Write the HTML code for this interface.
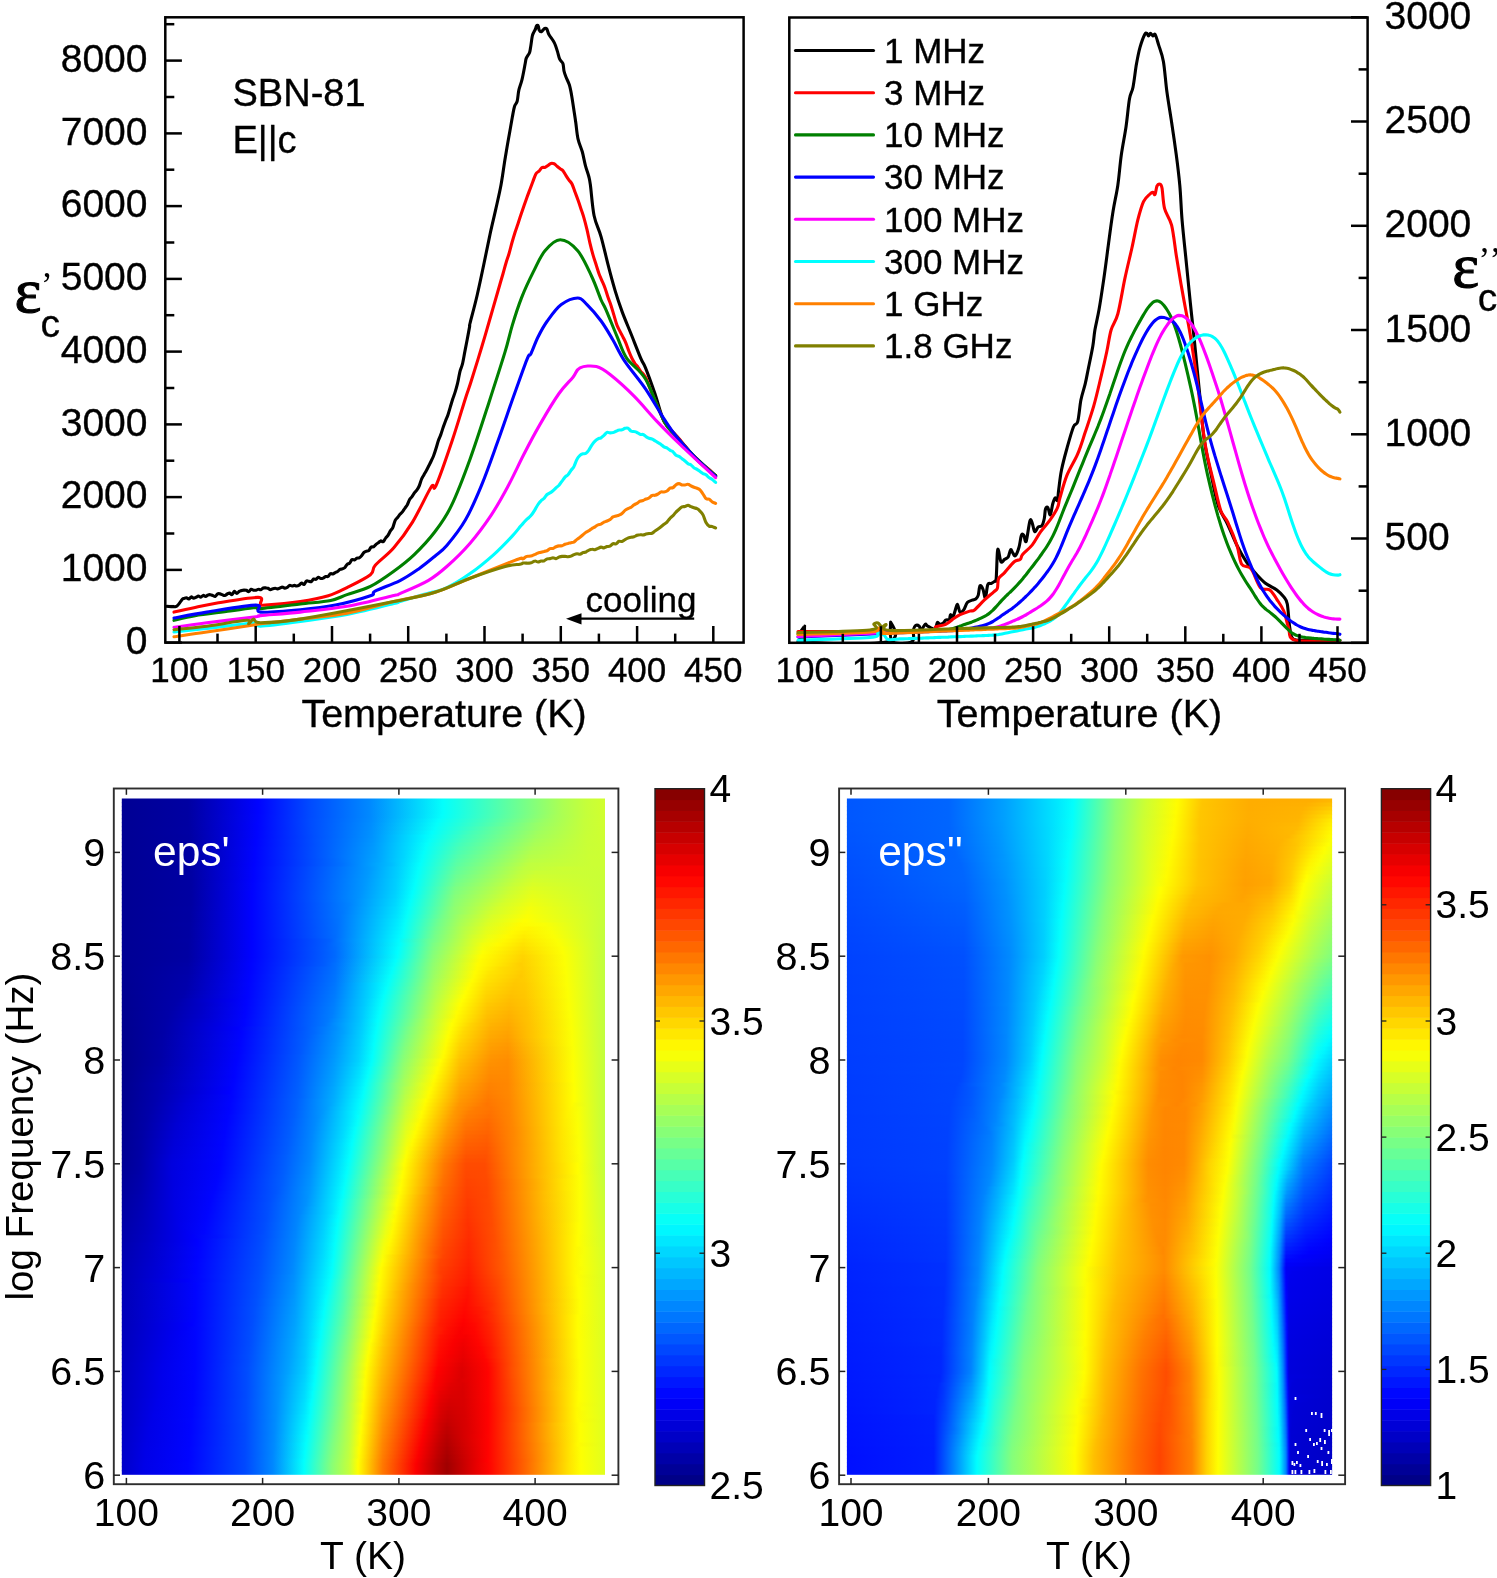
<!DOCTYPE html>
<html><head><meta charset="utf-8"><style>
html,body{margin:0;padding:0;background:#fff;}
svg{display:block;font-family:"Liberation Sans", sans-serif;will-change:transform;}
</style></head><body>
<svg width="1497" height="1578" viewBox="0 0 1497 1578">
<defs>
<clipPath id="clipL"><rect x="165.3" y="17.3" width="578.3" height="625.3"/></clipPath>
<clipPath id="clipR"><rect x="789.3" y="17.5" width="578.3" height="625.3"/></clipPath>
</defs>
<g clip-path="url(#clipL)"><path d="M167.0,606.3C168.6,606.3 173.9,607.5 176.4,606.3C178.9,605.1 180.9,600.6 182.2,599.3C183.5,598.0 183.3,598.8 184.0,598.5C184.7,598.3 185.6,597.6 186.4,597.7C187.2,597.8 188.0,599.2 188.8,599.0C189.6,598.9 190.4,597.1 191.2,596.9C192.0,596.8 192.8,598.1 193.6,598.1C194.4,598.2 195.2,597.6 196.0,597.3C196.8,597.0 197.6,596.1 198.4,596.0C199.2,596.0 200.0,597.3 200.8,597.2C201.6,597.1 202.4,595.6 203.2,595.4C204.0,595.3 204.8,596.5 205.6,596.4C206.4,596.3 207.2,595.2 208.0,595.0C208.8,594.7 209.6,594.6 210.4,594.7C211.2,594.8 212.0,595.2 212.8,595.5C213.6,595.7 214.4,596.7 215.2,596.4C216.0,596.2 216.8,594.3 217.6,593.9C218.4,593.4 219.2,593.7 220.0,593.9C220.8,594.0 221.6,594.6 222.4,594.8C223.2,595.1 224.0,595.7 224.8,595.5C225.6,595.4 226.4,594.4 227.2,594.0C228.0,593.6 228.8,593.0 229.6,593.1C230.4,593.2 231.2,594.9 232.0,594.6C232.8,594.3 233.6,591.5 234.4,591.3C235.2,591.1 236.0,593.5 236.8,593.5C237.6,593.6 238.4,591.9 239.2,591.4C240.0,590.9 240.8,590.8 241.6,590.5C242.4,590.3 243.2,590.1 244.0,590.1C244.8,590.1 245.6,590.1 246.4,590.3C247.2,590.6 248.0,591.8 248.8,591.6C249.6,591.4 250.4,589.5 251.2,589.2C252.0,589.0 252.8,590.0 253.6,590.2C254.4,590.3 255.2,590.4 256.0,590.2C256.8,590.1 257.6,589.3 258.4,589.3C259.2,589.2 260.0,589.9 260.8,589.7C261.6,589.5 262.4,588.3 263.2,588.0C264.0,587.7 264.8,587.9 265.6,587.9C266.4,588.0 267.2,588.0 268.0,588.3C268.8,588.6 269.6,589.6 270.4,589.7C271.2,589.8 272.0,589.0 272.8,588.8C273.6,588.5 274.4,588.3 275.2,588.3C276.0,588.3 276.8,589.0 277.6,588.9C278.4,588.9 279.2,588.3 280.0,588.0C280.8,587.7 281.6,587.0 282.4,587.1C283.2,587.1 284.0,588.1 284.8,588.2C285.6,588.2 286.4,587.8 287.2,587.4C288.0,586.9 288.8,585.7 289.6,585.4C290.4,585.2 291.2,586.0 292.0,586.0C292.8,586.0 293.6,585.4 294.4,585.4C295.2,585.4 296.0,586.1 296.8,586.0C297.6,586.0 298.4,585.6 299.2,585.1C300.0,584.6 300.8,583.1 301.6,583.0C302.4,582.9 303.2,584.9 304.0,584.5C304.8,584.2 305.6,581.6 306.4,581.1C307.2,580.5 308.0,581.2 308.8,581.3C309.6,581.4 310.4,582.0 311.2,581.7C312.0,581.3 312.8,579.4 313.6,579.0C314.4,578.6 315.2,579.7 316.0,579.4C316.8,579.1 317.6,577.4 318.4,577.2C319.2,577.1 320.0,578.4 320.8,578.5C321.6,578.7 322.4,578.4 323.2,578.1C324.0,577.8 324.8,576.8 325.6,576.5C326.4,576.3 327.2,577.0 328.0,576.5C328.8,576.0 329.6,574.1 330.4,573.7C331.2,573.2 332.0,574.1 332.8,573.9C333.6,573.7 334.4,573.0 335.2,572.6C336.0,572.2 336.8,572.0 337.6,571.5C338.4,571.0 339.2,569.8 340.0,569.4C340.8,569.0 341.6,569.2 342.4,568.9C343.2,568.6 344.0,568.3 344.8,567.6C345.6,566.8 346.4,565.1 347.2,564.3C348.0,563.6 348.8,564.0 349.6,563.2C350.4,562.4 351.2,560.1 352.0,559.6C352.8,559.0 353.6,560.2 354.4,560.0C355.2,559.7 356.0,558.6 356.8,558.2C357.6,557.9 358.4,558.2 359.2,557.8C360.0,557.4 360.8,556.6 361.6,555.7C362.4,554.8 363.2,553.2 364.0,552.4C364.8,551.7 365.6,551.5 366.4,551.2C367.2,550.9 368.0,551.3 368.8,550.6C369.6,549.9 370.4,547.6 371.2,547.0C372.0,546.3 372.8,547.3 373.6,546.8C374.4,546.4 375.2,545.0 376.0,544.4C376.8,543.7 377.6,543.2 378.4,542.7C379.2,542.1 380.0,541.1 380.8,540.9C381.6,540.8 382.4,542.1 383.2,541.7C384.0,541.2 384.8,539.1 385.6,538.1C386.4,537.0 387.2,536.5 388.0,535.3C388.8,534.1 389.6,532.2 390.4,530.9C391.2,529.6 392.0,529.4 392.8,527.6C393.6,525.8 394.4,522.0 395.2,520.3C396.0,518.6 396.8,518.5 397.6,517.5C398.4,516.5 399.2,515.3 400.0,514.3C400.8,513.4 401.6,513.0 402.4,511.9C403.2,510.9 404.0,509.4 404.8,508.3C405.6,507.1 406.4,506.4 407.2,505.0C408.0,503.5 408.8,501.0 409.6,499.6C410.4,498.2 411.2,497.7 412.0,496.6C412.8,495.5 413.6,493.9 414.4,492.8C415.2,491.7 416.0,491.3 416.8,490.1C417.6,489.0 418.4,487.8 419.2,486.0C420.0,484.1 420.8,480.9 421.6,479.0C422.4,477.2 423.2,476.2 424.0,474.7C424.8,473.3 425.6,472.0 426.4,470.5C427.2,469.1 428.0,467.4 428.8,465.8C429.6,464.2 430.4,462.7 431.2,461.0C432.0,459.4 432.8,457.9 433.6,455.8C434.4,453.7 435.2,451.1 436.0,448.5C436.8,446.0 437.6,442.8 438.4,440.5C439.2,438.2 440.0,436.8 440.8,434.6C441.6,432.4 442.4,429.6 443.2,427.3C444.0,425.0 444.8,422.8 445.6,420.7C446.4,418.6 447.2,417.1 448.0,414.7C448.8,412.4 449.6,409.3 450.4,406.6C451.2,404.0 452.0,401.3 452.8,398.8C453.6,396.4 454.4,394.5 455.2,391.9C456.0,389.3 456.8,386.6 457.6,383.2C458.4,379.8 459.2,374.5 460.0,371.3C460.8,368.2 461.6,367.4 462.4,364.2C463.2,360.9 464.0,356.0 464.8,351.9C465.6,347.8 466.4,343.7 467.2,339.5C468.0,335.3 469.1,329.4 469.6,326.6C470.1,323.8 468.8,328.3 470.1,323.0C471.4,317.7 474.9,305.1 477.2,295.0C479.5,284.9 482.1,272.6 484.2,262.5C486.3,252.4 488.1,243.5 490.0,234.5C491.9,225.5 494.1,216.9 495.9,208.7C497.7,200.4 499.5,193.1 501.0,185.0C502.5,176.9 503.6,168.1 504.8,160.4C506.1,152.7 507.2,146.0 508.5,138.8C509.8,131.6 511.3,122.7 512.3,117.3C513.3,111.9 513.7,109.2 514.5,106.5C515.3,103.8 516.5,103.9 517.2,101.2C517.9,98.5 518.0,94.0 518.8,90.4C519.6,86.8 520.9,84.1 522.0,79.6C523.1,75.1 524.5,67.1 525.2,63.5C525.9,59.9 525.6,59.9 526.3,58.1C527.0,56.3 528.8,54.5 529.5,52.7C530.2,50.9 530.1,50.0 530.6,47.3C531.1,44.6 531.7,39.0 532.2,36.5C532.7,34.0 533.2,33.5 533.8,32.2C534.3,31.0 535.0,30.1 535.5,29.0C536.0,27.9 536.0,26.3 536.5,25.8C537.0,25.3 537.8,25.1 538.2,25.8C538.7,26.5 538.7,29.1 539.2,30.1C539.7,31.1 540.5,32.0 541.4,31.7C542.3,31.4 543.7,28.9 544.6,28.5C545.5,28.1 546.1,28.0 546.8,29.0C547.5,30.0 547.8,32.4 548.9,34.4C550.0,36.4 552.1,39.0 553.2,40.8C554.3,42.6 554.7,43.4 555.4,45.2C556.1,47.0 556.8,49.3 557.5,51.6C558.2,53.9 558.8,57.2 559.7,59.2C560.6,61.2 562.2,61.5 562.9,63.5C563.6,65.5 563.5,68.7 564.0,71.0C564.5,73.3 565.3,75.2 566.2,77.5C567.1,79.8 568.5,82.1 569.4,85.0C570.3,87.9 570.8,90.8 571.5,94.7C572.2,98.7 573.0,104.0 573.7,108.7C574.4,113.4 575.1,117.7 575.8,122.7C576.5,127.7 576.9,134.0 578.0,138.8C579.1,143.7 581.0,147.3 582.3,151.8C583.5,156.3 584.4,161.7 585.5,165.8C586.6,169.9 588.0,173.3 588.8,176.5C589.6,179.7 589.5,178.5 590.4,185.0C591.3,191.5 592.3,207.1 594.1,215.7C595.9,224.3 598.8,228.6 601.1,236.8C603.4,245.0 605.8,255.9 608.1,264.9C610.4,273.9 612.8,282.8 615.1,290.6C617.4,298.4 619.4,304.2 622.1,311.6C624.8,319.0 628.4,327.2 631.5,335.0C634.6,342.8 638.5,352.9 640.8,358.4C643.1,363.9 643.1,361.9 645.5,367.8C647.9,373.7 651.8,384.5 654.9,393.5C658.0,402.5 660.7,414.6 664.2,421.6C667.7,428.6 670.8,429.8 675.9,435.6C681.0,441.4 688.0,450.0 694.6,456.6C701.2,463.2 712.1,472.3 715.6,475.4" fill="none" stroke="#000000" stroke-width="3.1" stroke-linejoin="round" stroke-linecap="round"/><path d="M174.0,612.1C177.5,611.3 187.7,609.0 195.1,607.5C202.5,606.0 208.0,604.5 218.5,602.8C229.0,601.1 251.2,597.2 258.2,597.4C265.2,597.6 259.3,602.7 260.5,604.0C261.7,605.3 258.6,605.5 265.2,605.1C271.8,604.7 289.8,603.2 300.3,601.6C310.8,600.0 320.5,598.1 328.3,595.8C336.1,593.5 340.0,591.1 347.0,587.6C354.0,584.1 365.7,578.4 370.4,574.7C375.1,571.0 371.2,569.9 375.1,565.4C379.0,560.9 387.6,555.0 393.8,547.8C400.0,540.6 406.3,532.2 412.5,522.1C418.7,512.0 427.3,493.0 431.2,487.0C435.1,481.0 432.4,493.7 435.9,485.9C439.4,478.1 447.4,454.9 452.3,440.3C457.2,425.7 462.4,407.9 465.5,398.2C468.6,388.4 468.3,390.4 471.0,381.8C473.7,373.2 478.3,358.5 481.8,346.8C485.3,335.1 489.0,322.2 492.0,311.7C495.0,301.2 498.2,290.3 500.0,284.0C501.8,277.6 502.0,277.2 503.0,273.7C504.0,270.2 505.0,266.3 506.0,263.0C507.0,259.6 508.0,257.1 509.0,253.7C510.0,250.3 511.0,246.1 512.0,242.5C513.0,239.0 514.0,235.7 515.0,232.5C516.0,229.4 517.0,226.7 518.0,223.7C519.0,220.7 520.0,217.5 521.0,214.6C522.0,211.6 523.0,208.7 524.0,205.8C525.0,203.0 526.0,200.1 527.0,197.3C528.0,194.5 529.0,191.9 530.0,189.2C531.0,186.5 532.0,183.8 533.0,181.2C534.0,178.6 535.0,175.4 536.0,173.7C537.0,172.0 538.0,172.2 539.0,171.2C540.0,170.1 541.0,168.2 542.0,167.5C543.0,166.9 544.0,167.7 545.0,167.4C546.0,167.0 547.0,166.1 548.0,165.4C549.0,164.7 550.0,163.7 551.0,163.4C552.0,163.1 553.0,163.3 554.0,163.7C555.0,164.2 556.0,165.3 557.0,166.2C558.0,167.0 559.0,167.9 560.0,168.6C561.0,169.4 562.0,169.5 563.0,170.7C564.0,171.9 565.0,174.1 566.0,175.6C567.0,177.2 568.0,178.7 569.0,180.1C570.0,181.5 571.0,182.0 572.0,184.0C573.0,185.9 574.0,189.3 575.0,192.0C576.0,194.7 577.0,197.2 578.0,200.1C579.0,202.9 580.0,205.9 581.0,208.9C582.0,211.9 583.0,214.6 584.0,218.1C585.0,221.5 586.0,225.5 587.0,229.7C588.0,233.9 589.0,239.2 590.0,243.4C591.0,247.6 592.0,251.5 593.0,254.9C594.0,258.4 595.0,261.1 596.0,264.3C597.0,267.4 598.0,271.0 599.0,273.7C600.0,276.5 601.0,278.4 602.0,280.8C603.0,283.1 604.0,285.1 605.0,287.9C606.0,290.6 607.0,294.4 608.0,297.3C609.0,300.2 610.0,302.4 611.0,305.4C612.0,308.5 613.0,312.1 614.0,315.4C615.0,318.7 616.0,322.6 617.0,325.3C618.0,327.9 619.0,329.4 620.0,331.4C621.0,333.4 622.0,335.1 623.0,337.1C624.0,339.1 625.0,340.9 626.0,343.3C627.0,345.7 628.0,348.9 629.0,351.5C630.0,354.0 631.0,356.5 632.0,358.5C633.0,360.5 634.0,362.1 635.0,363.6C636.0,365.0 637.0,365.8 638.0,367.2C639.0,368.5 640.0,370.4 641.0,371.7C642.0,372.9 643.0,373.4 644.0,374.9C645.0,376.3 646.0,378.0 647.0,380.3C648.0,382.5 649.0,385.8 650.0,388.4C651.0,391.0 652.0,393.5 653.0,395.9C654.0,398.3 655.0,400.4 656.0,402.8C657.0,405.1 658.0,407.4 659.0,409.8C660.0,412.2 661.0,414.7 662.0,416.9C663.0,419.2 664.0,421.5 665.0,423.0C666.0,424.5 667.0,424.6 668.0,425.8C669.0,426.9 670.0,428.7 671.0,430.0C672.0,431.3 673.0,432.3 674.0,433.4C675.0,434.5 676.0,435.3 677.0,436.4C678.0,437.4 679.0,438.6 680.0,439.8C681.0,441.0 682.0,442.4 683.0,443.6C684.0,444.8 685.0,445.7 686.0,446.9C687.0,448.2 688.0,449.7 689.0,451.1C690.0,452.4 691.0,453.9 692.0,454.9C693.0,455.9 694.0,456.3 695.0,457.3C696.0,458.3 697.0,459.8 698.0,460.9C699.0,461.9 700.0,462.8 701.0,463.7C702.0,464.6 703.0,465.6 704.0,466.3C705.0,467.0 706.0,467.3 707.0,468.0C708.0,468.7 708.6,469.1 710.0,470.4C711.4,471.8 714.7,475.1 715.6,476.0" fill="none" stroke="#ff0000" stroke-width="3.1" stroke-linejoin="round" stroke-linecap="round"/><path d="M174.0,620.3C177.5,619.5 185.8,617.1 195.1,615.6C204.4,614.1 220.0,612.4 230.1,611.0C240.2,609.6 250.8,607.9 255.9,607.5C261.0,607.1 253.1,609.2 260.5,608.6C267.9,608.0 288.6,605.4 300.3,604.0C312.0,602.6 322.9,602.0 330.7,600.4C338.5,598.8 340.4,596.9 347.0,594.6C353.6,592.3 362.6,590.3 370.4,586.4C378.2,582.5 386.5,576.5 393.8,571.2C401.1,565.9 407.1,561.4 414.0,554.8C420.9,548.2 428.9,539.7 435.1,531.5C441.3,523.3 445.6,517.8 451.4,505.7C457.2,493.6 463.9,476.1 470.1,459.0C476.3,441.9 483.0,420.8 488.8,402.9C494.6,385.0 501.3,364.3 505.2,351.4C509.1,338.5 509.5,334.6 512.2,325.6C514.9,316.6 518.1,306.6 521.6,297.6C525.1,288.7 529.4,279.7 533.3,271.9C537.2,264.1 540.5,256.1 545.0,250.8C549.5,245.5 554.8,239.8 560.2,239.8C565.7,239.8 572.5,244.7 577.7,250.8C583.0,256.9 587.8,268.3 591.7,276.5C595.6,284.7 598.8,294.5 601.1,300.0C603.5,305.5 603.1,303.1 605.8,309.3C608.5,315.5 613.9,329.1 617.4,337.3C620.9,345.5 622.1,351.4 626.8,358.4C631.5,365.3 639.3,368.5 645.5,379.0C651.7,389.5 659.1,412.1 664.2,421.6C669.3,431.1 670.8,430.1 675.9,436.0C681.0,441.9 688.0,450.3 694.6,457.0C701.2,463.7 712.1,472.8 715.6,476.0" fill="none" stroke="#008000" stroke-width="3.1" stroke-linejoin="round" stroke-linecap="round"/><path d="M174.0,618.0C179.5,617.0 193.2,614.2 206.8,612.1C220.5,610.0 247.0,605.1 255.9,605.1C264.9,605.1 253.1,611.3 260.5,612.1C267.9,612.9 287.8,611.0 300.3,609.8C312.8,608.6 323.7,607.4 335.4,605.1C347.1,602.8 363.8,598.1 370.4,595.8C377.0,593.5 370.2,593.6 375.1,591.1C380.0,588.6 392.7,584.3 400.0,580.6C407.3,576.9 412.8,573.0 418.7,568.9C424.6,564.8 430.4,559.9 435.1,556.0C439.8,552.1 441.7,551.5 446.8,545.5C451.9,539.5 459.7,529.9 465.5,519.8C471.3,509.7 476.4,497.9 481.8,484.7C487.2,471.4 492.7,455.5 498.2,440.3C503.7,425.1 509.7,407.1 514.6,393.5C519.5,379.9 524.7,365.0 527.4,358.4C530.1,351.8 529.1,357.3 530.9,353.8C532.6,350.3 535.2,342.8 537.9,337.3C540.6,331.8 543.4,326.4 547.3,321.0C551.2,315.6 556.2,308.4 561.3,304.6C566.4,300.8 573.4,298.0 577.7,298.0C582.0,298.0 583.1,300.8 587.0,304.6C590.9,308.4 596.8,315.1 601.1,321.0C605.4,326.9 608.9,333.1 612.8,339.7C616.7,346.3 619.0,352.6 624.5,360.8C630.0,369.0 638.9,379.1 645.5,388.8C652.1,398.5 659.1,411.3 664.2,419.2C669.3,427.1 670.8,429.7 675.9,436.0C681.0,442.3 688.0,450.2 694.6,457.0C701.2,463.8 712.1,473.2 715.6,476.5" fill="none" stroke="#0000ff" stroke-width="3.1" stroke-linejoin="round" stroke-linecap="round"/><path d="M174.0,627.3C179.5,626.5 193.2,624.5 206.8,622.7C220.5,621.0 247.0,618.0 255.9,616.8C264.9,615.6 253.1,616.4 260.5,615.6C267.9,614.8 285.9,613.7 300.3,612.1C314.7,610.5 331.4,609.1 347.0,606.3C362.6,603.5 385.0,597.6 393.8,595.5C402.6,593.4 394.3,596.1 400.0,593.6C405.7,591.1 420.3,585.1 428.1,580.6C435.9,576.1 439.8,572.7 446.8,566.5C453.8,560.3 462.7,551.8 470.1,543.2C477.5,534.6 484.9,524.5 491.2,515.1C497.4,505.7 502.2,497.1 507.6,487.0C513.1,476.9 518.5,464.8 523.9,454.3C529.3,443.8 534.4,434.0 540.3,423.9C546.1,413.8 553.5,401.3 559.0,393.5C564.5,385.7 569.5,381.5 573.0,377.2C576.5,372.9 576.1,369.6 580.0,367.8C583.9,366.0 591.3,365.4 596.4,366.6C601.5,367.8 604.2,369.9 610.4,374.8C616.6,379.7 626.0,388.1 633.8,395.9C641.6,403.7 649.4,413.4 657.2,421.6C665.0,429.8 670.9,435.6 680.6,445.0C690.3,454.4 709.8,472.2 715.6,477.7" fill="none" stroke="#ff00ff" stroke-width="3.1" stroke-linejoin="round" stroke-linecap="round"/><path d="M174.0,632.0C179.5,631.4 193.2,630.0 206.8,628.5C220.5,627.0 247.0,623.1 255.9,622.7C264.9,622.3 253.1,626.4 260.5,626.2C267.9,626.0 285.9,623.5 300.3,621.5C314.7,619.5 331.4,617.5 347.0,614.5C362.6,611.5 385.0,605.7 393.8,603.5C402.6,601.3 395.1,603.0 400.0,601.5C404.9,600.0 415.6,596.9 423.4,594.6C431.2,592.3 439.0,591.1 446.8,587.6C454.6,584.1 462.3,579.1 470.1,573.6C477.9,568.1 486.5,561.0 493.5,554.8C500.5,548.5 507.8,540.8 512.2,536.1C516.6,531.4 518.2,529.0 520.0,526.8C521.8,524.7 522.0,524.6 523.0,523.4C524.0,522.3 525.0,521.1 526.0,520.1C527.0,519.1 528.0,518.4 529.0,517.5C530.0,516.5 531.0,515.5 532.0,514.2C533.0,512.9 534.0,511.2 535.0,509.6C536.0,508.0 537.0,506.0 538.0,504.5C539.0,503.0 540.0,501.8 541.0,500.8C542.0,499.7 543.0,499.4 544.0,498.4C545.0,497.3 546.0,495.4 547.0,494.5C548.0,493.6 549.0,493.5 550.0,492.9C551.0,492.3 552.0,491.5 553.0,490.7C554.0,489.9 555.0,488.8 556.0,487.8C557.0,486.9 558.0,486.3 559.0,485.2C560.0,484.0 561.0,482.5 562.0,481.1C563.0,479.8 564.0,478.2 565.0,477.1C566.0,476.0 567.0,475.8 568.0,474.7C569.0,473.6 570.0,471.7 571.0,470.3C572.0,469.0 573.0,468.2 574.0,466.4C575.0,464.5 576.0,461.0 577.0,459.2C578.0,457.3 579.0,456.2 580.0,455.3C581.0,454.4 582.0,454.1 583.0,453.8C584.0,453.5 585.0,454.0 586.0,453.3C587.0,452.6 588.0,451.2 589.0,449.8C590.0,448.3 591.0,446.2 592.0,444.8C593.0,443.4 594.0,442.2 595.0,441.2C596.0,440.2 597.0,439.4 598.0,438.9C599.0,438.3 600.0,438.4 601.0,437.8C602.0,437.2 603.0,436.2 604.0,435.3C605.0,434.4 606.0,432.8 607.0,432.4C608.0,432.0 609.0,432.9 610.0,432.9C611.0,433.0 612.0,432.8 613.0,432.6C614.0,432.3 615.0,431.7 616.0,431.3C617.0,430.9 618.0,430.3 619.0,430.1C620.0,429.8 621.0,430.1 622.0,429.8C623.0,429.5 624.0,428.6 625.0,428.3C626.0,428.1 627.0,427.7 628.0,428.2C629.0,428.6 630.0,430.5 631.0,431.0C632.0,431.6 633.0,431.3 634.0,431.6C635.0,431.8 636.0,432.0 637.0,432.5C638.0,432.9 639.0,434.0 640.0,434.3C641.0,434.7 642.0,434.2 643.0,434.5C644.0,434.9 645.0,435.9 646.0,436.6C647.0,437.2 648.0,437.9 649.0,438.3C650.0,438.7 651.0,438.5 652.0,439.0C653.0,439.4 654.0,440.2 655.0,440.8C656.0,441.5 657.0,442.1 658.0,442.7C659.0,443.3 660.0,443.7 661.0,444.4C662.0,445.1 663.0,446.2 664.0,446.8C665.0,447.4 666.0,447.5 667.0,448.0C668.0,448.6 669.0,449.6 670.0,450.2C671.0,450.9 672.0,451.0 673.0,451.8C674.0,452.7 675.0,454.5 676.0,455.3C677.0,456.1 678.0,455.9 679.0,456.4C680.0,457.0 681.0,457.9 682.0,458.7C683.0,459.5 684.0,460.2 685.0,461.0C686.0,461.9 687.0,463.1 688.0,463.7C689.0,464.4 690.0,464.2 691.0,464.9C692.0,465.7 693.0,467.2 694.0,467.9C695.0,468.7 696.0,468.7 697.0,469.3C698.0,469.9 699.0,470.8 700.0,471.5C701.0,472.2 702.0,473.0 703.0,473.6C704.0,474.1 705.0,474.1 706.0,474.8C707.0,475.5 708.0,476.9 709.0,477.6C710.0,478.4 710.9,478.5 712.0,479.3C713.1,480.1 715.0,481.9 715.6,482.4" fill="none" stroke="#00ffff" stroke-width="3.1" stroke-linejoin="round" stroke-linecap="round"/><path d="M174.0,636.7C179.5,635.9 193.6,634.0 206.8,632.0C220.1,630.0 244.6,626.4 253.5,625.0C262.4,623.6 252.7,624.8 260.5,623.8C268.3,622.8 285.9,620.9 300.3,619.1C314.7,617.4 331.4,616.2 347.0,613.3C362.6,610.4 379.1,605.1 393.8,601.6C408.5,598.1 422.4,596.2 435.1,592.3C447.8,588.4 458.4,582.9 470.1,578.2C481.8,573.5 496.9,567.5 505.2,564.2C513.5,560.9 517.0,559.3 520.0,558.4C523.0,557.5 522.0,559.1 523.0,558.8C524.0,558.5 525.0,557.1 526.0,556.7C527.0,556.2 528.0,556.4 529.0,556.2C530.0,556.1 531.0,556.0 532.0,555.7C533.0,555.4 534.0,554.8 535.0,554.4C536.0,553.9 537.0,553.3 538.0,553.0C539.0,552.6 540.0,552.6 541.0,552.3C542.0,552.0 543.0,551.6 544.0,551.4C545.0,551.1 546.0,551.2 547.0,550.8C548.0,550.3 549.0,549.0 550.0,548.6C551.0,548.2 552.0,548.7 553.0,548.4C554.0,548.1 555.0,547.2 556.0,546.8C557.0,546.4 558.0,546.0 559.0,545.9C560.0,545.7 561.0,546.0 562.0,545.8C563.0,545.5 564.0,544.7 565.0,544.3C566.0,543.9 567.0,543.6 568.0,543.4C569.0,543.1 570.0,543.0 571.0,542.7C572.0,542.5 573.0,542.6 574.0,542.0C575.0,541.5 576.0,540.2 577.0,539.4C578.0,538.6 579.0,538.1 580.0,537.3C581.0,536.5 582.0,535.5 583.0,534.7C584.0,533.9 585.0,533.0 586.0,532.3C587.0,531.6 588.0,531.3 589.0,530.7C590.0,530.0 591.0,529.1 592.0,528.4C593.0,527.8 594.0,527.4 595.0,526.8C596.0,526.2 597.0,525.3 598.0,524.9C599.0,524.4 600.0,524.6 601.0,524.1C602.0,523.7 603.0,522.7 604.0,522.2C605.0,521.7 606.0,521.5 607.0,521.0C608.0,520.6 609.0,520.3 610.0,519.6C611.0,519.0 612.0,517.5 613.0,516.9C614.0,516.3 615.0,516.3 616.0,516.0C617.0,515.7 618.0,515.6 619.0,515.1C620.0,514.7 621.0,514.3 622.0,513.5C623.0,512.7 624.0,511.2 625.0,510.4C626.0,509.6 627.0,509.1 628.0,508.6C629.0,508.1 630.0,508.0 631.0,507.3C632.0,506.7 633.0,505.5 634.0,504.9C635.0,504.2 636.0,504.0 637.0,503.4C638.0,502.8 639.0,501.7 640.0,501.2C641.0,500.8 642.0,500.9 643.0,500.5C644.0,500.1 645.0,499.4 646.0,499.0C647.0,498.6 648.0,498.6 649.0,498.0C650.0,497.4 651.0,495.9 652.0,495.5C653.0,495.0 654.0,495.5 655.0,495.3C656.0,495.0 657.0,494.5 658.0,494.0C659.0,493.4 660.0,492.2 661.0,491.9C662.0,491.5 663.0,492.2 664.0,492.0C665.0,491.9 666.0,491.6 667.0,491.0C668.0,490.4 669.0,488.8 670.0,488.2C671.0,487.6 672.0,488.2 673.0,487.6C674.0,487.0 675.0,485.4 676.0,484.7C677.0,484.0 678.0,483.6 679.0,483.6C680.0,483.6 681.0,484.6 682.0,484.9C683.0,485.1 684.0,485.1 685.0,485.0C686.0,484.9 687.0,484.1 688.0,484.3C689.0,484.4 690.0,485.4 691.0,485.9C692.0,486.5 693.0,486.9 694.0,487.3C695.0,487.7 696.0,487.8 697.0,488.2C698.0,488.6 699.0,488.8 700.0,489.8C701.0,490.7 702.0,492.5 703.0,494.0C704.0,495.5 705.0,497.8 706.0,498.7C707.0,499.6 708.0,498.7 709.0,499.2C710.0,499.7 710.9,501.0 712.0,501.7C713.1,502.4 715.0,503.1 715.6,503.4" fill="none" stroke="#ff8000" stroke-width="3.1" stroke-linejoin="round" stroke-linecap="round"/><path d="M174.0,629.7C179.5,629.1 194.7,627.8 206.8,626.2C218.9,624.6 239.5,620.7 246.5,620.3C253.5,619.9 247.6,624.0 248.8,623.8C250.0,623.6 251.6,619.3 253.5,619.1C255.4,618.9 252.7,622.7 260.5,622.7C268.3,622.7 278.1,622.6 300.3,619.1C322.5,615.6 371.3,606.1 393.8,601.6C416.3,597.1 422.4,596.2 435.1,592.3C447.8,588.4 458.4,582.5 470.1,578.2C481.8,573.9 496.9,568.8 505.2,566.5C513.5,564.2 517.0,564.8 520.0,564.2C523.0,563.6 522.0,563.2 523.0,563.0C524.0,562.8 525.0,563.1 526.0,563.1C527.0,563.1 528.0,563.3 529.0,563.1C530.0,563.0 531.0,562.7 532.0,562.4C533.0,562.0 534.0,561.0 535.0,561.0C536.0,560.9 537.0,562.0 538.0,562.0C539.0,562.0 540.0,561.3 541.0,561.1C542.0,560.9 543.0,561.3 544.0,560.9C545.0,560.6 546.0,559.2 547.0,558.9C548.0,558.5 549.0,558.8 550.0,558.6C551.0,558.5 552.0,557.8 553.0,557.7C554.0,557.7 555.0,558.7 556.0,558.6C557.0,558.5 558.0,557.5 559.0,557.1C560.0,556.8 561.0,556.5 562.0,556.4C563.0,556.3 564.0,556.3 565.0,556.4C566.0,556.5 567.0,556.8 568.0,556.8C569.0,556.7 570.0,556.5 571.0,556.1C572.0,555.7 573.0,555.0 574.0,554.6C575.0,554.2 576.0,553.8 577.0,553.7C578.0,553.6 579.0,554.3 580.0,554.2C581.0,554.0 582.0,553.0 583.0,552.6C584.0,552.3 585.0,552.4 586.0,552.0C587.0,551.5 588.0,550.5 589.0,550.1C590.0,549.6 591.0,549.3 592.0,549.3C593.0,549.2 594.0,549.8 595.0,549.7C596.0,549.5 597.0,548.9 598.0,548.4C599.0,548.0 600.0,547.2 601.0,547.1C602.0,547.0 603.0,548.0 604.0,547.9C605.0,547.8 606.0,546.9 607.0,546.6C608.0,546.3 609.0,546.6 610.0,546.1C611.0,545.7 612.0,544.1 613.0,543.7C614.0,543.3 615.0,544.3 616.0,543.9C617.0,543.5 618.0,541.7 619.0,541.3C620.0,540.9 621.0,541.8 622.0,541.5C623.0,541.2 624.0,540.1 625.0,539.6C626.0,539.0 627.0,538.5 628.0,538.1C629.0,537.8 630.0,537.5 631.0,537.3C632.0,537.1 633.0,537.2 634.0,536.8C635.0,536.5 636.0,535.7 637.0,535.3C638.0,534.9 639.0,534.7 640.0,534.7C641.0,534.6 642.0,535.1 643.0,535.0C644.0,534.9 645.0,534.4 646.0,534.1C647.0,533.9 648.0,533.7 649.0,533.5C650.0,533.4 651.0,533.7 652.0,533.3C653.0,532.8 654.0,531.7 655.0,531.0C656.0,530.3 657.0,529.6 658.0,528.9C659.0,528.2 660.0,527.5 661.0,526.7C662.0,525.9 663.0,525.1 664.0,524.3C665.0,523.5 666.0,523.1 667.0,522.1C668.0,521.1 669.0,519.3 670.0,518.3C671.0,517.2 672.0,516.6 673.0,515.6C674.0,514.6 675.0,513.1 676.0,512.1C677.0,511.0 678.0,510.3 679.0,509.4C680.0,508.5 681.0,507.4 682.0,506.9C683.0,506.4 684.0,506.8 685.0,506.5C686.0,506.3 687.0,505.3 688.0,505.3C689.0,505.4 690.0,506.2 691.0,506.6C692.0,507.0 693.0,507.5 694.0,507.8C695.0,508.2 696.0,508.1 697.0,508.7C698.0,509.2 699.0,510.0 700.0,511.1C701.0,512.1 702.0,513.0 703.0,514.9C704.0,516.8 705.0,520.7 706.0,522.6C707.0,524.4 708.0,525.4 709.0,526.1C710.0,526.7 710.9,526.2 712.0,526.5C713.1,526.8 715.0,527.8 715.6,528.0" fill="none" stroke="#808000" stroke-width="3.1" stroke-linejoin="round" stroke-linecap="round"/></g><rect x="165.3" y="17.3" width="578.3" height="625.3" fill="none" stroke="#000" stroke-width="2.5"/><line x1="179.4" y1="642.6" x2="179.4" y2="626.0" stroke="#000" stroke-width="2.5"/><line x1="217.5" y1="642.6" x2="217.5" y2="633.6" stroke="#000" stroke-width="2.5"/><line x1="255.7" y1="642.6" x2="255.7" y2="626.0" stroke="#000" stroke-width="2.5"/><line x1="293.8" y1="642.6" x2="293.8" y2="633.6" stroke="#000" stroke-width="2.5"/><line x1="332.0" y1="642.6" x2="332.0" y2="626.0" stroke="#000" stroke-width="2.5"/><line x1="370.1" y1="642.6" x2="370.1" y2="633.6" stroke="#000" stroke-width="2.5"/><line x1="408.2" y1="642.6" x2="408.2" y2="626.0" stroke="#000" stroke-width="2.5"/><line x1="446.4" y1="642.6" x2="446.4" y2="633.6" stroke="#000" stroke-width="2.5"/><line x1="484.5" y1="642.6" x2="484.5" y2="626.0" stroke="#000" stroke-width="2.5"/><line x1="522.6" y1="642.6" x2="522.6" y2="633.6" stroke="#000" stroke-width="2.5"/><line x1="560.8" y1="642.6" x2="560.8" y2="626.0" stroke="#000" stroke-width="2.5"/><line x1="598.9" y1="642.6" x2="598.9" y2="633.6" stroke="#000" stroke-width="2.5"/><line x1="637.1" y1="642.6" x2="637.1" y2="626.0" stroke="#000" stroke-width="2.5"/><line x1="675.2" y1="642.6" x2="675.2" y2="633.6" stroke="#000" stroke-width="2.5"/><line x1="713.3" y1="642.6" x2="713.3" y2="626.0" stroke="#000" stroke-width="2.5"/><text x="179.4" y="682.2" font-size="35" text-anchor="middle" fill="#000" stroke="#000" stroke-width="0.35">100</text><text x="255.7" y="682.2" font-size="35" text-anchor="middle" fill="#000" stroke="#000" stroke-width="0.35">150</text><text x="332.0" y="682.2" font-size="35" text-anchor="middle" fill="#000" stroke="#000" stroke-width="0.35">200</text><text x="408.2" y="682.2" font-size="35" text-anchor="middle" fill="#000" stroke="#000" stroke-width="0.35">250</text><text x="484.5" y="682.2" font-size="35" text-anchor="middle" fill="#000" stroke="#000" stroke-width="0.35">300</text><text x="560.8" y="682.2" font-size="35" text-anchor="middle" fill="#000" stroke="#000" stroke-width="0.35">350</text><text x="637.1" y="682.2" font-size="35" text-anchor="middle" fill="#000" stroke="#000" stroke-width="0.35">400</text><text x="713.3" y="682.2" font-size="35" text-anchor="middle" fill="#000" stroke="#000" stroke-width="0.35">450</text><g clip-path="url(#clipR)"><path d="M798.0,641.5C798.9,641.5 802.4,644.1 803.5,641.5C804.6,638.9 804.2,626.0 804.6,626.0C805.0,626.0 791.7,638.9 805.8,641.5C819.9,644.1 874.9,644.8 889.0,641.5C903.1,638.2 890.1,622.0 890.6,622.0C891.1,622.0 888.6,638.2 892.2,641.5C895.8,644.8 908.5,643.4 912.0,641.5C915.5,639.6 912.6,633.0 913.2,630.3C913.8,627.6 914.6,626.2 915.6,625.5C916.6,624.8 918.3,625.3 919.2,626.1C920.1,626.9 920.0,630.6 921.0,630.3C922.0,630.0 924.1,625.0 925.2,624.3C926.3,623.6 926.1,625.3 927.7,626.1C929.3,626.9 933.3,629.7 934.9,629.1C936.5,628.5 936.5,623.3 937.3,622.5C938.1,621.7 938.7,624.2 939.7,624.3C940.7,624.4 942.3,623.8 943.3,623.1C944.3,622.4 944.7,620.7 945.7,620.1C946.7,619.5 948.5,620.4 949.3,619.5C950.1,618.6 949.9,615.1 950.5,614.7C951.1,614.3 951.9,618.5 952.9,617.1C953.9,615.7 955.7,608.2 956.5,606.2C957.3,604.2 957.1,604.0 957.7,605.0C958.3,606.0 959.1,611.4 960.1,612.2C961.1,613.0 962.5,611.5 963.7,609.9C964.9,608.3 965.9,604.2 967.3,602.6C968.7,601.0 970.7,600.8 972.1,600.2C973.5,599.6 974.7,599.8 975.7,599.0C976.7,598.2 977.5,597.6 978.2,595.4C978.9,593.2 979.2,586.8 980.0,585.8C980.8,584.8 982.1,587.4 983.0,589.4C983.9,591.4 984.6,598.6 985.4,597.8C986.2,597.0 986.8,587.0 987.8,584.6C988.8,582.2 990.2,584.0 991.4,583.4C992.6,582.8 994.2,581.8 995.0,581.0C995.8,580.2 995.8,583.4 996.2,578.6C996.6,573.8 997.0,556.7 997.4,552.1C997.8,547.5 998.0,549.3 998.6,550.9C999.2,552.5 1000.0,560.4 1001.0,561.8C1002.0,563.2 1003.4,560.2 1004.6,559.4C1005.8,558.6 1007.2,558.6 1008.2,557.0C1009.2,555.4 1009.8,550.3 1010.6,549.7C1011.4,549.1 1012.2,552.3 1013.0,553.3C1013.8,554.3 1014.4,556.7 1015.4,555.7C1016.4,554.7 1018.0,550.7 1019.0,547.3C1020.0,543.9 1020.6,537.3 1021.4,535.3C1022.2,533.3 1023.0,534.3 1023.8,535.3C1024.6,536.3 1025.2,543.7 1026.2,541.3C1027.2,538.9 1028.9,523.9 1029.9,520.9C1030.9,517.9 1031.5,521.5 1032.3,523.3C1033.1,525.1 1033.7,531.1 1034.7,531.7C1035.7,532.3 1037.1,527.9 1038.3,526.9C1039.5,525.9 1040.9,527.1 1041.9,525.7C1042.9,524.3 1043.7,521.3 1044.3,518.5C1044.9,515.7 1044.9,510.7 1045.5,508.9C1046.1,507.1 1047.1,506.7 1047.9,507.7C1048.7,508.7 1049.5,515.5 1050.3,514.9C1051.1,514.3 1051.9,506.8 1052.7,504.0C1053.5,501.2 1054.3,498.6 1055.1,498.0C1055.9,497.4 1056.9,501.8 1057.5,500.4C1058.1,499.0 1058.0,494.7 1058.7,489.6C1059.4,484.5 1060.1,476.9 1061.5,470.0C1062.9,463.1 1064.9,455.7 1066.9,448.5C1068.9,441.3 1071.6,431.5 1073.4,427.0C1075.2,422.5 1076.5,426.1 1077.7,421.6C1079.0,417.1 1079.7,406.3 1080.9,400.0C1082.2,393.7 1083.9,389.3 1085.2,383.9C1086.5,378.5 1087.2,374.0 1088.5,367.7C1089.8,361.4 1091.7,352.5 1092.8,346.2C1093.9,339.9 1093.9,336.1 1094.9,330.0C1096.0,323.9 1097.6,317.8 1099.1,309.3C1100.6,300.8 1102.2,289.8 1103.8,278.9C1105.4,268.0 1107.0,255.1 1108.5,243.8C1110.0,232.5 1111.5,220.8 1113.1,211.1C1114.6,201.4 1116.4,194.8 1117.8,185.4C1119.2,176.1 1119.9,164.8 1121.3,155.0C1122.7,145.2 1124.6,136.3 1126.0,126.9C1127.4,117.5 1128.3,105.4 1129.5,98.8C1130.7,92.2 1131.8,93.0 1133.0,87.2C1134.2,81.4 1135.3,70.4 1136.5,63.8C1137.7,57.2 1138.6,52.3 1140.0,47.4C1141.4,42.5 1143.5,36.8 1144.7,34.5C1145.9,32.2 1146.4,33.2 1147.0,33.5C1147.6,33.8 1147.9,36.0 1148.5,36.0C1149.1,36.0 1149.8,33.4 1150.5,33.4C1151.2,33.4 1152.2,35.8 1153.0,36.0C1153.8,36.2 1154.2,33.0 1155.2,34.5C1156.2,36.0 1157.3,40.6 1158.7,45.1C1160.1,49.6 1162.0,53.6 1163.4,61.4C1164.8,69.2 1165.5,81.7 1166.9,91.8C1168.3,101.9 1170.0,111.7 1171.6,122.2C1173.2,132.7 1174.9,144.5 1176.3,155.0C1177.7,165.5 1178.8,174.5 1179.8,185.4C1180.8,196.3 1181.1,208.7 1182.1,220.4C1183.1,232.1 1184.4,243.8 1185.6,255.5C1186.8,267.2 1188.1,280.9 1189.1,290.6C1190.1,300.4 1190.5,304.6 1191.5,314.0C1192.5,323.4 1193.7,333.6 1195.0,346.8C1196.3,360.1 1198.0,377.9 1199.6,393.5C1201.1,409.1 1202.3,426.7 1204.3,440.3C1206.2,453.9 1209.0,464.5 1211.3,475.4C1213.6,486.3 1215.6,497.5 1218.3,505.7C1221.0,513.9 1224.6,517.9 1227.7,524.5C1230.8,531.1 1233.9,539.3 1237.0,545.5C1240.1,551.7 1243.3,557.2 1246.4,561.9C1249.5,566.6 1252.7,570.1 1255.8,573.6C1258.9,577.1 1261.6,580.2 1265.1,582.9C1268.6,585.6 1273.7,587.6 1276.8,589.9C1279.9,592.2 1282.0,594.5 1283.8,596.9C1285.5,599.2 1286.3,598.9 1287.3,604.0C1288.3,609.1 1288.7,621.5 1289.7,627.3C1290.7,633.1 1290.3,636.9 1293.2,639.0C1296.1,641.1 1299.4,640.0 1307.2,640.2C1315.0,640.4 1334.5,640.2 1339.9,640.2" fill="none" stroke="#000000" stroke-width="3.1" stroke-linejoin="round" stroke-linecap="round"/><path d="M798.0,631.5C819.0,631.4 901.0,631.8 924.0,631.0C947.0,630.2 932.4,627.8 936.0,626.7C939.6,625.6 942.7,625.7 945.7,624.3C948.7,622.9 951.7,619.9 954.1,618.3C956.5,616.7 957.5,615.9 960.1,614.7C962.7,613.5 967.3,611.9 969.7,611.1C972.1,610.3 972.1,611.7 974.5,609.9C976.9,608.1 981.0,603.2 984.2,600.2C987.4,597.2 991.6,593.8 993.8,591.8C996.0,589.8 996.6,590.4 997.4,588.2C998.2,586.0 997.4,581.2 998.6,578.6C999.8,576.0 1002.0,575.4 1004.6,572.6C1007.2,569.8 1011.6,564.0 1014.2,561.8C1016.8,559.6 1018.8,560.6 1020.2,559.4C1021.6,558.2 1020.6,556.9 1022.6,554.5C1024.6,552.1 1029.3,548.7 1032.3,544.9C1035.3,541.1 1037.7,535.9 1040.7,531.7C1043.7,527.5 1047.5,523.7 1050.3,519.7C1053.1,515.7 1055.9,511.3 1057.5,507.7C1059.1,504.1 1058.3,503.4 1059.9,498.0C1061.5,492.6 1063.9,482.8 1066.9,475.4C1069.9,468.0 1074.7,461.1 1077.7,453.9C1080.8,446.7 1082.5,440.4 1085.2,432.3C1087.9,424.2 1091.2,414.9 1093.9,405.4C1096.6,395.9 1099.2,384.2 1101.4,375.2C1103.6,366.2 1105.2,359.0 1106.8,351.5C1108.4,344.0 1109.3,336.2 1111.1,330.0C1112.9,323.8 1115.5,322.5 1117.8,314.0C1120.1,305.5 1122.5,289.8 1124.8,278.9C1127.1,268.0 1129.6,258.2 1131.8,248.5C1134.0,238.8 1135.8,228.2 1137.7,220.4C1139.7,212.6 1141.5,206.1 1143.5,201.7C1145.5,197.3 1148.4,195.6 1150.0,194.0C1151.6,192.4 1152.1,192.3 1152.9,192.4C1153.7,192.5 1154.3,195.6 1155.0,194.5C1155.7,193.4 1156.2,187.7 1157.0,186.0C1157.8,184.3 1159.1,183.9 1159.9,184.2C1160.7,184.5 1161.2,183.9 1162.0,188.0C1162.8,192.1 1163.0,202.5 1164.6,208.7C1166.2,214.9 1169.6,217.3 1171.6,225.1C1173.5,232.9 1174.8,245.8 1176.3,255.5C1177.8,265.2 1179.4,274.6 1180.9,283.6C1182.5,292.6 1184.0,300.7 1185.6,309.3C1187.2,317.9 1188.3,323.0 1190.3,335.1C1192.2,347.2 1195.3,367.4 1197.3,381.8C1199.2,396.2 1200.5,409.9 1202.0,421.6C1203.5,433.3 1204.6,441.9 1206.6,452.0C1208.5,462.1 1211.3,472.7 1213.7,482.4C1216.1,492.1 1218.4,503.8 1220.7,510.4C1223.0,517.0 1225.0,516.2 1227.7,522.1C1230.4,528.0 1234.7,538.5 1237.0,545.5C1239.3,552.5 1239.4,560.3 1241.7,564.2C1244.0,568.1 1248.0,565.0 1251.1,568.9C1254.2,572.8 1257.3,584.1 1260.4,587.6C1263.5,591.1 1267.1,588.0 1269.8,589.9C1272.5,591.8 1274.5,595.8 1276.8,599.3C1279.1,602.8 1281.8,606.3 1283.8,611.0C1285.8,615.7 1286.5,622.4 1288.5,627.3C1290.5,632.2 1286.9,638.1 1295.5,640.2C1304.1,642.4 1332.5,640.2 1339.9,640.2" fill="none" stroke="#ff0000" stroke-width="3.1" stroke-linejoin="round" stroke-linecap="round"/><path d="M798.0,634.0C815.0,633.6 882.5,631.9 900.0,631.4C917.5,631.0 902.0,631.4 903.0,631.4C904.0,631.4 905.0,631.4 906.0,631.3C907.0,631.3 908.0,631.3 909.0,631.3C910.0,631.2 911.0,631.2 912.0,631.2C913.0,631.2 914.0,631.1 915.0,631.1C916.0,631.1 917.0,631.1 918.0,631.0C919.0,631.0 920.0,631.0 921.0,631.0C922.0,630.9 923.0,630.9 924.0,630.9C925.0,630.9 926.0,630.8 927.0,630.8C928.0,630.8 929.0,630.8 930.0,630.7C931.0,630.7 932.0,630.7 933.0,630.7C934.0,630.6 935.0,630.6 936.0,630.6C937.0,630.6 938.0,630.5 939.0,630.5C940.0,630.5 941.0,630.4 942.0,630.4C943.0,630.3 944.0,630.3 945.0,630.2C946.0,630.0 947.0,629.9 948.0,629.7C949.0,629.5 950.0,629.3 951.0,629.0C952.0,628.8 953.0,628.5 954.0,628.2C955.0,627.9 956.0,627.5 957.0,627.2C958.0,626.8 959.0,626.5 960.0,626.1C961.0,625.8 962.0,625.4 963.0,625.1C964.0,624.7 965.0,624.4 966.0,624.0C967.0,623.7 968.0,623.3 969.0,623.0C970.0,622.6 971.0,622.2 972.0,621.9C973.0,621.5 974.0,621.1 975.0,620.7C976.0,620.3 977.0,619.9 978.0,619.5C979.0,619.1 980.0,618.7 981.0,618.2C982.0,617.7 983.0,617.2 984.0,616.7C985.0,616.1 986.0,615.6 987.0,614.9C988.0,614.3 989.0,613.5 990.0,612.7C991.0,611.9 992.0,611.0 993.0,610.1C994.0,609.1 995.0,608.0 996.0,606.9C997.0,605.8 998.0,604.6 999.0,603.5C1000.0,602.3 1001.0,601.2 1002.0,600.1C1003.0,599.1 1004.0,598.1 1005.0,597.1C1006.0,596.1 1007.0,595.2 1008.0,594.2C1009.0,593.2 1010.0,592.3 1011.0,591.3C1012.0,590.3 1013.0,589.3 1014.0,588.3C1015.0,587.3 1016.0,586.3 1017.0,585.2C1018.0,584.1 1019.0,583.0 1020.0,581.9C1021.0,580.8 1022.0,579.6 1023.0,578.4C1024.0,577.2 1025.0,575.9 1026.0,574.7C1027.0,573.4 1028.0,572.1 1029.0,570.8C1030.0,569.5 1031.0,568.3 1032.0,567.0C1033.0,565.7 1034.0,564.4 1035.0,563.0C1036.0,561.7 1037.0,560.4 1038.0,559.1C1039.0,557.7 1040.0,556.4 1041.0,555.0C1042.0,553.6 1043.0,552.2 1044.0,550.7C1045.0,549.3 1046.0,547.8 1047.0,546.2C1048.0,544.6 1049.0,543.0 1050.0,541.2C1051.0,539.4 1052.0,537.6 1053.0,535.6C1054.0,533.6 1055.0,531.4 1056.0,529.1C1057.0,526.8 1058.0,524.3 1059.0,521.7C1060.0,519.2 1061.0,516.5 1062.0,514.0C1063.0,511.4 1064.0,508.9 1065.0,506.4C1066.0,503.9 1067.0,501.6 1068.0,499.2C1069.0,496.8 1070.0,494.4 1071.0,492.0C1072.0,489.6 1073.0,487.1 1074.0,484.7C1075.0,482.2 1076.0,479.7 1077.0,477.2C1078.0,474.7 1079.0,472.2 1080.0,469.7C1081.0,467.2 1082.0,464.7 1083.0,462.3C1084.0,459.8 1085.0,457.3 1086.0,454.9C1087.0,452.5 1088.0,450.1 1089.0,447.7C1090.0,445.3 1091.0,443.0 1092.0,440.6C1093.0,438.2 1094.0,435.9 1095.0,433.5C1096.0,431.1 1097.0,428.7 1098.0,426.3C1099.0,423.8 1100.0,421.2 1101.0,418.6C1102.0,416.0 1103.0,413.3 1104.0,410.5C1105.0,407.7 1106.0,404.9 1107.0,402.0C1108.0,399.2 1109.0,396.3 1110.0,393.4C1111.0,390.5 1112.0,387.5 1113.0,384.6C1114.0,381.6 1115.0,378.6 1116.0,375.7C1117.0,372.8 1118.0,369.8 1119.0,367.0C1120.0,364.1 1121.0,361.3 1122.0,358.7C1123.0,356.0 1124.0,353.4 1125.0,351.0C1126.0,348.6 1127.0,346.3 1128.0,344.1C1129.0,341.9 1130.0,339.9 1131.0,337.8C1132.0,335.8 1133.0,333.9 1134.0,331.9C1135.0,330.0 1136.0,328.2 1137.0,326.3C1138.0,324.5 1139.0,322.6 1140.0,320.9C1141.0,319.1 1142.0,317.3 1143.0,315.6C1144.0,313.9 1145.0,312.3 1146.0,310.7C1147.0,309.2 1148.0,307.7 1149.0,306.5C1150.0,305.2 1151.0,304.0 1152.0,303.2C1153.0,302.3 1154.0,301.6 1155.0,301.3C1156.0,300.9 1157.0,300.8 1158.0,301.0C1159.0,301.2 1160.0,301.7 1161.0,302.4C1162.0,303.2 1163.0,304.3 1164.0,305.5C1165.0,306.8 1166.0,308.2 1167.0,309.8C1168.0,311.4 1169.0,313.1 1170.0,315.0C1171.0,317.0 1172.0,319.1 1173.0,321.6C1174.0,324.0 1175.0,326.7 1176.0,329.7C1177.0,332.6 1178.0,336.0 1179.0,339.5C1180.0,342.9 1181.0,346.8 1182.0,350.6C1183.0,354.5 1184.0,358.6 1185.0,362.7C1186.0,366.8 1187.0,371.0 1188.0,375.3C1189.0,379.6 1190.0,384.0 1191.0,388.6C1192.0,393.2 1193.0,398.0 1194.0,403.1C1195.0,408.1 1196.0,413.5 1197.0,419.0C1198.0,424.4 1199.0,430.3 1200.0,435.8C1201.0,441.4 1202.0,447.1 1203.0,452.4C1204.0,457.7 1205.0,462.8 1206.0,467.6C1207.0,472.4 1208.0,476.9 1209.0,481.2C1210.0,485.6 1211.0,489.7 1212.0,493.7C1213.0,497.7 1214.0,501.6 1215.0,505.3C1216.0,509.0 1217.0,512.6 1218.0,516.1C1219.0,519.5 1220.0,522.8 1221.0,526.0C1222.0,529.1 1223.0,532.1 1224.0,535.0C1225.0,537.8 1226.0,540.5 1227.0,543.2C1228.0,545.8 1229.0,548.3 1230.0,550.7C1231.0,553.1 1232.0,555.4 1233.0,557.6C1234.0,559.8 1235.0,562.0 1236.0,564.0C1237.0,566.1 1238.0,568.0 1239.0,569.9C1240.0,571.8 1241.0,573.6 1242.0,575.3C1243.0,577.0 1244.0,578.6 1245.0,580.2C1246.0,581.8 1247.0,583.3 1248.0,584.8C1249.0,586.3 1250.0,587.9 1251.0,589.4C1252.0,591.0 1253.0,592.6 1254.0,594.2C1255.0,595.8 1256.0,597.5 1257.0,599.0C1258.0,600.5 1259.0,602.0 1260.0,603.2C1261.0,604.5 1262.0,605.7 1263.0,606.7C1264.0,607.7 1265.0,608.5 1266.0,609.4C1267.0,610.2 1268.0,610.9 1269.0,611.6C1270.0,612.4 1271.0,613.1 1272.0,614.0C1273.0,614.8 1274.0,615.6 1275.0,616.5C1276.0,617.4 1277.0,618.3 1278.0,619.3C1279.0,620.3 1280.0,621.3 1281.0,622.3C1282.0,623.3 1283.0,624.4 1284.0,625.4C1285.0,626.4 1286.0,627.5 1287.0,628.5C1288.0,629.5 1289.0,630.5 1290.0,631.3C1291.0,632.2 1292.0,633.0 1293.0,633.6C1294.0,634.3 1295.0,634.8 1296.0,635.2C1297.0,635.7 1298.0,636.0 1299.0,636.3C1300.0,636.6 1301.0,636.7 1302.0,636.9C1303.0,637.1 1304.0,637.3 1305.0,637.4C1306.0,637.6 1307.0,637.7 1308.0,637.8C1309.0,637.9 1310.0,638.0 1311.0,638.1C1312.0,638.2 1313.0,638.3 1314.0,638.4C1315.0,638.4 1316.0,638.5 1317.0,638.6C1318.0,638.7 1319.0,638.7 1320.0,638.8C1321.0,638.9 1322.0,638.9 1323.0,639.0C1324.0,639.1 1325.0,639.2 1326.0,639.2C1327.0,639.3 1328.0,639.4 1329.0,639.4C1330.0,639.5 1331.0,639.6 1332.0,639.6C1333.0,639.7 1334.0,639.8 1335.0,639.8C1336.0,639.9 1337.2,639.9 1338.0,639.9C1338.8,640.0 1339.6,640.2 1339.9,640.2" fill="none" stroke="#008000" stroke-width="3.1" stroke-linejoin="round" stroke-linecap="round"/><path d="M798.0,637.0C815.0,636.3 882.5,633.4 900.0,632.7C917.5,632.0 902.0,632.7 903.0,632.6C904.0,632.6 905.0,632.6 906.0,632.5C907.0,632.5 908.0,632.5 909.0,632.4C910.0,632.4 911.0,632.3 912.0,632.3C913.0,632.2 914.0,632.2 915.0,632.2C916.0,632.1 917.0,632.1 918.0,632.0C919.0,632.0 920.0,632.0 921.0,631.9C922.0,631.9 923.0,631.8 924.0,631.8C925.0,631.8 926.0,631.7 927.0,631.7C928.0,631.6 929.0,631.6 930.0,631.5C931.0,631.5 932.0,631.5 933.0,631.4C934.0,631.4 935.0,631.3 936.0,631.3C937.0,631.3 938.0,631.2 939.0,631.2C940.0,631.1 941.0,631.1 942.0,631.0C943.0,631.0 944.0,631.0 945.0,630.9C946.0,630.9 947.0,630.8 948.0,630.8C949.0,630.8 950.0,630.7 951.0,630.7C952.0,630.6 953.0,630.6 954.0,630.5C955.0,630.5 956.0,630.4 957.0,630.3C958.0,630.2 959.0,630.1 960.0,630.0C961.0,629.9 962.0,629.8 963.0,629.6C964.0,629.5 965.0,629.3 966.0,629.1C967.0,628.9 968.0,628.7 969.0,628.5C970.0,628.3 971.0,628.1 972.0,627.9C973.0,627.7 974.0,627.5 975.0,627.3C976.0,627.1 977.0,626.9 978.0,626.7C979.0,626.5 980.0,626.3 981.0,626.0C982.0,625.8 983.0,625.5 984.0,625.2C985.0,624.9 986.0,624.6 987.0,624.2C988.0,623.8 989.0,623.4 990.0,623.0C991.0,622.5 992.0,622.0 993.0,621.5C994.0,620.9 995.0,620.3 996.0,619.6C997.0,618.9 998.0,618.2 999.0,617.5C1000.0,616.8 1001.0,616.0 1002.0,615.3C1003.0,614.6 1004.0,613.9 1005.0,613.3C1006.0,612.6 1007.0,611.9 1008.0,611.3C1009.0,610.6 1010.0,610.0 1011.0,609.3C1012.0,608.6 1013.0,607.8 1014.0,607.1C1015.0,606.3 1016.0,605.5 1017.0,604.6C1018.0,603.8 1019.0,602.9 1020.0,602.0C1021.0,601.1 1022.0,600.2 1023.0,599.3C1024.0,598.3 1025.0,597.4 1026.0,596.4C1027.0,595.5 1028.0,594.5 1029.0,593.5C1030.0,592.5 1031.0,591.5 1032.0,590.4C1033.0,589.4 1034.0,588.3 1035.0,587.1C1036.0,586.0 1037.0,584.8 1038.0,583.7C1039.0,582.5 1040.0,581.3 1041.0,580.0C1042.0,578.8 1043.0,577.5 1044.0,576.2C1045.0,574.9 1046.0,573.6 1047.0,572.2C1048.0,570.9 1049.0,569.5 1050.0,568.0C1051.0,566.5 1052.0,565.0 1053.0,563.3C1054.0,561.6 1055.0,559.9 1056.0,557.9C1057.0,555.9 1058.0,553.7 1059.0,551.5C1060.0,549.2 1061.0,546.7 1062.0,544.3C1063.0,541.8 1064.0,539.3 1065.0,536.8C1066.0,534.3 1067.0,531.8 1068.0,529.4C1069.0,527.0 1070.0,524.6 1071.0,522.3C1072.0,520.0 1073.0,517.7 1074.0,515.4C1075.0,513.2 1076.0,510.9 1077.0,508.7C1078.0,506.4 1079.0,504.2 1080.0,501.9C1081.0,499.6 1082.0,497.4 1083.0,495.1C1084.0,492.8 1085.0,490.5 1086.0,488.1C1087.0,485.8 1088.0,483.5 1089.0,481.1C1090.0,478.7 1091.0,476.2 1092.0,473.7C1093.0,471.2 1094.0,468.6 1095.0,465.9C1096.0,463.2 1097.0,460.5 1098.0,457.7C1099.0,454.9 1100.0,452.0 1101.0,449.2C1102.0,446.3 1103.0,443.3 1104.0,440.4C1105.0,437.5 1106.0,434.5 1107.0,431.6C1108.0,428.6 1109.0,425.7 1110.0,422.7C1111.0,419.8 1112.0,416.8 1113.0,413.9C1114.0,410.9 1115.0,408.0 1116.0,405.1C1117.0,402.3 1118.0,399.4 1119.0,396.6C1120.0,393.8 1121.0,391.0 1122.0,388.3C1123.0,385.6 1124.0,382.9 1125.0,380.2C1126.0,377.5 1127.0,374.9 1128.0,372.3C1129.0,369.8 1130.0,367.2 1131.0,364.8C1132.0,362.3 1133.0,360.0 1134.0,357.6C1135.0,355.3 1136.0,353.1 1137.0,350.9C1138.0,348.6 1139.0,346.5 1140.0,344.4C1141.0,342.3 1142.0,340.2 1143.0,338.3C1144.0,336.3 1145.0,334.5 1146.0,332.7C1147.0,331.0 1148.0,329.3 1149.0,327.8C1150.0,326.3 1151.0,325.0 1152.0,323.7C1153.0,322.5 1154.0,321.4 1155.0,320.5C1156.0,319.6 1157.0,318.8 1158.0,318.3C1159.0,317.8 1160.0,317.5 1161.0,317.4C1162.0,317.3 1163.0,317.4 1164.0,317.6C1165.0,317.8 1166.0,318.1 1167.0,318.5C1168.0,318.8 1169.0,319.2 1170.0,319.8C1171.0,320.3 1172.0,320.9 1173.0,321.8C1174.0,322.6 1175.0,323.6 1176.0,325.0C1177.0,326.3 1178.0,327.8 1179.0,329.7C1180.0,331.5 1181.0,333.6 1182.0,336.0C1183.0,338.3 1184.0,340.9 1185.0,343.7C1186.0,346.5 1187.0,349.5 1188.0,352.6C1189.0,355.7 1190.0,359.0 1191.0,362.4C1192.0,365.9 1193.0,369.5 1194.0,373.2C1195.0,376.9 1196.0,380.8 1197.0,384.9C1198.0,388.9 1199.0,393.1 1200.0,397.3C1201.0,401.6 1202.0,406.0 1203.0,410.3C1204.0,414.6 1205.0,418.9 1206.0,423.1C1207.0,427.2 1208.0,431.1 1209.0,434.9C1210.0,438.7 1211.0,442.3 1212.0,445.9C1213.0,449.4 1214.0,452.7 1215.0,456.1C1216.0,459.4 1217.0,462.7 1218.0,465.9C1219.0,469.2 1220.0,472.4 1221.0,475.6C1222.0,478.7 1223.0,481.9 1224.0,485.0C1225.0,488.1 1226.0,491.2 1227.0,494.3C1228.0,497.4 1229.0,500.5 1230.0,503.7C1231.0,506.9 1232.0,510.1 1233.0,513.3C1234.0,516.6 1235.0,519.9 1236.0,523.2C1237.0,526.4 1238.0,529.7 1239.0,532.9C1240.0,536.1 1241.0,539.2 1242.0,542.2C1243.0,545.1 1244.0,547.9 1245.0,550.7C1246.0,553.4 1247.0,556.0 1248.0,558.5C1249.0,561.0 1250.0,563.4 1251.0,565.8C1252.0,568.2 1253.0,570.5 1254.0,572.8C1255.0,575.0 1256.0,577.2 1257.0,579.3C1258.0,581.4 1259.0,583.4 1260.0,585.2C1261.0,587.1 1262.0,588.8 1263.0,590.5C1264.0,592.1 1265.0,593.7 1266.0,595.1C1267.0,596.6 1268.0,598.0 1269.0,599.3C1270.0,600.7 1271.0,601.9 1272.0,603.1C1273.0,604.3 1274.0,605.5 1275.0,606.6C1276.0,607.7 1277.0,608.7 1278.0,609.7C1279.0,610.7 1280.0,611.7 1281.0,612.7C1282.0,613.6 1283.0,614.5 1284.0,615.4C1285.0,616.3 1286.0,617.2 1287.0,618.0C1288.0,618.9 1289.0,619.7 1290.0,620.4C1291.0,621.2 1292.0,621.9 1293.0,622.6C1294.0,623.3 1295.0,624.0 1296.0,624.5C1297.0,625.1 1298.0,625.7 1299.0,626.1C1300.0,626.6 1301.0,627.1 1302.0,627.5C1303.0,627.9 1304.0,628.2 1305.0,628.5C1306.0,628.9 1307.0,629.2 1308.0,629.4C1309.0,629.7 1310.0,629.9 1311.0,630.1C1312.0,630.3 1313.0,630.4 1314.0,630.6C1315.0,630.8 1316.0,630.9 1317.0,631.1C1318.0,631.2 1319.0,631.4 1320.0,631.5C1321.0,631.6 1322.0,631.8 1323.0,631.9C1324.0,632.1 1325.0,632.2 1326.0,632.3C1327.0,632.5 1328.0,632.6 1329.0,632.8C1330.0,632.9 1331.0,633.0 1332.0,633.2C1333.0,633.3 1334.0,633.4 1335.0,633.5C1336.0,633.6 1337.2,633.6 1338.0,633.8C1338.8,633.9 1339.6,634.2 1339.9,634.3" fill="none" stroke="#0000ff" stroke-width="3.1" stroke-linejoin="round" stroke-linecap="round"/><path d="M798.0,636.5C815.0,635.7 882.5,632.8 900.0,632.0C917.5,631.2 902.0,631.9 903.0,631.9C904.0,631.9 905.0,631.8 906.0,631.8C907.0,631.8 908.0,631.7 909.0,631.7C910.0,631.6 911.0,631.6 912.0,631.6C913.0,631.5 914.0,631.5 915.0,631.4C916.0,631.4 917.0,631.3 918.0,631.3C919.0,631.2 920.0,631.2 921.0,631.2C922.0,631.1 923.0,631.1 924.0,631.0C925.0,631.0 926.0,630.9 927.0,630.9C928.0,630.9 929.0,630.8 930.0,630.8C931.0,630.7 932.0,630.7 933.0,630.6C934.0,630.6 935.0,630.6 936.0,630.5C937.0,630.5 938.0,630.4 939.0,630.4C940.0,630.3 941.0,630.3 942.0,630.3C943.0,630.2 944.0,630.2 945.0,630.1C946.0,630.1 947.0,630.0 948.0,630.0C949.0,629.9 950.0,629.9 951.0,629.9C952.0,629.8 953.0,629.8 954.0,629.7C955.0,629.7 956.0,629.6 957.0,629.6C958.0,629.6 959.0,629.5 960.0,629.5C961.0,629.4 962.0,629.4 963.0,629.3C964.0,629.3 965.0,629.3 966.0,629.2C967.0,629.2 968.0,629.1 969.0,629.1C970.0,629.0 971.0,629.0 972.0,629.0C973.0,628.9 974.0,628.9 975.0,628.8C976.0,628.8 977.0,628.7 978.0,628.7C979.0,628.6 980.0,628.6 981.0,628.6C982.0,628.5 983.0,628.5 984.0,628.4C985.0,628.4 986.0,628.3 987.0,628.3C988.0,628.2 989.0,628.2 990.0,628.1C991.0,628.0 992.0,627.9 993.0,627.8C994.0,627.7 995.0,627.5 996.0,627.3C997.0,627.1 998.0,626.8 999.0,626.5C1000.0,626.2 1001.0,625.9 1002.0,625.5C1003.0,625.1 1004.0,624.8 1005.0,624.4C1006.0,624.0 1007.0,623.6 1008.0,623.2C1009.0,622.8 1010.0,622.4 1011.0,622.0C1012.0,621.6 1013.0,621.2 1014.0,620.7C1015.0,620.3 1016.0,619.9 1017.0,619.4C1018.0,619.0 1019.0,618.5 1020.0,618.0C1021.0,617.5 1022.0,617.0 1023.0,616.5C1024.0,615.9 1025.0,615.4 1026.0,614.8C1027.0,614.2 1028.0,613.6 1029.0,613.0C1030.0,612.4 1031.0,611.8 1032.0,611.2C1033.0,610.6 1034.0,610.0 1035.0,609.4C1036.0,608.8 1037.0,608.1 1038.0,607.5C1039.0,606.8 1040.0,606.2 1041.0,605.5C1042.0,604.8 1043.0,604.1 1044.0,603.3C1045.0,602.5 1046.0,601.8 1047.0,600.9C1048.0,600.0 1049.0,599.0 1050.0,597.9C1051.0,596.8 1052.0,595.6 1053.0,594.3C1054.0,592.9 1055.0,591.4 1056.0,589.8C1057.0,588.2 1058.0,586.5 1059.0,584.7C1060.0,582.9 1061.0,581.0 1062.0,579.1C1063.0,577.3 1064.0,575.3 1065.0,573.5C1066.0,571.6 1067.0,569.8 1068.0,568.0C1069.0,566.2 1070.0,564.5 1071.0,562.8C1072.0,561.1 1073.0,559.4 1074.0,557.8C1075.0,556.1 1076.0,554.4 1077.0,552.7C1078.0,550.9 1079.0,549.1 1080.0,547.2C1081.0,545.3 1082.0,543.3 1083.0,541.2C1084.0,539.1 1085.0,536.9 1086.0,534.8C1087.0,532.6 1088.0,530.3 1089.0,528.1C1090.0,525.8 1091.0,523.6 1092.0,521.3C1093.0,519.0 1094.0,516.7 1095.0,514.4C1096.0,512.1 1097.0,509.7 1098.0,507.3C1099.0,504.9 1100.0,502.4 1101.0,499.8C1102.0,497.3 1103.0,494.6 1104.0,491.9C1105.0,489.2 1106.0,486.4 1107.0,483.5C1108.0,480.7 1109.0,477.8 1110.0,474.9C1111.0,472.0 1112.0,469.1 1113.0,466.2C1114.0,463.3 1115.0,460.3 1116.0,457.4C1117.0,454.4 1118.0,451.5 1119.0,448.5C1120.0,445.5 1121.0,442.5 1122.0,439.6C1123.0,436.6 1124.0,433.6 1125.0,430.7C1126.0,427.7 1127.0,424.7 1128.0,421.8C1129.0,418.8 1130.0,415.9 1131.0,413.0C1132.0,410.1 1133.0,407.1 1134.0,404.2C1135.0,401.3 1136.0,398.5 1137.0,395.6C1138.0,392.8 1139.0,389.9 1140.0,387.1C1141.0,384.3 1142.0,381.6 1143.0,378.8C1144.0,376.1 1145.0,373.4 1146.0,370.7C1147.0,368.0 1148.0,365.4 1149.0,362.7C1150.0,360.1 1151.0,357.5 1152.0,355.0C1153.0,352.6 1154.0,350.1 1155.0,347.8C1156.0,345.5 1157.0,343.2 1158.0,341.1C1159.0,339.0 1160.0,337.0 1161.0,335.1C1162.0,333.3 1163.0,331.5 1164.0,329.9C1165.0,328.2 1166.0,326.7 1167.0,325.3C1168.0,323.9 1169.0,322.5 1170.0,321.4C1171.0,320.2 1172.0,319.2 1173.0,318.3C1174.0,317.5 1175.0,316.8 1176.0,316.3C1177.0,315.8 1178.0,315.5 1179.0,315.4C1180.0,315.4 1181.0,315.5 1182.0,315.8C1183.0,316.1 1184.0,316.6 1185.0,317.3C1186.0,318.0 1187.0,318.9 1188.0,319.9C1189.0,320.9 1190.0,322.2 1191.0,323.5C1192.0,324.9 1193.0,326.4 1194.0,328.1C1195.0,329.8 1196.0,331.7 1197.0,333.7C1198.0,335.7 1199.0,337.9 1200.0,340.2C1201.0,342.5 1202.0,345.0 1203.0,347.5C1204.0,350.1 1205.0,352.7 1206.0,355.4C1207.0,358.1 1208.0,360.9 1209.0,363.8C1210.0,366.6 1211.0,369.5 1212.0,372.4C1213.0,375.4 1214.0,378.4 1215.0,381.4C1216.0,384.4 1217.0,387.5 1218.0,390.6C1219.0,393.8 1220.0,397.0 1221.0,400.3C1222.0,403.6 1223.0,407.0 1224.0,410.5C1225.0,413.9 1226.0,417.4 1227.0,421.0C1228.0,424.5 1229.0,428.1 1230.0,431.7C1231.0,435.3 1232.0,438.9 1233.0,442.5C1234.0,446.0 1235.0,449.6 1236.0,453.2C1237.0,456.8 1238.0,460.3 1239.0,463.8C1240.0,467.3 1241.0,470.8 1242.0,474.2C1243.0,477.6 1244.0,480.9 1245.0,484.2C1246.0,487.4 1247.0,490.6 1248.0,493.7C1249.0,496.8 1250.0,499.8 1251.0,502.7C1252.0,505.7 1253.0,508.5 1254.0,511.3C1255.0,514.1 1256.0,516.9 1257.0,519.5C1258.0,522.2 1259.0,524.7 1260.0,527.2C1261.0,529.7 1262.0,532.1 1263.0,534.5C1264.0,536.9 1265.0,539.1 1266.0,541.4C1267.0,543.6 1268.0,545.7 1269.0,547.8C1270.0,549.8 1271.0,551.8 1272.0,553.8C1273.0,555.7 1274.0,557.6 1275.0,559.5C1276.0,561.4 1277.0,563.2 1278.0,565.1C1279.0,566.9 1280.0,568.7 1281.0,570.5C1282.0,572.3 1283.0,574.1 1284.0,575.8C1285.0,577.5 1286.0,579.2 1287.0,580.8C1288.0,582.5 1289.0,584.1 1290.0,585.6C1291.0,587.2 1292.0,588.8 1293.0,590.2C1294.0,591.7 1295.0,593.2 1296.0,594.5C1297.0,595.9 1298.0,597.2 1299.0,598.5C1300.0,599.8 1301.0,601.0 1302.0,602.1C1303.0,603.3 1304.0,604.3 1305.0,605.4C1306.0,606.4 1307.0,607.3 1308.0,608.2C1309.0,609.0 1310.0,609.8 1311.0,610.5C1312.0,611.2 1313.0,611.9 1314.0,612.5C1315.0,613.1 1316.0,613.6 1317.0,614.1C1318.0,614.6 1319.0,615.1 1320.0,615.5C1321.0,615.9 1322.0,616.3 1323.0,616.6C1324.0,617.0 1325.0,617.3 1326.0,617.6C1327.0,617.8 1328.0,618.1 1329.0,618.2C1330.0,618.4 1331.0,618.6 1332.0,618.7C1333.0,618.8 1334.0,618.9 1335.0,619.0C1336.0,619.0 1337.2,619.0 1338.0,619.1C1338.8,619.1 1339.6,619.1 1339.9,619.1" fill="none" stroke="#ff00ff" stroke-width="3.1" stroke-linejoin="round" stroke-linecap="round"/><path d="M798.0,640.2C810.0,639.8 856.7,638.7 870.0,637.5C883.3,636.3 875.7,633.2 878.0,632.8C880.3,632.4 882.3,633.9 884.0,635.0C885.7,636.1 885.3,638.8 888.0,639.5C890.7,640.2 897.5,639.0 900.0,638.9C902.5,638.8 902.0,638.9 903.0,638.9C904.0,638.8 905.0,638.8 906.0,638.8C907.0,638.7 908.0,638.7 909.0,638.6C910.0,638.6 911.0,638.6 912.0,638.5C913.0,638.5 914.0,638.4 915.0,638.4C916.0,638.4 917.0,638.3 918.0,638.3C919.0,638.2 920.0,638.2 921.0,638.2C922.0,638.1 923.0,638.1 924.0,638.0C925.0,638.0 926.0,638.0 927.0,637.9C928.0,637.9 929.0,637.8 930.0,637.8C931.0,637.8 932.0,637.7 933.0,637.7C934.0,637.6 935.0,637.6 936.0,637.5C937.0,637.5 938.0,637.5 939.0,637.4C940.0,637.4 941.0,637.3 942.0,637.3C943.0,637.3 944.0,637.2 945.0,637.2C946.0,637.1 947.0,637.1 948.0,637.1C949.0,637.0 950.0,637.0 951.0,636.9C952.0,636.9 953.0,636.9 954.0,636.8C955.0,636.8 956.0,636.7 957.0,636.7C958.0,636.7 959.0,636.6 960.0,636.6C961.0,636.5 962.0,636.5 963.0,636.5C964.0,636.4 965.0,636.4 966.0,636.3C967.0,636.3 968.0,636.2 969.0,636.2C970.0,636.2 971.0,636.1 972.0,636.1C973.0,636.0 974.0,636.0 975.0,636.0C976.0,635.9 977.0,635.9 978.0,635.8C979.0,635.8 980.0,635.8 981.0,635.7C982.0,635.7 983.0,635.6 984.0,635.6C985.0,635.6 986.0,635.5 987.0,635.5C988.0,635.4 989.0,635.4 990.0,635.3C991.0,635.3 992.0,635.2 993.0,635.1C994.0,635.0 995.0,634.9 996.0,634.8C997.0,634.7 998.0,634.6 999.0,634.4C1000.0,634.3 1001.0,634.1 1002.0,633.9C1003.0,633.7 1004.0,633.5 1005.0,633.3C1006.0,633.1 1007.0,632.9 1008.0,632.7C1009.0,632.5 1010.0,632.3 1011.0,632.1C1012.0,631.9 1013.0,631.7 1014.0,631.5C1015.0,631.3 1016.0,631.1 1017.0,630.9C1018.0,630.7 1019.0,630.5 1020.0,630.3C1021.0,630.1 1022.0,629.9 1023.0,629.7C1024.0,629.5 1025.0,629.3 1026.0,629.1C1027.0,628.9 1028.0,628.7 1029.0,628.5C1030.0,628.3 1031.0,628.1 1032.0,627.9C1033.0,627.7 1034.0,627.4 1035.0,627.2C1036.0,626.9 1037.0,626.6 1038.0,626.3C1039.0,626.0 1040.0,625.6 1041.0,625.2C1042.0,624.8 1043.0,624.4 1044.0,624.0C1045.0,623.5 1046.0,623.1 1047.0,622.6C1048.0,622.1 1049.0,621.6 1050.0,621.1C1051.0,620.5 1052.0,619.9 1053.0,619.2C1054.0,618.5 1055.0,617.7 1056.0,616.8C1057.0,615.9 1058.0,614.9 1059.0,613.7C1060.0,612.6 1061.0,611.3 1062.0,610.0C1063.0,608.7 1064.0,607.4 1065.0,606.0C1066.0,604.6 1067.0,603.2 1068.0,601.8C1069.0,600.4 1070.0,598.9 1071.0,597.5C1072.0,596.1 1073.0,594.7 1074.0,593.3C1075.0,591.8 1076.0,590.4 1077.0,589.1C1078.0,587.7 1079.0,586.3 1080.0,585.0C1081.0,583.7 1082.0,582.4 1083.0,581.1C1084.0,579.8 1085.0,578.6 1086.0,577.3C1087.0,576.1 1088.0,574.9 1089.0,573.6C1090.0,572.3 1091.0,571.0 1092.0,569.6C1093.0,568.2 1094.0,566.8 1095.0,565.2C1096.0,563.7 1097.0,562.0 1098.0,560.2C1099.0,558.4 1100.0,556.4 1101.0,554.4C1102.0,552.4 1103.0,550.3 1104.0,548.1C1105.0,546.0 1106.0,543.8 1107.0,541.5C1108.0,539.3 1109.0,537.1 1110.0,534.8C1111.0,532.5 1112.0,530.3 1113.0,528.0C1114.0,525.7 1115.0,523.4 1116.0,521.1C1117.0,518.8 1118.0,516.4 1119.0,514.1C1120.0,511.8 1121.0,509.4 1122.0,507.0C1123.0,504.7 1124.0,502.3 1125.0,499.9C1126.0,497.5 1127.0,495.0 1128.0,492.5C1129.0,490.1 1130.0,487.6 1131.0,485.1C1132.0,482.6 1133.0,480.1 1134.0,477.6C1135.0,475.0 1136.0,472.5 1137.0,470.0C1138.0,467.5 1139.0,465.0 1140.0,462.4C1141.0,459.9 1142.0,457.4 1143.0,454.8C1144.0,452.3 1145.0,449.7 1146.0,447.1C1147.0,444.5 1148.0,441.8 1149.0,439.2C1150.0,436.5 1151.0,433.8 1152.0,431.1C1153.0,428.4 1154.0,425.6 1155.0,422.9C1156.0,420.1 1157.0,417.4 1158.0,414.6C1159.0,411.9 1160.0,409.1 1161.0,406.4C1162.0,403.6 1163.0,400.9 1164.0,398.2C1165.0,395.5 1166.0,392.8 1167.0,390.1C1168.0,387.4 1169.0,384.8 1170.0,382.2C1171.0,379.6 1172.0,377.1 1173.0,374.6C1174.0,372.1 1175.0,369.6 1176.0,367.3C1177.0,364.9 1178.0,362.6 1179.0,360.5C1180.0,358.4 1181.0,356.4 1182.0,354.5C1183.0,352.7 1184.0,351.0 1185.0,349.4C1186.0,347.9 1187.0,346.5 1188.0,345.2C1189.0,344.0 1190.0,342.9 1191.0,341.8C1192.0,340.8 1193.0,339.9 1194.0,339.2C1195.0,338.4 1196.0,337.7 1197.0,337.1C1198.0,336.5 1199.0,336.1 1200.0,335.7C1201.0,335.3 1202.0,335.1 1203.0,334.9C1204.0,334.8 1205.0,334.7 1206.0,334.7C1207.0,334.8 1208.0,334.9 1209.0,335.2C1210.0,335.4 1211.0,335.8 1212.0,336.3C1213.0,336.9 1214.0,337.5 1215.0,338.4C1216.0,339.3 1217.0,340.4 1218.0,341.6C1219.0,342.9 1220.0,344.3 1221.0,346.0C1222.0,347.6 1223.0,349.5 1224.0,351.5C1225.0,353.5 1226.0,355.6 1227.0,357.8C1228.0,360.0 1229.0,362.3 1230.0,364.6C1231.0,367.0 1232.0,369.3 1233.0,371.7C1234.0,374.1 1235.0,376.5 1236.0,379.0C1237.0,381.4 1238.0,384.0 1239.0,386.5C1240.0,389.1 1241.0,391.7 1242.0,394.3C1243.0,396.9 1244.0,399.6 1245.0,402.2C1246.0,404.8 1247.0,407.4 1248.0,409.9C1249.0,412.5 1250.0,415.0 1251.0,417.5C1252.0,420.0 1253.0,422.4 1254.0,424.8C1255.0,427.3 1256.0,429.7 1257.0,432.1C1258.0,434.5 1259.0,436.9 1260.0,439.3C1261.0,441.7 1262.0,444.1 1263.0,446.5C1264.0,448.9 1265.0,451.3 1266.0,453.7C1267.0,456.0 1268.0,458.4 1269.0,460.8C1270.0,463.1 1271.0,465.4 1272.0,467.7C1273.0,470.0 1274.0,472.3 1275.0,474.6C1276.0,476.9 1277.0,479.2 1278.0,481.6C1279.0,484.0 1280.0,486.4 1281.0,489.0C1282.0,491.6 1283.0,494.4 1284.0,497.3C1285.0,500.1 1286.0,503.2 1287.0,506.3C1288.0,509.4 1289.0,512.6 1290.0,515.7C1291.0,518.8 1292.0,521.9 1293.0,524.8C1294.0,527.7 1295.0,530.5 1296.0,533.2C1297.0,535.8 1298.0,538.3 1299.0,540.6C1300.0,542.9 1301.0,545.1 1302.0,547.0C1303.0,548.9 1304.0,550.7 1305.0,552.2C1306.0,553.8 1307.0,555.1 1308.0,556.4C1309.0,557.6 1310.0,558.7 1311.0,559.7C1312.0,560.7 1313.0,561.6 1314.0,562.5C1315.0,563.4 1316.0,564.2 1317.0,565.0C1318.0,565.8 1319.0,566.6 1320.0,567.4C1321.0,568.2 1322.0,569.0 1323.0,569.7C1324.0,570.4 1325.0,571.2 1326.0,571.8C1327.0,572.4 1328.0,573.0 1329.0,573.5C1330.0,573.9 1331.0,574.3 1332.0,574.5C1333.0,574.8 1334.0,574.9 1335.0,575.0C1336.0,575.1 1337.2,575.1 1338.0,575.1C1338.8,575.0 1339.6,574.8 1339.9,574.7" fill="none" stroke="#00ffff" stroke-width="3.1" stroke-linejoin="round" stroke-linecap="round"/><path d="M798.0,634.4C810.0,634.0 856.7,633.1 870.0,632.0C883.3,630.9 875.7,628.2 878.0,628.0C880.3,627.8 882.3,630.1 884.0,631.0C885.7,631.9 875.3,633.6 888.0,633.5C900.7,633.4 947.5,630.9 960.0,630.4C972.5,629.9 962.0,630.3 963.0,630.3C964.0,630.3 965.0,630.2 966.0,630.2C967.0,630.2 968.0,630.1 969.0,630.1C970.0,630.1 971.0,630.0 972.0,630.0C973.0,629.9 974.0,629.9 975.0,629.8C976.0,629.8 977.0,629.8 978.0,629.7C979.0,629.7 980.0,629.6 981.0,629.6C982.0,629.5 983.0,629.5 984.0,629.5C985.0,629.4 986.0,629.4 987.0,629.3C988.0,629.3 989.0,629.3 990.0,629.2C991.0,629.2 992.0,629.1 993.0,629.1C994.0,629.0 995.0,629.0 996.0,629.0C997.0,628.9 998.0,628.9 999.0,628.8C1000.0,628.8 1001.0,628.7 1002.0,628.7C1003.0,628.7 1004.0,628.6 1005.0,628.6C1006.0,628.5 1007.0,628.5 1008.0,628.5C1009.0,628.4 1010.0,628.4 1011.0,628.3C1012.0,628.3 1013.0,628.2 1014.0,628.1C1015.0,628.1 1016.0,628.0 1017.0,627.9C1018.0,627.8 1019.0,627.6 1020.0,627.5C1021.0,627.3 1022.0,627.1 1023.0,627.0C1024.0,626.8 1025.0,626.6 1026.0,626.3C1027.0,626.1 1028.0,625.9 1029.0,625.7C1030.0,625.5 1031.0,625.2 1032.0,625.0C1033.0,624.8 1034.0,624.5 1035.0,624.3C1036.0,624.0 1037.0,623.8 1038.0,623.5C1039.0,623.2 1040.0,622.8 1041.0,622.5C1042.0,622.1 1043.0,621.7 1044.0,621.2C1045.0,620.7 1046.0,620.2 1047.0,619.7C1048.0,619.2 1049.0,618.7 1050.0,618.2C1051.0,617.6 1052.0,617.1 1053.0,616.6C1054.0,616.0 1055.0,615.5 1056.0,615.0C1057.0,614.5 1058.0,614.0 1059.0,613.5C1060.0,613.0 1061.0,612.5 1062.0,612.0C1063.0,611.5 1064.0,611.0 1065.0,610.5C1066.0,610.0 1067.0,609.5 1068.0,608.9C1069.0,608.4 1070.0,607.8 1071.0,607.2C1072.0,606.6 1073.0,606.0 1074.0,605.3C1075.0,604.7 1076.0,604.0 1077.0,603.2C1078.0,602.5 1079.0,601.7 1080.0,601.0C1081.0,600.2 1082.0,599.4 1083.0,598.6C1084.0,597.8 1085.0,597.0 1086.0,596.2C1087.0,595.4 1088.0,594.6 1089.0,593.8C1090.0,593.0 1091.0,592.1 1092.0,591.2C1093.0,590.3 1094.0,589.4 1095.0,588.5C1096.0,587.5 1097.0,586.4 1098.0,585.3C1099.0,584.2 1100.0,583.1 1101.0,581.9C1102.0,580.7 1103.0,579.4 1104.0,578.1C1105.0,576.9 1106.0,575.6 1107.0,574.3C1108.0,573.0 1109.0,571.7 1110.0,570.4C1111.0,569.1 1112.0,567.7 1113.0,566.4C1114.0,565.1 1115.0,563.7 1116.0,562.3C1117.0,560.9 1118.0,559.4 1119.0,557.9C1120.0,556.4 1121.0,554.9 1122.0,553.2C1123.0,551.6 1124.0,549.9 1125.0,548.2C1126.0,546.5 1127.0,544.7 1128.0,542.9C1129.0,541.2 1130.0,539.4 1131.0,537.6C1132.0,535.8 1133.0,534.0 1134.0,532.2C1135.0,530.4 1136.0,528.6 1137.0,526.8C1138.0,525.0 1139.0,523.3 1140.0,521.5C1141.0,519.8 1142.0,518.0 1143.0,516.3C1144.0,514.6 1145.0,512.9 1146.0,511.3C1147.0,509.6 1148.0,508.0 1149.0,506.4C1150.0,504.7 1151.0,503.1 1152.0,501.5C1153.0,499.9 1154.0,498.3 1155.0,496.7C1156.0,495.1 1157.0,493.5 1158.0,491.9C1159.0,490.3 1160.0,488.7 1161.0,487.1C1162.0,485.5 1163.0,483.8 1164.0,482.2C1165.0,480.5 1166.0,478.9 1167.0,477.2C1168.0,475.5 1169.0,473.7 1170.0,472.0C1171.0,470.2 1172.0,468.5 1173.0,466.7C1174.0,464.9 1175.0,463.1 1176.0,461.3C1177.0,459.5 1178.0,457.7 1179.0,455.9C1180.0,454.1 1181.0,452.3 1182.0,450.5C1183.0,448.7 1184.0,446.9 1185.0,445.1C1186.0,443.3 1187.0,441.5 1188.0,439.7C1189.0,437.9 1190.0,436.1 1191.0,434.4C1192.0,432.6 1193.0,430.8 1194.0,429.0C1195.0,427.3 1196.0,425.5 1197.0,423.9C1198.0,422.2 1199.0,420.6 1200.0,419.0C1201.0,417.5 1202.0,416.1 1203.0,414.8C1204.0,413.4 1205.0,412.2 1206.0,411.0C1207.0,409.8 1208.0,408.7 1209.0,407.6C1210.0,406.5 1211.0,405.5 1212.0,404.4C1213.0,403.3 1214.0,402.2 1215.0,401.1C1216.0,399.9 1217.0,398.8 1218.0,397.7C1219.0,396.5 1220.0,395.4 1221.0,394.3C1222.0,393.2 1223.0,392.0 1224.0,391.0C1225.0,390.0 1226.0,389.0 1227.0,388.0C1228.0,387.1 1229.0,386.2 1230.0,385.3C1231.0,384.5 1232.0,383.7 1233.0,382.9C1234.0,382.1 1235.0,381.4 1236.0,380.7C1237.0,380.1 1238.0,379.4 1239.0,378.8C1240.0,378.2 1241.0,377.7 1242.0,377.2C1243.0,376.7 1244.0,376.2 1245.0,375.9C1246.0,375.5 1247.0,375.2 1248.0,375.1C1249.0,374.9 1250.0,374.8 1251.0,374.9C1252.0,374.9 1253.0,375.1 1254.0,375.4C1255.0,375.7 1256.0,376.1 1257.0,376.6C1258.0,377.0 1259.0,377.6 1260.0,378.3C1261.0,378.9 1262.0,379.6 1263.0,380.3C1264.0,381.0 1265.0,381.7 1266.0,382.5C1267.0,383.3 1268.0,384.0 1269.0,384.9C1270.0,385.7 1271.0,386.5 1272.0,387.5C1273.0,388.4 1274.0,389.4 1275.0,390.5C1276.0,391.6 1277.0,392.8 1278.0,394.1C1279.0,395.4 1280.0,396.8 1281.0,398.3C1282.0,399.8 1283.0,401.4 1284.0,403.1C1285.0,404.8 1286.0,406.5 1287.0,408.3C1288.0,410.2 1289.0,412.1 1290.0,414.1C1291.0,416.1 1292.0,418.2 1293.0,420.4C1294.0,422.6 1295.0,424.9 1296.0,427.2C1297.0,429.5 1298.0,431.9 1299.0,434.3C1300.0,436.6 1301.0,439.0 1302.0,441.3C1303.0,443.5 1304.0,445.8 1305.0,447.8C1306.0,449.8 1307.0,451.7 1308.0,453.4C1309.0,455.2 1310.0,456.8 1311.0,458.3C1312.0,459.8 1313.0,461.1 1314.0,462.4C1315.0,463.7 1316.0,464.9 1317.0,466.0C1318.0,467.1 1319.0,468.2 1320.0,469.1C1321.0,470.1 1322.0,471.0 1323.0,471.8C1324.0,472.6 1325.0,473.4 1326.0,474.1C1327.0,474.8 1328.0,475.4 1329.0,475.9C1330.0,476.4 1331.0,476.8 1332.0,477.1C1333.0,477.5 1334.0,477.7 1335.0,477.9C1336.0,478.1 1337.2,478.2 1338.0,478.4C1338.8,478.5 1339.6,478.8 1339.9,478.9" fill="none" stroke="#ff8000" stroke-width="3.1" stroke-linejoin="round" stroke-linecap="round"/><path d="M798.0,632.6C810.0,632.2 857.3,631.4 870.0,630.0C882.7,628.6 872.7,625.2 874.0,624.0C875.3,622.8 876.7,622.5 878.0,623.0C879.3,623.5 880.7,626.8 882.0,627.0C883.3,627.2 884.7,623.9 886.0,624.5C887.3,625.1 877.7,629.8 890.0,630.5C902.3,631.2 947.8,628.9 960.0,628.5C972.2,628.2 962.0,628.5 963.0,628.5C964.0,628.5 965.0,628.5 966.0,628.4C967.0,628.4 968.0,628.4 969.0,628.4C970.0,628.3 971.0,628.3 972.0,628.3C973.0,628.2 974.0,628.2 975.0,628.2C976.0,628.2 977.0,628.1 978.0,628.1C979.0,628.1 980.0,628.1 981.0,628.0C982.0,628.0 983.0,628.0 984.0,627.9C985.0,627.9 986.0,627.9 987.0,627.9C988.0,627.8 989.0,627.8 990.0,627.8C991.0,627.8 992.0,627.7 993.0,627.7C994.0,627.7 995.0,627.6 996.0,627.6C997.0,627.6 998.0,627.6 999.0,627.5C1000.0,627.5 1001.0,627.5 1002.0,627.5C1003.0,627.4 1004.0,627.4 1005.0,627.4C1006.0,627.3 1007.0,627.3 1008.0,627.3C1009.0,627.3 1010.0,627.2 1011.0,627.2C1012.0,627.2 1013.0,627.1 1014.0,627.1C1015.0,627.0 1016.0,626.9 1017.0,626.8C1018.0,626.7 1019.0,626.6 1020.0,626.5C1021.0,626.3 1022.0,626.2 1023.0,626.0C1024.0,625.8 1025.0,625.6 1026.0,625.4C1027.0,625.2 1028.0,625.0 1029.0,624.8C1030.0,624.6 1031.0,624.4 1032.0,624.2C1033.0,624.0 1034.0,623.7 1035.0,623.5C1036.0,623.3 1037.0,623.1 1038.0,622.9C1039.0,622.7 1040.0,622.4 1041.0,622.2C1042.0,622.0 1043.0,621.8 1044.0,621.5C1045.0,621.3 1046.0,621.0 1047.0,620.7C1048.0,620.4 1049.0,620.0 1050.0,619.6C1051.0,619.2 1052.0,618.7 1053.0,618.2C1054.0,617.7 1055.0,617.2 1056.0,616.6C1057.0,616.1 1058.0,615.5 1059.0,614.9C1060.0,614.3 1061.0,613.7 1062.0,613.1C1063.0,612.5 1064.0,611.9 1065.0,611.3C1066.0,610.7 1067.0,610.1 1068.0,609.5C1069.0,608.9 1070.0,608.3 1071.0,607.6C1072.0,607.0 1073.0,606.4 1074.0,605.7C1075.0,605.1 1076.0,604.4 1077.0,603.7C1078.0,603.0 1079.0,602.3 1080.0,601.7C1081.0,601.0 1082.0,600.3 1083.0,599.6C1084.0,598.9 1085.0,598.2 1086.0,597.5C1087.0,596.8 1088.0,596.1 1089.0,595.3C1090.0,594.6 1091.0,593.9 1092.0,593.1C1093.0,592.3 1094.0,591.5 1095.0,590.7C1096.0,589.9 1097.0,589.0 1098.0,588.0C1099.0,587.1 1100.0,586.1 1101.0,585.1C1102.0,584.0 1103.0,583.0 1104.0,581.9C1105.0,580.8 1106.0,579.7 1107.0,578.6C1108.0,577.5 1109.0,576.4 1110.0,575.3C1111.0,574.2 1112.0,573.1 1113.0,572.0C1114.0,570.8 1115.0,569.7 1116.0,568.5C1117.0,567.3 1118.0,566.1 1119.0,564.9C1120.0,563.6 1121.0,562.3 1122.0,560.9C1123.0,559.5 1124.0,558.1 1125.0,556.7C1126.0,555.3 1127.0,553.8 1128.0,552.3C1129.0,550.8 1130.0,549.3 1131.0,547.8C1132.0,546.4 1133.0,544.8 1134.0,543.4C1135.0,541.9 1136.0,540.4 1137.0,538.9C1138.0,537.4 1139.0,536.0 1140.0,534.5C1141.0,533.1 1142.0,531.7 1143.0,530.3C1144.0,529.0 1145.0,527.7 1146.0,526.4C1147.0,525.1 1148.0,523.8 1149.0,522.6C1150.0,521.4 1151.0,520.2 1152.0,518.9C1153.0,517.7 1154.0,516.5 1155.0,515.3C1156.0,514.1 1157.0,512.9 1158.0,511.7C1159.0,510.5 1160.0,509.3 1161.0,508.1C1162.0,506.8 1163.0,505.6 1164.0,504.3C1165.0,503.0 1166.0,501.6 1167.0,500.2C1168.0,498.8 1169.0,497.4 1170.0,495.9C1171.0,494.4 1172.0,492.8 1173.0,491.3C1174.0,489.7 1175.0,488.1 1176.0,486.5C1177.0,485.0 1178.0,483.4 1179.0,481.8C1180.0,480.2 1181.0,478.6 1182.0,476.9C1183.0,475.3 1184.0,473.7 1185.0,472.0C1186.0,470.4 1187.0,468.7 1188.0,467.0C1189.0,465.3 1190.0,463.5 1191.0,461.7C1192.0,459.9 1193.0,458.0 1194.0,456.2C1195.0,454.4 1196.0,452.5 1197.0,450.8C1198.0,449.1 1199.0,447.4 1200.0,446.0C1201.0,444.6 1202.0,443.3 1203.0,442.2C1204.0,441.1 1205.0,440.2 1206.0,439.4C1207.0,438.5 1208.0,437.9 1209.0,437.1C1210.0,436.2 1211.0,435.5 1212.0,434.5C1213.0,433.5 1214.0,432.3 1215.0,431.1C1216.0,429.8 1217.0,428.3 1218.0,426.9C1219.0,425.5 1220.0,423.9 1221.0,422.5C1222.0,421.1 1223.0,419.7 1224.0,418.3C1225.0,417.0 1226.0,415.8 1227.0,414.5C1228.0,413.3 1229.0,412.1 1230.0,410.9C1231.0,409.7 1232.0,408.6 1233.0,407.4C1234.0,406.2 1235.0,405.0 1236.0,403.7C1237.0,402.4 1238.0,401.1 1239.0,399.7C1240.0,398.3 1241.0,396.8 1242.0,395.2C1243.0,393.7 1244.0,392.0 1245.0,390.4C1246.0,388.8 1247.0,387.1 1248.0,385.6C1249.0,384.2 1250.0,382.7 1251.0,381.5C1252.0,380.3 1253.0,379.2 1254.0,378.2C1255.0,377.2 1256.0,376.4 1257.0,375.7C1258.0,375.0 1259.0,374.4 1260.0,373.8C1261.0,373.3 1262.0,372.9 1263.0,372.5C1264.0,372.1 1265.0,371.8 1266.0,371.5C1267.0,371.2 1268.0,371.0 1269.0,370.7C1270.0,370.4 1271.0,370.2 1272.0,370.0C1273.0,369.7 1274.0,369.4 1275.0,369.2C1276.0,368.9 1277.0,368.7 1278.0,368.5C1279.0,368.3 1280.0,368.1 1281.0,368.0C1282.0,367.9 1283.0,367.8 1284.0,367.9C1285.0,367.9 1286.0,368.1 1287.0,368.3C1288.0,368.5 1289.0,368.8 1290.0,369.1C1291.0,369.5 1292.0,369.9 1293.0,370.3C1294.0,370.7 1295.0,371.2 1296.0,371.7C1297.0,372.3 1298.0,372.8 1299.0,373.5C1300.0,374.2 1301.0,374.9 1302.0,375.8C1303.0,376.6 1304.0,377.5 1305.0,378.5C1306.0,379.5 1307.0,380.6 1308.0,381.7C1309.0,382.8 1310.0,384.0 1311.0,385.1C1312.0,386.2 1313.0,387.3 1314.0,388.3C1315.0,389.4 1316.0,390.5 1317.0,391.5C1318.0,392.6 1319.0,393.6 1320.0,394.6C1321.0,395.6 1322.0,396.6 1323.0,397.6C1324.0,398.6 1325.0,399.5 1326.0,400.5C1327.0,401.4 1328.0,402.4 1329.0,403.3C1330.0,404.2 1331.0,405.0 1332.0,405.8C1333.0,406.6 1334.0,407.3 1335.0,407.9C1336.0,408.5 1337.2,408.6 1338.0,409.4C1338.8,410.1 1339.6,411.7 1339.9,412.2" fill="none" stroke="#808000" stroke-width="3.1" stroke-linejoin="round" stroke-linecap="round"/></g><rect x="789.3" y="17.5" width="578.3" height="625.3" fill="none" stroke="#000" stroke-width="2.5"/><line x1="804.8" y1="642.8" x2="804.8" y2="626.2" stroke="#000" stroke-width="2.5"/><line x1="842.8" y1="642.8" x2="842.8" y2="633.8" stroke="#000" stroke-width="2.5"/><line x1="880.9" y1="642.8" x2="880.9" y2="626.2" stroke="#000" stroke-width="2.5"/><line x1="918.9" y1="642.8" x2="918.9" y2="633.8" stroke="#000" stroke-width="2.5"/><line x1="957.0" y1="642.8" x2="957.0" y2="626.2" stroke="#000" stroke-width="2.5"/><line x1="995.0" y1="642.8" x2="995.0" y2="633.8" stroke="#000" stroke-width="2.5"/><line x1="1033.1" y1="642.8" x2="1033.1" y2="626.2" stroke="#000" stroke-width="2.5"/><line x1="1071.2" y1="642.8" x2="1071.2" y2="633.8" stroke="#000" stroke-width="2.5"/><line x1="1109.2" y1="642.8" x2="1109.2" y2="626.2" stroke="#000" stroke-width="2.5"/><line x1="1147.2" y1="642.8" x2="1147.2" y2="633.8" stroke="#000" stroke-width="2.5"/><line x1="1185.3" y1="642.8" x2="1185.3" y2="626.2" stroke="#000" stroke-width="2.5"/><line x1="1223.3" y1="642.8" x2="1223.3" y2="633.8" stroke="#000" stroke-width="2.5"/><line x1="1261.4" y1="642.8" x2="1261.4" y2="626.2" stroke="#000" stroke-width="2.5"/><line x1="1299.5" y1="642.8" x2="1299.5" y2="633.8" stroke="#000" stroke-width="2.5"/><line x1="1337.5" y1="642.8" x2="1337.5" y2="626.2" stroke="#000" stroke-width="2.5"/><text x="804.8" y="682.2" font-size="35" text-anchor="middle" fill="#000" stroke="#000" stroke-width="0.35">100</text><text x="880.9" y="682.2" font-size="35" text-anchor="middle" fill="#000" stroke="#000" stroke-width="0.35">150</text><text x="957.0" y="682.2" font-size="35" text-anchor="middle" fill="#000" stroke="#000" stroke-width="0.35">200</text><text x="1033.1" y="682.2" font-size="35" text-anchor="middle" fill="#000" stroke="#000" stroke-width="0.35">250</text><text x="1109.2" y="682.2" font-size="35" text-anchor="middle" fill="#000" stroke="#000" stroke-width="0.35">300</text><text x="1185.3" y="682.2" font-size="35" text-anchor="middle" fill="#000" stroke="#000" stroke-width="0.35">350</text><text x="1261.4" y="682.2" font-size="35" text-anchor="middle" fill="#000" stroke="#000" stroke-width="0.35">400</text><text x="1337.5" y="682.2" font-size="35" text-anchor="middle" fill="#000" stroke="#000" stroke-width="0.35">450</text><line x1="165.3" y1="642.6" x2="181.9" y2="642.6" stroke="#000" stroke-width="2.5"/><text x="147.5" y="653.8" font-size="39" text-anchor="end" fill="#000" stroke="#000" stroke-width="0.35">0</text><line x1="165.3" y1="606.2" x2="174.3" y2="606.2" stroke="#000" stroke-width="2.5"/><line x1="165.3" y1="569.9" x2="181.9" y2="569.9" stroke="#000" stroke-width="2.5"/><text x="147.5" y="581.1" font-size="39" text-anchor="end" fill="#000" stroke="#000" stroke-width="0.35">1000</text><line x1="165.3" y1="533.5" x2="174.3" y2="533.5" stroke="#000" stroke-width="2.5"/><line x1="165.3" y1="497.1" x2="181.9" y2="497.1" stroke="#000" stroke-width="2.5"/><text x="147.5" y="508.3" font-size="39" text-anchor="end" fill="#000" stroke="#000" stroke-width="0.35">2000</text><line x1="165.3" y1="460.7" x2="174.3" y2="460.7" stroke="#000" stroke-width="2.5"/><line x1="165.3" y1="424.4" x2="181.9" y2="424.4" stroke="#000" stroke-width="2.5"/><text x="147.5" y="435.6" font-size="39" text-anchor="end" fill="#000" stroke="#000" stroke-width="0.35">3000</text><line x1="165.3" y1="388.0" x2="174.3" y2="388.0" stroke="#000" stroke-width="2.5"/><line x1="165.3" y1="351.6" x2="181.9" y2="351.6" stroke="#000" stroke-width="2.5"/><text x="147.5" y="362.8" font-size="39" text-anchor="end" fill="#000" stroke="#000" stroke-width="0.35">4000</text><line x1="165.3" y1="315.2" x2="174.3" y2="315.2" stroke="#000" stroke-width="2.5"/><line x1="165.3" y1="278.9" x2="181.9" y2="278.9" stroke="#000" stroke-width="2.5"/><text x="147.5" y="290.1" font-size="39" text-anchor="end" fill="#000" stroke="#000" stroke-width="0.35">5000</text><line x1="165.3" y1="242.5" x2="174.3" y2="242.5" stroke="#000" stroke-width="2.5"/><line x1="165.3" y1="206.1" x2="181.9" y2="206.1" stroke="#000" stroke-width="2.5"/><text x="147.5" y="217.3" font-size="39" text-anchor="end" fill="#000" stroke="#000" stroke-width="0.35">6000</text><line x1="165.3" y1="169.7" x2="174.3" y2="169.7" stroke="#000" stroke-width="2.5"/><line x1="165.3" y1="133.4" x2="181.9" y2="133.4" stroke="#000" stroke-width="2.5"/><text x="147.5" y="144.6" font-size="39" text-anchor="end" fill="#000" stroke="#000" stroke-width="0.35">7000</text><line x1="165.3" y1="97.0" x2="174.3" y2="97.0" stroke="#000" stroke-width="2.5"/><line x1="165.3" y1="60.6" x2="181.9" y2="60.6" stroke="#000" stroke-width="2.5"/><text x="147.5" y="71.8" font-size="39" text-anchor="end" fill="#000" stroke="#000" stroke-width="0.35">8000</text><line x1="165.3" y1="24.2" x2="174.3" y2="24.2" stroke="#000" stroke-width="2.5"/><line x1="1367.6" y1="642.8" x2="1351.0" y2="642.8" stroke="#000" stroke-width="2.5"/><line x1="1367.6" y1="590.7" x2="1358.6" y2="590.7" stroke="#000" stroke-width="2.5"/><line x1="1367.6" y1="538.5" x2="1351.0" y2="538.5" stroke="#000" stroke-width="2.5"/><text x="1384.5" y="550.0" font-size="39" text-anchor="start" fill="#000" stroke="#000" stroke-width="0.35">500</text><line x1="1367.6" y1="486.4" x2="1358.6" y2="486.4" stroke="#000" stroke-width="2.5"/><line x1="1367.6" y1="434.3" x2="1351.0" y2="434.3" stroke="#000" stroke-width="2.5"/><text x="1384.5" y="445.8" font-size="39" text-anchor="start" fill="#000" stroke="#000" stroke-width="0.35">1000</text><line x1="1367.6" y1="382.2" x2="1358.6" y2="382.2" stroke="#000" stroke-width="2.5"/><line x1="1367.6" y1="330.0" x2="1351.0" y2="330.0" stroke="#000" stroke-width="2.5"/><text x="1384.5" y="341.5" font-size="39" text-anchor="start" fill="#000" stroke="#000" stroke-width="0.35">1500</text><line x1="1367.6" y1="277.9" x2="1358.6" y2="277.9" stroke="#000" stroke-width="2.5"/><line x1="1367.6" y1="225.8" x2="1351.0" y2="225.8" stroke="#000" stroke-width="2.5"/><text x="1384.5" y="237.3" font-size="39" text-anchor="start" fill="#000" stroke="#000" stroke-width="0.35">2000</text><line x1="1367.6" y1="173.7" x2="1358.6" y2="173.7" stroke="#000" stroke-width="2.5"/><line x1="1367.6" y1="121.5" x2="1351.0" y2="121.5" stroke="#000" stroke-width="2.5"/><text x="1384.5" y="133.0" font-size="39" text-anchor="start" fill="#000" stroke="#000" stroke-width="0.35">2500</text><line x1="1367.6" y1="69.4" x2="1358.6" y2="69.4" stroke="#000" stroke-width="2.5"/><line x1="1367.6" y1="17.3" x2="1351.0" y2="17.3" stroke="#000" stroke-width="2.5"/><text x="1384.5" y="28.8" font-size="39" text-anchor="start" fill="#000" stroke="#000" stroke-width="0.35">3000</text><text x="444.1" y="726.5" font-size="39.5" text-anchor="middle" fill="#000" stroke="#000" stroke-width="0.35">Temperature (K)</text><text x="1079.5" y="726.5" font-size="39.5" text-anchor="middle" fill="#000" stroke="#000" stroke-width="0.35">Temperature (K)</text><text x="232.5" y="105.8" font-size="38" text-anchor="start" fill="#000" stroke="#000" stroke-width="0.35">SBN-81</text><text x="232.5" y="153.3" font-size="38" text-anchor="start" fill="#000" stroke="#000" stroke-width="0.35">E||c</text><text x="585.6" y="612.0" font-size="35" text-anchor="start" fill="#000" stroke="#000" stroke-width="0.35">cooling</text><line x1="578.0" y1="618.6" x2="694.2" y2="618.6" stroke="#000" stroke-width="2.2"/><path d="M566,618.8 L581.5,613.2 L581.5,624.4 Z" fill="#000"/><line x1="795.5" y1="50.5" x2="873.5" y2="50.5" stroke="#000000" stroke-width="3.1" stroke-linecap="round"/><text x="884.0" y="62.7" font-size="35" text-anchor="start" fill="#000" stroke="#000" stroke-width="0.35">1 MHz</text><line x1="795.5" y1="92.7" x2="873.5" y2="92.7" stroke="#ff0000" stroke-width="3.1" stroke-linecap="round"/><text x="884.0" y="104.9" font-size="35" text-anchor="start" fill="#000" stroke="#000" stroke-width="0.35">3 MHz</text><line x1="795.5" y1="134.9" x2="873.5" y2="134.9" stroke="#008000" stroke-width="3.1" stroke-linecap="round"/><text x="884.0" y="147.1" font-size="35" text-anchor="start" fill="#000" stroke="#000" stroke-width="0.35">10 MHz</text><line x1="795.5" y1="177.1" x2="873.5" y2="177.1" stroke="#0000ff" stroke-width="3.1" stroke-linecap="round"/><text x="884.0" y="189.3" font-size="35" text-anchor="start" fill="#000" stroke="#000" stroke-width="0.35">30 MHz</text><line x1="795.5" y1="219.3" x2="873.5" y2="219.3" stroke="#ff00ff" stroke-width="3.1" stroke-linecap="round"/><text x="884.0" y="231.5" font-size="35" text-anchor="start" fill="#000" stroke="#000" stroke-width="0.35">100 MHz</text><line x1="795.5" y1="261.5" x2="873.5" y2="261.5" stroke="#00ffff" stroke-width="3.1" stroke-linecap="round"/><text x="884.0" y="273.7" font-size="35" text-anchor="start" fill="#000" stroke="#000" stroke-width="0.35">300 MHz</text><line x1="795.5" y1="303.7" x2="873.5" y2="303.7" stroke="#ff8000" stroke-width="3.1" stroke-linecap="round"/><text x="884.0" y="315.9" font-size="35" text-anchor="start" fill="#000" stroke="#000" stroke-width="0.35">1 GHz</text><line x1="795.5" y1="345.9" x2="873.5" y2="345.9" stroke="#808000" stroke-width="3.1" stroke-linecap="round"/><text x="884.0" y="358.1" font-size="35" text-anchor="start" fill="#000" stroke="#000" stroke-width="0.35">1.8 GHz</text><text x="14.6" y="312.4" font-size="64" stroke="#000" stroke-width="1.1" font-family="'Liberation Serif', serif">&#949;</text><text x="41.0" y="297.0" font-size="35" font-family="'Liberation Serif', serif">&#8217;</text><text x="40.6" y="336.6" font-size="39" text-anchor="start" fill="#000" stroke="#000" stroke-width="0.35">c</text><text x="1452.2" y="286.7" font-size="64" stroke="#000" stroke-width="1.1" font-family="'Liberation Serif', serif">&#949;</text><text x="1478.6" y="271.9" font-size="35" font-family="'Liberation Serif', serif">&#8217;</text><text x="1489.4" y="271.9" font-size="35" font-family="'Liberation Serif', serif">&#8217;</text><text x="1477.8" y="311.3" font-size="39" text-anchor="start" fill="#000" stroke="#000" stroke-width="0.35">c</text><rect x="113.8" y="788.5" width="504.6" height="695.7" fill="#fff"/><defs><linearGradient id="h1"><stop offset="0.000" stop-color="#000094"/><stop offset="0.137" stop-color="#0000a2"/><stop offset="0.282" stop-color="#0003ff"/><stop offset="0.387" stop-color="#0049ff"/><stop offset="0.513" stop-color="#0089ff"/><stop offset="0.665" stop-color="#03fffc"/><stop offset="0.911" stop-color="#acff53"/><stop offset="0.961" stop-color="#c5ff3a"/><stop offset="1.000" stop-color="#d1ff2e"/></linearGradient><linearGradient id="h2"><stop offset="0.000" stop-color="#000094"/><stop offset="0.137" stop-color="#0000a2"/><stop offset="0.282" stop-color="#0003ff"/><stop offset="0.387" stop-color="#0049ff"/><stop offset="0.513" stop-color="#0089ff"/><stop offset="0.665" stop-color="#03fffc"/><stop offset="0.911" stop-color="#acff53"/><stop offset="0.961" stop-color="#c5ff3a"/><stop offset="1.000" stop-color="#d1ff2e"/></linearGradient><linearGradient id="h3"><stop offset="0.000" stop-color="#000094"/><stop offset="0.137" stop-color="#0000a2"/><stop offset="0.282" stop-color="#0003ff"/><stop offset="0.387" stop-color="#0049ff"/><stop offset="0.513" stop-color="#0089ff"/><stop offset="0.665" stop-color="#03fffc"/><stop offset="0.911" stop-color="#acff53"/><stop offset="0.961" stop-color="#c5ff3a"/><stop offset="1.000" stop-color="#d1ff2e"/></linearGradient><linearGradient id="h4"><stop offset="0.000" stop-color="#000094"/><stop offset="0.137" stop-color="#0000a2"/><stop offset="0.282" stop-color="#0003ff"/><stop offset="0.387" stop-color="#0049ff"/><stop offset="0.513" stop-color="#0089ff"/><stop offset="0.665" stop-color="#03fffc"/><stop offset="0.911" stop-color="#acff53"/><stop offset="0.961" stop-color="#c5ff3a"/><stop offset="1.000" stop-color="#d1ff2e"/></linearGradient><linearGradient id="h5"><stop offset="0.000" stop-color="#000094"/><stop offset="0.137" stop-color="#0000a2"/><stop offset="0.282" stop-color="#0004ff"/><stop offset="0.387" stop-color="#0049ff"/><stop offset="0.513" stop-color="#0089ff"/><stop offset="0.663" stop-color="#03fffc"/><stop offset="0.896" stop-color="#a4ff5b"/><stop offset="0.959" stop-color="#c4ff3b"/><stop offset="1.000" stop-color="#d0ff2f"/></linearGradient><linearGradient id="h6"><stop offset="0.000" stop-color="#000094"/><stop offset="0.137" stop-color="#0000a2"/><stop offset="0.282" stop-color="#0004ff"/><stop offset="0.389" stop-color="#004bff"/><stop offset="0.516" stop-color="#008cff"/><stop offset="0.656" stop-color="#03fffc"/><stop offset="0.874" stop-color="#9aff65"/><stop offset="0.957" stop-color="#c5ff3a"/><stop offset="1.000" stop-color="#d0ff2f"/></linearGradient><linearGradient id="h7"><stop offset="0.000" stop-color="#000094"/><stop offset="0.137" stop-color="#0000a2"/><stop offset="0.280" stop-color="#0003ff"/><stop offset="0.391" stop-color="#004cff"/><stop offset="0.516" stop-color="#008eff"/><stop offset="0.652" stop-color="#04fffb"/><stop offset="0.857" stop-color="#95ff6a"/><stop offset="0.957" stop-color="#c5ff3a"/><stop offset="1.000" stop-color="#d0ff2f"/></linearGradient><linearGradient id="h8"><stop offset="0.000" stop-color="#000094"/><stop offset="0.139" stop-color="#0000a3"/><stop offset="0.280" stop-color="#0003ff"/><stop offset="0.393" stop-color="#004dff"/><stop offset="0.516" stop-color="#008fff"/><stop offset="0.648" stop-color="#04fffb"/><stop offset="0.764" stop-color="#5cffa3"/><stop offset="0.872" stop-color="#a0ff5f"/><stop offset="0.959" stop-color="#c6ff39"/><stop offset="1.000" stop-color="#cfff30"/></linearGradient><linearGradient id="h9"><stop offset="0.000" stop-color="#000094"/><stop offset="0.139" stop-color="#0000a3"/><stop offset="0.280" stop-color="#0004ff"/><stop offset="0.395" stop-color="#004eff"/><stop offset="0.518" stop-color="#0092ff"/><stop offset="0.642" stop-color="#02fffd"/><stop offset="0.720" stop-color="#43ffbc"/><stop offset="0.861" stop-color="#a0ff5f"/><stop offset="0.961" stop-color="#c7ff38"/><stop offset="1.000" stop-color="#cfff30"/></linearGradient><linearGradient id="h10"><stop offset="0.000" stop-color="#000094"/><stop offset="0.139" stop-color="#0000a2"/><stop offset="0.280" stop-color="#0004ff"/><stop offset="0.398" stop-color="#004fff"/><stop offset="0.518" stop-color="#0093ff"/><stop offset="0.627" stop-color="#00f7ff"/><stop offset="0.642" stop-color="#06fff9"/><stop offset="0.712" stop-color="#43ffbc"/><stop offset="0.859" stop-color="#a3ff5c"/><stop offset="0.961" stop-color="#c8ff37"/><stop offset="1.000" stop-color="#ceff31"/></linearGradient><linearGradient id="h11"><stop offset="0.000" stop-color="#000094"/><stop offset="0.139" stop-color="#0000a2"/><stop offset="0.277" stop-color="#0003ff"/><stop offset="0.402" stop-color="#0052ff"/><stop offset="0.520" stop-color="#0096ff"/><stop offset="0.611" stop-color="#00e9ff"/><stop offset="0.636" stop-color="#04fffb"/><stop offset="0.704" stop-color="#42ffbd"/><stop offset="0.857" stop-color="#a7ff58"/><stop offset="0.963" stop-color="#c9ff36"/><stop offset="1.000" stop-color="#ceff31"/></linearGradient><linearGradient id="h12"><stop offset="0.000" stop-color="#000094"/><stop offset="0.139" stop-color="#0000a2"/><stop offset="0.277" stop-color="#0003ff"/><stop offset="0.406" stop-color="#0054ff"/><stop offset="0.520" stop-color="#0098ff"/><stop offset="0.600" stop-color="#00e1ff"/><stop offset="0.631" stop-color="#03fffc"/><stop offset="0.700" stop-color="#45ffba"/><stop offset="0.853" stop-color="#aaff55"/><stop offset="0.963" stop-color="#c9ff36"/><stop offset="1.000" stop-color="#cdff32"/></linearGradient><linearGradient id="h13"><stop offset="0.000" stop-color="#000094"/><stop offset="0.141" stop-color="#0000a3"/><stop offset="0.277" stop-color="#0004ff"/><stop offset="0.410" stop-color="#0057ff"/><stop offset="0.522" stop-color="#009bff"/><stop offset="0.592" stop-color="#00dbff"/><stop offset="0.629" stop-color="#04fffb"/><stop offset="0.698" stop-color="#49ffb6"/><stop offset="0.851" stop-color="#aeff51"/><stop offset="0.965" stop-color="#caff35"/><stop offset="1.000" stop-color="#cdff32"/></linearGradient><linearGradient id="h14"><stop offset="0.000" stop-color="#000094"/><stop offset="0.141" stop-color="#0000a3"/><stop offset="0.275" stop-color="#0003ff"/><stop offset="0.416" stop-color="#005bff"/><stop offset="0.524" stop-color="#009eff"/><stop offset="0.588" stop-color="#00d9ff"/><stop offset="0.625" stop-color="#03fffc"/><stop offset="0.696" stop-color="#4dffb2"/><stop offset="0.847" stop-color="#b2ff4d"/><stop offset="0.967" stop-color="#caff35"/><stop offset="1.000" stop-color="#ccff33"/></linearGradient><linearGradient id="h15"><stop offset="0.000" stop-color="#000094"/><stop offset="0.141" stop-color="#0000a2"/><stop offset="0.275" stop-color="#0003ff"/><stop offset="0.424" stop-color="#0060ff"/><stop offset="0.526" stop-color="#00a1ff"/><stop offset="0.584" stop-color="#00d6ff"/><stop offset="0.623" stop-color="#04fffb"/><stop offset="0.696" stop-color="#53ffac"/><stop offset="0.845" stop-color="#b6ff49"/><stop offset="0.969" stop-color="#cbff34"/><stop offset="1.000" stop-color="#ccff33"/></linearGradient><linearGradient id="h16"><stop offset="0.000" stop-color="#000094"/><stop offset="0.141" stop-color="#0000a2"/><stop offset="0.275" stop-color="#0003ff"/><stop offset="0.439" stop-color="#0068ff"/><stop offset="0.532" stop-color="#00a7ff"/><stop offset="0.584" stop-color="#00d8ff"/><stop offset="0.621" stop-color="#04fffb"/><stop offset="0.694" stop-color="#57ffa8"/><stop offset="0.845" stop-color="#bbff44"/><stop offset="0.973" stop-color="#cbff34"/><stop offset="1.000" stop-color="#cbff34"/></linearGradient><linearGradient id="h17"><stop offset="0.000" stop-color="#000094"/><stop offset="0.141" stop-color="#0000a2"/><stop offset="0.273" stop-color="#0002ff"/><stop offset="0.458" stop-color="#0073ff"/><stop offset="0.559" stop-color="#00beff"/><stop offset="0.617" stop-color="#02fffd"/><stop offset="0.694" stop-color="#5cffa3"/><stop offset="0.843" stop-color="#c0ff3f"/><stop offset="0.975" stop-color="#cbff34"/><stop offset="1.000" stop-color="#cbff34"/></linearGradient><linearGradient id="h18"><stop offset="0.000" stop-color="#000094"/><stop offset="0.141" stop-color="#0000a2"/><stop offset="0.273" stop-color="#0003ff"/><stop offset="0.516" stop-color="#009cff"/><stop offset="0.573" stop-color="#00d0ff"/><stop offset="0.615" stop-color="#03fffc"/><stop offset="0.694" stop-color="#62ff9d"/><stop offset="0.834" stop-color="#c0ff3f"/><stop offset="0.915" stop-color="#ccff33"/><stop offset="1.000" stop-color="#caff35"/></linearGradient><linearGradient id="h19"><stop offset="0.000" stop-color="#000094"/><stop offset="0.143" stop-color="#0000a3"/><stop offset="0.273" stop-color="#0003ff"/><stop offset="0.511" stop-color="#009aff"/><stop offset="0.571" stop-color="#00cfff"/><stop offset="0.613" stop-color="#03fffc"/><stop offset="0.692" stop-color="#66ff99"/><stop offset="0.826" stop-color="#c0ff3f"/><stop offset="0.857" stop-color="#cbff34"/><stop offset="0.994" stop-color="#caff35"/><stop offset="1.000" stop-color="#caff35"/></linearGradient><linearGradient id="h20"><stop offset="0.000" stop-color="#000094"/><stop offset="0.143" stop-color="#0000a3"/><stop offset="0.273" stop-color="#0003ff"/><stop offset="0.509" stop-color="#009aff"/><stop offset="0.569" stop-color="#00ceff"/><stop offset="0.611" stop-color="#03fffc"/><stop offset="0.692" stop-color="#6cff93"/><stop offset="0.820" stop-color="#c1ff3e"/><stop offset="0.853" stop-color="#d0ff2f"/><stop offset="1.000" stop-color="#c9ff36"/></linearGradient><linearGradient id="h21"><stop offset="0.000" stop-color="#000094"/><stop offset="0.143" stop-color="#0000a2"/><stop offset="0.271" stop-color="#0002ff"/><stop offset="0.507" stop-color="#009aff"/><stop offset="0.569" stop-color="#00d0ff"/><stop offset="0.609" stop-color="#03fffc"/><stop offset="0.692" stop-color="#71ff8e"/><stop offset="0.816" stop-color="#c4ff3b"/><stop offset="0.851" stop-color="#d4ff2b"/><stop offset="1.000" stop-color="#c9ff36"/></linearGradient><linearGradient id="h22"><stop offset="0.000" stop-color="#000094"/><stop offset="0.143" stop-color="#0000a2"/><stop offset="0.271" stop-color="#0003ff"/><stop offset="0.503" stop-color="#0098ff"/><stop offset="0.567" stop-color="#00cfff"/><stop offset="0.607" stop-color="#02fffd"/><stop offset="0.692" stop-color="#77ff88"/><stop offset="0.812" stop-color="#c7ff38"/><stop offset="0.851" stop-color="#d9ff26"/><stop offset="1.000" stop-color="#c8ff37"/></linearGradient><linearGradient id="h23"><stop offset="0.000" stop-color="#000094"/><stop offset="0.143" stop-color="#0000a2"/><stop offset="0.271" stop-color="#0003ff"/><stop offset="0.499" stop-color="#0096ff"/><stop offset="0.567" stop-color="#00d0ff"/><stop offset="0.605" stop-color="#02fffd"/><stop offset="0.689" stop-color="#7bff84"/><stop offset="0.807" stop-color="#caff35"/><stop offset="0.849" stop-color="#deff21"/><stop offset="1.000" stop-color="#c8ff37"/></linearGradient><linearGradient id="h24"><stop offset="0.000" stop-color="#000094"/><stop offset="0.143" stop-color="#0000a2"/><stop offset="0.269" stop-color="#0002ff"/><stop offset="0.497" stop-color="#0096ff"/><stop offset="0.567" stop-color="#00d2ff"/><stop offset="0.602" stop-color="#01fffe"/><stop offset="0.689" stop-color="#80ff7f"/><stop offset="0.803" stop-color="#cdff32"/><stop offset="0.849" stop-color="#e3ff1c"/><stop offset="1.000" stop-color="#c7ff38"/></linearGradient><linearGradient id="h25"><stop offset="0.000" stop-color="#000094"/><stop offset="0.143" stop-color="#0000a2"/><stop offset="0.269" stop-color="#0002ff"/><stop offset="0.493" stop-color="#0094ff"/><stop offset="0.567" stop-color="#00d4ff"/><stop offset="0.600" stop-color="#02fffd"/><stop offset="0.689" stop-color="#85ff7a"/><stop offset="0.799" stop-color="#d0ff2f"/><stop offset="0.849" stop-color="#e7ff18"/><stop offset="1.000" stop-color="#c7ff38"/></linearGradient><linearGradient id="h26"><stop offset="0.000" stop-color="#000094"/><stop offset="0.143" stop-color="#0000a2"/><stop offset="0.269" stop-color="#0002ff"/><stop offset="0.480" stop-color="#008bff"/><stop offset="0.567" stop-color="#00d7ff"/><stop offset="0.598" stop-color="#03fffc"/><stop offset="0.689" stop-color="#89ff76"/><stop offset="0.795" stop-color="#d3ff2c"/><stop offset="0.849" stop-color="#ebff14"/><stop offset="1.000" stop-color="#c6ff39"/></linearGradient><linearGradient id="h27"><stop offset="0.000" stop-color="#000094"/><stop offset="0.143" stop-color="#0000a2"/><stop offset="0.269" stop-color="#0002ff"/><stop offset="0.472" stop-color="#0084ff"/><stop offset="0.567" stop-color="#00d9ff"/><stop offset="0.596" stop-color="#03fffc"/><stop offset="0.689" stop-color="#8cff73"/><stop offset="0.785" stop-color="#d3ff2c"/><stop offset="0.847" stop-color="#efff10"/><stop offset="1.000" stop-color="#c6ff39"/></linearGradient><linearGradient id="h28"><stop offset="0.000" stop-color="#000094"/><stop offset="0.143" stop-color="#0000a3"/><stop offset="0.269" stop-color="#0002ff"/><stop offset="0.466" stop-color="#0080ff"/><stop offset="0.569" stop-color="#00dfff"/><stop offset="0.594" stop-color="#04fffb"/><stop offset="0.687" stop-color="#8eff71"/><stop offset="0.776" stop-color="#d3ff2c"/><stop offset="0.845" stop-color="#f4ff0b"/><stop offset="1.000" stop-color="#c6ff39"/></linearGradient><linearGradient id="h29"><stop offset="0.000" stop-color="#000094"/><stop offset="0.141" stop-color="#0000a2"/><stop offset="0.269" stop-color="#0002ff"/><stop offset="0.458" stop-color="#007aff"/><stop offset="0.569" stop-color="#00e1ff"/><stop offset="0.592" stop-color="#04fffb"/><stop offset="0.679" stop-color="#87ff78"/><stop offset="0.760" stop-color="#ceff31"/><stop offset="0.841" stop-color="#f7ff08"/><stop offset="0.971" stop-color="#d0ff2f"/><stop offset="1.000" stop-color="#c5ff3a"/></linearGradient><linearGradient id="h30"><stop offset="0.000" stop-color="#000094"/><stop offset="0.141" stop-color="#0000a2"/><stop offset="0.269" stop-color="#0002ff"/><stop offset="0.453" stop-color="#0077ff"/><stop offset="0.569" stop-color="#00e4ff"/><stop offset="0.590" stop-color="#05fffa"/><stop offset="0.665" stop-color="#77ff88"/><stop offset="0.698" stop-color="#9fff60"/><stop offset="0.766" stop-color="#d8ff27"/><stop offset="0.839" stop-color="#fbff04"/><stop offset="0.959" stop-color="#d5ff2a"/><stop offset="1.000" stop-color="#c5ff3a"/></linearGradient><linearGradient id="h31"><stop offset="0.000" stop-color="#000094"/><stop offset="0.141" stop-color="#0000a2"/><stop offset="0.269" stop-color="#0002ff"/><stop offset="0.449" stop-color="#0073ff"/><stop offset="0.571" stop-color="#00eaff"/><stop offset="0.588" stop-color="#05fffa"/><stop offset="0.658" stop-color="#73ff8c"/><stop offset="0.700" stop-color="#a5ff5a"/><stop offset="0.760" stop-color="#d9ff26"/><stop offset="0.834" stop-color="#ffff00"/><stop offset="0.946" stop-color="#dbff24"/><stop offset="1.000" stop-color="#c4ff3b"/></linearGradient><linearGradient id="h32"><stop offset="0.000" stop-color="#000094"/><stop offset="0.141" stop-color="#0000a3"/><stop offset="0.269" stop-color="#0002ff"/><stop offset="0.447" stop-color="#0071ff"/><stop offset="0.571" stop-color="#00ecff"/><stop offset="0.586" stop-color="#05fffa"/><stop offset="0.654" stop-color="#71ff8e"/><stop offset="0.700" stop-color="#a9ff56"/><stop offset="0.758" stop-color="#ddff22"/><stop offset="0.824" stop-color="#fffc00"/><stop offset="0.876" stop-color="#f9ff06"/><stop offset="1.000" stop-color="#c4ff3b"/></linearGradient><linearGradient id="h33"><stop offset="0.000" stop-color="#000094"/><stop offset="0.139" stop-color="#0000a2"/><stop offset="0.269" stop-color="#0002ff"/><stop offset="0.445" stop-color="#006fff"/><stop offset="0.571" stop-color="#00efff"/><stop offset="0.584" stop-color="#04fffb"/><stop offset="0.650" stop-color="#70ff8f"/><stop offset="0.704" stop-color="#b2ff4d"/><stop offset="0.756" stop-color="#e1ff1e"/><stop offset="0.816" stop-color="#fffb00"/><stop offset="0.843" stop-color="#fff600"/><stop offset="0.886" stop-color="#f8ff07"/><stop offset="1.000" stop-color="#c3ff3c"/></linearGradient><linearGradient id="h34"><stop offset="0.000" stop-color="#000094"/><stop offset="0.139" stop-color="#0000a2"/><stop offset="0.269" stop-color="#0002ff"/><stop offset="0.445" stop-color="#006fff"/><stop offset="0.573" stop-color="#00f5ff"/><stop offset="0.584" stop-color="#08fff7"/><stop offset="0.648" stop-color="#72ff8d"/><stop offset="0.710" stop-color="#bcff43"/><stop offset="0.754" stop-color="#e5ff1a"/><stop offset="0.807" stop-color="#fffa00"/><stop offset="0.834" stop-color="#fff100"/><stop offset="0.890" stop-color="#faff05"/><stop offset="1.000" stop-color="#c3ff3c"/></linearGradient><linearGradient id="h35"><stop offset="0.000" stop-color="#000094"/><stop offset="0.139" stop-color="#0000a2"/><stop offset="0.269" stop-color="#0002ff"/><stop offset="0.443" stop-color="#006dff"/><stop offset="0.573" stop-color="#00f8ff"/><stop offset="0.582" stop-color="#07fff8"/><stop offset="0.648" stop-color="#76ff89"/><stop offset="0.725" stop-color="#d1ff2e"/><stop offset="0.758" stop-color="#edff12"/><stop offset="0.797" stop-color="#fffb00"/><stop offset="0.832" stop-color="#ffec00"/><stop offset="0.894" stop-color="#fbff04"/><stop offset="1.000" stop-color="#c2ff3d"/></linearGradient><linearGradient id="h36"><stop offset="0.000" stop-color="#000094"/><stop offset="0.139" stop-color="#0000a3"/><stop offset="0.269" stop-color="#0002ff"/><stop offset="0.431" stop-color="#0061ff"/><stop offset="0.573" stop-color="#00fbff"/><stop offset="0.636" stop-color="#6aff95"/><stop offset="0.727" stop-color="#d8ff27"/><stop offset="0.758" stop-color="#f2ff0d"/><stop offset="0.791" stop-color="#fff900"/><stop offset="0.832" stop-color="#ffe700"/><stop offset="0.901" stop-color="#fbff04"/><stop offset="1.000" stop-color="#c2ff3d"/></linearGradient><linearGradient id="h37"><stop offset="0.000" stop-color="#000094"/><stop offset="0.137" stop-color="#0000a2"/><stop offset="0.269" stop-color="#0002ff"/><stop offset="0.422" stop-color="#005cff"/><stop offset="0.449" stop-color="#0073ff"/><stop offset="0.576" stop-color="#02fffd"/><stop offset="0.644" stop-color="#7aff85"/><stop offset="0.747" stop-color="#f2ff0d"/><stop offset="0.778" stop-color="#fffb00"/><stop offset="0.830" stop-color="#ffe200"/><stop offset="0.905" stop-color="#fbff04"/><stop offset="1.000" stop-color="#c2ff3d"/></linearGradient><linearGradient id="h38"><stop offset="0.000" stop-color="#000094"/><stop offset="0.137" stop-color="#0000a2"/><stop offset="0.269" stop-color="#0002ff"/><stop offset="0.416" stop-color="#0059ff"/><stop offset="0.443" stop-color="#006cff"/><stop offset="0.573" stop-color="#01fffe"/><stop offset="0.644" stop-color="#7eff81"/><stop offset="0.747" stop-color="#f7ff08"/><stop offset="0.776" stop-color="#fff600"/><stop offset="0.830" stop-color="#ffdd00"/><stop offset="0.911" stop-color="#fbff04"/><stop offset="1.000" stop-color="#c1ff3e"/></linearGradient><linearGradient id="h39"><stop offset="0.000" stop-color="#000094"/><stop offset="0.137" stop-color="#0000a3"/><stop offset="0.269" stop-color="#0002ff"/><stop offset="0.412" stop-color="#0056ff"/><stop offset="0.441" stop-color="#0069ff"/><stop offset="0.571" stop-color="#00ffff"/><stop offset="0.644" stop-color="#83ff7c"/><stop offset="0.747" stop-color="#fdff02"/><stop offset="0.830" stop-color="#ffd800"/><stop offset="0.913" stop-color="#fcff03"/><stop offset="1.000" stop-color="#c1ff3e"/></linearGradient><linearGradient id="h40"><stop offset="0.000" stop-color="#000094"/><stop offset="0.137" stop-color="#0000a3"/><stop offset="0.269" stop-color="#0002ff"/><stop offset="0.408" stop-color="#0054ff"/><stop offset="0.441" stop-color="#0069ff"/><stop offset="0.571" stop-color="#03fffc"/><stop offset="0.644" stop-color="#87ff78"/><stop offset="0.743" stop-color="#fffe00"/><stop offset="0.830" stop-color="#ffd300"/><stop offset="0.917" stop-color="#fbff04"/><stop offset="1.000" stop-color="#c0ff3f"/></linearGradient><linearGradient id="h41"><stop offset="0.000" stop-color="#000094"/><stop offset="0.137" stop-color="#0000a4"/><stop offset="0.269" stop-color="#0003ff"/><stop offset="0.412" stop-color="#0057ff"/><stop offset="0.441" stop-color="#006bff"/><stop offset="0.567" stop-color="#02fffd"/><stop offset="0.644" stop-color="#8bff74"/><stop offset="0.741" stop-color="#fffc00"/><stop offset="0.830" stop-color="#ffd100"/><stop offset="0.917" stop-color="#fbff04"/><stop offset="1.000" stop-color="#c0ff3f"/></linearGradient><linearGradient id="h42"><stop offset="0.000" stop-color="#000093"/><stop offset="0.137" stop-color="#0000a6"/><stop offset="0.267" stop-color="#0003ff"/><stop offset="0.420" stop-color="#005dff"/><stop offset="0.445" stop-color="#0072ff"/><stop offset="0.565" stop-color="#04fffb"/><stop offset="0.644" stop-color="#8fff70"/><stop offset="0.737" stop-color="#fffd00"/><stop offset="0.826" stop-color="#ffce00"/><stop offset="0.917" stop-color="#fcff03"/><stop offset="1.000" stop-color="#c0ff3f"/></linearGradient><linearGradient id="h43"><stop offset="0.000" stop-color="#000093"/><stop offset="0.137" stop-color="#0000a8"/><stop offset="0.267" stop-color="#0003ff"/><stop offset="0.441" stop-color="#006fff"/><stop offset="0.561" stop-color="#03fffc"/><stop offset="0.605" stop-color="#4effb1"/><stop offset="0.644" stop-color="#92ff6d"/><stop offset="0.735" stop-color="#fffc00"/><stop offset="0.785" stop-color="#ffdd00"/><stop offset="0.830" stop-color="#ffce00"/><stop offset="0.919" stop-color="#fbff04"/><stop offset="1.000" stop-color="#c0ff3f"/></linearGradient><linearGradient id="h44"><stop offset="0.000" stop-color="#000093"/><stop offset="0.137" stop-color="#0000a9"/><stop offset="0.267" stop-color="#0004ff"/><stop offset="0.441" stop-color="#0071ff"/><stop offset="0.559" stop-color="#04fffb"/><stop offset="0.594" stop-color="#3fffc0"/><stop offset="0.644" stop-color="#96ff69"/><stop offset="0.731" stop-color="#fffd00"/><stop offset="0.760" stop-color="#ffe600"/><stop offset="0.828" stop-color="#ffcb00"/><stop offset="0.919" stop-color="#fcff03"/><stop offset="1.000" stop-color="#c0ff3f"/></linearGradient><linearGradient id="h45"><stop offset="0.000" stop-color="#000092"/><stop offset="0.137" stop-color="#0000ab"/><stop offset="0.265" stop-color="#0004ff"/><stop offset="0.441" stop-color="#0073ff"/><stop offset="0.555" stop-color="#03fffc"/><stop offset="0.586" stop-color="#34ffcb"/><stop offset="0.646" stop-color="#9cff63"/><stop offset="0.729" stop-color="#fffc00"/><stop offset="0.758" stop-color="#ffe300"/><stop offset="0.826" stop-color="#ffc900"/><stop offset="0.921" stop-color="#fbff04"/><stop offset="1.000" stop-color="#c0ff3f"/></linearGradient><linearGradient id="h46"><stop offset="0.000" stop-color="#000092"/><stop offset="0.135" stop-color="#0000ab"/><stop offset="0.263" stop-color="#0003ff"/><stop offset="0.441" stop-color="#0074ff"/><stop offset="0.553" stop-color="#04fffb"/><stop offset="0.586" stop-color="#39ffc6"/><stop offset="0.646" stop-color="#a0ff5f"/><stop offset="0.725" stop-color="#fffd00"/><stop offset="0.754" stop-color="#ffe200"/><stop offset="0.816" stop-color="#ffc900"/><stop offset="0.834" stop-color="#ffcc00"/><stop offset="0.921" stop-color="#fbff04"/><stop offset="1.000" stop-color="#c0ff3f"/></linearGradient><linearGradient id="h47"><stop offset="0.000" stop-color="#000091"/><stop offset="0.135" stop-color="#0000ac"/><stop offset="0.263" stop-color="#0004ff"/><stop offset="0.441" stop-color="#0076ff"/><stop offset="0.532" stop-color="#00e9ff"/><stop offset="0.551" stop-color="#04fffb"/><stop offset="0.588" stop-color="#41ffbe"/><stop offset="0.646" stop-color="#a4ff5b"/><stop offset="0.720" stop-color="#fffd00"/><stop offset="0.754" stop-color="#ffde00"/><stop offset="0.812" stop-color="#ffc700"/><stop offset="0.834" stop-color="#ffca00"/><stop offset="0.921" stop-color="#fcff03"/><stop offset="1.000" stop-color="#c0ff3f"/></linearGradient><linearGradient id="h48"><stop offset="0.000" stop-color="#000091"/><stop offset="0.133" stop-color="#0000ac"/><stop offset="0.261" stop-color="#0003ff"/><stop offset="0.441" stop-color="#0078ff"/><stop offset="0.524" stop-color="#00e0ff"/><stop offset="0.547" stop-color="#02fffd"/><stop offset="0.590" stop-color="#49ffb6"/><stop offset="0.646" stop-color="#a7ff58"/><stop offset="0.716" stop-color="#fffe00"/><stop offset="0.754" stop-color="#ffda00"/><stop offset="0.810" stop-color="#ffc500"/><stop offset="0.834" stop-color="#ffc900"/><stop offset="0.923" stop-color="#fbff04"/><stop offset="1.000" stop-color="#c0ff3f"/></linearGradient><linearGradient id="h49"><stop offset="0.000" stop-color="#000091"/><stop offset="0.130" stop-color="#0000ad"/><stop offset="0.261" stop-color="#0004ff"/><stop offset="0.441" stop-color="#007aff"/><stop offset="0.520" stop-color="#00ddff"/><stop offset="0.545" stop-color="#03fffc"/><stop offset="0.596" stop-color="#58ffa7"/><stop offset="0.648" stop-color="#aeff51"/><stop offset="0.712" stop-color="#fffe00"/><stop offset="0.754" stop-color="#ffd600"/><stop offset="0.807" stop-color="#ffc300"/><stop offset="0.834" stop-color="#ffc700"/><stop offset="0.923" stop-color="#fcff03"/><stop offset="1.000" stop-color="#c0ff3f"/></linearGradient><linearGradient id="h50"><stop offset="0.000" stop-color="#000090"/><stop offset="0.126" stop-color="#0000ad"/><stop offset="0.259" stop-color="#0003ff"/><stop offset="0.441" stop-color="#007cff"/><stop offset="0.516" stop-color="#00d9ff"/><stop offset="0.542" stop-color="#03fffc"/><stop offset="0.613" stop-color="#79ff86"/><stop offset="0.652" stop-color="#b7ff48"/><stop offset="0.708" stop-color="#ffff00"/><stop offset="0.754" stop-color="#ffd200"/><stop offset="0.805" stop-color="#ffc000"/><stop offset="0.834" stop-color="#ffc600"/><stop offset="0.923" stop-color="#fcff03"/><stop offset="1.000" stop-color="#c0ff3f"/></linearGradient><linearGradient id="h51"><stop offset="0.000" stop-color="#000090"/><stop offset="0.116" stop-color="#0000ab"/><stop offset="0.226" stop-color="#0000ed"/><stop offset="0.259" stop-color="#0004ff"/><stop offset="0.439" stop-color="#007cff"/><stop offset="0.507" stop-color="#00d0ff"/><stop offset="0.540" stop-color="#03fffc"/><stop offset="0.648" stop-color="#b5ff4a"/><stop offset="0.704" stop-color="#ffff00"/><stop offset="0.754" stop-color="#ffcf00"/><stop offset="0.803" stop-color="#ffbd00"/><stop offset="0.834" stop-color="#ffc400"/><stop offset="0.925" stop-color="#fbff04"/><stop offset="1.000" stop-color="#c0ff3f"/></linearGradient><linearGradient id="h52"><stop offset="0.000" stop-color="#000090"/><stop offset="0.110" stop-color="#0000aa"/><stop offset="0.170" stop-color="#0000ca"/><stop offset="0.257" stop-color="#0003ff"/><stop offset="0.439" stop-color="#007eff"/><stop offset="0.503" stop-color="#00ccff"/><stop offset="0.538" stop-color="#03fffc"/><stop offset="0.650" stop-color="#bcff43"/><stop offset="0.700" stop-color="#ffff00"/><stop offset="0.756" stop-color="#ffc900"/><stop offset="0.803" stop-color="#ffba00"/><stop offset="0.836" stop-color="#ffc400"/><stop offset="0.925" stop-color="#fcff03"/><stop offset="1.000" stop-color="#c0ff3f"/></linearGradient><linearGradient id="h53"><stop offset="0.000" stop-color="#00008f"/><stop offset="0.104" stop-color="#0000a9"/><stop offset="0.164" stop-color="#0000c8"/><stop offset="0.257" stop-color="#0004ff"/><stop offset="0.439" stop-color="#0080ff"/><stop offset="0.501" stop-color="#00ccff"/><stop offset="0.536" stop-color="#03fffc"/><stop offset="0.650" stop-color="#bfff40"/><stop offset="0.698" stop-color="#fffd00"/><stop offset="0.756" stop-color="#ffc500"/><stop offset="0.803" stop-color="#ffb700"/><stop offset="0.836" stop-color="#ffc200"/><stop offset="0.925" stop-color="#fcff03"/><stop offset="1.000" stop-color="#c0ff3f"/></linearGradient><linearGradient id="h54"><stop offset="0.000" stop-color="#00008f"/><stop offset="0.099" stop-color="#0000a9"/><stop offset="0.166" stop-color="#0000ca"/><stop offset="0.255" stop-color="#0003ff"/><stop offset="0.437" stop-color="#007fff"/><stop offset="0.499" stop-color="#00cbff"/><stop offset="0.534" stop-color="#02fffd"/><stop offset="0.650" stop-color="#c3ff3c"/><stop offset="0.694" stop-color="#fffd00"/><stop offset="0.756" stop-color="#ffc200"/><stop offset="0.801" stop-color="#ffb300"/><stop offset="0.839" stop-color="#ffc200"/><stop offset="0.928" stop-color="#fbff04"/><stop offset="1.000" stop-color="#c0ff3f"/></linearGradient><linearGradient id="h55"><stop offset="0.000" stop-color="#00008f"/><stop offset="0.095" stop-color="#0000a8"/><stop offset="0.170" stop-color="#0000ce"/><stop offset="0.255" stop-color="#0004ff"/><stop offset="0.435" stop-color="#007fff"/><stop offset="0.497" stop-color="#00c9ff"/><stop offset="0.532" stop-color="#02fffd"/><stop offset="0.648" stop-color="#c4ff3b"/><stop offset="0.692" stop-color="#fffb00"/><stop offset="0.756" stop-color="#ffbe00"/><stop offset="0.801" stop-color="#ffb000"/><stop offset="0.839" stop-color="#ffc100"/><stop offset="0.928" stop-color="#fcff03"/><stop offset="1.000" stop-color="#c0ff3f"/></linearGradient><linearGradient id="h56"><stop offset="0.000" stop-color="#00008e"/><stop offset="0.093" stop-color="#0000a8"/><stop offset="0.182" stop-color="#0000d7"/><stop offset="0.253" stop-color="#0004ff"/><stop offset="0.427" stop-color="#007aff"/><stop offset="0.493" stop-color="#00c5ff"/><stop offset="0.530" stop-color="#01fffe"/><stop offset="0.638" stop-color="#baff45"/><stop offset="0.687" stop-color="#fffd00"/><stop offset="0.756" stop-color="#ffba00"/><stop offset="0.801" stop-color="#ffad00"/><stop offset="0.843" stop-color="#ffc300"/><stop offset="0.930" stop-color="#fbff04"/><stop offset="1.000" stop-color="#c0ff3f"/></linearGradient><linearGradient id="h57"><stop offset="0.000" stop-color="#00008e"/><stop offset="0.091" stop-color="#0000a8"/><stop offset="0.203" stop-color="#0000e5"/><stop offset="0.253" stop-color="#0004ff"/><stop offset="0.420" stop-color="#0076ff"/><stop offset="0.493" stop-color="#00c7ff"/><stop offset="0.530" stop-color="#04fffb"/><stop offset="0.611" stop-color="#91ff6e"/><stop offset="0.683" stop-color="#ffff00"/><stop offset="0.723" stop-color="#ffd300"/><stop offset="0.764" stop-color="#ffb300"/><stop offset="0.801" stop-color="#ffaa00"/><stop offset="0.845" stop-color="#ffc300"/><stop offset="0.930" stop-color="#fbff04"/><stop offset="1.000" stop-color="#c0ff3f"/></linearGradient><linearGradient id="h58"><stop offset="0.000" stop-color="#00008d"/><stop offset="0.089" stop-color="#0000a8"/><stop offset="0.240" stop-color="#0000fc"/><stop offset="0.377" stop-color="#0058ff"/><stop offset="0.443" stop-color="#008eff"/><stop offset="0.495" stop-color="#00ccff"/><stop offset="0.528" stop-color="#03fffc"/><stop offset="0.598" stop-color="#81ff7e"/><stop offset="0.681" stop-color="#fffe00"/><stop offset="0.710" stop-color="#ffdb00"/><stop offset="0.762" stop-color="#ffb000"/><stop offset="0.801" stop-color="#ffa700"/><stop offset="0.849" stop-color="#ffc500"/><stop offset="0.930" stop-color="#fcff03"/><stop offset="1.000" stop-color="#c0ff3f"/></linearGradient><linearGradient id="h59"><stop offset="0.000" stop-color="#00008d"/><stop offset="0.087" stop-color="#0000a7"/><stop offset="0.248" stop-color="#0003ff"/><stop offset="0.400" stop-color="#006aff"/><stop offset="0.460" stop-color="#00a2ff"/><stop offset="0.497" stop-color="#00d1ff"/><stop offset="0.526" stop-color="#02fffd"/><stop offset="0.592" stop-color="#7bff84"/><stop offset="0.677" stop-color="#feff01"/><stop offset="0.706" stop-color="#ffda00"/><stop offset="0.762" stop-color="#ffac00"/><stop offset="0.799" stop-color="#ffa300"/><stop offset="0.855" stop-color="#ffc800"/><stop offset="0.932" stop-color="#fbff04"/><stop offset="1.000" stop-color="#c0ff3f"/></linearGradient><linearGradient id="h60"><stop offset="0.000" stop-color="#00008d"/><stop offset="0.085" stop-color="#0000a7"/><stop offset="0.248" stop-color="#0004ff"/><stop offset="0.387" stop-color="#0062ff"/><stop offset="0.449" stop-color="#0099ff"/><stop offset="0.493" stop-color="#00cdff"/><stop offset="0.524" stop-color="#01fffe"/><stop offset="0.590" stop-color="#7cff83"/><stop offset="0.675" stop-color="#ffff00"/><stop offset="0.702" stop-color="#ffda00"/><stop offset="0.762" stop-color="#ffa900"/><stop offset="0.799" stop-color="#ffa000"/><stop offset="0.876" stop-color="#ffd700"/><stop offset="0.932" stop-color="#fbff04"/><stop offset="1.000" stop-color="#c0ff3f"/></linearGradient><linearGradient id="h61"><stop offset="0.000" stop-color="#00008c"/><stop offset="0.085" stop-color="#0000a8"/><stop offset="0.246" stop-color="#0004ff"/><stop offset="0.381" stop-color="#005fff"/><stop offset="0.445" stop-color="#0096ff"/><stop offset="0.493" stop-color="#00cfff"/><stop offset="0.524" stop-color="#03fffc"/><stop offset="0.588" stop-color="#7dff82"/><stop offset="0.673" stop-color="#fffe00"/><stop offset="0.702" stop-color="#ffd600"/><stop offset="0.762" stop-color="#ffa500"/><stop offset="0.799" stop-color="#ff9d00"/><stop offset="0.932" stop-color="#fcff03"/><stop offset="1.000" stop-color="#c0ff3f"/></linearGradient><linearGradient id="h62"><stop offset="0.000" stop-color="#00008c"/><stop offset="0.083" stop-color="#0000a7"/><stop offset="0.244" stop-color="#0003ff"/><stop offset="0.375" stop-color="#005bff"/><stop offset="0.443" stop-color="#0096ff"/><stop offset="0.491" stop-color="#00cdff"/><stop offset="0.522" stop-color="#02fffd"/><stop offset="0.586" stop-color="#7eff81"/><stop offset="0.671" stop-color="#fffd00"/><stop offset="0.700" stop-color="#ffd300"/><stop offset="0.762" stop-color="#ffa100"/><stop offset="0.799" stop-color="#ff9900"/><stop offset="0.932" stop-color="#fcff03"/><stop offset="1.000" stop-color="#c0ff3f"/></linearGradient><linearGradient id="h63"><stop offset="0.000" stop-color="#00008c"/><stop offset="0.083" stop-color="#0000a8"/><stop offset="0.244" stop-color="#0004ff"/><stop offset="0.371" stop-color="#0059ff"/><stop offset="0.441" stop-color="#0096ff"/><stop offset="0.491" stop-color="#00cfff"/><stop offset="0.522" stop-color="#04fffb"/><stop offset="0.584" stop-color="#7fff80"/><stop offset="0.669" stop-color="#fffc00"/><stop offset="0.700" stop-color="#ffcf00"/><stop offset="0.764" stop-color="#ff9d00"/><stop offset="0.799" stop-color="#ff9600"/><stop offset="0.934" stop-color="#fbff04"/><stop offset="1.000" stop-color="#c0ff3f"/></linearGradient><linearGradient id="h64"><stop offset="0.000" stop-color="#00008b"/><stop offset="0.081" stop-color="#0000a7"/><stop offset="0.242" stop-color="#0003ff"/><stop offset="0.369" stop-color="#0058ff"/><stop offset="0.441" stop-color="#0097ff"/><stop offset="0.491" stop-color="#00d1ff"/><stop offset="0.520" stop-color="#03fffc"/><stop offset="0.584" stop-color="#84ff7b"/><stop offset="0.667" stop-color="#fffc00"/><stop offset="0.700" stop-color="#ffca00"/><stop offset="0.764" stop-color="#ff9900"/><stop offset="0.799" stop-color="#ff9300"/><stop offset="0.934" stop-color="#fbff04"/><stop offset="1.000" stop-color="#c1ff3e"/></linearGradient><linearGradient id="h65"><stop offset="0.000" stop-color="#00008b"/><stop offset="0.081" stop-color="#0000a7"/><stop offset="0.240" stop-color="#0003ff"/><stop offset="0.366" stop-color="#0058ff"/><stop offset="0.439" stop-color="#0097ff"/><stop offset="0.491" stop-color="#00d3ff"/><stop offset="0.518" stop-color="#01fffe"/><stop offset="0.582" stop-color="#85ff7a"/><stop offset="0.665" stop-color="#fffb00"/><stop offset="0.700" stop-color="#ffc600"/><stop offset="0.764" stop-color="#ff9500"/><stop offset="0.799" stop-color="#ff9000"/><stop offset="0.934" stop-color="#fcff03"/><stop offset="1.000" stop-color="#c1ff3e"/></linearGradient><linearGradient id="h66"><stop offset="0.000" stop-color="#00008b"/><stop offset="0.079" stop-color="#0000a7"/><stop offset="0.238" stop-color="#0002ff"/><stop offset="0.364" stop-color="#0057ff"/><stop offset="0.439" stop-color="#0099ff"/><stop offset="0.489" stop-color="#00d1ff"/><stop offset="0.518" stop-color="#03fffc"/><stop offset="0.582" stop-color="#89ff76"/><stop offset="0.660" stop-color="#fffe00"/><stop offset="0.698" stop-color="#ffc300"/><stop offset="0.764" stop-color="#ff9200"/><stop offset="0.799" stop-color="#ff8d00"/><stop offset="0.934" stop-color="#fcff03"/><stop offset="1.000" stop-color="#c1ff3e"/></linearGradient><linearGradient id="h67"><stop offset="0.000" stop-color="#00008b"/><stop offset="0.079" stop-color="#0000a8"/><stop offset="0.236" stop-color="#0002ff"/><stop offset="0.364" stop-color="#0058ff"/><stop offset="0.439" stop-color="#009bff"/><stop offset="0.489" stop-color="#00d5ff"/><stop offset="0.516" stop-color="#03fffc"/><stop offset="0.582" stop-color="#8eff71"/><stop offset="0.658" stop-color="#fffc00"/><stop offset="0.700" stop-color="#ffbd00"/><stop offset="0.762" stop-color="#ff9000"/><stop offset="0.799" stop-color="#ff8c00"/><stop offset="0.934" stop-color="#fdff02"/><stop offset="1.000" stop-color="#c1ff3e"/></linearGradient><linearGradient id="h68"><stop offset="0.000" stop-color="#00008b"/><stop offset="0.079" stop-color="#0000aa"/><stop offset="0.234" stop-color="#0002ff"/><stop offset="0.364" stop-color="#0059ff"/><stop offset="0.439" stop-color="#009dff"/><stop offset="0.491" stop-color="#00dcff"/><stop offset="0.513" stop-color="#03fffc"/><stop offset="0.582" stop-color="#92ff6d"/><stop offset="0.654" stop-color="#fffe00"/><stop offset="0.700" stop-color="#ffb900"/><stop offset="0.762" stop-color="#ff8d00"/><stop offset="0.799" stop-color="#ff8b00"/><stop offset="0.934" stop-color="#fdff02"/><stop offset="1.000" stop-color="#c1ff3e"/></linearGradient><linearGradient id="h69"><stop offset="0.000" stop-color="#00008c"/><stop offset="0.081" stop-color="#0000ac"/><stop offset="0.234" stop-color="#0003ff"/><stop offset="0.366" stop-color="#005cff"/><stop offset="0.439" stop-color="#009fff"/><stop offset="0.491" stop-color="#00dfff"/><stop offset="0.511" stop-color="#03fffc"/><stop offset="0.584" stop-color="#9aff65"/><stop offset="0.652" stop-color="#fffc00"/><stop offset="0.700" stop-color="#ffb500"/><stop offset="0.762" stop-color="#ff8b00"/><stop offset="0.799" stop-color="#ff8a00"/><stop offset="0.934" stop-color="#feff01"/><stop offset="1.000" stop-color="#c1ff3e"/></linearGradient><linearGradient id="h70"><stop offset="0.000" stop-color="#00008c"/><stop offset="0.081" stop-color="#0000ae"/><stop offset="0.232" stop-color="#0002ff"/><stop offset="0.366" stop-color="#005dff"/><stop offset="0.439" stop-color="#00a1ff"/><stop offset="0.491" stop-color="#00e2ff"/><stop offset="0.509" stop-color="#04fffb"/><stop offset="0.584" stop-color="#9eff61"/><stop offset="0.648" stop-color="#fffd00"/><stop offset="0.700" stop-color="#ffb100"/><stop offset="0.762" stop-color="#ff8800"/><stop offset="0.799" stop-color="#ff8900"/><stop offset="0.934" stop-color="#feff01"/><stop offset="1.000" stop-color="#c1ff3e"/></linearGradient><linearGradient id="h71"><stop offset="0.000" stop-color="#00008c"/><stop offset="0.081" stop-color="#0000af"/><stop offset="0.232" stop-color="#0003ff"/><stop offset="0.366" stop-color="#005eff"/><stop offset="0.439" stop-color="#00a3ff"/><stop offset="0.491" stop-color="#00e6ff"/><stop offset="0.507" stop-color="#04fffb"/><stop offset="0.584" stop-color="#a3ff5c"/><stop offset="0.646" stop-color="#fffc00"/><stop offset="0.700" stop-color="#ffad00"/><stop offset="0.762" stop-color="#ff8600"/><stop offset="0.799" stop-color="#ff8800"/><stop offset="0.934" stop-color="#ffff00"/><stop offset="1.000" stop-color="#c1ff3e"/></linearGradient><linearGradient id="h72"><stop offset="0.000" stop-color="#00008d"/><stop offset="0.081" stop-color="#0000b1"/><stop offset="0.230" stop-color="#0003ff"/><stop offset="0.366" stop-color="#005fff"/><stop offset="0.439" stop-color="#00a5ff"/><stop offset="0.491" stop-color="#00e9ff"/><stop offset="0.505" stop-color="#04fffb"/><stop offset="0.569" stop-color="#8bff74"/><stop offset="0.621" stop-color="#e1ff1e"/><stop offset="0.644" stop-color="#fffa00"/><stop offset="0.700" stop-color="#ffa800"/><stop offset="0.760" stop-color="#ff8300"/><stop offset="0.799" stop-color="#ff8700"/><stop offset="0.936" stop-color="#fdff02"/><stop offset="1.000" stop-color="#c1ff3e"/></linearGradient><linearGradient id="h73"><stop offset="0.000" stop-color="#00008d"/><stop offset="0.077" stop-color="#0000af"/><stop offset="0.226" stop-color="#0001ff"/><stop offset="0.366" stop-color="#0060ff"/><stop offset="0.439" stop-color="#00a8ff"/><stop offset="0.491" stop-color="#00edff"/><stop offset="0.503" stop-color="#04fffb"/><stop offset="0.553" stop-color="#6bff94"/><stop offset="0.586" stop-color="#afff50"/><stop offset="0.640" stop-color="#fffc00"/><stop offset="0.700" stop-color="#ffa400"/><stop offset="0.760" stop-color="#ff8100"/><stop offset="0.799" stop-color="#ff8700"/><stop offset="0.936" stop-color="#feff01"/><stop offset="1.000" stop-color="#c1ff3e"/></linearGradient><linearGradient id="h74"><stop offset="0.000" stop-color="#00008e"/><stop offset="0.075" stop-color="#0000af"/><stop offset="0.222" stop-color="#0000ff"/><stop offset="0.364" stop-color="#005fff"/><stop offset="0.439" stop-color="#00aaff"/><stop offset="0.491" stop-color="#00f0ff"/><stop offset="0.501" stop-color="#04fffb"/><stop offset="0.547" stop-color="#61ff9e"/><stop offset="0.586" stop-color="#b3ff4c"/><stop offset="0.636" stop-color="#fffd00"/><stop offset="0.700" stop-color="#ffa000"/><stop offset="0.758" stop-color="#ff7e00"/><stop offset="0.801" stop-color="#ff8800"/><stop offset="0.936" stop-color="#feff01"/><stop offset="1.000" stop-color="#c1ff3e"/></linearGradient><linearGradient id="h75"><stop offset="0.000" stop-color="#00008e"/><stop offset="0.070" stop-color="#0000ae"/><stop offset="0.157" stop-color="#0000df"/><stop offset="0.228" stop-color="#0004ff"/><stop offset="0.369" stop-color="#0064ff"/><stop offset="0.439" stop-color="#00acff"/><stop offset="0.491" stop-color="#00f3ff"/><stop offset="0.499" stop-color="#03fffc"/><stop offset="0.545" stop-color="#60ff9f"/><stop offset="0.586" stop-color="#b8ff47"/><stop offset="0.634" stop-color="#fffc00"/><stop offset="0.700" stop-color="#ff9c00"/><stop offset="0.758" stop-color="#ff7b00"/><stop offset="0.801" stop-color="#ff8700"/><stop offset="0.936" stop-color="#ffff00"/><stop offset="1.000" stop-color="#c1ff3e"/></linearGradient><linearGradient id="h76"><stop offset="0.000" stop-color="#00008e"/><stop offset="0.068" stop-color="#0000ad"/><stop offset="0.143" stop-color="#0000d9"/><stop offset="0.226" stop-color="#0004ff"/><stop offset="0.364" stop-color="#0062ff"/><stop offset="0.439" stop-color="#00aeff"/><stop offset="0.491" stop-color="#00f7ff"/><stop offset="0.499" stop-color="#07fff8"/><stop offset="0.547" stop-color="#68ff97"/><stop offset="0.586" stop-color="#bcff43"/><stop offset="0.629" stop-color="#fffe00"/><stop offset="0.700" stop-color="#ff9800"/><stop offset="0.758" stop-color="#ff7800"/><stop offset="0.801" stop-color="#ff8600"/><stop offset="0.936" stop-color="#ffff00"/><stop offset="1.000" stop-color="#c1ff3e"/></linearGradient><linearGradient id="h77"><stop offset="0.000" stop-color="#00008f"/><stop offset="0.064" stop-color="#0000ac"/><stop offset="0.133" stop-color="#0000d6"/><stop offset="0.224" stop-color="#0004ff"/><stop offset="0.362" stop-color="#0061ff"/><stop offset="0.433" stop-color="#00a8ff"/><stop offset="0.489" stop-color="#00f7ff"/><stop offset="0.497" stop-color="#07fff8"/><stop offset="0.545" stop-color="#68ff97"/><stop offset="0.586" stop-color="#c0ff3f"/><stop offset="0.627" stop-color="#fffc00"/><stop offset="0.698" stop-color="#ff9500"/><stop offset="0.756" stop-color="#ff7500"/><stop offset="0.801" stop-color="#ff8500"/><stop offset="0.932" stop-color="#fffb00"/><stop offset="0.963" stop-color="#e6ff19"/><stop offset="1.000" stop-color="#c1ff3e"/></linearGradient><linearGradient id="h78"><stop offset="0.000" stop-color="#00008f"/><stop offset="0.060" stop-color="#0000ab"/><stop offset="0.130" stop-color="#0000d6"/><stop offset="0.222" stop-color="#0003ff"/><stop offset="0.360" stop-color="#0060ff"/><stop offset="0.422" stop-color="#009dff"/><stop offset="0.487" stop-color="#00f6ff"/><stop offset="0.495" stop-color="#06fff9"/><stop offset="0.542" stop-color="#67ff98"/><stop offset="0.586" stop-color="#c5ff3a"/><stop offset="0.625" stop-color="#fffb00"/><stop offset="0.694" stop-color="#ff9500"/><stop offset="0.733" stop-color="#ff7b00"/><stop offset="0.764" stop-color="#ff7500"/><stop offset="0.803" stop-color="#ff8600"/><stop offset="0.928" stop-color="#fff700"/><stop offset="0.946" stop-color="#f7ff08"/><stop offset="1.000" stop-color="#c1ff3e"/></linearGradient><linearGradient id="h79"><stop offset="0.000" stop-color="#000090"/><stop offset="0.056" stop-color="#0000a9"/><stop offset="0.124" stop-color="#0000d4"/><stop offset="0.222" stop-color="#0004ff"/><stop offset="0.358" stop-color="#0060ff"/><stop offset="0.416" stop-color="#0098ff"/><stop offset="0.484" stop-color="#00f6ff"/><stop offset="0.495" stop-color="#0afff5"/><stop offset="0.545" stop-color="#6fff90"/><stop offset="0.588" stop-color="#cdff32"/><stop offset="0.621" stop-color="#fffd00"/><stop offset="0.689" stop-color="#ff9700"/><stop offset="0.718" stop-color="#ff7e00"/><stop offset="0.762" stop-color="#ff7200"/><stop offset="0.803" stop-color="#ff8500"/><stop offset="0.923" stop-color="#fff300"/><stop offset="0.944" stop-color="#f9ff06"/><stop offset="1.000" stop-color="#c1ff3e"/></linearGradient><linearGradient id="h80"><stop offset="0.000" stop-color="#000090"/><stop offset="0.052" stop-color="#0000a8"/><stop offset="0.120" stop-color="#0000d4"/><stop offset="0.219" stop-color="#0004ff"/><stop offset="0.356" stop-color="#005fff"/><stop offset="0.408" stop-color="#0090ff"/><stop offset="0.474" stop-color="#00e8ff"/><stop offset="0.489" stop-color="#02fffd"/><stop offset="0.540" stop-color="#6aff95"/><stop offset="0.588" stop-color="#d1ff2e"/><stop offset="0.619" stop-color="#fffc00"/><stop offset="0.683" stop-color="#ff9b00"/><stop offset="0.714" stop-color="#ff7c00"/><stop offset="0.760" stop-color="#ff6f00"/><stop offset="0.803" stop-color="#ff8400"/><stop offset="0.921" stop-color="#fff100"/><stop offset="0.944" stop-color="#faff05"/><stop offset="1.000" stop-color="#c1ff3e"/></linearGradient><linearGradient id="h81"><stop offset="0.000" stop-color="#000090"/><stop offset="0.050" stop-color="#0000a7"/><stop offset="0.118" stop-color="#0000d4"/><stop offset="0.217" stop-color="#0003ff"/><stop offset="0.354" stop-color="#005fff"/><stop offset="0.404" stop-color="#008dff"/><stop offset="0.470" stop-color="#00e4ff"/><stop offset="0.489" stop-color="#05fffa"/><stop offset="0.542" stop-color="#72ff8d"/><stop offset="0.588" stop-color="#d5ff2a"/><stop offset="0.617" stop-color="#fffa00"/><stop offset="0.679" stop-color="#ff9c00"/><stop offset="0.712" stop-color="#ff7900"/><stop offset="0.758" stop-color="#ff6b00"/><stop offset="0.805" stop-color="#ff8500"/><stop offset="0.917" stop-color="#ffed00"/><stop offset="0.944" stop-color="#faff05"/><stop offset="1.000" stop-color="#c1ff3e"/></linearGradient><linearGradient id="h82"><stop offset="0.000" stop-color="#000091"/><stop offset="0.048" stop-color="#0000a7"/><stop offset="0.114" stop-color="#0000d4"/><stop offset="0.217" stop-color="#0004ff"/><stop offset="0.352" stop-color="#005eff"/><stop offset="0.400" stop-color="#008aff"/><stop offset="0.466" stop-color="#00e0ff"/><stop offset="0.487" stop-color="#04fffb"/><stop offset="0.542" stop-color="#76ff89"/><stop offset="0.588" stop-color="#daff25"/><stop offset="0.613" stop-color="#fffc00"/><stop offset="0.675" stop-color="#ff9d00"/><stop offset="0.710" stop-color="#ff7600"/><stop offset="0.758" stop-color="#ff6800"/><stop offset="0.807" stop-color="#ff8600"/><stop offset="0.915" stop-color="#ffeb00"/><stop offset="0.944" stop-color="#fbff04"/><stop offset="1.000" stop-color="#c1ff3e"/></linearGradient><linearGradient id="h83"><stop offset="0.000" stop-color="#000091"/><stop offset="0.046" stop-color="#0000a6"/><stop offset="0.112" stop-color="#0000d4"/><stop offset="0.215" stop-color="#0004ff"/><stop offset="0.350" stop-color="#005eff"/><stop offset="0.398" stop-color="#0089ff"/><stop offset="0.462" stop-color="#00ddff"/><stop offset="0.484" stop-color="#04fffb"/><stop offset="0.542" stop-color="#7aff85"/><stop offset="0.588" stop-color="#deff21"/><stop offset="0.611" stop-color="#fffb00"/><stop offset="0.675" stop-color="#ff9800"/><stop offset="0.712" stop-color="#ff7100"/><stop offset="0.758" stop-color="#ff6600"/><stop offset="0.810" stop-color="#ff8700"/><stop offset="0.913" stop-color="#ffe800"/><stop offset="0.944" stop-color="#fbff04"/><stop offset="1.000" stop-color="#c1ff3e"/></linearGradient><linearGradient id="h84"><stop offset="0.000" stop-color="#000092"/><stop offset="0.043" stop-color="#0000a6"/><stop offset="0.110" stop-color="#0000d5"/><stop offset="0.213" stop-color="#0003ff"/><stop offset="0.348" stop-color="#005dff"/><stop offset="0.395" stop-color="#0088ff"/><stop offset="0.458" stop-color="#00daff"/><stop offset="0.482" stop-color="#03fffc"/><stop offset="0.542" stop-color="#7eff81"/><stop offset="0.588" stop-color="#e3ff1c"/><stop offset="0.607" stop-color="#fffd00"/><stop offset="0.673" stop-color="#ff9600"/><stop offset="0.712" stop-color="#ff6c00"/><stop offset="0.758" stop-color="#ff6300"/><stop offset="0.812" stop-color="#ff8800"/><stop offset="0.911" stop-color="#ffe600"/><stop offset="0.944" stop-color="#fcff03"/><stop offset="1.000" stop-color="#c1ff3e"/></linearGradient><linearGradient id="h85"><stop offset="0.000" stop-color="#000092"/><stop offset="0.041" stop-color="#0000a5"/><stop offset="0.110" stop-color="#0000d6"/><stop offset="0.213" stop-color="#0004ff"/><stop offset="0.348" stop-color="#005eff"/><stop offset="0.393" stop-color="#0087ff"/><stop offset="0.458" stop-color="#00dcff"/><stop offset="0.480" stop-color="#03fffc"/><stop offset="0.542" stop-color="#82ff7d"/><stop offset="0.590" stop-color="#ebff14"/><stop offset="0.605" stop-color="#fffc00"/><stop offset="0.671" stop-color="#ff9400"/><stop offset="0.712" stop-color="#ff6800"/><stop offset="0.756" stop-color="#ff5f00"/><stop offset="0.812" stop-color="#ff8800"/><stop offset="0.911" stop-color="#ffe600"/><stop offset="0.946" stop-color="#faff05"/><stop offset="1.000" stop-color="#c1ff3e"/></linearGradient><linearGradient id="h86"><stop offset="0.000" stop-color="#000092"/><stop offset="0.041" stop-color="#0000a6"/><stop offset="0.108" stop-color="#0000d7"/><stop offset="0.211" stop-color="#0004ff"/><stop offset="0.346" stop-color="#005eff"/><stop offset="0.393" stop-color="#0088ff"/><stop offset="0.455" stop-color="#00dbff"/><stop offset="0.478" stop-color="#02fffd"/><stop offset="0.542" stop-color="#86ff79"/><stop offset="0.590" stop-color="#efff10"/><stop offset="0.602" stop-color="#fffb00"/><stop offset="0.671" stop-color="#ff8f00"/><stop offset="0.712" stop-color="#ff6400"/><stop offset="0.756" stop-color="#ff5d00"/><stop offset="0.816" stop-color="#ff8b00"/><stop offset="0.909" stop-color="#ffe400"/><stop offset="0.946" stop-color="#fbff04"/><stop offset="1.000" stop-color="#c1ff3e"/></linearGradient><linearGradient id="h87"><stop offset="0.000" stop-color="#000093"/><stop offset="0.039" stop-color="#0000a5"/><stop offset="0.108" stop-color="#0000d8"/><stop offset="0.209" stop-color="#0003ff"/><stop offset="0.344" stop-color="#005dff"/><stop offset="0.391" stop-color="#0087ff"/><stop offset="0.453" stop-color="#00dbff"/><stop offset="0.476" stop-color="#01fffe"/><stop offset="0.545" stop-color="#8eff71"/><stop offset="0.590" stop-color="#f3ff0c"/><stop offset="0.600" stop-color="#fffa00"/><stop offset="0.669" stop-color="#ff8d00"/><stop offset="0.712" stop-color="#ff6000"/><stop offset="0.756" stop-color="#ff5a00"/><stop offset="0.820" stop-color="#ff8e00"/><stop offset="0.909" stop-color="#ffe300"/><stop offset="0.946" stop-color="#fbff04"/><stop offset="1.000" stop-color="#c1ff3e"/></linearGradient><linearGradient id="h88"><stop offset="0.000" stop-color="#000093"/><stop offset="0.039" stop-color="#0000a5"/><stop offset="0.106" stop-color="#0000d9"/><stop offset="0.209" stop-color="#0004ff"/><stop offset="0.342" stop-color="#005dff"/><stop offset="0.391" stop-color="#0088ff"/><stop offset="0.453" stop-color="#00ddff"/><stop offset="0.476" stop-color="#04fffb"/><stop offset="0.545" stop-color="#92ff6d"/><stop offset="0.590" stop-color="#f8ff07"/><stop offset="0.600" stop-color="#fff500"/><stop offset="0.669" stop-color="#ff8800"/><stop offset="0.712" stop-color="#ff5c00"/><stop offset="0.756" stop-color="#ff5700"/><stop offset="0.826" stop-color="#ff9400"/><stop offset="0.909" stop-color="#ffe300"/><stop offset="0.946" stop-color="#fcff03"/><stop offset="1.000" stop-color="#c1ff3e"/></linearGradient><linearGradient id="h89"><stop offset="0.000" stop-color="#000094"/><stop offset="0.039" stop-color="#0000a6"/><stop offset="0.106" stop-color="#0000da"/><stop offset="0.207" stop-color="#0004ff"/><stop offset="0.340" stop-color="#005cff"/><stop offset="0.389" stop-color="#0087ff"/><stop offset="0.451" stop-color="#00dcff"/><stop offset="0.474" stop-color="#03fffc"/><stop offset="0.545" stop-color="#96ff69"/><stop offset="0.590" stop-color="#fcff03"/><stop offset="0.669" stop-color="#ff8400"/><stop offset="0.712" stop-color="#ff5800"/><stop offset="0.754" stop-color="#ff5400"/><stop offset="0.828" stop-color="#ff9500"/><stop offset="0.909" stop-color="#ffe200"/><stop offset="0.946" stop-color="#fcff03"/><stop offset="1.000" stop-color="#c1ff3e"/></linearGradient><linearGradient id="h90"><stop offset="0.000" stop-color="#000094"/><stop offset="0.037" stop-color="#0000a5"/><stop offset="0.104" stop-color="#0000db"/><stop offset="0.205" stop-color="#0003ff"/><stop offset="0.337" stop-color="#005cff"/><stop offset="0.389" stop-color="#0088ff"/><stop offset="0.451" stop-color="#00deff"/><stop offset="0.472" stop-color="#02fffd"/><stop offset="0.545" stop-color="#9aff65"/><stop offset="0.588" stop-color="#fdff02"/><stop offset="0.669" stop-color="#ff7f00"/><stop offset="0.712" stop-color="#ff5300"/><stop offset="0.754" stop-color="#ff5100"/><stop offset="0.839" stop-color="#ff9f00"/><stop offset="0.913" stop-color="#ffe500"/><stop offset="0.948" stop-color="#fbff04"/><stop offset="1.000" stop-color="#c1ff3e"/></linearGradient><linearGradient id="h91"><stop offset="0.000" stop-color="#000094"/><stop offset="0.037" stop-color="#0000a6"/><stop offset="0.104" stop-color="#0000dd"/><stop offset="0.205" stop-color="#0004ff"/><stop offset="0.337" stop-color="#005dff"/><stop offset="0.389" stop-color="#0089ff"/><stop offset="0.451" stop-color="#00e1ff"/><stop offset="0.470" stop-color="#01fffe"/><stop offset="0.545" stop-color="#9eff61"/><stop offset="0.586" stop-color="#feff01"/><stop offset="0.667" stop-color="#ff7d00"/><stop offset="0.712" stop-color="#ff4f00"/><stop offset="0.752" stop-color="#ff4e00"/><stop offset="0.841" stop-color="#ffa100"/><stop offset="0.913" stop-color="#ffe500"/><stop offset="0.948" stop-color="#fbff04"/><stop offset="1.000" stop-color="#c1ff3e"/></linearGradient><linearGradient id="h92"><stop offset="0.000" stop-color="#000095"/><stop offset="0.037" stop-color="#0000a6"/><stop offset="0.104" stop-color="#0000de"/><stop offset="0.203" stop-color="#0003ff"/><stop offset="0.335" stop-color="#005cff"/><stop offset="0.389" stop-color="#008bff"/><stop offset="0.451" stop-color="#00e3ff"/><stop offset="0.470" stop-color="#04fffb"/><stop offset="0.545" stop-color="#a2ff5d"/><stop offset="0.584" stop-color="#ffff00"/><stop offset="0.667" stop-color="#ff7800"/><stop offset="0.712" stop-color="#ff4b00"/><stop offset="0.752" stop-color="#ff4b00"/><stop offset="0.853" stop-color="#ffad00"/><stop offset="0.944" stop-color="#fffe00"/><stop offset="1.000" stop-color="#c1ff3e"/></linearGradient><linearGradient id="h93"><stop offset="0.000" stop-color="#000096"/><stop offset="0.037" stop-color="#0000a7"/><stop offset="0.104" stop-color="#0000de"/><stop offset="0.201" stop-color="#0003ff"/><stop offset="0.335" stop-color="#005dff"/><stop offset="0.389" stop-color="#008dff"/><stop offset="0.449" stop-color="#00e2ff"/><stop offset="0.468" stop-color="#03fffc"/><stop offset="0.547" stop-color="#abff54"/><stop offset="0.584" stop-color="#fffc00"/><stop offset="0.667" stop-color="#ff7600"/><stop offset="0.712" stop-color="#ff4a00"/><stop offset="0.752" stop-color="#ff4a00"/><stop offset="0.853" stop-color="#ffac00"/><stop offset="0.944" stop-color="#fffe00"/><stop offset="1.000" stop-color="#c2ff3d"/></linearGradient><linearGradient id="h94"><stop offset="0.000" stop-color="#000097"/><stop offset="0.037" stop-color="#0000a8"/><stop offset="0.104" stop-color="#0000df"/><stop offset="0.201" stop-color="#0004ff"/><stop offset="0.335" stop-color="#005eff"/><stop offset="0.389" stop-color="#008eff"/><stop offset="0.449" stop-color="#00e5ff"/><stop offset="0.466" stop-color="#02fffd"/><stop offset="0.551" stop-color="#b8ff47"/><stop offset="0.582" stop-color="#fffe00"/><stop offset="0.667" stop-color="#ff7400"/><stop offset="0.712" stop-color="#ff4800"/><stop offset="0.752" stop-color="#ff4a00"/><stop offset="0.853" stop-color="#ffac00"/><stop offset="0.944" stop-color="#fffe00"/><stop offset="1.000" stop-color="#c3ff3c"/></linearGradient><linearGradient id="h95"><stop offset="0.000" stop-color="#000098"/><stop offset="0.039" stop-color="#0000ab"/><stop offset="0.106" stop-color="#0000e0"/><stop offset="0.199" stop-color="#0004ff"/><stop offset="0.333" stop-color="#005eff"/><stop offset="0.389" stop-color="#0090ff"/><stop offset="0.447" stop-color="#00e4ff"/><stop offset="0.464" stop-color="#02fffd"/><stop offset="0.553" stop-color="#c1ff3e"/><stop offset="0.580" stop-color="#ffff00"/><stop offset="0.667" stop-color="#ff7100"/><stop offset="0.712" stop-color="#ff4700"/><stop offset="0.754" stop-color="#ff4a00"/><stop offset="0.865" stop-color="#ffb800"/><stop offset="0.948" stop-color="#fcff03"/><stop offset="1.000" stop-color="#c4ff3b"/></linearGradient><linearGradient id="h96"><stop offset="0.000" stop-color="#00009a"/><stop offset="0.039" stop-color="#0000ac"/><stop offset="0.106" stop-color="#0000e0"/><stop offset="0.197" stop-color="#0004ff"/><stop offset="0.333" stop-color="#005fff"/><stop offset="0.389" stop-color="#0092ff"/><stop offset="0.447" stop-color="#00e6ff"/><stop offset="0.464" stop-color="#05fffa"/><stop offset="0.563" stop-color="#ddff22"/><stop offset="0.580" stop-color="#fffc00"/><stop offset="0.665" stop-color="#ff7100"/><stop offset="0.714" stop-color="#ff4400"/><stop offset="0.756" stop-color="#ff4a00"/><stop offset="0.913" stop-color="#ffe400"/><stop offset="0.948" stop-color="#fcff03"/><stop offset="1.000" stop-color="#c4ff3b"/></linearGradient><linearGradient id="h97"><stop offset="0.000" stop-color="#00009b"/><stop offset="0.039" stop-color="#0000ad"/><stop offset="0.106" stop-color="#0000e0"/><stop offset="0.195" stop-color="#0004ff"/><stop offset="0.331" stop-color="#005eff"/><stop offset="0.389" stop-color="#0093ff"/><stop offset="0.445" stop-color="#00e5ff"/><stop offset="0.462" stop-color="#04fffb"/><stop offset="0.578" stop-color="#fffe00"/><stop offset="0.665" stop-color="#ff6f00"/><stop offset="0.714" stop-color="#ff4300"/><stop offset="0.756" stop-color="#ff4900"/><stop offset="0.915" stop-color="#ffe500"/><stop offset="0.948" stop-color="#fcff03"/><stop offset="1.000" stop-color="#c5ff3a"/></linearGradient><linearGradient id="h98"><stop offset="0.000" stop-color="#00009c"/><stop offset="0.039" stop-color="#0000ae"/><stop offset="0.108" stop-color="#0000e2"/><stop offset="0.193" stop-color="#0004ff"/><stop offset="0.325" stop-color="#005aff"/><stop offset="0.389" stop-color="#0095ff"/><stop offset="0.445" stop-color="#00e8ff"/><stop offset="0.460" stop-color="#03fffc"/><stop offset="0.576" stop-color="#ffff00"/><stop offset="0.660" stop-color="#ff7000"/><stop offset="0.714" stop-color="#ff4100"/><stop offset="0.756" stop-color="#ff4800"/><stop offset="0.917" stop-color="#ffe700"/><stop offset="0.948" stop-color="#fcff03"/><stop offset="1.000" stop-color="#c6ff39"/></linearGradient><linearGradient id="h99"><stop offset="0.000" stop-color="#00009d"/><stop offset="0.039" stop-color="#0000af"/><stop offset="0.108" stop-color="#0000e2"/><stop offset="0.190" stop-color="#0005ff"/><stop offset="0.319" stop-color="#0056ff"/><stop offset="0.389" stop-color="#0097ff"/><stop offset="0.445" stop-color="#00eaff"/><stop offset="0.458" stop-color="#02fffd"/><stop offset="0.576" stop-color="#fffc00"/><stop offset="0.663" stop-color="#ff6c00"/><stop offset="0.714" stop-color="#ff3f00"/><stop offset="0.756" stop-color="#ff4800"/><stop offset="0.874" stop-color="#ffbf00"/><stop offset="0.948" stop-color="#fcff03"/><stop offset="1.000" stop-color="#c7ff38"/></linearGradient><linearGradient id="h100"><stop offset="0.000" stop-color="#00009e"/><stop offset="0.041" stop-color="#0000b2"/><stop offset="0.108" stop-color="#0000e2"/><stop offset="0.186" stop-color="#0004ff"/><stop offset="0.313" stop-color="#0053ff"/><stop offset="0.385" stop-color="#0093ff"/><stop offset="0.443" stop-color="#00e9ff"/><stop offset="0.458" stop-color="#05fffa"/><stop offset="0.573" stop-color="#fffd00"/><stop offset="0.621" stop-color="#ffab00"/><stop offset="0.667" stop-color="#ff6500"/><stop offset="0.714" stop-color="#ff3e00"/><stop offset="0.756" stop-color="#ff4700"/><stop offset="0.872" stop-color="#ffbc00"/><stop offset="0.948" stop-color="#fcff03"/><stop offset="1.000" stop-color="#c8ff37"/></linearGradient><linearGradient id="h101"><stop offset="0.000" stop-color="#0000a0"/><stop offset="0.041" stop-color="#0000b3"/><stop offset="0.110" stop-color="#0000e4"/><stop offset="0.184" stop-color="#0004ff"/><stop offset="0.308" stop-color="#0050ff"/><stop offset="0.383" stop-color="#0092ff"/><stop offset="0.443" stop-color="#00ebff"/><stop offset="0.455" stop-color="#04fffb"/><stop offset="0.532" stop-color="#abff54"/><stop offset="0.571" stop-color="#fffe00"/><stop offset="0.611" stop-color="#ffb900"/><stop offset="0.667" stop-color="#ff6300"/><stop offset="0.716" stop-color="#ff3b00"/><stop offset="0.760" stop-color="#ff4a00"/><stop offset="0.876" stop-color="#ffc000"/><stop offset="0.948" stop-color="#fcff03"/><stop offset="1.000" stop-color="#c9ff36"/></linearGradient><linearGradient id="h102"><stop offset="0.000" stop-color="#0000a1"/><stop offset="0.041" stop-color="#0000b4"/><stop offset="0.110" stop-color="#0000e4"/><stop offset="0.182" stop-color="#0004ff"/><stop offset="0.306" stop-color="#0050ff"/><stop offset="0.381" stop-color="#0091ff"/><stop offset="0.443" stop-color="#00edff"/><stop offset="0.453" stop-color="#02fffd"/><stop offset="0.528" stop-color="#a6ff59"/><stop offset="0.569" stop-color="#ffff00"/><stop offset="0.607" stop-color="#ffbd00"/><stop offset="0.665" stop-color="#ff6300"/><stop offset="0.716" stop-color="#ff3a00"/><stop offset="0.760" stop-color="#ff4900"/><stop offset="0.872" stop-color="#ffbb00"/><stop offset="0.948" stop-color="#fcff03"/><stop offset="1.000" stop-color="#caff35"/></linearGradient><linearGradient id="h103"><stop offset="0.000" stop-color="#0000a2"/><stop offset="0.041" stop-color="#0000b5"/><stop offset="0.112" stop-color="#0000e5"/><stop offset="0.180" stop-color="#0004ff"/><stop offset="0.304" stop-color="#004fff"/><stop offset="0.375" stop-color="#008dff"/><stop offset="0.437" stop-color="#00e4ff"/><stop offset="0.453" stop-color="#05fffa"/><stop offset="0.526" stop-color="#a5ff5a"/><stop offset="0.569" stop-color="#fffb00"/><stop offset="0.613" stop-color="#ffb000"/><stop offset="0.665" stop-color="#ff6000"/><stop offset="0.716" stop-color="#ff3800"/><stop offset="0.762" stop-color="#ff4a00"/><stop offset="0.870" stop-color="#ffb800"/><stop offset="0.948" stop-color="#fcff03"/><stop offset="1.000" stop-color="#caff35"/></linearGradient><linearGradient id="h104"><stop offset="0.000" stop-color="#0000a3"/><stop offset="0.043" stop-color="#0000b8"/><stop offset="0.114" stop-color="#0000e7"/><stop offset="0.178" stop-color="#0004ff"/><stop offset="0.302" stop-color="#004fff"/><stop offset="0.371" stop-color="#008aff"/><stop offset="0.433" stop-color="#00deff"/><stop offset="0.451" stop-color="#04fffb"/><stop offset="0.520" stop-color="#9bff64"/><stop offset="0.565" stop-color="#feff01"/><stop offset="0.615" stop-color="#ffaa00"/><stop offset="0.665" stop-color="#ff5e00"/><stop offset="0.716" stop-color="#ff3600"/><stop offset="0.762" stop-color="#ff4a00"/><stop offset="0.867" stop-color="#ffb500"/><stop offset="0.948" stop-color="#fcff03"/><stop offset="1.000" stop-color="#cbff34"/></linearGradient><linearGradient id="h105"><stop offset="0.000" stop-color="#0000a4"/><stop offset="0.043" stop-color="#0000b9"/><stop offset="0.116" stop-color="#0000e8"/><stop offset="0.176" stop-color="#0004ff"/><stop offset="0.300" stop-color="#004eff"/><stop offset="0.366" stop-color="#0087ff"/><stop offset="0.424" stop-color="#00d4ff"/><stop offset="0.449" stop-color="#02fffd"/><stop offset="0.518" stop-color="#9aff65"/><stop offset="0.557" stop-color="#f1ff0e"/><stop offset="0.567" stop-color="#fff800"/><stop offset="0.615" stop-color="#ffa700"/><stop offset="0.665" stop-color="#ff5c00"/><stop offset="0.716" stop-color="#ff3500"/><stop offset="0.764" stop-color="#ff4b00"/><stop offset="0.865" stop-color="#ffb300"/><stop offset="0.948" stop-color="#fcff03"/><stop offset="1.000" stop-color="#ccff33"/></linearGradient><linearGradient id="h106"><stop offset="0.000" stop-color="#0000a5"/><stop offset="0.043" stop-color="#0000ba"/><stop offset="0.118" stop-color="#0000e9"/><stop offset="0.174" stop-color="#0004ff"/><stop offset="0.298" stop-color="#004dff"/><stop offset="0.364" stop-color="#0086ff"/><stop offset="0.420" stop-color="#00d0ff"/><stop offset="0.447" stop-color="#00ffff"/><stop offset="0.513" stop-color="#94ff6b"/><stop offset="0.551" stop-color="#e8ff17"/><stop offset="0.563" stop-color="#fffd00"/><stop offset="0.607" stop-color="#ffb200"/><stop offset="0.665" stop-color="#ff5900"/><stop offset="0.716" stop-color="#ff3300"/><stop offset="0.766" stop-color="#ff4c00"/><stop offset="0.863" stop-color="#ffb000"/><stop offset="0.948" stop-color="#fcff03"/><stop offset="1.000" stop-color="#cdff32"/></linearGradient><linearGradient id="h107"><stop offset="0.000" stop-color="#0000a7"/><stop offset="0.046" stop-color="#0000bc"/><stop offset="0.122" stop-color="#0000ec"/><stop offset="0.174" stop-color="#0005ff"/><stop offset="0.296" stop-color="#004dff"/><stop offset="0.362" stop-color="#0085ff"/><stop offset="0.418" stop-color="#00cfff"/><stop offset="0.447" stop-color="#03fffc"/><stop offset="0.513" stop-color="#98ff67"/><stop offset="0.549" stop-color="#e8ff17"/><stop offset="0.563" stop-color="#fff900"/><stop offset="0.613" stop-color="#ffa500"/><stop offset="0.665" stop-color="#ff5700"/><stop offset="0.716" stop-color="#ff3100"/><stop offset="0.766" stop-color="#ff4b00"/><stop offset="0.861" stop-color="#ffad00"/><stop offset="0.946" stop-color="#feff01"/><stop offset="1.000" stop-color="#ceff31"/></linearGradient><linearGradient id="h108"><stop offset="0.000" stop-color="#0000a8"/><stop offset="0.046" stop-color="#0000bd"/><stop offset="0.126" stop-color="#0000ee"/><stop offset="0.172" stop-color="#0005ff"/><stop offset="0.294" stop-color="#004cff"/><stop offset="0.360" stop-color="#0084ff"/><stop offset="0.416" stop-color="#00ceff"/><stop offset="0.445" stop-color="#01fffe"/><stop offset="0.511" stop-color="#97ff68"/><stop offset="0.547" stop-color="#e8ff17"/><stop offset="0.561" stop-color="#fffa00"/><stop offset="0.613" stop-color="#ffa200"/><stop offset="0.665" stop-color="#ff5400"/><stop offset="0.718" stop-color="#ff3000"/><stop offset="0.768" stop-color="#ff4d00"/><stop offset="0.861" stop-color="#ffac00"/><stop offset="0.946" stop-color="#feff01"/><stop offset="1.000" stop-color="#cfff30"/></linearGradient><linearGradient id="h109"><stop offset="0.000" stop-color="#0000a9"/><stop offset="0.048" stop-color="#0000bf"/><stop offset="0.135" stop-color="#0000f3"/><stop offset="0.172" stop-color="#0006ff"/><stop offset="0.292" stop-color="#004cff"/><stop offset="0.360" stop-color="#0086ff"/><stop offset="0.418" stop-color="#00d3ff"/><stop offset="0.445" stop-color="#04fffb"/><stop offset="0.511" stop-color="#9bff64"/><stop offset="0.545" stop-color="#e8ff17"/><stop offset="0.559" stop-color="#fffa00"/><stop offset="0.613" stop-color="#ff9f00"/><stop offset="0.665" stop-color="#ff5200"/><stop offset="0.718" stop-color="#ff2e00"/><stop offset="0.770" stop-color="#ff4e00"/><stop offset="0.859" stop-color="#ffa900"/><stop offset="0.946" stop-color="#feff01"/><stop offset="1.000" stop-color="#d0ff2f"/></linearGradient><linearGradient id="h110"><stop offset="0.000" stop-color="#0000aa"/><stop offset="0.050" stop-color="#0000c2"/><stop offset="0.147" stop-color="#0000fa"/><stop offset="0.197" stop-color="#0013ff"/><stop offset="0.300" stop-color="#0053ff"/><stop offset="0.360" stop-color="#0087ff"/><stop offset="0.418" stop-color="#00d5ff"/><stop offset="0.443" stop-color="#02fffd"/><stop offset="0.511" stop-color="#9fff60"/><stop offset="0.545" stop-color="#edff12"/><stop offset="0.557" stop-color="#fffa00"/><stop offset="0.615" stop-color="#ff9900"/><stop offset="0.665" stop-color="#ff5000"/><stop offset="0.718" stop-color="#ff2d00"/><stop offset="0.770" stop-color="#ff4d00"/><stop offset="0.857" stop-color="#ffa600"/><stop offset="0.944" stop-color="#fffe00"/><stop offset="1.000" stop-color="#d1ff2e"/></linearGradient><linearGradient id="h111"><stop offset="0.000" stop-color="#0000ab"/><stop offset="0.050" stop-color="#0000c2"/><stop offset="0.155" stop-color="#0000fe"/><stop offset="0.288" stop-color="#004bff"/><stop offset="0.358" stop-color="#0086ff"/><stop offset="0.418" stop-color="#00d7ff"/><stop offset="0.443" stop-color="#04fffb"/><stop offset="0.509" stop-color="#9eff61"/><stop offset="0.542" stop-color="#edff12"/><stop offset="0.555" stop-color="#fffa00"/><stop offset="0.619" stop-color="#ff9000"/><stop offset="0.665" stop-color="#ff4d00"/><stop offset="0.718" stop-color="#ff2b00"/><stop offset="0.772" stop-color="#ff4e00"/><stop offset="0.857" stop-color="#ffa500"/><stop offset="0.944" stop-color="#fffe00"/><stop offset="1.000" stop-color="#d1ff2e"/></linearGradient><linearGradient id="h112"><stop offset="0.000" stop-color="#0000ad"/><stop offset="0.052" stop-color="#0000c5"/><stop offset="0.157" stop-color="#0001ff"/><stop offset="0.288" stop-color="#004cff"/><stop offset="0.358" stop-color="#0087ff"/><stop offset="0.418" stop-color="#00d9ff"/><stop offset="0.441" stop-color="#02fffd"/><stop offset="0.509" stop-color="#a2ff5d"/><stop offset="0.542" stop-color="#f1ff0e"/><stop offset="0.553" stop-color="#fffa00"/><stop offset="0.623" stop-color="#ff8700"/><stop offset="0.665" stop-color="#ff4b00"/><stop offset="0.718" stop-color="#ff2900"/><stop offset="0.774" stop-color="#ff5000"/><stop offset="0.857" stop-color="#ffa500"/><stop offset="0.944" stop-color="#fffe00"/><stop offset="1.000" stop-color="#d2ff2d"/></linearGradient><linearGradient id="h113"><stop offset="0.000" stop-color="#0000ae"/><stop offset="0.054" stop-color="#0000c7"/><stop offset="0.159" stop-color="#0003ff"/><stop offset="0.288" stop-color="#004dff"/><stop offset="0.356" stop-color="#0086ff"/><stop offset="0.416" stop-color="#00d7ff"/><stop offset="0.441" stop-color="#04fffb"/><stop offset="0.509" stop-color="#a5ff5a"/><stop offset="0.542" stop-color="#f5ff0a"/><stop offset="0.553" stop-color="#fff600"/><stop offset="0.638" stop-color="#ff6e00"/><stop offset="0.665" stop-color="#ff4800"/><stop offset="0.718" stop-color="#ff2800"/><stop offset="0.776" stop-color="#ff5100"/><stop offset="0.855" stop-color="#ffa200"/><stop offset="0.938" stop-color="#fff800"/><stop offset="0.957" stop-color="#f6ff09"/><stop offset="1.000" stop-color="#d3ff2c"/></linearGradient><linearGradient id="h114"><stop offset="0.000" stop-color="#0000af"/><stop offset="0.056" stop-color="#0000c9"/><stop offset="0.159" stop-color="#0004ff"/><stop offset="0.286" stop-color="#004cff"/><stop offset="0.356" stop-color="#0087ff"/><stop offset="0.416" stop-color="#00d9ff"/><stop offset="0.439" stop-color="#02fffd"/><stop offset="0.509" stop-color="#a9ff56"/><stop offset="0.540" stop-color="#f6ff09"/><stop offset="0.551" stop-color="#fff600"/><stop offset="0.652" stop-color="#ff5500"/><stop offset="0.671" stop-color="#ff4200"/><stop offset="0.718" stop-color="#ff2600"/><stop offset="0.781" stop-color="#ff5400"/><stop offset="0.855" stop-color="#ffa100"/><stop offset="0.938" stop-color="#fff800"/><stop offset="0.957" stop-color="#f6ff09"/><stop offset="1.000" stop-color="#d4ff2b"/></linearGradient><linearGradient id="h115"><stop offset="0.000" stop-color="#0000b0"/><stop offset="0.060" stop-color="#0000cc"/><stop offset="0.157" stop-color="#0003ff"/><stop offset="0.286" stop-color="#004dff"/><stop offset="0.356" stop-color="#0088ff"/><stop offset="0.418" stop-color="#00deff"/><stop offset="0.439" stop-color="#04fffb"/><stop offset="0.509" stop-color="#adff52"/><stop offset="0.540" stop-color="#faff05"/><stop offset="0.565" stop-color="#ffd900"/><stop offset="0.665" stop-color="#ff4400"/><stop offset="0.718" stop-color="#ff2500"/><stop offset="0.783" stop-color="#ff5500"/><stop offset="0.855" stop-color="#ffa000"/><stop offset="0.936" stop-color="#fff600"/><stop offset="0.952" stop-color="#f9ff06"/><stop offset="1.000" stop-color="#d5ff2a"/></linearGradient><linearGradient id="h116"><stop offset="0.000" stop-color="#0000b1"/><stop offset="0.064" stop-color="#0000cf"/><stop offset="0.155" stop-color="#0003ff"/><stop offset="0.286" stop-color="#004eff"/><stop offset="0.356" stop-color="#0089ff"/><stop offset="0.418" stop-color="#00e0ff"/><stop offset="0.437" stop-color="#01fffe"/><stop offset="0.507" stop-color="#acff53"/><stop offset="0.540" stop-color="#feff01"/><stop offset="0.660" stop-color="#ff4400"/><stop offset="0.718" stop-color="#ff2300"/><stop offset="0.787" stop-color="#ff5900"/><stop offset="0.855" stop-color="#ffa000"/><stop offset="0.934" stop-color="#fff400"/><stop offset="0.950" stop-color="#fbff04"/><stop offset="1.000" stop-color="#d6ff29"/></linearGradient><linearGradient id="h117"><stop offset="0.000" stop-color="#0000b2"/><stop offset="0.068" stop-color="#0000d2"/><stop offset="0.155" stop-color="#0004ff"/><stop offset="0.284" stop-color="#004dff"/><stop offset="0.354" stop-color="#0088ff"/><stop offset="0.416" stop-color="#00dfff"/><stop offset="0.437" stop-color="#04fffb"/><stop offset="0.507" stop-color="#afff50"/><stop offset="0.538" stop-color="#ffff00"/><stop offset="0.658" stop-color="#ff4400"/><stop offset="0.718" stop-color="#ff2100"/><stop offset="0.791" stop-color="#ff5c00"/><stop offset="0.855" stop-color="#ff9f00"/><stop offset="0.934" stop-color="#fff400"/><stop offset="0.950" stop-color="#fbff04"/><stop offset="1.000" stop-color="#d7ff28"/></linearGradient><linearGradient id="h118"><stop offset="0.000" stop-color="#0000b3"/><stop offset="0.075" stop-color="#0000d7"/><stop offset="0.153" stop-color="#0003ff"/><stop offset="0.284" stop-color="#004eff"/><stop offset="0.354" stop-color="#0089ff"/><stop offset="0.416" stop-color="#00e1ff"/><stop offset="0.435" stop-color="#01fffe"/><stop offset="0.507" stop-color="#b3ff4c"/><stop offset="0.536" stop-color="#fffe00"/><stop offset="0.660" stop-color="#ff3f00"/><stop offset="0.718" stop-color="#ff1f00"/><stop offset="0.795" stop-color="#ff5f00"/><stop offset="0.857" stop-color="#ffa100"/><stop offset="0.938" stop-color="#fff800"/><stop offset="0.957" stop-color="#f7ff08"/><stop offset="1.000" stop-color="#d7ff28"/></linearGradient><linearGradient id="h119"><stop offset="0.000" stop-color="#0000b4"/><stop offset="0.083" stop-color="#0000dc"/><stop offset="0.153" stop-color="#0003ff"/><stop offset="0.284" stop-color="#004fff"/><stop offset="0.354" stop-color="#008aff"/><stop offset="0.416" stop-color="#00e4ff"/><stop offset="0.435" stop-color="#04fffb"/><stop offset="0.507" stop-color="#b6ff49"/><stop offset="0.536" stop-color="#fffc00"/><stop offset="0.660" stop-color="#ff3c00"/><stop offset="0.718" stop-color="#ff1d00"/><stop offset="0.789" stop-color="#ff5800"/><stop offset="0.855" stop-color="#ff9d00"/><stop offset="0.934" stop-color="#fff400"/><stop offset="0.950" stop-color="#fbff04"/><stop offset="1.000" stop-color="#d7ff28"/></linearGradient><linearGradient id="h120"><stop offset="0.000" stop-color="#0000b4"/><stop offset="0.097" stop-color="#0000e4"/><stop offset="0.155" stop-color="#0005ff"/><stop offset="0.284" stop-color="#0050ff"/><stop offset="0.356" stop-color="#008fff"/><stop offset="0.416" stop-color="#00e6ff"/><stop offset="0.433" stop-color="#03fffc"/><stop offset="0.505" stop-color="#b4ff4b"/><stop offset="0.534" stop-color="#fffe00"/><stop offset="0.611" stop-color="#ff8500"/><stop offset="0.665" stop-color="#ff3700"/><stop offset="0.718" stop-color="#ff1b00"/><stop offset="0.785" stop-color="#ff5200"/><stop offset="0.857" stop-color="#ff9f00"/><stop offset="0.942" stop-color="#fffc00"/><stop offset="1.000" stop-color="#d8ff27"/></linearGradient><linearGradient id="h121"><stop offset="0.000" stop-color="#0000b5"/><stop offset="0.135" stop-color="#0000f9"/><stop offset="0.166" stop-color="#000aff"/><stop offset="0.284" stop-color="#0051ff"/><stop offset="0.356" stop-color="#0090ff"/><stop offset="0.416" stop-color="#00e9ff"/><stop offset="0.431" stop-color="#03fffc"/><stop offset="0.503" stop-color="#b2ff4d"/><stop offset="0.534" stop-color="#fffc00"/><stop offset="0.613" stop-color="#ff7f00"/><stop offset="0.665" stop-color="#ff3400"/><stop offset="0.718" stop-color="#ff1900"/><stop offset="0.781" stop-color="#ff4c00"/><stop offset="0.857" stop-color="#ff9e00"/><stop offset="0.944" stop-color="#fffe00"/><stop offset="1.000" stop-color="#d8ff27"/></linearGradient><linearGradient id="h122"><stop offset="0.000" stop-color="#0000b5"/><stop offset="0.153" stop-color="#0004ff"/><stop offset="0.284" stop-color="#0052ff"/><stop offset="0.356" stop-color="#0092ff"/><stop offset="0.414" stop-color="#00e7ff"/><stop offset="0.429" stop-color="#02fffd"/><stop offset="0.495" stop-color="#9fff60"/><stop offset="0.532" stop-color="#fffe00"/><stop offset="0.598" stop-color="#ff9200"/><stop offset="0.663" stop-color="#ff3300"/><stop offset="0.718" stop-color="#ff1700"/><stop offset="0.778" stop-color="#ff4800"/><stop offset="0.859" stop-color="#ffa000"/><stop offset="0.944" stop-color="#fffe00"/><stop offset="1.000" stop-color="#d8ff27"/></linearGradient><linearGradient id="h123"><stop offset="0.000" stop-color="#0000b6"/><stop offset="0.153" stop-color="#0004ff"/><stop offset="0.282" stop-color="#0051ff"/><stop offset="0.356" stop-color="#0093ff"/><stop offset="0.414" stop-color="#00eaff"/><stop offset="0.429" stop-color="#05fffa"/><stop offset="0.495" stop-color="#a2ff5d"/><stop offset="0.532" stop-color="#fffc00"/><stop offset="0.600" stop-color="#ff8d00"/><stop offset="0.663" stop-color="#ff3000"/><stop offset="0.716" stop-color="#ff1300"/><stop offset="0.774" stop-color="#ff4200"/><stop offset="0.861" stop-color="#ffa200"/><stop offset="0.946" stop-color="#feff01"/><stop offset="1.000" stop-color="#d8ff27"/></linearGradient><linearGradient id="h124"><stop offset="0.000" stop-color="#0000b6"/><stop offset="0.153" stop-color="#0004ff"/><stop offset="0.280" stop-color="#0050ff"/><stop offset="0.356" stop-color="#0094ff"/><stop offset="0.410" stop-color="#00e5ff"/><stop offset="0.427" stop-color="#04fffb"/><stop offset="0.476" stop-color="#76ff89"/><stop offset="0.530" stop-color="#fffe00"/><stop offset="0.569" stop-color="#ffb900"/><stop offset="0.663" stop-color="#ff2e00"/><stop offset="0.716" stop-color="#ff1100"/><stop offset="0.772" stop-color="#ff3e00"/><stop offset="0.865" stop-color="#ffa600"/><stop offset="0.946" stop-color="#feff01"/><stop offset="1.000" stop-color="#d8ff27"/></linearGradient><linearGradient id="h125"><stop offset="0.000" stop-color="#0000b6"/><stop offset="0.153" stop-color="#0004ff"/><stop offset="0.280" stop-color="#0051ff"/><stop offset="0.356" stop-color="#0096ff"/><stop offset="0.406" stop-color="#00e0ff"/><stop offset="0.424" stop-color="#03fffc"/><stop offset="0.462" stop-color="#55ffaa"/><stop offset="0.530" stop-color="#fffb00"/><stop offset="0.576" stop-color="#ffad00"/><stop offset="0.663" stop-color="#ff2b00"/><stop offset="0.716" stop-color="#ff0f00"/><stop offset="0.770" stop-color="#ff3a00"/><stop offset="0.867" stop-color="#ffa800"/><stop offset="0.946" stop-color="#feff01"/><stop offset="1.000" stop-color="#d9ff26"/></linearGradient><linearGradient id="h126"><stop offset="0.000" stop-color="#0000b7"/><stop offset="0.153" stop-color="#0004ff"/><stop offset="0.277" stop-color="#0050ff"/><stop offset="0.358" stop-color="#009aff"/><stop offset="0.406" stop-color="#00e2ff"/><stop offset="0.422" stop-color="#02fffd"/><stop offset="0.458" stop-color="#4effb1"/><stop offset="0.528" stop-color="#fffe00"/><stop offset="0.551" stop-color="#ffd200"/><stop offset="0.660" stop-color="#ff2900"/><stop offset="0.714" stop-color="#ff0d00"/><stop offset="0.768" stop-color="#ff3600"/><stop offset="0.872" stop-color="#ffac00"/><stop offset="0.948" stop-color="#fdff02"/><stop offset="1.000" stop-color="#d9ff26"/></linearGradient><linearGradient id="h127"><stop offset="0.000" stop-color="#0000b7"/><stop offset="0.153" stop-color="#0004ff"/><stop offset="0.277" stop-color="#0050ff"/><stop offset="0.358" stop-color="#009bff"/><stop offset="0.402" stop-color="#00ddff"/><stop offset="0.422" stop-color="#04fffb"/><stop offset="0.460" stop-color="#56ffa9"/><stop offset="0.528" stop-color="#fffb00"/><stop offset="0.553" stop-color="#ffcd00"/><stop offset="0.660" stop-color="#ff2700"/><stop offset="0.712" stop-color="#ff0b00"/><stop offset="0.766" stop-color="#ff3100"/><stop offset="0.878" stop-color="#ffb400"/><stop offset="0.948" stop-color="#fdff02"/><stop offset="1.000" stop-color="#d9ff26"/></linearGradient><linearGradient id="h128"><stop offset="0.000" stop-color="#0000b8"/><stop offset="0.151" stop-color="#0003ff"/><stop offset="0.275" stop-color="#0050ff"/><stop offset="0.358" stop-color="#009dff"/><stop offset="0.398" stop-color="#00d8ff"/><stop offset="0.420" stop-color="#03fffc"/><stop offset="0.458" stop-color="#54ffab"/><stop offset="0.526" stop-color="#fffd00"/><stop offset="0.547" stop-color="#ffd400"/><stop offset="0.660" stop-color="#ff2400"/><stop offset="0.710" stop-color="#ff0900"/><stop offset="0.741" stop-color="#ff1a00"/><stop offset="0.776" stop-color="#ff3c00"/><stop offset="0.880" stop-color="#ffb500"/><stop offset="0.948" stop-color="#fdff02"/><stop offset="1.000" stop-color="#d9ff26"/></linearGradient><linearGradient id="h129"><stop offset="0.000" stop-color="#0000b8"/><stop offset="0.151" stop-color="#0003ff"/><stop offset="0.273" stop-color="#004fff"/><stop offset="0.358" stop-color="#009eff"/><stop offset="0.393" stop-color="#00d3ff"/><stop offset="0.418" stop-color="#02fffd"/><stop offset="0.458" stop-color="#57ffa8"/><stop offset="0.524" stop-color="#feff01"/><stop offset="0.547" stop-color="#ffd200"/><stop offset="0.660" stop-color="#ff2100"/><stop offset="0.710" stop-color="#ff0600"/><stop offset="0.754" stop-color="#ff2000"/><stop offset="0.880" stop-color="#ffb500"/><stop offset="0.948" stop-color="#fdff02"/><stop offset="1.000" stop-color="#d9ff26"/></linearGradient><linearGradient id="h130"><stop offset="0.000" stop-color="#0000b8"/><stop offset="0.151" stop-color="#0003ff"/><stop offset="0.273" stop-color="#004fff"/><stop offset="0.360" stop-color="#00a2ff"/><stop offset="0.393" stop-color="#00d4ff"/><stop offset="0.418" stop-color="#04fffb"/><stop offset="0.460" stop-color="#5fffa0"/><stop offset="0.524" stop-color="#fffd00"/><stop offset="0.547" stop-color="#ffcf00"/><stop offset="0.660" stop-color="#ff1f00"/><stop offset="0.708" stop-color="#ff0400"/><stop offset="0.735" stop-color="#ff1100"/><stop offset="0.768" stop-color="#ff2e00"/><stop offset="0.944" stop-color="#fffe00"/><stop offset="1.000" stop-color="#daff25"/></linearGradient><linearGradient id="h131"><stop offset="0.000" stop-color="#0000b9"/><stop offset="0.149" stop-color="#0002ff"/><stop offset="0.271" stop-color="#004eff"/><stop offset="0.358" stop-color="#00a1ff"/><stop offset="0.389" stop-color="#00cfff"/><stop offset="0.416" stop-color="#03fffc"/><stop offset="0.460" stop-color="#62ff9d"/><stop offset="0.522" stop-color="#ffff00"/><stop offset="0.545" stop-color="#ffd000"/><stop offset="0.660" stop-color="#ff1c00"/><stop offset="0.708" stop-color="#ff0100"/><stop offset="0.741" stop-color="#ff1300"/><stop offset="0.770" stop-color="#ff2f00"/><stop offset="0.944" stop-color="#fffe00"/><stop offset="1.000" stop-color="#daff25"/></linearGradient><linearGradient id="h132"><stop offset="0.000" stop-color="#0000b9"/><stop offset="0.145" stop-color="#0000ff"/><stop offset="0.269" stop-color="#004dff"/><stop offset="0.358" stop-color="#00a2ff"/><stop offset="0.387" stop-color="#00cdff"/><stop offset="0.414" stop-color="#01fffe"/><stop offset="0.460" stop-color="#64ff9b"/><stop offset="0.520" stop-color="#fdff02"/><stop offset="0.549" stop-color="#ffc700"/><stop offset="0.658" stop-color="#ff1b00"/><stop offset="0.706" stop-color="#fd0000"/><stop offset="0.731" stop-color="#ff0900"/><stop offset="0.766" stop-color="#ff2700"/><stop offset="0.944" stop-color="#fffe00"/><stop offset="1.000" stop-color="#daff25"/></linearGradient><linearGradient id="h133"><stop offset="0.000" stop-color="#0000ba"/><stop offset="0.133" stop-color="#0000f9"/><stop offset="0.159" stop-color="#0008ff"/><stop offset="0.269" stop-color="#004eff"/><stop offset="0.358" stop-color="#00a4ff"/><stop offset="0.385" stop-color="#00cbff"/><stop offset="0.414" stop-color="#04fffb"/><stop offset="0.462" stop-color="#6dff92"/><stop offset="0.520" stop-color="#fffe00"/><stop offset="0.545" stop-color="#ffcb00"/><stop offset="0.648" stop-color="#ff2600"/><stop offset="0.675" stop-color="#ff0d00"/><stop offset="0.704" stop-color="#fa0000"/><stop offset="0.729" stop-color="#ff0600"/><stop offset="0.764" stop-color="#ff2300"/><stop offset="0.828" stop-color="#ff7000"/><stop offset="0.944" stop-color="#fffe00"/><stop offset="1.000" stop-color="#daff25"/></linearGradient><linearGradient id="h134"><stop offset="0.000" stop-color="#0000ba"/><stop offset="0.118" stop-color="#0000f4"/><stop offset="0.153" stop-color="#0005ff"/><stop offset="0.269" stop-color="#004fff"/><stop offset="0.358" stop-color="#00a5ff"/><stop offset="0.385" stop-color="#00cdff"/><stop offset="0.412" stop-color="#02fffd"/><stop offset="0.462" stop-color="#6fff90"/><stop offset="0.518" stop-color="#feff01"/><stop offset="0.547" stop-color="#ffc500"/><stop offset="0.646" stop-color="#ff2700"/><stop offset="0.669" stop-color="#ff0f00"/><stop offset="0.700" stop-color="#f90000"/><stop offset="0.731" stop-color="#ff0500"/><stop offset="0.764" stop-color="#ff2100"/><stop offset="0.824" stop-color="#ff6b00"/><stop offset="0.944" stop-color="#fffe00"/><stop offset="1.000" stop-color="#daff25"/></linearGradient><linearGradient id="h135"><stop offset="0.000" stop-color="#0000bb"/><stop offset="0.110" stop-color="#0000f1"/><stop offset="0.153" stop-color="#0005ff"/><stop offset="0.267" stop-color="#004eff"/><stop offset="0.356" stop-color="#00a4ff"/><stop offset="0.383" stop-color="#00caff"/><stop offset="0.412" stop-color="#04fffb"/><stop offset="0.464" stop-color="#78ff87"/><stop offset="0.518" stop-color="#fffd00"/><stop offset="0.542" stop-color="#ffca00"/><stop offset="0.642" stop-color="#ff2b00"/><stop offset="0.660" stop-color="#ff1100"/><stop offset="0.694" stop-color="#fa0000"/><stop offset="0.712" stop-color="#f70000"/><stop offset="0.735" stop-color="#ff0600"/><stop offset="0.764" stop-color="#ff1f00"/><stop offset="0.822" stop-color="#ff6800"/><stop offset="0.944" stop-color="#fffe00"/><stop offset="1.000" stop-color="#dbff24"/></linearGradient><linearGradient id="h136"><stop offset="0.000" stop-color="#0000bb"/><stop offset="0.104" stop-color="#0000ef"/><stop offset="0.151" stop-color="#0004ff"/><stop offset="0.267" stop-color="#004eff"/><stop offset="0.356" stop-color="#00a6ff"/><stop offset="0.383" stop-color="#00ccff"/><stop offset="0.410" stop-color="#02fffd"/><stop offset="0.464" stop-color="#7bff84"/><stop offset="0.516" stop-color="#ffff00"/><stop offset="0.542" stop-color="#ffc700"/><stop offset="0.640" stop-color="#ff2c00"/><stop offset="0.658" stop-color="#ff1000"/><stop offset="0.689" stop-color="#fa0000"/><stop offset="0.708" stop-color="#f30000"/><stop offset="0.737" stop-color="#ff0500"/><stop offset="0.764" stop-color="#ff1d00"/><stop offset="0.818" stop-color="#ff6200"/><stop offset="0.946" stop-color="#feff01"/><stop offset="1.000" stop-color="#dbff24"/></linearGradient><linearGradient id="h137"><stop offset="0.000" stop-color="#0000bb"/><stop offset="0.099" stop-color="#0000ed"/><stop offset="0.151" stop-color="#0004ff"/><stop offset="0.265" stop-color="#004dff"/><stop offset="0.354" stop-color="#00a5ff"/><stop offset="0.381" stop-color="#00c9ff"/><stop offset="0.408" stop-color="#00ffff"/><stop offset="0.466" stop-color="#83ff7c"/><stop offset="0.513" stop-color="#fdff02"/><stop offset="0.545" stop-color="#ffc100"/><stop offset="0.638" stop-color="#ff2d00"/><stop offset="0.658" stop-color="#ff0e00"/><stop offset="0.685" stop-color="#fa0000"/><stop offset="0.706" stop-color="#f00000"/><stop offset="0.739" stop-color="#ff0400"/><stop offset="0.764" stop-color="#ff1b00"/><stop offset="0.816" stop-color="#ff5f00"/><stop offset="0.946" stop-color="#feff01"/><stop offset="1.000" stop-color="#dbff24"/></linearGradient><linearGradient id="h138"><stop offset="0.000" stop-color="#0000bc"/><stop offset="0.095" stop-color="#0000ec"/><stop offset="0.151" stop-color="#0004ff"/><stop offset="0.265" stop-color="#004eff"/><stop offset="0.352" stop-color="#00a4ff"/><stop offset="0.381" stop-color="#00cbff"/><stop offset="0.408" stop-color="#03fffc"/><stop offset="0.468" stop-color="#8bff74"/><stop offset="0.513" stop-color="#fffe00"/><stop offset="0.540" stop-color="#ffc500"/><stop offset="0.638" stop-color="#ff2a00"/><stop offset="0.658" stop-color="#ff0b00"/><stop offset="0.683" stop-color="#f90000"/><stop offset="0.706" stop-color="#ed0000"/><stop offset="0.743" stop-color="#ff0400"/><stop offset="0.764" stop-color="#ff1800"/><stop offset="0.814" stop-color="#ff5b00"/><stop offset="0.946" stop-color="#feff01"/><stop offset="1.000" stop-color="#dbff24"/></linearGradient><linearGradient id="h139"><stop offset="0.000" stop-color="#0000bc"/><stop offset="0.091" stop-color="#0000eb"/><stop offset="0.151" stop-color="#0004ff"/><stop offset="0.263" stop-color="#004dff"/><stop offset="0.350" stop-color="#00a3ff"/><stop offset="0.381" stop-color="#00ccff"/><stop offset="0.406" stop-color="#01fffe"/><stop offset="0.468" stop-color="#8eff71"/><stop offset="0.511" stop-color="#feff01"/><stop offset="0.540" stop-color="#ffc300"/><stop offset="0.636" stop-color="#ff2b00"/><stop offset="0.656" stop-color="#ff0a00"/><stop offset="0.679" stop-color="#f90000"/><stop offset="0.706" stop-color="#ea0000"/><stop offset="0.747" stop-color="#ff0500"/><stop offset="0.768" stop-color="#ff1d00"/><stop offset="0.816" stop-color="#ff5d00"/><stop offset="0.946" stop-color="#feff01"/><stop offset="1.000" stop-color="#dbff24"/></linearGradient><linearGradient id="h140"><stop offset="0.000" stop-color="#0000bd"/><stop offset="0.089" stop-color="#0000eb"/><stop offset="0.151" stop-color="#0004ff"/><stop offset="0.263" stop-color="#004eff"/><stop offset="0.350" stop-color="#00a4ff"/><stop offset="0.379" stop-color="#00c9ff"/><stop offset="0.406" stop-color="#03fffc"/><stop offset="0.468" stop-color="#91ff6e"/><stop offset="0.509" stop-color="#fdff02"/><stop offset="0.542" stop-color="#ffbd00"/><stop offset="0.634" stop-color="#ff2c00"/><stop offset="0.656" stop-color="#ff0700"/><stop offset="0.679" stop-color="#f60000"/><stop offset="0.706" stop-color="#e80000"/><stop offset="0.749" stop-color="#ff0400"/><stop offset="0.776" stop-color="#ff2700"/><stop offset="0.822" stop-color="#ff6300"/><stop offset="0.946" stop-color="#feff01"/><stop offset="1.000" stop-color="#dbff24"/></linearGradient><linearGradient id="h141"><stop offset="0.000" stop-color="#0000bd"/><stop offset="0.087" stop-color="#0000eb"/><stop offset="0.151" stop-color="#0004ff"/><stop offset="0.261" stop-color="#004cff"/><stop offset="0.348" stop-color="#00a3ff"/><stop offset="0.379" stop-color="#00cbff"/><stop offset="0.404" stop-color="#01fffe"/><stop offset="0.468" stop-color="#94ff6b"/><stop offset="0.509" stop-color="#fffe00"/><stop offset="0.538" stop-color="#ffc100"/><stop offset="0.634" stop-color="#ff2a00"/><stop offset="0.656" stop-color="#ff0400"/><stop offset="0.706" stop-color="#e50000"/><stop offset="0.754" stop-color="#ff0500"/><stop offset="0.812" stop-color="#ff5600"/><stop offset="0.888" stop-color="#ffb800"/><stop offset="0.948" stop-color="#fdff02"/><stop offset="1.000" stop-color="#dcff23"/></linearGradient><linearGradient id="h142"><stop offset="0.000" stop-color="#0000be"/><stop offset="0.085" stop-color="#0000eb"/><stop offset="0.151" stop-color="#0004ff"/><stop offset="0.261" stop-color="#004dff"/><stop offset="0.346" stop-color="#00a2ff"/><stop offset="0.379" stop-color="#00ccff"/><stop offset="0.404" stop-color="#03fffc"/><stop offset="0.468" stop-color="#97ff68"/><stop offset="0.507" stop-color="#feff01"/><stop offset="0.540" stop-color="#ffbc00"/><stop offset="0.631" stop-color="#ff2b00"/><stop offset="0.656" stop-color="#ff0200"/><stop offset="0.704" stop-color="#e10000"/><stop offset="0.756" stop-color="#ff0400"/><stop offset="0.810" stop-color="#ff5200"/><stop offset="0.884" stop-color="#ffb200"/><stop offset="0.948" stop-color="#fdff02"/><stop offset="1.000" stop-color="#dcff23"/></linearGradient><linearGradient id="h143"><stop offset="0.000" stop-color="#0000be"/><stop offset="0.083" stop-color="#0000eb"/><stop offset="0.151" stop-color="#0004ff"/><stop offset="0.261" stop-color="#004eff"/><stop offset="0.344" stop-color="#00a1ff"/><stop offset="0.379" stop-color="#00ceff"/><stop offset="0.402" stop-color="#01fffe"/><stop offset="0.468" stop-color="#9aff65"/><stop offset="0.507" stop-color="#fffc00"/><stop offset="0.538" stop-color="#ffbc00"/><stop offset="0.631" stop-color="#ff2800"/><stop offset="0.654" stop-color="#ff0000"/><stop offset="0.704" stop-color="#de0000"/><stop offset="0.758" stop-color="#ff0400"/><stop offset="0.807" stop-color="#ff4f00"/><stop offset="0.882" stop-color="#ffae00"/><stop offset="0.948" stop-color="#fdff02"/><stop offset="1.000" stop-color="#dcff23"/></linearGradient><linearGradient id="h144"><stop offset="0.000" stop-color="#0000be"/><stop offset="0.083" stop-color="#0000eb"/><stop offset="0.151" stop-color="#0005ff"/><stop offset="0.259" stop-color="#004cff"/><stop offset="0.342" stop-color="#00a0ff"/><stop offset="0.379" stop-color="#00cfff"/><stop offset="0.402" stop-color="#03fffc"/><stop offset="0.470" stop-color="#a2ff5d"/><stop offset="0.505" stop-color="#fffe00"/><stop offset="0.538" stop-color="#ffba00"/><stop offset="0.631" stop-color="#ff2500"/><stop offset="0.652" stop-color="#fe0000"/><stop offset="0.704" stop-color="#dc0000"/><stop offset="0.758" stop-color="#ff0300"/><stop offset="0.807" stop-color="#ff4e00"/><stop offset="0.882" stop-color="#ffae00"/><stop offset="0.948" stop-color="#fdff02"/><stop offset="1.000" stop-color="#dcff23"/></linearGradient><linearGradient id="h145"><stop offset="0.000" stop-color="#0000bf"/><stop offset="0.083" stop-color="#0000ec"/><stop offset="0.149" stop-color="#0004ff"/><stop offset="0.259" stop-color="#004cff"/><stop offset="0.337" stop-color="#009dff"/><stop offset="0.379" stop-color="#00d2ff"/><stop offset="0.400" stop-color="#01fffe"/><stop offset="0.470" stop-color="#a4ff5b"/><stop offset="0.505" stop-color="#fffc00"/><stop offset="0.538" stop-color="#ffb700"/><stop offset="0.631" stop-color="#ff2200"/><stop offset="0.652" stop-color="#fb0000"/><stop offset="0.704" stop-color="#db0000"/><stop offset="0.758" stop-color="#ff0300"/><stop offset="0.807" stop-color="#ff4d00"/><stop offset="0.884" stop-color="#ffb000"/><stop offset="0.948" stop-color="#fdff02"/><stop offset="1.000" stop-color="#dcff23"/></linearGradient><linearGradient id="h146"><stop offset="0.000" stop-color="#0000bf"/><stop offset="0.083" stop-color="#0000ec"/><stop offset="0.149" stop-color="#0004ff"/><stop offset="0.259" stop-color="#004cff"/><stop offset="0.333" stop-color="#0099ff"/><stop offset="0.379" stop-color="#00d4ff"/><stop offset="0.400" stop-color="#03fffc"/><stop offset="0.470" stop-color="#a5ff5a"/><stop offset="0.503" stop-color="#feff01"/><stop offset="0.538" stop-color="#ffb400"/><stop offset="0.634" stop-color="#ff1b00"/><stop offset="0.650" stop-color="#fb0000"/><stop offset="0.698" stop-color="#dc0000"/><stop offset="0.716" stop-color="#e30000"/><stop offset="0.758" stop-color="#ff0300"/><stop offset="0.810" stop-color="#ff4f00"/><stop offset="0.888" stop-color="#ffb600"/><stop offset="0.948" stop-color="#fdff02"/><stop offset="1.000" stop-color="#ddff22"/></linearGradient><linearGradient id="h147"><stop offset="0.000" stop-color="#0000c0"/><stop offset="0.083" stop-color="#0000ec"/><stop offset="0.149" stop-color="#0004ff"/><stop offset="0.259" stop-color="#004cff"/><stop offset="0.331" stop-color="#0097ff"/><stop offset="0.379" stop-color="#00d7ff"/><stop offset="0.398" stop-color="#01fffe"/><stop offset="0.470" stop-color="#a7ff58"/><stop offset="0.503" stop-color="#fffe00"/><stop offset="0.538" stop-color="#ffb200"/><stop offset="0.636" stop-color="#ff1300"/><stop offset="0.648" stop-color="#fc0000"/><stop offset="0.681" stop-color="#e20000"/><stop offset="0.706" stop-color="#db0000"/><stop offset="0.758" stop-color="#ff0300"/><stop offset="0.810" stop-color="#ff4e00"/><stop offset="0.890" stop-color="#ffb900"/><stop offset="0.948" stop-color="#fdff02"/><stop offset="1.000" stop-color="#ddff22"/></linearGradient><linearGradient id="h148"><stop offset="0.000" stop-color="#0000c0"/><stop offset="0.083" stop-color="#0000ec"/><stop offset="0.149" stop-color="#0004ff"/><stop offset="0.259" stop-color="#004cff"/><stop offset="0.329" stop-color="#0096ff"/><stop offset="0.379" stop-color="#00d9ff"/><stop offset="0.398" stop-color="#04fffb"/><stop offset="0.472" stop-color="#aeff51"/><stop offset="0.503" stop-color="#fffc00"/><stop offset="0.538" stop-color="#ffaf00"/><stop offset="0.638" stop-color="#ff0c00"/><stop offset="0.648" stop-color="#f90000"/><stop offset="0.679" stop-color="#e00000"/><stop offset="0.706" stop-color="#da0000"/><stop offset="0.758" stop-color="#ff0300"/><stop offset="0.812" stop-color="#ff5000"/><stop offset="0.896" stop-color="#ffc100"/><stop offset="0.948" stop-color="#fdff02"/><stop offset="1.000" stop-color="#ddff22"/></linearGradient><linearGradient id="h149"><stop offset="0.000" stop-color="#0000c1"/><stop offset="0.081" stop-color="#0000ec"/><stop offset="0.147" stop-color="#0004ff"/><stop offset="0.257" stop-color="#004aff"/><stop offset="0.325" stop-color="#0091ff"/><stop offset="0.379" stop-color="#00dcff"/><stop offset="0.395" stop-color="#02fffd"/><stop offset="0.472" stop-color="#afff50"/><stop offset="0.501" stop-color="#feff01"/><stop offset="0.538" stop-color="#ffac00"/><stop offset="0.640" stop-color="#ff0500"/><stop offset="0.658" stop-color="#ea0000"/><stop offset="0.683" stop-color="#dc0000"/><stop offset="0.706" stop-color="#d90000"/><stop offset="0.758" stop-color="#ff0300"/><stop offset="0.814" stop-color="#ff5200"/><stop offset="0.946" stop-color="#ffff00"/><stop offset="1.000" stop-color="#ddff22"/></linearGradient><linearGradient id="h150"><stop offset="0.000" stop-color="#0000c1"/><stop offset="0.079" stop-color="#0000ec"/><stop offset="0.147" stop-color="#0004ff"/><stop offset="0.257" stop-color="#004aff"/><stop offset="0.325" stop-color="#0092ff"/><stop offset="0.379" stop-color="#00deff"/><stop offset="0.395" stop-color="#04fffb"/><stop offset="0.472" stop-color="#b1ff4e"/><stop offset="0.501" stop-color="#fffe00"/><stop offset="0.538" stop-color="#ffaa00"/><stop offset="0.642" stop-color="#fd0000"/><stop offset="0.660" stop-color="#e50000"/><stop offset="0.681" stop-color="#da0000"/><stop offset="0.706" stop-color="#d90000"/><stop offset="0.758" stop-color="#ff0300"/><stop offset="0.818" stop-color="#ff5600"/><stop offset="0.946" stop-color="#ffff00"/><stop offset="1.000" stop-color="#deff21"/></linearGradient><linearGradient id="h151"><stop offset="0.000" stop-color="#0000c2"/><stop offset="0.075" stop-color="#0000eb"/><stop offset="0.147" stop-color="#0004ff"/><stop offset="0.257" stop-color="#004bff"/><stop offset="0.323" stop-color="#0090ff"/><stop offset="0.379" stop-color="#00e0ff"/><stop offset="0.393" stop-color="#02fffd"/><stop offset="0.472" stop-color="#b2ff4d"/><stop offset="0.501" stop-color="#fffc00"/><stop offset="0.538" stop-color="#ffa700"/><stop offset="0.640" stop-color="#fd0000"/><stop offset="0.660" stop-color="#e20000"/><stop offset="0.679" stop-color="#d70000"/><stop offset="0.708" stop-color="#d90000"/><stop offset="0.758" stop-color="#ff0300"/><stop offset="0.822" stop-color="#ff5b00"/><stop offset="0.946" stop-color="#ffff00"/><stop offset="1.000" stop-color="#deff21"/></linearGradient><linearGradient id="h152"><stop offset="0.000" stop-color="#0000c2"/><stop offset="0.072" stop-color="#0000ea"/><stop offset="0.147" stop-color="#0004ff"/><stop offset="0.257" stop-color="#004bff"/><stop offset="0.321" stop-color="#008eff"/><stop offset="0.379" stop-color="#00e3ff"/><stop offset="0.391" stop-color="#00ffff"/><stop offset="0.453" stop-color="#88ff77"/><stop offset="0.478" stop-color="#c6ff39"/><stop offset="0.499" stop-color="#ffff00"/><stop offset="0.538" stop-color="#ffa400"/><stop offset="0.638" stop-color="#fe0000"/><stop offset="0.660" stop-color="#de0000"/><stop offset="0.677" stop-color="#d40000"/><stop offset="0.708" stop-color="#d90000"/><stop offset="0.758" stop-color="#ff0200"/><stop offset="0.828" stop-color="#ff6200"/><stop offset="0.944" stop-color="#fffd00"/><stop offset="1.000" stop-color="#deff21"/></linearGradient><linearGradient id="h153"><stop offset="0.000" stop-color="#0000c2"/><stop offset="0.070" stop-color="#0000ea"/><stop offset="0.145" stop-color="#0004ff"/><stop offset="0.257" stop-color="#004bff"/><stop offset="0.321" stop-color="#008eff"/><stop offset="0.379" stop-color="#00e5ff"/><stop offset="0.391" stop-color="#03fffc"/><stop offset="0.449" stop-color="#82ff7d"/><stop offset="0.474" stop-color="#bbff44"/><stop offset="0.499" stop-color="#fffd00"/><stop offset="0.538" stop-color="#ffa100"/><stop offset="0.636" stop-color="#fe0000"/><stop offset="0.660" stop-color="#db0000"/><stop offset="0.677" stop-color="#d10000"/><stop offset="0.708" stop-color="#d80000"/><stop offset="0.758" stop-color="#ff0200"/><stop offset="0.841" stop-color="#ff7100"/><stop offset="0.940" stop-color="#fff700"/><stop offset="0.952" stop-color="#fbff04"/><stop offset="1.000" stop-color="#deff21"/></linearGradient><linearGradient id="h154"><stop offset="0.000" stop-color="#0000c3"/><stop offset="0.068" stop-color="#0000ea"/><stop offset="0.145" stop-color="#0004ff"/><stop offset="0.257" stop-color="#004bff"/><stop offset="0.319" stop-color="#008cff"/><stop offset="0.379" stop-color="#00e8ff"/><stop offset="0.391" stop-color="#05fffa"/><stop offset="0.445" stop-color="#7cff83"/><stop offset="0.474" stop-color="#bdff42"/><stop offset="0.499" stop-color="#fffb00"/><stop offset="0.538" stop-color="#ff9f00"/><stop offset="0.636" stop-color="#fb0000"/><stop offset="0.660" stop-color="#d80000"/><stop offset="0.675" stop-color="#cd0000"/><stop offset="0.710" stop-color="#d90000"/><stop offset="0.758" stop-color="#ff0200"/><stop offset="0.942" stop-color="#fffa00"/><stop offset="0.967" stop-color="#f2ff0d"/><stop offset="1.000" stop-color="#deff21"/></linearGradient><linearGradient id="h155"><stop offset="0.000" stop-color="#0000c3"/><stop offset="0.066" stop-color="#0000ea"/><stop offset="0.145" stop-color="#0004ff"/><stop offset="0.257" stop-color="#004bff"/><stop offset="0.319" stop-color="#008dff"/><stop offset="0.381" stop-color="#00efff"/><stop offset="0.389" stop-color="#03fffc"/><stop offset="0.443" stop-color="#7aff85"/><stop offset="0.472" stop-color="#b8ff47"/><stop offset="0.497" stop-color="#ffff00"/><stop offset="0.538" stop-color="#ff9c00"/><stop offset="0.634" stop-color="#fb0000"/><stop offset="0.660" stop-color="#d50000"/><stop offset="0.675" stop-color="#ca0000"/><stop offset="0.710" stop-color="#d80000"/><stop offset="0.758" stop-color="#ff0200"/><stop offset="0.942" stop-color="#fffa00"/><stop offset="0.965" stop-color="#f4ff0b"/><stop offset="1.000" stop-color="#dfff20"/></linearGradient><linearGradient id="h156"><stop offset="0.000" stop-color="#0000c4"/><stop offset="0.062" stop-color="#0000e8"/><stop offset="0.145" stop-color="#0005ff"/><stop offset="0.257" stop-color="#004bff"/><stop offset="0.317" stop-color="#008aff"/><stop offset="0.381" stop-color="#00f1ff"/><stop offset="0.389" stop-color="#05fffa"/><stop offset="0.441" stop-color="#78ff87"/><stop offset="0.472" stop-color="#baff45"/><stop offset="0.497" stop-color="#fffd00"/><stop offset="0.540" stop-color="#ff9600"/><stop offset="0.631" stop-color="#fb0000"/><stop offset="0.660" stop-color="#d20000"/><stop offset="0.675" stop-color="#c70000"/><stop offset="0.712" stop-color="#d90000"/><stop offset="0.758" stop-color="#ff0200"/><stop offset="0.944" stop-color="#fffc00"/><stop offset="1.000" stop-color="#dfff20"/></linearGradient><linearGradient id="h157"><stop offset="0.000" stop-color="#0000c4"/><stop offset="0.060" stop-color="#0000e8"/><stop offset="0.143" stop-color="#0004ff"/><stop offset="0.255" stop-color="#0049ff"/><stop offset="0.317" stop-color="#008bff"/><stop offset="0.381" stop-color="#00f4ff"/><stop offset="0.389" stop-color="#08fff7"/><stop offset="0.441" stop-color="#7bff84"/><stop offset="0.472" stop-color="#bcff43"/><stop offset="0.495" stop-color="#fdff02"/><stop offset="0.540" stop-color="#ff9300"/><stop offset="0.629" stop-color="#fc0000"/><stop offset="0.660" stop-color="#ce0000"/><stop offset="0.673" stop-color="#c30000"/><stop offset="0.714" stop-color="#da0000"/><stop offset="0.758" stop-color="#ff0200"/><stop offset="0.896" stop-color="#ffc000"/><stop offset="0.948" stop-color="#feff01"/><stop offset="1.000" stop-color="#dfff20"/></linearGradient><linearGradient id="h158"><stop offset="0.000" stop-color="#0000c5"/><stop offset="0.056" stop-color="#0000e7"/><stop offset="0.143" stop-color="#0004ff"/><stop offset="0.255" stop-color="#0049ff"/><stop offset="0.317" stop-color="#008bff"/><stop offset="0.381" stop-color="#00f6ff"/><stop offset="0.387" stop-color="#06fff9"/><stop offset="0.439" stop-color="#79ff86"/><stop offset="0.472" stop-color="#bdff42"/><stop offset="0.495" stop-color="#ffff00"/><stop offset="0.540" stop-color="#ff9000"/><stop offset="0.627" stop-color="#fc0000"/><stop offset="0.663" stop-color="#c90000"/><stop offset="0.673" stop-color="#bf0000"/><stop offset="0.718" stop-color="#dd0000"/><stop offset="0.758" stop-color="#ff0200"/><stop offset="0.892" stop-color="#ffb900"/><stop offset="0.948" stop-color="#feff01"/><stop offset="1.000" stop-color="#dfff20"/></linearGradient><linearGradient id="h159"><stop offset="0.000" stop-color="#0000c5"/><stop offset="0.054" stop-color="#0000e6"/><stop offset="0.143" stop-color="#0004ff"/><stop offset="0.255" stop-color="#0049ff"/><stop offset="0.315" stop-color="#0088ff"/><stop offset="0.381" stop-color="#00f9ff"/><stop offset="0.391" stop-color="#12ffed"/><stop offset="0.439" stop-color="#7cff83"/><stop offset="0.472" stop-color="#bfff40"/><stop offset="0.495" stop-color="#fffd00"/><stop offset="0.540" stop-color="#ff8e00"/><stop offset="0.625" stop-color="#fc0000"/><stop offset="0.660" stop-color="#c80000"/><stop offset="0.673" stop-color="#bc0000"/><stop offset="0.727" stop-color="#e40000"/><stop offset="0.758" stop-color="#ff0200"/><stop offset="0.890" stop-color="#ffb600"/><stop offset="0.948" stop-color="#feff01"/><stop offset="1.000" stop-color="#dfff20"/></linearGradient><linearGradient id="h160"><stop offset="0.000" stop-color="#0000c6"/><stop offset="0.054" stop-color="#0000e7"/><stop offset="0.141" stop-color="#0004ff"/><stop offset="0.255" stop-color="#0049ff"/><stop offset="0.315" stop-color="#0089ff"/><stop offset="0.383" stop-color="#01fffe"/><stop offset="0.437" stop-color="#7bff84"/><stop offset="0.472" stop-color="#c0ff3f"/><stop offset="0.493" stop-color="#feff01"/><stop offset="0.540" stop-color="#ff8b00"/><stop offset="0.623" stop-color="#fc0000"/><stop offset="0.658" stop-color="#c70000"/><stop offset="0.673" stop-color="#b80000"/><stop offset="0.745" stop-color="#f50000"/><stop offset="0.760" stop-color="#ff0500"/><stop offset="0.888" stop-color="#ffb300"/><stop offset="0.948" stop-color="#feff01"/><stop offset="1.000" stop-color="#e0ff1f"/></linearGradient><linearGradient id="h161"><stop offset="0.000" stop-color="#0000c6"/><stop offset="0.052" stop-color="#0000e6"/><stop offset="0.141" stop-color="#0004ff"/><stop offset="0.255" stop-color="#0049ff"/><stop offset="0.315" stop-color="#0089ff"/><stop offset="0.383" stop-color="#03fffc"/><stop offset="0.437" stop-color="#7dff82"/><stop offset="0.470" stop-color="#bbff44"/><stop offset="0.493" stop-color="#fffe00"/><stop offset="0.540" stop-color="#ff8800"/><stop offset="0.621" stop-color="#fc0000"/><stop offset="0.658" stop-color="#c40000"/><stop offset="0.673" stop-color="#b50000"/><stop offset="0.758" stop-color="#ff0200"/><stop offset="0.882" stop-color="#ffaa00"/><stop offset="0.948" stop-color="#feff01"/><stop offset="1.000" stop-color="#e0ff1f"/></linearGradient><linearGradient id="h162"><stop offset="0.000" stop-color="#0000c7"/><stop offset="0.050" stop-color="#0000e6"/><stop offset="0.141" stop-color="#0004ff"/><stop offset="0.255" stop-color="#0049ff"/><stop offset="0.315" stop-color="#008aff"/><stop offset="0.381" stop-color="#01fffe"/><stop offset="0.435" stop-color="#7cff83"/><stop offset="0.470" stop-color="#bdff42"/><stop offset="0.493" stop-color="#fffd00"/><stop offset="0.540" stop-color="#ff8500"/><stop offset="0.619" stop-color="#fc0000"/><stop offset="0.656" stop-color="#c30000"/><stop offset="0.673" stop-color="#b20000"/><stop offset="0.758" stop-color="#ff0200"/><stop offset="0.872" stop-color="#ff9a00"/><stop offset="0.944" stop-color="#fffb00"/><stop offset="1.000" stop-color="#e0ff1f"/></linearGradient><linearGradient id="h163"><stop offset="0.000" stop-color="#0000c7"/><stop offset="0.050" stop-color="#0000e7"/><stop offset="0.139" stop-color="#0004ff"/><stop offset="0.255" stop-color="#0049ff"/><stop offset="0.315" stop-color="#008aff"/><stop offset="0.381" stop-color="#03fffc"/><stop offset="0.435" stop-color="#7eff81"/><stop offset="0.470" stop-color="#beff41"/><stop offset="0.491" stop-color="#feff01"/><stop offset="0.540" stop-color="#ff8300"/><stop offset="0.617" stop-color="#fc0000"/><stop offset="0.656" stop-color="#c00000"/><stop offset="0.673" stop-color="#ae0000"/><stop offset="0.758" stop-color="#ff0200"/><stop offset="0.863" stop-color="#ff8e00"/><stop offset="0.934" stop-color="#ffee00"/><stop offset="0.950" stop-color="#fdff02"/><stop offset="1.000" stop-color="#e0ff1f"/></linearGradient><linearGradient id="h164"><stop offset="0.000" stop-color="#0000c7"/><stop offset="0.048" stop-color="#0000e7"/><stop offset="0.139" stop-color="#0004ff"/><stop offset="0.255" stop-color="#0049ff"/><stop offset="0.313" stop-color="#0087ff"/><stop offset="0.379" stop-color="#01fffe"/><stop offset="0.435" stop-color="#81ff7e"/><stop offset="0.470" stop-color="#c0ff3f"/><stop offset="0.491" stop-color="#fffe00"/><stop offset="0.540" stop-color="#ff8000"/><stop offset="0.615" stop-color="#fc0000"/><stop offset="0.654" stop-color="#c00000"/><stop offset="0.673" stop-color="#ab0000"/><stop offset="0.758" stop-color="#ff0200"/><stop offset="0.857" stop-color="#ff8400"/><stop offset="0.930" stop-color="#ffe900"/><stop offset="0.950" stop-color="#fdff02"/><stop offset="1.000" stop-color="#e1ff1e"/></linearGradient><linearGradient id="h165"><stop offset="0.000" stop-color="#0000c8"/><stop offset="0.048" stop-color="#0000e7"/><stop offset="0.139" stop-color="#0004ff"/><stop offset="0.255" stop-color="#0049ff"/><stop offset="0.313" stop-color="#0088ff"/><stop offset="0.379" stop-color="#03fffc"/><stop offset="0.435" stop-color="#84ff7b"/><stop offset="0.470" stop-color="#c1ff3e"/><stop offset="0.491" stop-color="#fffc00"/><stop offset="0.540" stop-color="#ff7d00"/><stop offset="0.613" stop-color="#fc0000"/><stop offset="0.654" stop-color="#bd0000"/><stop offset="0.673" stop-color="#a70000"/><stop offset="0.758" stop-color="#ff0200"/><stop offset="0.849" stop-color="#ff7800"/><stop offset="0.928" stop-color="#ffe600"/><stop offset="0.950" stop-color="#fdff02"/><stop offset="1.000" stop-color="#e1ff1e"/></linearGradient><linearGradient id="h166"><stop offset="0.000" stop-color="#0000c8"/><stop offset="0.048" stop-color="#0000e8"/><stop offset="0.137" stop-color="#0003ff"/><stop offset="0.255" stop-color="#0049ff"/><stop offset="0.313" stop-color="#0088ff"/><stop offset="0.377" stop-color="#01fffe"/><stop offset="0.435" stop-color="#86ff79"/><stop offset="0.470" stop-color="#c3ff3c"/><stop offset="0.489" stop-color="#feff01"/><stop offset="0.540" stop-color="#ff7a00"/><stop offset="0.611" stop-color="#fc0000"/><stop offset="0.652" stop-color="#bc0000"/><stop offset="0.673" stop-color="#a40000"/><stop offset="0.756" stop-color="#ff0000"/><stop offset="0.839" stop-color="#ff6900"/><stop offset="0.928" stop-color="#ffe600"/><stop offset="0.950" stop-color="#fdff02"/><stop offset="1.000" stop-color="#e1ff1e"/></linearGradient><linearGradient id="h167"><stop offset="0.000" stop-color="#0000c9"/><stop offset="0.046" stop-color="#0000e8"/><stop offset="0.137" stop-color="#0004ff"/><stop offset="0.255" stop-color="#0049ff"/><stop offset="0.313" stop-color="#0088ff"/><stop offset="0.377" stop-color="#03fffc"/><stop offset="0.435" stop-color="#89ff76"/><stop offset="0.470" stop-color="#c4ff3b"/><stop offset="0.489" stop-color="#fffe00"/><stop offset="0.540" stop-color="#ff7800"/><stop offset="0.609" stop-color="#fc0000"/><stop offset="0.652" stop-color="#b90000"/><stop offset="0.673" stop-color="#a00000"/><stop offset="0.735" stop-color="#e90000"/><stop offset="0.760" stop-color="#ff0400"/><stop offset="0.836" stop-color="#ff6600"/><stop offset="0.925" stop-color="#ffe300"/><stop offset="0.950" stop-color="#feff01"/><stop offset="1.000" stop-color="#e1ff1e"/></linearGradient><linearGradient id="h168"><stop offset="0.000" stop-color="#0000c9"/><stop offset="0.046" stop-color="#0000e8"/><stop offset="0.137" stop-color="#0004ff"/><stop offset="0.255" stop-color="#0049ff"/><stop offset="0.313" stop-color="#0088ff"/><stop offset="0.377" stop-color="#03fffc"/><stop offset="0.435" stop-color="#89ff76"/><stop offset="0.470" stop-color="#c4ff3b"/><stop offset="0.489" stop-color="#fffe00"/><stop offset="0.540" stop-color="#ff7700"/><stop offset="0.609" stop-color="#fc0000"/><stop offset="0.652" stop-color="#b90000"/><stop offset="0.673" stop-color="#a00000"/><stop offset="0.733" stop-color="#e70000"/><stop offset="0.760" stop-color="#ff0400"/><stop offset="0.836" stop-color="#ff6600"/><stop offset="0.925" stop-color="#ffe300"/><stop offset="0.950" stop-color="#feff01"/><stop offset="1.000" stop-color="#e1ff1e"/></linearGradient><linearGradient id="h169"><stop offset="0.000" stop-color="#0000c9"/><stop offset="0.046" stop-color="#0000e8"/><stop offset="0.137" stop-color="#0004ff"/><stop offset="0.255" stop-color="#0049ff"/><stop offset="0.313" stop-color="#0088ff"/><stop offset="0.377" stop-color="#03fffc"/><stop offset="0.435" stop-color="#89ff76"/><stop offset="0.470" stop-color="#c4ff3b"/><stop offset="0.489" stop-color="#fffe00"/><stop offset="0.540" stop-color="#ff7700"/><stop offset="0.609" stop-color="#fc0000"/><stop offset="0.652" stop-color="#b90000"/><stop offset="0.673" stop-color="#a00000"/><stop offset="0.733" stop-color="#e70000"/><stop offset="0.760" stop-color="#ff0400"/><stop offset="0.836" stop-color="#ff6600"/><stop offset="0.925" stop-color="#ffe300"/><stop offset="0.950" stop-color="#feff01"/><stop offset="1.000" stop-color="#e1ff1e"/></linearGradient></defs><rect x="121.8" y="798.50" width="483.2" height="4.60" fill="url(#h1)"/><rect x="121.8" y="802.50" width="483.2" height="4.60" fill="url(#h2)"/><rect x="121.8" y="806.50" width="483.2" height="4.60" fill="url(#h3)"/><rect x="121.8" y="810.50" width="483.2" height="4.60" fill="url(#h4)"/><rect x="121.8" y="814.50" width="483.2" height="4.60" fill="url(#h5)"/><rect x="121.8" y="818.50" width="483.2" height="4.60" fill="url(#h6)"/><rect x="121.8" y="822.50" width="483.2" height="4.60" fill="url(#h7)"/><rect x="121.8" y="826.50" width="483.2" height="4.60" fill="url(#h8)"/><rect x="121.8" y="830.50" width="483.2" height="4.60" fill="url(#h9)"/><rect x="121.8" y="834.50" width="483.2" height="4.60" fill="url(#h10)"/><rect x="121.8" y="838.50" width="483.2" height="4.60" fill="url(#h11)"/><rect x="121.8" y="842.50" width="483.2" height="4.60" fill="url(#h12)"/><rect x="121.8" y="846.50" width="483.2" height="4.60" fill="url(#h13)"/><rect x="121.8" y="850.50" width="483.2" height="4.60" fill="url(#h14)"/><rect x="121.8" y="854.50" width="483.2" height="4.60" fill="url(#h15)"/><rect x="121.8" y="858.50" width="483.2" height="4.60" fill="url(#h16)"/><rect x="121.8" y="862.50" width="483.2" height="4.60" fill="url(#h17)"/><rect x="121.8" y="866.50" width="483.2" height="4.60" fill="url(#h18)"/><rect x="121.8" y="870.50" width="483.2" height="4.60" fill="url(#h19)"/><rect x="121.8" y="874.50" width="483.2" height="4.60" fill="url(#h20)"/><rect x="121.8" y="878.50" width="483.2" height="4.60" fill="url(#h21)"/><rect x="121.8" y="882.50" width="483.2" height="4.60" fill="url(#h22)"/><rect x="121.8" y="886.50" width="483.2" height="4.60" fill="url(#h23)"/><rect x="121.8" y="890.50" width="483.2" height="4.60" fill="url(#h24)"/><rect x="121.8" y="894.50" width="483.2" height="4.60" fill="url(#h25)"/><rect x="121.8" y="898.50" width="483.2" height="4.60" fill="url(#h26)"/><rect x="121.8" y="902.50" width="483.2" height="4.60" fill="url(#h27)"/><rect x="121.8" y="906.50" width="483.2" height="4.60" fill="url(#h28)"/><rect x="121.8" y="910.50" width="483.2" height="4.60" fill="url(#h29)"/><rect x="121.8" y="914.50" width="483.2" height="4.60" fill="url(#h30)"/><rect x="121.8" y="918.50" width="483.2" height="4.60" fill="url(#h31)"/><rect x="121.8" y="922.50" width="483.2" height="4.60" fill="url(#h32)"/><rect x="121.8" y="926.50" width="483.2" height="4.60" fill="url(#h33)"/><rect x="121.8" y="930.50" width="483.2" height="4.60" fill="url(#h34)"/><rect x="121.8" y="934.50" width="483.2" height="4.60" fill="url(#h35)"/><rect x="121.8" y="938.50" width="483.2" height="4.60" fill="url(#h36)"/><rect x="121.8" y="942.50" width="483.2" height="4.60" fill="url(#h37)"/><rect x="121.8" y="946.50" width="483.2" height="4.60" fill="url(#h38)"/><rect x="121.8" y="950.50" width="483.2" height="4.60" fill="url(#h39)"/><rect x="121.8" y="954.50" width="483.2" height="4.60" fill="url(#h40)"/><rect x="121.8" y="958.50" width="483.2" height="4.60" fill="url(#h41)"/><rect x="121.8" y="962.50" width="483.2" height="4.60" fill="url(#h42)"/><rect x="121.8" y="966.50" width="483.2" height="4.60" fill="url(#h43)"/><rect x="121.8" y="970.50" width="483.2" height="4.60" fill="url(#h44)"/><rect x="121.8" y="974.50" width="483.2" height="4.60" fill="url(#h45)"/><rect x="121.8" y="978.50" width="483.2" height="4.60" fill="url(#h46)"/><rect x="121.8" y="982.50" width="483.2" height="4.60" fill="url(#h47)"/><rect x="121.8" y="986.50" width="483.2" height="4.60" fill="url(#h48)"/><rect x="121.8" y="990.50" width="483.2" height="4.60" fill="url(#h49)"/><rect x="121.8" y="994.50" width="483.2" height="4.60" fill="url(#h50)"/><rect x="121.8" y="998.50" width="483.2" height="4.60" fill="url(#h51)"/><rect x="121.8" y="1002.50" width="483.2" height="4.60" fill="url(#h52)"/><rect x="121.8" y="1006.50" width="483.2" height="4.60" fill="url(#h53)"/><rect x="121.8" y="1010.50" width="483.2" height="4.60" fill="url(#h54)"/><rect x="121.8" y="1014.50" width="483.2" height="4.60" fill="url(#h55)"/><rect x="121.8" y="1018.50" width="483.2" height="4.60" fill="url(#h56)"/><rect x="121.8" y="1022.50" width="483.2" height="4.60" fill="url(#h57)"/><rect x="121.8" y="1026.50" width="483.2" height="4.60" fill="url(#h58)"/><rect x="121.8" y="1030.50" width="483.2" height="4.60" fill="url(#h59)"/><rect x="121.8" y="1034.50" width="483.2" height="4.60" fill="url(#h60)"/><rect x="121.8" y="1038.50" width="483.2" height="4.60" fill="url(#h61)"/><rect x="121.8" y="1042.50" width="483.2" height="4.60" fill="url(#h62)"/><rect x="121.8" y="1046.50" width="483.2" height="4.60" fill="url(#h63)"/><rect x="121.8" y="1050.50" width="483.2" height="4.60" fill="url(#h64)"/><rect x="121.8" y="1054.50" width="483.2" height="4.60" fill="url(#h65)"/><rect x="121.8" y="1058.50" width="483.2" height="4.60" fill="url(#h66)"/><rect x="121.8" y="1062.50" width="483.2" height="4.60" fill="url(#h67)"/><rect x="121.8" y="1066.50" width="483.2" height="4.60" fill="url(#h68)"/><rect x="121.8" y="1070.50" width="483.2" height="4.60" fill="url(#h69)"/><rect x="121.8" y="1074.50" width="483.2" height="4.60" fill="url(#h70)"/><rect x="121.8" y="1078.50" width="483.2" height="4.60" fill="url(#h71)"/><rect x="121.8" y="1082.50" width="483.2" height="4.60" fill="url(#h72)"/><rect x="121.8" y="1086.50" width="483.2" height="4.60" fill="url(#h73)"/><rect x="121.8" y="1090.50" width="483.2" height="4.60" fill="url(#h74)"/><rect x="121.8" y="1094.50" width="483.2" height="4.60" fill="url(#h75)"/><rect x="121.8" y="1098.50" width="483.2" height="4.60" fill="url(#h76)"/><rect x="121.8" y="1102.50" width="483.2" height="4.60" fill="url(#h77)"/><rect x="121.8" y="1106.50" width="483.2" height="4.60" fill="url(#h78)"/><rect x="121.8" y="1110.50" width="483.2" height="4.60" fill="url(#h79)"/><rect x="121.8" y="1114.50" width="483.2" height="4.60" fill="url(#h80)"/><rect x="121.8" y="1118.50" width="483.2" height="4.60" fill="url(#h81)"/><rect x="121.8" y="1122.50" width="483.2" height="4.60" fill="url(#h82)"/><rect x="121.8" y="1126.50" width="483.2" height="4.60" fill="url(#h83)"/><rect x="121.8" y="1130.50" width="483.2" height="4.60" fill="url(#h84)"/><rect x="121.8" y="1134.50" width="483.2" height="4.60" fill="url(#h85)"/><rect x="121.8" y="1138.50" width="483.2" height="4.60" fill="url(#h86)"/><rect x="121.8" y="1142.50" width="483.2" height="4.60" fill="url(#h87)"/><rect x="121.8" y="1146.50" width="483.2" height="4.60" fill="url(#h88)"/><rect x="121.8" y="1150.50" width="483.2" height="4.60" fill="url(#h89)"/><rect x="121.8" y="1154.50" width="483.2" height="4.60" fill="url(#h90)"/><rect x="121.8" y="1158.50" width="483.2" height="4.60" fill="url(#h91)"/><rect x="121.8" y="1162.50" width="483.2" height="4.60" fill="url(#h92)"/><rect x="121.8" y="1166.50" width="483.2" height="4.60" fill="url(#h93)"/><rect x="121.8" y="1170.50" width="483.2" height="4.60" fill="url(#h94)"/><rect x="121.8" y="1174.50" width="483.2" height="4.60" fill="url(#h95)"/><rect x="121.8" y="1178.50" width="483.2" height="4.60" fill="url(#h96)"/><rect x="121.8" y="1182.50" width="483.2" height="4.60" fill="url(#h97)"/><rect x="121.8" y="1186.50" width="483.2" height="4.60" fill="url(#h98)"/><rect x="121.8" y="1190.50" width="483.2" height="4.60" fill="url(#h99)"/><rect x="121.8" y="1194.50" width="483.2" height="4.60" fill="url(#h100)"/><rect x="121.8" y="1198.50" width="483.2" height="4.60" fill="url(#h101)"/><rect x="121.8" y="1202.50" width="483.2" height="4.60" fill="url(#h102)"/><rect x="121.8" y="1206.50" width="483.2" height="4.60" fill="url(#h103)"/><rect x="121.8" y="1210.50" width="483.2" height="4.60" fill="url(#h104)"/><rect x="121.8" y="1214.50" width="483.2" height="4.60" fill="url(#h105)"/><rect x="121.8" y="1218.50" width="483.2" height="4.60" fill="url(#h106)"/><rect x="121.8" y="1222.50" width="483.2" height="4.60" fill="url(#h107)"/><rect x="121.8" y="1226.50" width="483.2" height="4.60" fill="url(#h108)"/><rect x="121.8" y="1230.50" width="483.2" height="4.60" fill="url(#h109)"/><rect x="121.8" y="1234.50" width="483.2" height="4.60" fill="url(#h110)"/><rect x="121.8" y="1238.50" width="483.2" height="4.60" fill="url(#h111)"/><rect x="121.8" y="1242.50" width="483.2" height="4.60" fill="url(#h112)"/><rect x="121.8" y="1246.50" width="483.2" height="4.60" fill="url(#h113)"/><rect x="121.8" y="1250.50" width="483.2" height="4.60" fill="url(#h114)"/><rect x="121.8" y="1254.50" width="483.2" height="4.60" fill="url(#h115)"/><rect x="121.8" y="1258.50" width="483.2" height="4.60" fill="url(#h116)"/><rect x="121.8" y="1262.50" width="483.2" height="4.60" fill="url(#h117)"/><rect x="121.8" y="1266.50" width="483.2" height="4.60" fill="url(#h118)"/><rect x="121.8" y="1270.50" width="483.2" height="4.60" fill="url(#h119)"/><rect x="121.8" y="1274.50" width="483.2" height="4.60" fill="url(#h120)"/><rect x="121.8" y="1278.50" width="483.2" height="4.60" fill="url(#h121)"/><rect x="121.8" y="1282.50" width="483.2" height="4.60" fill="url(#h122)"/><rect x="121.8" y="1286.50" width="483.2" height="4.60" fill="url(#h123)"/><rect x="121.8" y="1290.50" width="483.2" height="4.60" fill="url(#h124)"/><rect x="121.8" y="1294.50" width="483.2" height="4.60" fill="url(#h125)"/><rect x="121.8" y="1298.50" width="483.2" height="4.60" fill="url(#h126)"/><rect x="121.8" y="1302.50" width="483.2" height="4.60" fill="url(#h127)"/><rect x="121.8" y="1306.50" width="483.2" height="4.60" fill="url(#h128)"/><rect x="121.8" y="1310.50" width="483.2" height="4.60" fill="url(#h129)"/><rect x="121.8" y="1314.50" width="483.2" height="4.60" fill="url(#h130)"/><rect x="121.8" y="1318.50" width="483.2" height="4.60" fill="url(#h131)"/><rect x="121.8" y="1322.50" width="483.2" height="4.60" fill="url(#h132)"/><rect x="121.8" y="1326.50" width="483.2" height="4.60" fill="url(#h133)"/><rect x="121.8" y="1330.50" width="483.2" height="4.60" fill="url(#h134)"/><rect x="121.8" y="1334.50" width="483.2" height="4.60" fill="url(#h135)"/><rect x="121.8" y="1338.50" width="483.2" height="4.60" fill="url(#h136)"/><rect x="121.8" y="1342.50" width="483.2" height="4.60" fill="url(#h137)"/><rect x="121.8" y="1346.50" width="483.2" height="4.60" fill="url(#h138)"/><rect x="121.8" y="1350.50" width="483.2" height="4.60" fill="url(#h139)"/><rect x="121.8" y="1354.50" width="483.2" height="4.60" fill="url(#h140)"/><rect x="121.8" y="1358.50" width="483.2" height="4.60" fill="url(#h141)"/><rect x="121.8" y="1362.50" width="483.2" height="4.60" fill="url(#h142)"/><rect x="121.8" y="1366.50" width="483.2" height="4.60" fill="url(#h143)"/><rect x="121.8" y="1370.50" width="483.2" height="4.60" fill="url(#h144)"/><rect x="121.8" y="1374.50" width="483.2" height="4.60" fill="url(#h145)"/><rect x="121.8" y="1378.50" width="483.2" height="4.60" fill="url(#h146)"/><rect x="121.8" y="1382.50" width="483.2" height="4.60" fill="url(#h147)"/><rect x="121.8" y="1386.50" width="483.2" height="4.60" fill="url(#h148)"/><rect x="121.8" y="1390.50" width="483.2" height="4.60" fill="url(#h149)"/><rect x="121.8" y="1394.50" width="483.2" height="4.60" fill="url(#h150)"/><rect x="121.8" y="1398.50" width="483.2" height="4.60" fill="url(#h151)"/><rect x="121.8" y="1402.50" width="483.2" height="4.60" fill="url(#h152)"/><rect x="121.8" y="1406.50" width="483.2" height="4.60" fill="url(#h153)"/><rect x="121.8" y="1410.50" width="483.2" height="4.60" fill="url(#h154)"/><rect x="121.8" y="1414.50" width="483.2" height="4.60" fill="url(#h155)"/><rect x="121.8" y="1418.50" width="483.2" height="4.60" fill="url(#h156)"/><rect x="121.8" y="1422.50" width="483.2" height="4.60" fill="url(#h157)"/><rect x="121.8" y="1426.50" width="483.2" height="4.60" fill="url(#h158)"/><rect x="121.8" y="1430.50" width="483.2" height="4.60" fill="url(#h159)"/><rect x="121.8" y="1434.50" width="483.2" height="4.60" fill="url(#h160)"/><rect x="121.8" y="1438.50" width="483.2" height="4.60" fill="url(#h161)"/><rect x="121.8" y="1442.50" width="483.2" height="4.60" fill="url(#h162)"/><rect x="121.8" y="1446.50" width="483.2" height="4.60" fill="url(#h163)"/><rect x="121.8" y="1450.50" width="483.2" height="4.60" fill="url(#h164)"/><rect x="121.8" y="1454.50" width="483.2" height="4.60" fill="url(#h165)"/><rect x="121.8" y="1458.50" width="483.2" height="4.60" fill="url(#h166)"/><rect x="121.8" y="1462.50" width="483.2" height="4.60" fill="url(#h167)"/><rect x="121.8" y="1466.50" width="483.2" height="4.60" fill="url(#h168)"/><rect x="121.8" y="1470.50" width="483.2" height="4.30" fill="url(#h169)"/><rect x="113.8" y="788.5" width="504.6" height="695.7" fill="none" stroke="#2e2e2e" stroke-width="1.9"/><line x1="126.4" y1="1484.2" x2="126.4" y2="1477.9" stroke="#222" stroke-width="1.5"/><line x1="126.4" y1="788.5" x2="126.4" y2="794.8" stroke="#222" stroke-width="1.5"/><text x="126.4" y="1526.0" font-size="39" text-anchor="middle" fill="#000">100</text><line x1="262.6" y1="1484.2" x2="262.6" y2="1477.9" stroke="#222" stroke-width="1.5"/><line x1="262.6" y1="788.5" x2="262.6" y2="794.8" stroke="#222" stroke-width="1.5"/><text x="262.6" y="1526.0" font-size="39" text-anchor="middle" fill="#000">200</text><line x1="398.9" y1="1484.2" x2="398.9" y2="1477.9" stroke="#222" stroke-width="1.5"/><line x1="398.9" y1="788.5" x2="398.9" y2="794.8" stroke="#222" stroke-width="1.5"/><text x="398.9" y="1526.0" font-size="39" text-anchor="middle" fill="#000">300</text><line x1="535.1" y1="1484.2" x2="535.1" y2="1477.9" stroke="#222" stroke-width="1.5"/><line x1="535.1" y1="788.5" x2="535.1" y2="794.8" stroke="#222" stroke-width="1.5"/><text x="535.1" y="1526.0" font-size="39" text-anchor="middle" fill="#000">400</text><line x1="113.8" y1="1475.2" x2="120.0" y2="1475.2" stroke="#222" stroke-width="1.5"/><line x1="618.4" y1="1475.2" x2="611.6" y2="1475.2" stroke="#222" stroke-width="1.5"/><text x="105.2" y="1489.1" font-size="39.5" text-anchor="end" fill="#000">6</text><line x1="113.8" y1="1371.4" x2="120.0" y2="1371.4" stroke="#222" stroke-width="1.5"/><line x1="618.4" y1="1371.4" x2="611.6" y2="1371.4" stroke="#222" stroke-width="1.5"/><text x="105.2" y="1385.3" font-size="39.5" text-anchor="end" fill="#000">6.5</text><line x1="113.8" y1="1267.6" x2="120.0" y2="1267.6" stroke="#222" stroke-width="1.5"/><line x1="618.4" y1="1267.6" x2="611.6" y2="1267.6" stroke="#222" stroke-width="1.5"/><text x="105.2" y="1281.5" font-size="39.5" text-anchor="end" fill="#000">7</text><line x1="113.8" y1="1163.8" x2="120.0" y2="1163.8" stroke="#222" stroke-width="1.5"/><line x1="618.4" y1="1163.8" x2="611.6" y2="1163.8" stroke="#222" stroke-width="1.5"/><text x="105.2" y="1177.7" font-size="39.5" text-anchor="end" fill="#000">7.5</text><line x1="113.8" y1="1060.0" x2="120.0" y2="1060.0" stroke="#222" stroke-width="1.5"/><line x1="618.4" y1="1060.0" x2="611.6" y2="1060.0" stroke="#222" stroke-width="1.5"/><text x="105.2" y="1073.9" font-size="39.5" text-anchor="end" fill="#000">8</text><line x1="113.8" y1="956.2" x2="120.0" y2="956.2" stroke="#222" stroke-width="1.5"/><line x1="618.4" y1="956.2" x2="611.6" y2="956.2" stroke="#222" stroke-width="1.5"/><text x="105.2" y="970.1" font-size="39.5" text-anchor="end" fill="#000">8.5</text><line x1="113.8" y1="852.4" x2="120.0" y2="852.4" stroke="#222" stroke-width="1.5"/><line x1="618.4" y1="852.4" x2="611.6" y2="852.4" stroke="#222" stroke-width="1.5"/><text x="105.2" y="866.3" font-size="39.5" text-anchor="end" fill="#000">9</text><text x="363.1" y="1568.6" font-size="39" text-anchor="middle" fill="#000">T (K)</text><text x="153.1" y="865.6" font-size="42.5" text-anchor="start" fill="#fff">eps'</text><rect x="655.0" y="1474.61" width="49.5" height="11.39" fill="#000087"/><rect x="655.0" y="1463.72" width="49.5" height="11.39" fill="#000097"/><rect x="655.0" y="1452.84" width="49.5" height="11.39" fill="#0000a7"/><rect x="655.0" y="1441.95" width="49.5" height="11.39" fill="#0000b7"/><rect x="655.0" y="1431.06" width="49.5" height="11.39" fill="#0000c7"/><rect x="655.0" y="1420.17" width="49.5" height="11.39" fill="#0000d7"/><rect x="655.0" y="1409.29" width="49.5" height="11.39" fill="#0000e7"/><rect x="655.0" y="1398.40" width="49.5" height="11.39" fill="#0000f7"/><rect x="655.0" y="1387.51" width="49.5" height="11.39" fill="#0007ff"/><rect x="655.0" y="1376.62" width="49.5" height="11.39" fill="#0017ff"/><rect x="655.0" y="1365.74" width="49.5" height="11.39" fill="#0027ff"/><rect x="655.0" y="1354.85" width="49.5" height="11.39" fill="#0037ff"/><rect x="655.0" y="1343.96" width="49.5" height="11.39" fill="#0047ff"/><rect x="655.0" y="1333.08" width="49.5" height="11.39" fill="#0057ff"/><rect x="655.0" y="1322.19" width="49.5" height="11.39" fill="#0067ff"/><rect x="655.0" y="1311.30" width="49.5" height="11.39" fill="#0077ff"/><rect x="655.0" y="1300.41" width="49.5" height="11.39" fill="#0087ff"/><rect x="655.0" y="1289.53" width="49.5" height="11.39" fill="#0097ff"/><rect x="655.0" y="1278.64" width="49.5" height="11.39" fill="#00a7ff"/><rect x="655.0" y="1267.75" width="49.5" height="11.39" fill="#00b7ff"/><rect x="655.0" y="1256.86" width="49.5" height="11.39" fill="#00c7ff"/><rect x="655.0" y="1245.97" width="49.5" height="11.39" fill="#00d7ff"/><rect x="655.0" y="1235.09" width="49.5" height="11.39" fill="#00e7ff"/><rect x="655.0" y="1224.20" width="49.5" height="11.39" fill="#00f7ff"/><rect x="655.0" y="1213.31" width="49.5" height="11.39" fill="#07fff7"/><rect x="655.0" y="1202.42" width="49.5" height="11.39" fill="#17ffe7"/><rect x="655.0" y="1191.54" width="49.5" height="11.39" fill="#27ffd7"/><rect x="655.0" y="1180.65" width="49.5" height="11.39" fill="#37ffc7"/><rect x="655.0" y="1169.76" width="49.5" height="11.39" fill="#47ffb7"/><rect x="655.0" y="1158.88" width="49.5" height="11.39" fill="#57ffa7"/><rect x="655.0" y="1147.99" width="49.5" height="11.39" fill="#67ff97"/><rect x="655.0" y="1137.10" width="49.5" height="11.39" fill="#77ff87"/><rect x="655.0" y="1126.21" width="49.5" height="11.39" fill="#87ff77"/><rect x="655.0" y="1115.33" width="49.5" height="11.39" fill="#97ff67"/><rect x="655.0" y="1104.44" width="49.5" height="11.39" fill="#a7ff57"/><rect x="655.0" y="1093.55" width="49.5" height="11.39" fill="#b7ff47"/><rect x="655.0" y="1082.66" width="49.5" height="11.39" fill="#c7ff37"/><rect x="655.0" y="1071.78" width="49.5" height="11.39" fill="#d7ff27"/><rect x="655.0" y="1060.89" width="49.5" height="11.39" fill="#e7ff17"/><rect x="655.0" y="1050.00" width="49.5" height="11.39" fill="#f7ff07"/><rect x="655.0" y="1039.11" width="49.5" height="11.39" fill="#fff700"/><rect x="655.0" y="1028.22" width="49.5" height="11.39" fill="#ffe700"/><rect x="655.0" y="1017.34" width="49.5" height="11.39" fill="#ffd700"/><rect x="655.0" y="1006.45" width="49.5" height="11.39" fill="#ffc700"/><rect x="655.0" y="995.56" width="49.5" height="11.39" fill="#ffb700"/><rect x="655.0" y="984.67" width="49.5" height="11.39" fill="#ffa700"/><rect x="655.0" y="973.79" width="49.5" height="11.39" fill="#ff9700"/><rect x="655.0" y="962.90" width="49.5" height="11.39" fill="#ff8700"/><rect x="655.0" y="952.01" width="49.5" height="11.39" fill="#ff7700"/><rect x="655.0" y="941.12" width="49.5" height="11.39" fill="#ff6700"/><rect x="655.0" y="930.24" width="49.5" height="11.39" fill="#ff5700"/><rect x="655.0" y="919.35" width="49.5" height="11.39" fill="#ff4700"/><rect x="655.0" y="908.46" width="49.5" height="11.39" fill="#ff3700"/><rect x="655.0" y="897.58" width="49.5" height="11.39" fill="#ff2700"/><rect x="655.0" y="886.69" width="49.5" height="11.39" fill="#ff1700"/><rect x="655.0" y="875.80" width="49.5" height="11.39" fill="#ff0700"/><rect x="655.0" y="864.91" width="49.5" height="11.39" fill="#f70000"/><rect x="655.0" y="854.03" width="49.5" height="11.39" fill="#e70000"/><rect x="655.0" y="843.14" width="49.5" height="11.39" fill="#d70000"/><rect x="655.0" y="832.25" width="49.5" height="11.39" fill="#c70000"/><rect x="655.0" y="821.36" width="49.5" height="11.39" fill="#b70000"/><rect x="655.0" y="810.48" width="49.5" height="11.39" fill="#a70000"/><rect x="655.0" y="799.59" width="49.5" height="11.39" fill="#970000"/><rect x="655.0" y="788.70" width="49.5" height="11.39" fill="#870000"/><rect x="655.0" y="788.7" width="49.5" height="696.8" fill="none" stroke="#222" stroke-width="1.4"/><text x="709.5" y="802.2" font-size="39" text-anchor="start" fill="#000">4</text><line x1="655.0" y1="1021.0" x2="660.0" y2="1021.0" stroke="#222" stroke-width="1.3"/><line x1="704.5" y1="1021.0" x2="699.5" y2="1021.0" stroke="#222" stroke-width="1.3"/><text x="709.5" y="1034.5" font-size="39" text-anchor="start" fill="#000">3.5</text><line x1="655.0" y1="1253.2" x2="660.0" y2="1253.2" stroke="#222" stroke-width="1.3"/><line x1="704.5" y1="1253.2" x2="699.5" y2="1253.2" stroke="#222" stroke-width="1.3"/><text x="709.5" y="1266.7" font-size="39" text-anchor="start" fill="#000">3</text><text x="709.5" y="1499.0" font-size="39" text-anchor="start" fill="#000">2.5</text><rect x="839.1" y="788.5" width="506.0" height="695.7" fill="#fff"/><defs><linearGradient id="h170"><stop offset="0.000" stop-color="#0057ff"/><stop offset="0.210" stop-color="#0065ff"/><stop offset="0.326" stop-color="#00a1ff"/><stop offset="0.435" stop-color="#00e9ff"/><stop offset="0.468" stop-color="#04fffb"/><stop offset="0.553" stop-color="#89ff76"/><stop offset="0.616" stop-color="#ccff33"/><stop offset="0.682" stop-color="#fffb00"/><stop offset="0.732" stop-color="#ffc600"/><stop offset="0.829" stop-color="#ffad00"/><stop offset="0.957" stop-color="#ffae00"/><stop offset="1.000" stop-color="#ffb800"/></linearGradient><linearGradient id="h171"><stop offset="0.000" stop-color="#0057ff"/><stop offset="0.210" stop-color="#0065ff"/><stop offset="0.326" stop-color="#00a1ff"/><stop offset="0.433" stop-color="#00e7ff"/><stop offset="0.466" stop-color="#02fffd"/><stop offset="0.553" stop-color="#8aff75"/><stop offset="0.616" stop-color="#cdff32"/><stop offset="0.680" stop-color="#fffd00"/><stop offset="0.732" stop-color="#ffc500"/><stop offset="0.829" stop-color="#ffad00"/><stop offset="0.946" stop-color="#ffb000"/><stop offset="1.000" stop-color="#ffc200"/></linearGradient><linearGradient id="h172"><stop offset="0.000" stop-color="#0057ff"/><stop offset="0.210" stop-color="#0065ff"/><stop offset="0.326" stop-color="#00a1ff"/><stop offset="0.429" stop-color="#00e4ff"/><stop offset="0.466" stop-color="#03fffc"/><stop offset="0.553" stop-color="#8aff75"/><stop offset="0.614" stop-color="#ccff33"/><stop offset="0.680" stop-color="#fffc00"/><stop offset="0.730" stop-color="#ffc600"/><stop offset="0.829" stop-color="#ffad00"/><stop offset="0.940" stop-color="#ffb200"/><stop offset="1.000" stop-color="#ffcd00"/></linearGradient><linearGradient id="h173"><stop offset="0.000" stop-color="#0057ff"/><stop offset="0.210" stop-color="#0065ff"/><stop offset="0.326" stop-color="#00a1ff"/><stop offset="0.427" stop-color="#00e3ff"/><stop offset="0.466" stop-color="#03fffc"/><stop offset="0.553" stop-color="#8bff74"/><stop offset="0.612" stop-color="#cbff34"/><stop offset="0.678" stop-color="#fffd00"/><stop offset="0.728" stop-color="#ffc600"/><stop offset="0.827" stop-color="#ffae00"/><stop offset="0.934" stop-color="#ffb300"/><stop offset="1.000" stop-color="#ffd700"/></linearGradient><linearGradient id="h174"><stop offset="0.000" stop-color="#0057ff"/><stop offset="0.210" stop-color="#0065ff"/><stop offset="0.326" stop-color="#00a1ff"/><stop offset="0.427" stop-color="#00e3ff"/><stop offset="0.466" stop-color="#04fffb"/><stop offset="0.553" stop-color="#8cff73"/><stop offset="0.610" stop-color="#caff35"/><stop offset="0.678" stop-color="#fffb00"/><stop offset="0.728" stop-color="#ffc600"/><stop offset="0.827" stop-color="#ffae00"/><stop offset="0.932" stop-color="#ffb400"/><stop offset="1.000" stop-color="#ffe200"/></linearGradient><linearGradient id="h175"><stop offset="0.000" stop-color="#0057ff"/><stop offset="0.210" stop-color="#0065ff"/><stop offset="0.326" stop-color="#00a1ff"/><stop offset="0.425" stop-color="#00e2ff"/><stop offset="0.464" stop-color="#02fffd"/><stop offset="0.553" stop-color="#8cff73"/><stop offset="0.608" stop-color="#caff35"/><stop offset="0.676" stop-color="#fffd00"/><stop offset="0.726" stop-color="#ffc600"/><stop offset="0.825" stop-color="#ffae00"/><stop offset="0.930" stop-color="#ffb500"/><stop offset="1.000" stop-color="#ffec00"/></linearGradient><linearGradient id="h176"><stop offset="0.000" stop-color="#0056ff"/><stop offset="0.210" stop-color="#0065ff"/><stop offset="0.322" stop-color="#009eff"/><stop offset="0.421" stop-color="#00dfff"/><stop offset="0.464" stop-color="#03fffc"/><stop offset="0.553" stop-color="#8dff72"/><stop offset="0.610" stop-color="#ccff33"/><stop offset="0.676" stop-color="#fffc00"/><stop offset="0.726" stop-color="#ffc600"/><stop offset="0.825" stop-color="#ffad00"/><stop offset="0.930" stop-color="#ffb800"/><stop offset="1.000" stop-color="#fff200"/></linearGradient><linearGradient id="h177"><stop offset="0.000" stop-color="#0056ff"/><stop offset="0.212" stop-color="#0065ff"/><stop offset="0.320" stop-color="#009cff"/><stop offset="0.419" stop-color="#00ddff"/><stop offset="0.464" stop-color="#04fffb"/><stop offset="0.553" stop-color="#8eff71"/><stop offset="0.610" stop-color="#cdff32"/><stop offset="0.674" stop-color="#fffd00"/><stop offset="0.726" stop-color="#ffc500"/><stop offset="0.825" stop-color="#ffac00"/><stop offset="0.928" stop-color="#ffba00"/><stop offset="1.000" stop-color="#fff700"/></linearGradient><linearGradient id="h178"><stop offset="0.000" stop-color="#0055ff"/><stop offset="0.212" stop-color="#0065ff"/><stop offset="0.315" stop-color="#0098ff"/><stop offset="0.416" stop-color="#00dbff"/><stop offset="0.462" stop-color="#03fffc"/><stop offset="0.553" stop-color="#8fff70"/><stop offset="0.612" stop-color="#cfff30"/><stop offset="0.674" stop-color="#fffb00"/><stop offset="0.726" stop-color="#ffc500"/><stop offset="0.825" stop-color="#ffab00"/><stop offset="0.920" stop-color="#ffb900"/><stop offset="1.000" stop-color="#fffb00"/></linearGradient><linearGradient id="h179"><stop offset="0.000" stop-color="#0054ff"/><stop offset="0.214" stop-color="#0065ff"/><stop offset="0.315" stop-color="#0097ff"/><stop offset="0.416" stop-color="#00dbff"/><stop offset="0.462" stop-color="#04fffb"/><stop offset="0.551" stop-color="#8dff72"/><stop offset="0.612" stop-color="#d0ff2f"/><stop offset="0.672" stop-color="#fffc00"/><stop offset="0.728" stop-color="#ffc400"/><stop offset="0.825" stop-color="#ffaa00"/><stop offset="0.911" stop-color="#ffb700"/><stop offset="0.969" stop-color="#ffe400"/><stop offset="1.000" stop-color="#feff01"/></linearGradient><linearGradient id="h180"><stop offset="0.000" stop-color="#0054ff"/><stop offset="0.214" stop-color="#0065ff"/><stop offset="0.313" stop-color="#0095ff"/><stop offset="0.414" stop-color="#00d9ff"/><stop offset="0.460" stop-color="#04fffb"/><stop offset="0.551" stop-color="#8eff71"/><stop offset="0.614" stop-color="#d2ff2d"/><stop offset="0.670" stop-color="#fffc00"/><stop offset="0.728" stop-color="#ffc400"/><stop offset="0.823" stop-color="#ffa900"/><stop offset="0.897" stop-color="#ffb400"/><stop offset="0.932" stop-color="#ffc800"/><stop offset="0.998" stop-color="#fbff04"/><stop offset="1.000" stop-color="#faff05"/></linearGradient><linearGradient id="h181"><stop offset="0.000" stop-color="#0053ff"/><stop offset="0.216" stop-color="#0065ff"/><stop offset="0.313" stop-color="#0094ff"/><stop offset="0.414" stop-color="#00d9ff"/><stop offset="0.458" stop-color="#03fffc"/><stop offset="0.551" stop-color="#8fff70"/><stop offset="0.614" stop-color="#d3ff2c"/><stop offset="0.670" stop-color="#fffb00"/><stop offset="0.726" stop-color="#ffc400"/><stop offset="0.823" stop-color="#ffa800"/><stop offset="0.889" stop-color="#ffb200"/><stop offset="0.926" stop-color="#ffc400"/><stop offset="0.992" stop-color="#fdff02"/><stop offset="1.000" stop-color="#f5ff0a"/></linearGradient><linearGradient id="h182"><stop offset="0.000" stop-color="#0052ff"/><stop offset="0.219" stop-color="#0065ff"/><stop offset="0.313" stop-color="#0093ff"/><stop offset="0.414" stop-color="#00d9ff"/><stop offset="0.458" stop-color="#04fffb"/><stop offset="0.551" stop-color="#8fff70"/><stop offset="0.616" stop-color="#d6ff29"/><stop offset="0.668" stop-color="#fffb00"/><stop offset="0.726" stop-color="#ffc400"/><stop offset="0.823" stop-color="#ffa700"/><stop offset="0.885" stop-color="#ffb100"/><stop offset="0.924" stop-color="#ffc500"/><stop offset="0.984" stop-color="#fffe00"/><stop offset="1.000" stop-color="#f0ff0f"/></linearGradient><linearGradient id="h183"><stop offset="0.000" stop-color="#0052ff"/><stop offset="0.223" stop-color="#0065ff"/><stop offset="0.320" stop-color="#0096ff"/><stop offset="0.414" stop-color="#00d8ff"/><stop offset="0.456" stop-color="#03fffc"/><stop offset="0.548" stop-color="#8eff71"/><stop offset="0.619" stop-color="#d8ff27"/><stop offset="0.666" stop-color="#fffc00"/><stop offset="0.726" stop-color="#ffc400"/><stop offset="0.823" stop-color="#ffa600"/><stop offset="0.882" stop-color="#ffb000"/><stop offset="0.922" stop-color="#ffc600"/><stop offset="0.963" stop-color="#fff000"/><stop offset="0.984" stop-color="#fbff04"/><stop offset="1.000" stop-color="#ecff13"/></linearGradient><linearGradient id="h184"><stop offset="0.000" stop-color="#0051ff"/><stop offset="0.225" stop-color="#0065ff"/><stop offset="0.322" stop-color="#0096ff"/><stop offset="0.412" stop-color="#00d6ff"/><stop offset="0.456" stop-color="#04fffb"/><stop offset="0.548" stop-color="#8fff70"/><stop offset="0.621" stop-color="#dbff24"/><stop offset="0.666" stop-color="#fffb00"/><stop offset="0.726" stop-color="#ffc400"/><stop offset="0.823" stop-color="#ffa500"/><stop offset="0.880" stop-color="#ffae00"/><stop offset="0.920" stop-color="#ffc700"/><stop offset="0.959" stop-color="#fff100"/><stop offset="0.979" stop-color="#faff05"/><stop offset="1.000" stop-color="#e7ff18"/></linearGradient><linearGradient id="h185"><stop offset="0.000" stop-color="#0050ff"/><stop offset="0.231" stop-color="#0066ff"/><stop offset="0.330" stop-color="#009bff"/><stop offset="0.412" stop-color="#00d6ff"/><stop offset="0.454" stop-color="#02fffd"/><stop offset="0.546" stop-color="#8dff72"/><stop offset="0.623" stop-color="#deff21"/><stop offset="0.664" stop-color="#fffb00"/><stop offset="0.726" stop-color="#ffc300"/><stop offset="0.821" stop-color="#ffa400"/><stop offset="0.878" stop-color="#ffad00"/><stop offset="0.920" stop-color="#ffc900"/><stop offset="0.955" stop-color="#fff200"/><stop offset="0.975" stop-color="#faff05"/><stop offset="1.000" stop-color="#e3ff1c"/></linearGradient><linearGradient id="h186"><stop offset="0.000" stop-color="#0050ff"/><stop offset="0.235" stop-color="#0066ff"/><stop offset="0.332" stop-color="#009bff"/><stop offset="0.412" stop-color="#00d6ff"/><stop offset="0.454" stop-color="#03fffc"/><stop offset="0.546" stop-color="#8eff71"/><stop offset="0.627" stop-color="#e2ff1d"/><stop offset="0.662" stop-color="#fffc00"/><stop offset="0.726" stop-color="#ffc300"/><stop offset="0.821" stop-color="#ffa300"/><stop offset="0.876" stop-color="#ffac00"/><stop offset="0.918" stop-color="#ffc900"/><stop offset="0.953" stop-color="#fff400"/><stop offset="0.971" stop-color="#f9ff06"/><stop offset="1.000" stop-color="#deff21"/></linearGradient><linearGradient id="h187"><stop offset="0.000" stop-color="#004fff"/><stop offset="0.237" stop-color="#0066ff"/><stop offset="0.330" stop-color="#0099ff"/><stop offset="0.412" stop-color="#00d5ff"/><stop offset="0.454" stop-color="#04fffb"/><stop offset="0.544" stop-color="#8cff73"/><stop offset="0.627" stop-color="#e3ff1c"/><stop offset="0.662" stop-color="#fffa00"/><stop offset="0.724" stop-color="#ffc400"/><stop offset="0.821" stop-color="#ffa200"/><stop offset="0.876" stop-color="#ffab00"/><stop offset="0.918" stop-color="#ffcb00"/><stop offset="0.951" stop-color="#fff700"/><stop offset="0.969" stop-color="#f6ff09"/><stop offset="1.000" stop-color="#d9ff26"/></linearGradient><linearGradient id="h188"><stop offset="0.000" stop-color="#004fff"/><stop offset="0.239" stop-color="#0066ff"/><stop offset="0.328" stop-color="#0096ff"/><stop offset="0.410" stop-color="#00d3ff"/><stop offset="0.452" stop-color="#02fffd"/><stop offset="0.544" stop-color="#8dff72"/><stop offset="0.631" stop-color="#e8ff17"/><stop offset="0.660" stop-color="#fffb00"/><stop offset="0.724" stop-color="#ffc300"/><stop offset="0.821" stop-color="#ffa100"/><stop offset="0.876" stop-color="#ffab00"/><stop offset="0.915" stop-color="#ffca00"/><stop offset="0.948" stop-color="#fff900"/><stop offset="0.969" stop-color="#f2ff0d"/><stop offset="1.000" stop-color="#d5ff2a"/></linearGradient><linearGradient id="h189"><stop offset="0.000" stop-color="#004eff"/><stop offset="0.241" stop-color="#0066ff"/><stop offset="0.326" stop-color="#0094ff"/><stop offset="0.410" stop-color="#00d3ff"/><stop offset="0.452" stop-color="#03fffc"/><stop offset="0.542" stop-color="#8cff73"/><stop offset="0.633" stop-color="#ebff14"/><stop offset="0.658" stop-color="#fffc00"/><stop offset="0.724" stop-color="#ffc300"/><stop offset="0.821" stop-color="#ffa100"/><stop offset="0.874" stop-color="#ffa900"/><stop offset="0.915" stop-color="#ffcb00"/><stop offset="0.948" stop-color="#fffe00"/><stop offset="1.000" stop-color="#d0ff2f"/></linearGradient><linearGradient id="h190"><stop offset="0.000" stop-color="#004dff"/><stop offset="0.243" stop-color="#0066ff"/><stop offset="0.324" stop-color="#0091ff"/><stop offset="0.410" stop-color="#00d2ff"/><stop offset="0.452" stop-color="#04fffb"/><stop offset="0.542" stop-color="#8cff73"/><stop offset="0.639" stop-color="#f2ff0d"/><stop offset="0.658" stop-color="#fffa00"/><stop offset="0.724" stop-color="#ffc300"/><stop offset="0.821" stop-color="#ffa000"/><stop offset="0.874" stop-color="#ffa800"/><stop offset="0.915" stop-color="#ffcd00"/><stop offset="0.946" stop-color="#feff01"/><stop offset="1.000" stop-color="#ccff33"/></linearGradient><linearGradient id="h191"><stop offset="0.000" stop-color="#004dff"/><stop offset="0.243" stop-color="#0065ff"/><stop offset="0.324" stop-color="#0090ff"/><stop offset="0.410" stop-color="#00d2ff"/><stop offset="0.449" stop-color="#02fffd"/><stop offset="0.540" stop-color="#8bff74"/><stop offset="0.643" stop-color="#f7ff08"/><stop offset="0.660" stop-color="#fff700"/><stop offset="0.722" stop-color="#ffc300"/><stop offset="0.821" stop-color="#ff9f00"/><stop offset="0.874" stop-color="#ffa900"/><stop offset="0.915" stop-color="#ffd000"/><stop offset="0.942" stop-color="#feff01"/><stop offset="1.000" stop-color="#c7ff38"/></linearGradient><linearGradient id="h192"><stop offset="0.000" stop-color="#004cff"/><stop offset="0.243" stop-color="#0064ff"/><stop offset="0.326" stop-color="#0091ff"/><stop offset="0.408" stop-color="#00d0ff"/><stop offset="0.449" stop-color="#03fffc"/><stop offset="0.540" stop-color="#8dff72"/><stop offset="0.647" stop-color="#ffff00"/><stop offset="0.722" stop-color="#ffc000"/><stop offset="0.821" stop-color="#ffa100"/><stop offset="0.874" stop-color="#ffad00"/><stop offset="0.915" stop-color="#ffd400"/><stop offset="0.940" stop-color="#feff01"/><stop offset="1.000" stop-color="#c3ff3c"/></linearGradient><linearGradient id="h193"><stop offset="0.000" stop-color="#004bff"/><stop offset="0.243" stop-color="#0063ff"/><stop offset="0.328" stop-color="#0092ff"/><stop offset="0.408" stop-color="#00d0ff"/><stop offset="0.449" stop-color="#04fffb"/><stop offset="0.540" stop-color="#8eff71"/><stop offset="0.645" stop-color="#ffff00"/><stop offset="0.720" stop-color="#ffbe00"/><stop offset="0.821" stop-color="#ffa200"/><stop offset="0.874" stop-color="#ffb100"/><stop offset="0.915" stop-color="#ffd900"/><stop offset="0.938" stop-color="#fdff02"/><stop offset="1.000" stop-color="#bfff40"/></linearGradient><linearGradient id="h194"><stop offset="0.000" stop-color="#004bff"/><stop offset="0.243" stop-color="#0062ff"/><stop offset="0.330" stop-color="#0092ff"/><stop offset="0.408" stop-color="#00d0ff"/><stop offset="0.447" stop-color="#03fffc"/><stop offset="0.538" stop-color="#8dff72"/><stop offset="0.643" stop-color="#fffe00"/><stop offset="0.715" stop-color="#ffbd00"/><stop offset="0.816" stop-color="#ffa300"/><stop offset="0.874" stop-color="#ffb500"/><stop offset="0.915" stop-color="#ffde00"/><stop offset="0.936" stop-color="#fdff02"/><stop offset="0.994" stop-color="#c1ff3e"/><stop offset="1.000" stop-color="#bcff43"/></linearGradient><linearGradient id="h195"><stop offset="0.000" stop-color="#004aff"/><stop offset="0.243" stop-color="#0061ff"/><stop offset="0.330" stop-color="#0091ff"/><stop offset="0.408" stop-color="#00d1ff"/><stop offset="0.447" stop-color="#04fffb"/><stop offset="0.538" stop-color="#8fff70"/><stop offset="0.641" stop-color="#fffd00"/><stop offset="0.713" stop-color="#ffbb00"/><stop offset="0.814" stop-color="#ffa400"/><stop offset="0.874" stop-color="#ffb900"/><stop offset="0.918" stop-color="#ffe600"/><stop offset="0.934" stop-color="#fcff03"/><stop offset="0.961" stop-color="#ddff22"/><stop offset="1.000" stop-color="#b8ff47"/></linearGradient><linearGradient id="h196"><stop offset="0.000" stop-color="#004aff"/><stop offset="0.243" stop-color="#005fff"/><stop offset="0.332" stop-color="#0092ff"/><stop offset="0.408" stop-color="#00d1ff"/><stop offset="0.445" stop-color="#03fffc"/><stop offset="0.536" stop-color="#8eff71"/><stop offset="0.639" stop-color="#fffc00"/><stop offset="0.707" stop-color="#ffbd00"/><stop offset="0.777" stop-color="#ffa800"/><stop offset="0.827" stop-color="#ffa800"/><stop offset="0.876" stop-color="#ffbf00"/><stop offset="0.918" stop-color="#ffeb00"/><stop offset="0.932" stop-color="#fcff03"/><stop offset="0.957" stop-color="#ddff22"/><stop offset="1.000" stop-color="#b4ff4b"/></linearGradient><linearGradient id="h197"><stop offset="0.000" stop-color="#0049ff"/><stop offset="0.243" stop-color="#005eff"/><stop offset="0.334" stop-color="#0093ff"/><stop offset="0.408" stop-color="#00d1ff"/><stop offset="0.445" stop-color="#04fffb"/><stop offset="0.534" stop-color="#8dff72"/><stop offset="0.637" stop-color="#fffc00"/><stop offset="0.705" stop-color="#ffbb00"/><stop offset="0.767" stop-color="#ffa800"/><stop offset="0.825" stop-color="#ffa900"/><stop offset="0.876" stop-color="#ffc300"/><stop offset="0.918" stop-color="#ffef00"/><stop offset="0.930" stop-color="#fbff04"/><stop offset="0.955" stop-color="#dbff24"/><stop offset="1.000" stop-color="#b0ff4f"/></linearGradient><linearGradient id="h198"><stop offset="0.000" stop-color="#0049ff"/><stop offset="0.243" stop-color="#005dff"/><stop offset="0.334" stop-color="#0092ff"/><stop offset="0.408" stop-color="#00d1ff"/><stop offset="0.443" stop-color="#02fffd"/><stop offset="0.532" stop-color="#8cff73"/><stop offset="0.635" stop-color="#fffb00"/><stop offset="0.701" stop-color="#ffbb00"/><stop offset="0.759" stop-color="#ffa800"/><stop offset="0.825" stop-color="#ffab00"/><stop offset="0.878" stop-color="#ffc900"/><stop offset="0.920" stop-color="#fff700"/><stop offset="0.932" stop-color="#f3ff0c"/><stop offset="0.961" stop-color="#d2ff2d"/><stop offset="1.000" stop-color="#acff53"/></linearGradient><linearGradient id="h199"><stop offset="0.000" stop-color="#0048ff"/><stop offset="0.243" stop-color="#005cff"/><stop offset="0.336" stop-color="#0093ff"/><stop offset="0.408" stop-color="#00d1ff"/><stop offset="0.443" stop-color="#03fffc"/><stop offset="0.530" stop-color="#8bff74"/><stop offset="0.631" stop-color="#fffd00"/><stop offset="0.699" stop-color="#ffb900"/><stop offset="0.757" stop-color="#ffa600"/><stop offset="0.821" stop-color="#ffab00"/><stop offset="0.878" stop-color="#ffcd00"/><stop offset="0.920" stop-color="#fffc00"/><stop offset="0.957" stop-color="#d2ff2d"/><stop offset="1.000" stop-color="#a8ff57"/></linearGradient><linearGradient id="h200"><stop offset="0.000" stop-color="#0047ff"/><stop offset="0.243" stop-color="#005bff"/><stop offset="0.336" stop-color="#0092ff"/><stop offset="0.408" stop-color="#00d2ff"/><stop offset="0.441" stop-color="#02fffd"/><stop offset="0.528" stop-color="#8aff75"/><stop offset="0.629" stop-color="#fffd00"/><stop offset="0.699" stop-color="#ffb500"/><stop offset="0.755" stop-color="#ffa400"/><stop offset="0.819" stop-color="#ffac00"/><stop offset="0.878" stop-color="#ffd100"/><stop offset="0.922" stop-color="#fbff04"/><stop offset="0.953" stop-color="#d2ff2d"/><stop offset="1.000" stop-color="#a4ff5b"/></linearGradient><linearGradient id="h201"><stop offset="0.000" stop-color="#0047ff"/><stop offset="0.243" stop-color="#005aff"/><stop offset="0.338" stop-color="#0093ff"/><stop offset="0.406" stop-color="#00cfff"/><stop offset="0.441" stop-color="#03fffc"/><stop offset="0.526" stop-color="#88ff77"/><stop offset="0.627" stop-color="#fffd00"/><stop offset="0.697" stop-color="#ffb300"/><stop offset="0.755" stop-color="#ffa200"/><stop offset="0.816" stop-color="#ffac00"/><stop offset="0.876" stop-color="#ffd300"/><stop offset="0.918" stop-color="#fcff03"/><stop offset="0.953" stop-color="#ceff31"/><stop offset="1.000" stop-color="#a0ff5f"/></linearGradient><linearGradient id="h202"><stop offset="0.000" stop-color="#0046ff"/><stop offset="0.241" stop-color="#0058ff"/><stop offset="0.338" stop-color="#0092ff"/><stop offset="0.406" stop-color="#00cfff"/><stop offset="0.441" stop-color="#04fffb"/><stop offset="0.524" stop-color="#87ff78"/><stop offset="0.625" stop-color="#fffd00"/><stop offset="0.697" stop-color="#ffb000"/><stop offset="0.753" stop-color="#ffa000"/><stop offset="0.814" stop-color="#ffac00"/><stop offset="0.872" stop-color="#ffd300"/><stop offset="0.915" stop-color="#fbff04"/><stop offset="0.955" stop-color="#c8ff37"/><stop offset="1.000" stop-color="#9cff63"/></linearGradient><linearGradient id="h203"><stop offset="0.000" stop-color="#0046ff"/><stop offset="0.241" stop-color="#0057ff"/><stop offset="0.338" stop-color="#0091ff"/><stop offset="0.406" stop-color="#00cfff"/><stop offset="0.439" stop-color="#02fffd"/><stop offset="0.522" stop-color="#86ff79"/><stop offset="0.623" stop-color="#fffc00"/><stop offset="0.697" stop-color="#ffac00"/><stop offset="0.753" stop-color="#ff9e00"/><stop offset="0.812" stop-color="#ffad00"/><stop offset="0.870" stop-color="#ffd500"/><stop offset="0.911" stop-color="#fcff03"/><stop offset="0.955" stop-color="#c4ff3b"/><stop offset="1.000" stop-color="#98ff67"/></linearGradient><linearGradient id="h204"><stop offset="0.000" stop-color="#0045ff"/><stop offset="0.241" stop-color="#0056ff"/><stop offset="0.338" stop-color="#0090ff"/><stop offset="0.406" stop-color="#00cfff"/><stop offset="0.439" stop-color="#03fffc"/><stop offset="0.520" stop-color="#85ff7a"/><stop offset="0.621" stop-color="#fffc00"/><stop offset="0.695" stop-color="#ffaa00"/><stop offset="0.753" stop-color="#ff9c00"/><stop offset="0.808" stop-color="#ffac00"/><stop offset="0.860" stop-color="#ffd000"/><stop offset="0.907" stop-color="#fcff03"/><stop offset="0.957" stop-color="#beff41"/><stop offset="1.000" stop-color="#94ff6b"/></linearGradient><linearGradient id="h205"><stop offset="0.000" stop-color="#0045ff"/><stop offset="0.241" stop-color="#0055ff"/><stop offset="0.338" stop-color="#008fff"/><stop offset="0.406" stop-color="#00cfff"/><stop offset="0.439" stop-color="#04fffb"/><stop offset="0.518" stop-color="#84ff7b"/><stop offset="0.619" stop-color="#fffd00"/><stop offset="0.695" stop-color="#ffa600"/><stop offset="0.751" stop-color="#ff9a00"/><stop offset="0.804" stop-color="#ffab00"/><stop offset="0.856" stop-color="#ffcf00"/><stop offset="0.903" stop-color="#fcff03"/><stop offset="0.959" stop-color="#b9ff46"/><stop offset="1.000" stop-color="#90ff6f"/></linearGradient><linearGradient id="h206"><stop offset="0.000" stop-color="#0044ff"/><stop offset="0.241" stop-color="#0054ff"/><stop offset="0.338" stop-color="#008fff"/><stop offset="0.406" stop-color="#00d0ff"/><stop offset="0.437" stop-color="#02fffd"/><stop offset="0.518" stop-color="#86ff79"/><stop offset="0.616" stop-color="#fffd00"/><stop offset="0.693" stop-color="#ffa300"/><stop offset="0.751" stop-color="#ff9800"/><stop offset="0.802" stop-color="#ffaa00"/><stop offset="0.854" stop-color="#ffd000"/><stop offset="0.899" stop-color="#fcff03"/><stop offset="0.961" stop-color="#b3ff4c"/><stop offset="1.000" stop-color="#8cff73"/></linearGradient><linearGradient id="h207"><stop offset="0.000" stop-color="#0044ff"/><stop offset="0.241" stop-color="#0052ff"/><stop offset="0.336" stop-color="#008cff"/><stop offset="0.406" stop-color="#00d0ff"/><stop offset="0.437" stop-color="#03fffc"/><stop offset="0.518" stop-color="#88ff77"/><stop offset="0.614" stop-color="#fffd00"/><stop offset="0.693" stop-color="#ffa000"/><stop offset="0.751" stop-color="#ff9600"/><stop offset="0.800" stop-color="#ffa900"/><stop offset="0.852" stop-color="#ffd100"/><stop offset="0.895" stop-color="#fcff03"/><stop offset="0.961" stop-color="#afff50"/><stop offset="1.000" stop-color="#88ff77"/></linearGradient><linearGradient id="h208"><stop offset="0.000" stop-color="#0043ff"/><stop offset="0.241" stop-color="#0051ff"/><stop offset="0.336" stop-color="#008bff"/><stop offset="0.406" stop-color="#00d0ff"/><stop offset="0.437" stop-color="#04fffb"/><stop offset="0.515" stop-color="#87ff78"/><stop offset="0.612" stop-color="#fffd00"/><stop offset="0.693" stop-color="#ff9c00"/><stop offset="0.751" stop-color="#ff9400"/><stop offset="0.800" stop-color="#ffaa00"/><stop offset="0.852" stop-color="#ffd400"/><stop offset="0.891" stop-color="#fdff02"/><stop offset="0.963" stop-color="#a9ff56"/><stop offset="1.000" stop-color="#85ff7a"/></linearGradient><linearGradient id="h209"><stop offset="0.000" stop-color="#0042ff"/><stop offset="0.241" stop-color="#0050ff"/><stop offset="0.336" stop-color="#008aff"/><stop offset="0.406" stop-color="#00d0ff"/><stop offset="0.437" stop-color="#05fffa"/><stop offset="0.515" stop-color="#89ff76"/><stop offset="0.612" stop-color="#fffb00"/><stop offset="0.691" stop-color="#ff9900"/><stop offset="0.748" stop-color="#ff9100"/><stop offset="0.798" stop-color="#ffa900"/><stop offset="0.849" stop-color="#ffd500"/><stop offset="0.889" stop-color="#fbff04"/><stop offset="0.963" stop-color="#a5ff5a"/><stop offset="1.000" stop-color="#80ff7f"/></linearGradient><linearGradient id="h210"><stop offset="0.000" stop-color="#0042ff"/><stop offset="0.241" stop-color="#0050ff"/><stop offset="0.336" stop-color="#008bff"/><stop offset="0.406" stop-color="#00d2ff"/><stop offset="0.435" stop-color="#03fffc"/><stop offset="0.515" stop-color="#8aff75"/><stop offset="0.610" stop-color="#fffb00"/><stop offset="0.689" stop-color="#ff9b00"/><stop offset="0.748" stop-color="#ff9100"/><stop offset="0.798" stop-color="#ffab00"/><stop offset="0.852" stop-color="#ffdb00"/><stop offset="0.885" stop-color="#fcff03"/><stop offset="0.965" stop-color="#9dff62"/><stop offset="1.000" stop-color="#7aff85"/></linearGradient><linearGradient id="h211"><stop offset="0.000" stop-color="#0042ff"/><stop offset="0.241" stop-color="#0050ff"/><stop offset="0.336" stop-color="#008bff"/><stop offset="0.406" stop-color="#00d5ff"/><stop offset="0.433" stop-color="#02fffd"/><stop offset="0.515" stop-color="#8cff73"/><stop offset="0.608" stop-color="#fffc00"/><stop offset="0.678" stop-color="#ffa500"/><stop offset="0.697" stop-color="#ff9600"/><stop offset="0.748" stop-color="#ff9200"/><stop offset="0.798" stop-color="#ffad00"/><stop offset="0.852" stop-color="#ffdf00"/><stop offset="0.882" stop-color="#fbff04"/><stop offset="0.969" stop-color="#92ff6d"/><stop offset="1.000" stop-color="#73ff8c"/></linearGradient><linearGradient id="h212"><stop offset="0.000" stop-color="#0042ff"/><stop offset="0.241" stop-color="#004fff"/><stop offset="0.334" stop-color="#0089ff"/><stop offset="0.406" stop-color="#00d7ff"/><stop offset="0.431" stop-color="#01fffe"/><stop offset="0.515" stop-color="#8eff71"/><stop offset="0.606" stop-color="#fffc00"/><stop offset="0.672" stop-color="#ffaa00"/><stop offset="0.697" stop-color="#ff9600"/><stop offset="0.748" stop-color="#ff9200"/><stop offset="0.798" stop-color="#ffaf00"/><stop offset="0.852" stop-color="#ffe200"/><stop offset="0.878" stop-color="#fcff03"/><stop offset="0.971" stop-color="#8aff75"/><stop offset="1.000" stop-color="#6cff93"/></linearGradient><linearGradient id="h213"><stop offset="0.000" stop-color="#0042ff"/><stop offset="0.241" stop-color="#004fff"/><stop offset="0.334" stop-color="#008aff"/><stop offset="0.404" stop-color="#00d5ff"/><stop offset="0.431" stop-color="#04fffb"/><stop offset="0.515" stop-color="#90ff6f"/><stop offset="0.604" stop-color="#fffd00"/><stop offset="0.668" stop-color="#ffac00"/><stop offset="0.697" stop-color="#ff9500"/><stop offset="0.748" stop-color="#ff9200"/><stop offset="0.798" stop-color="#ffb100"/><stop offset="0.852" stop-color="#ffe600"/><stop offset="0.874" stop-color="#fdff02"/><stop offset="0.973" stop-color="#81ff7e"/><stop offset="1.000" stop-color="#66ff99"/></linearGradient><linearGradient id="h214"><stop offset="0.000" stop-color="#0041ff"/><stop offset="0.241" stop-color="#004fff"/><stop offset="0.334" stop-color="#008aff"/><stop offset="0.404" stop-color="#00d8ff"/><stop offset="0.429" stop-color="#03fffc"/><stop offset="0.513" stop-color="#8fff70"/><stop offset="0.602" stop-color="#fffd00"/><stop offset="0.664" stop-color="#ffaf00"/><stop offset="0.697" stop-color="#ff9400"/><stop offset="0.746" stop-color="#ff9200"/><stop offset="0.798" stop-color="#ffb300"/><stop offset="0.852" stop-color="#ffea00"/><stop offset="0.872" stop-color="#fbff04"/><stop offset="0.977" stop-color="#77ff88"/><stop offset="1.000" stop-color="#5fffa0"/></linearGradient><linearGradient id="h215"><stop offset="0.000" stop-color="#0041ff"/><stop offset="0.241" stop-color="#004eff"/><stop offset="0.334" stop-color="#008aff"/><stop offset="0.402" stop-color="#00d6ff"/><stop offset="0.427" stop-color="#02fffd"/><stop offset="0.509" stop-color="#8cff73"/><stop offset="0.600" stop-color="#fffd00"/><stop offset="0.662" stop-color="#ffaf00"/><stop offset="0.697" stop-color="#ff9300"/><stop offset="0.746" stop-color="#ff9200"/><stop offset="0.798" stop-color="#ffb500"/><stop offset="0.854" stop-color="#fff000"/><stop offset="0.870" stop-color="#faff05"/><stop offset="0.979" stop-color="#6eff91"/><stop offset="1.000" stop-color="#58ffa7"/></linearGradient><linearGradient id="h216"><stop offset="0.000" stop-color="#0041ff"/><stop offset="0.241" stop-color="#004eff"/><stop offset="0.332" stop-color="#0088ff"/><stop offset="0.400" stop-color="#00d5ff"/><stop offset="0.427" stop-color="#04fffb"/><stop offset="0.507" stop-color="#8bff74"/><stop offset="0.600" stop-color="#fffb00"/><stop offset="0.658" stop-color="#ffb100"/><stop offset="0.697" stop-color="#ff9300"/><stop offset="0.744" stop-color="#ff9100"/><stop offset="0.798" stop-color="#ffb700"/><stop offset="0.854" stop-color="#fff400"/><stop offset="0.866" stop-color="#fbff04"/><stop offset="0.930" stop-color="#a6ff59"/><stop offset="0.986" stop-color="#61ff9e"/><stop offset="1.000" stop-color="#52ffad"/></linearGradient><linearGradient id="h217"><stop offset="0.000" stop-color="#0041ff"/><stop offset="0.241" stop-color="#004eff"/><stop offset="0.332" stop-color="#0088ff"/><stop offset="0.396" stop-color="#00d2ff"/><stop offset="0.425" stop-color="#03fffc"/><stop offset="0.499" stop-color="#80ff7f"/><stop offset="0.598" stop-color="#fffb00"/><stop offset="0.658" stop-color="#ffaf00"/><stop offset="0.697" stop-color="#ff9200"/><stop offset="0.744" stop-color="#ff9100"/><stop offset="0.798" stop-color="#ffb800"/><stop offset="0.854" stop-color="#fff700"/><stop offset="0.866" stop-color="#f7ff08"/><stop offset="0.926" stop-color="#a8ff57"/><stop offset="0.981" stop-color="#5fffa0"/><stop offset="1.000" stop-color="#4bffb4"/></linearGradient><linearGradient id="h218"><stop offset="0.000" stop-color="#0041ff"/><stop offset="0.241" stop-color="#004dff"/><stop offset="0.332" stop-color="#0089ff"/><stop offset="0.394" stop-color="#00d1ff"/><stop offset="0.423" stop-color="#02fffd"/><stop offset="0.493" stop-color="#78ff87"/><stop offset="0.594" stop-color="#fffe00"/><stop offset="0.656" stop-color="#ffae00"/><stop offset="0.697" stop-color="#ff9100"/><stop offset="0.742" stop-color="#ff9000"/><stop offset="0.798" stop-color="#ffba00"/><stop offset="0.858" stop-color="#fdff02"/><stop offset="0.922" stop-color="#a9ff56"/><stop offset="0.977" stop-color="#5dffa2"/><stop offset="1.000" stop-color="#44ffbb"/></linearGradient><linearGradient id="h219"><stop offset="0.000" stop-color="#0040ff"/><stop offset="0.241" stop-color="#004dff"/><stop offset="0.332" stop-color="#0089ff"/><stop offset="0.390" stop-color="#00cdff"/><stop offset="0.423" stop-color="#04fffb"/><stop offset="0.489" stop-color="#74ff8b"/><stop offset="0.592" stop-color="#ffff00"/><stop offset="0.654" stop-color="#ffae00"/><stop offset="0.697" stop-color="#ff9000"/><stop offset="0.742" stop-color="#ff9100"/><stop offset="0.798" stop-color="#ffbc00"/><stop offset="0.856" stop-color="#fcff03"/><stop offset="0.920" stop-color="#a8ff57"/><stop offset="0.975" stop-color="#59ffa6"/><stop offset="1.000" stop-color="#3effc1"/></linearGradient><linearGradient id="h220"><stop offset="0.000" stop-color="#0040ff"/><stop offset="0.241" stop-color="#004cff"/><stop offset="0.332" stop-color="#0089ff"/><stop offset="0.388" stop-color="#00cbff"/><stop offset="0.421" stop-color="#03fffc"/><stop offset="0.487" stop-color="#73ff8c"/><stop offset="0.590" stop-color="#ffff00"/><stop offset="0.654" stop-color="#ffac00"/><stop offset="0.699" stop-color="#ff8f00"/><stop offset="0.740" stop-color="#ff9000"/><stop offset="0.798" stop-color="#ffbe00"/><stop offset="0.854" stop-color="#fbff04"/><stop offset="0.918" stop-color="#a7ff58"/><stop offset="0.975" stop-color="#52ffad"/><stop offset="1.000" stop-color="#37ffc8"/></linearGradient><linearGradient id="h221"><stop offset="0.000" stop-color="#0040ff"/><stop offset="0.241" stop-color="#004cff"/><stop offset="0.332" stop-color="#008aff"/><stop offset="0.388" stop-color="#00cdff"/><stop offset="0.419" stop-color="#01fffe"/><stop offset="0.485" stop-color="#72ff8d"/><stop offset="0.588" stop-color="#ffff00"/><stop offset="0.652" stop-color="#ffab00"/><stop offset="0.699" stop-color="#ff8f00"/><stop offset="0.738" stop-color="#ff8f00"/><stop offset="0.796" stop-color="#ffbe00"/><stop offset="0.849" stop-color="#feff01"/><stop offset="0.918" stop-color="#a3ff5c"/><stop offset="0.973" stop-color="#4effb1"/><stop offset="1.000" stop-color="#30ffcf"/></linearGradient><linearGradient id="h222"><stop offset="0.000" stop-color="#0040ff"/><stop offset="0.241" stop-color="#004cff"/><stop offset="0.330" stop-color="#0087ff"/><stop offset="0.386" stop-color="#00cbff"/><stop offset="0.419" stop-color="#04fffb"/><stop offset="0.482" stop-color="#72ff8d"/><stop offset="0.588" stop-color="#fffd00"/><stop offset="0.652" stop-color="#ffa900"/><stop offset="0.699" stop-color="#ff8e00"/><stop offset="0.738" stop-color="#ff8f00"/><stop offset="0.796" stop-color="#ffc000"/><stop offset="0.847" stop-color="#fdff02"/><stop offset="0.915" stop-color="#a2ff5d"/><stop offset="0.973" stop-color="#48ffb7"/><stop offset="1.000" stop-color="#2affd5"/></linearGradient><linearGradient id="h223"><stop offset="0.000" stop-color="#0040ff"/><stop offset="0.239" stop-color="#004aff"/><stop offset="0.330" stop-color="#0088ff"/><stop offset="0.386" stop-color="#00cdff"/><stop offset="0.416" stop-color="#02fffd"/><stop offset="0.480" stop-color="#71ff8e"/><stop offset="0.586" stop-color="#fffd00"/><stop offset="0.652" stop-color="#ffa700"/><stop offset="0.699" stop-color="#ff8d00"/><stop offset="0.736" stop-color="#ff8e00"/><stop offset="0.794" stop-color="#ffbf00"/><stop offset="0.845" stop-color="#fdff02"/><stop offset="0.915" stop-color="#9dff62"/><stop offset="0.973" stop-color="#41ffbe"/><stop offset="1.000" stop-color="#23ffdc"/></linearGradient><linearGradient id="h224"><stop offset="0.000" stop-color="#003fff"/><stop offset="0.239" stop-color="#004aff"/><stop offset="0.330" stop-color="#0088ff"/><stop offset="0.384" stop-color="#00cbff"/><stop offset="0.414" stop-color="#01fffe"/><stop offset="0.478" stop-color="#71ff8e"/><stop offset="0.584" stop-color="#fffd00"/><stop offset="0.649" stop-color="#ffa600"/><stop offset="0.697" stop-color="#ff8d00"/><stop offset="0.736" stop-color="#ff8e00"/><stop offset="0.794" stop-color="#ffc100"/><stop offset="0.843" stop-color="#fcff03"/><stop offset="0.915" stop-color="#99ff66"/><stop offset="0.971" stop-color="#3dffc2"/><stop offset="1.000" stop-color="#1cffe3"/></linearGradient><linearGradient id="h225"><stop offset="0.000" stop-color="#003fff"/><stop offset="0.239" stop-color="#0049ff"/><stop offset="0.330" stop-color="#0088ff"/><stop offset="0.384" stop-color="#00ccff"/><stop offset="0.414" stop-color="#03fffc"/><stop offset="0.478" stop-color="#73ff8c"/><stop offset="0.581" stop-color="#fffe00"/><stop offset="0.649" stop-color="#ffa400"/><stop offset="0.697" stop-color="#ff8c00"/><stop offset="0.734" stop-color="#ff8d00"/><stop offset="0.790" stop-color="#ffbe00"/><stop offset="0.841" stop-color="#fcff03"/><stop offset="0.913" stop-color="#99ff66"/><stop offset="0.971" stop-color="#37ffc8"/><stop offset="1.000" stop-color="#16ffe9"/></linearGradient><linearGradient id="h226"><stop offset="0.000" stop-color="#003fff"/><stop offset="0.239" stop-color="#0049ff"/><stop offset="0.330" stop-color="#0088ff"/><stop offset="0.384" stop-color="#00cdff"/><stop offset="0.412" stop-color="#02fffd"/><stop offset="0.478" stop-color="#75ff8a"/><stop offset="0.551" stop-color="#d9ff26"/><stop offset="0.581" stop-color="#fffb00"/><stop offset="0.649" stop-color="#ffa100"/><stop offset="0.697" stop-color="#ff8b00"/><stop offset="0.734" stop-color="#ff8d00"/><stop offset="0.788" stop-color="#ffbd00"/><stop offset="0.839" stop-color="#fcff03"/><stop offset="0.887" stop-color="#bbff44"/><stop offset="0.915" stop-color="#90ff6f"/><stop offset="0.971" stop-color="#31ffce"/><stop offset="1.000" stop-color="#0ffff0"/></linearGradient><linearGradient id="h227"><stop offset="0.000" stop-color="#003fff"/><stop offset="0.239" stop-color="#0049ff"/><stop offset="0.330" stop-color="#0089ff"/><stop offset="0.381" stop-color="#00cbff"/><stop offset="0.412" stop-color="#04fffb"/><stop offset="0.476" stop-color="#75ff8a"/><stop offset="0.544" stop-color="#d2ff2d"/><stop offset="0.577" stop-color="#fffe00"/><stop offset="0.649" stop-color="#ff9f00"/><stop offset="0.695" stop-color="#ff8b00"/><stop offset="0.734" stop-color="#ff8c00"/><stop offset="0.788" stop-color="#ffbf00"/><stop offset="0.837" stop-color="#fcff03"/><stop offset="0.880" stop-color="#beff41"/><stop offset="0.913" stop-color="#90ff6f"/><stop offset="0.971" stop-color="#2affd5"/><stop offset="1.000" stop-color="#08fff7"/></linearGradient><linearGradient id="h228"><stop offset="0.000" stop-color="#003fff"/><stop offset="0.239" stop-color="#0048ff"/><stop offset="0.330" stop-color="#0089ff"/><stop offset="0.381" stop-color="#00ccff"/><stop offset="0.410" stop-color="#03fffc"/><stop offset="0.476" stop-color="#78ff87"/><stop offset="0.540" stop-color="#cdff32"/><stop offset="0.575" stop-color="#fffe00"/><stop offset="0.649" stop-color="#ff9c00"/><stop offset="0.695" stop-color="#ff8a00"/><stop offset="0.734" stop-color="#ff8c00"/><stop offset="0.788" stop-color="#ffc100"/><stop offset="0.835" stop-color="#fcff03"/><stop offset="0.876" stop-color="#c0ff3f"/><stop offset="0.913" stop-color="#8cff73"/><stop offset="0.971" stop-color="#24ffdb"/><stop offset="1.000" stop-color="#02fffd"/></linearGradient><linearGradient id="h229"><stop offset="0.000" stop-color="#003eff"/><stop offset="0.239" stop-color="#0048ff"/><stop offset="0.328" stop-color="#0086ff"/><stop offset="0.381" stop-color="#00cdff"/><stop offset="0.408" stop-color="#01fffe"/><stop offset="0.476" stop-color="#7aff85"/><stop offset="0.538" stop-color="#ccff33"/><stop offset="0.573" stop-color="#fffe00"/><stop offset="0.647" stop-color="#ff9b00"/><stop offset="0.691" stop-color="#ff8900"/><stop offset="0.732" stop-color="#ff8b00"/><stop offset="0.786" stop-color="#ffbf00"/><stop offset="0.833" stop-color="#fcff03"/><stop offset="0.874" stop-color="#beff41"/><stop offset="0.911" stop-color="#8cff73"/><stop offset="0.969" stop-color="#20ffdf"/><stop offset="0.998" stop-color="#00fcff"/><stop offset="1.000" stop-color="#00faff"/></linearGradient><linearGradient id="h230"><stop offset="0.000" stop-color="#003eff"/><stop offset="0.239" stop-color="#0047ff"/><stop offset="0.328" stop-color="#0087ff"/><stop offset="0.381" stop-color="#00ceff"/><stop offset="0.408" stop-color="#03fffc"/><stop offset="0.474" stop-color="#7aff85"/><stop offset="0.536" stop-color="#cbff34"/><stop offset="0.571" stop-color="#ffff00"/><stop offset="0.639" stop-color="#ffa200"/><stop offset="0.676" stop-color="#ff8c00"/><stop offset="0.732" stop-color="#ff8a00"/><stop offset="0.786" stop-color="#ffc100"/><stop offset="0.831" stop-color="#fcff03"/><stop offset="0.872" stop-color="#bdff42"/><stop offset="0.911" stop-color="#87ff78"/><stop offset="0.969" stop-color="#1affe5"/><stop offset="0.994" stop-color="#00fbff"/><stop offset="1.000" stop-color="#00f3ff"/></linearGradient><linearGradient id="h231"><stop offset="0.000" stop-color="#003eff"/><stop offset="0.239" stop-color="#0047ff"/><stop offset="0.328" stop-color="#0087ff"/><stop offset="0.379" stop-color="#00cbff"/><stop offset="0.406" stop-color="#02fffd"/><stop offset="0.474" stop-color="#7cff83"/><stop offset="0.534" stop-color="#c9ff36"/><stop offset="0.569" stop-color="#ffff00"/><stop offset="0.635" stop-color="#ffa500"/><stop offset="0.652" stop-color="#ff9400"/><stop offset="0.695" stop-color="#ff8800"/><stop offset="0.732" stop-color="#ff8a00"/><stop offset="0.786" stop-color="#ffc300"/><stop offset="0.829" stop-color="#fcff03"/><stop offset="0.870" stop-color="#bcff43"/><stop offset="0.911" stop-color="#83ff7c"/><stop offset="0.969" stop-color="#13ffec"/><stop offset="0.988" stop-color="#00fcff"/><stop offset="1.000" stop-color="#00edff"/></linearGradient><linearGradient id="h232"><stop offset="0.000" stop-color="#003eff"/><stop offset="0.239" stop-color="#0047ff"/><stop offset="0.328" stop-color="#0087ff"/><stop offset="0.379" stop-color="#00cdff"/><stop offset="0.404" stop-color="#00ffff"/><stop offset="0.474" stop-color="#7fff80"/><stop offset="0.532" stop-color="#c8ff37"/><stop offset="0.567" stop-color="#ffff00"/><stop offset="0.631" stop-color="#ffa900"/><stop offset="0.649" stop-color="#ff9300"/><stop offset="0.691" stop-color="#ff8700"/><stop offset="0.732" stop-color="#ff8a00"/><stop offset="0.786" stop-color="#ffc400"/><stop offset="0.827" stop-color="#fdff02"/><stop offset="0.868" stop-color="#baff45"/><stop offset="0.911" stop-color="#7fff80"/><stop offset="0.969" stop-color="#0dfff2"/><stop offset="0.984" stop-color="#00faff"/><stop offset="1.000" stop-color="#00e6ff"/></linearGradient><linearGradient id="h233"><stop offset="0.000" stop-color="#003eff"/><stop offset="0.239" stop-color="#0046ff"/><stop offset="0.328" stop-color="#0087ff"/><stop offset="0.379" stop-color="#00ceff"/><stop offset="0.404" stop-color="#02fffd"/><stop offset="0.474" stop-color="#81ff7e"/><stop offset="0.532" stop-color="#caff35"/><stop offset="0.567" stop-color="#fffd00"/><stop offset="0.631" stop-color="#ffa600"/><stop offset="0.647" stop-color="#ff9200"/><stop offset="0.685" stop-color="#ff8700"/><stop offset="0.732" stop-color="#ff8900"/><stop offset="0.786" stop-color="#ffc600"/><stop offset="0.825" stop-color="#fdff02"/><stop offset="0.868" stop-color="#b7ff48"/><stop offset="0.909" stop-color="#7fff80"/><stop offset="0.969" stop-color="#06fff9"/><stop offset="0.984" stop-color="#00f4ff"/><stop offset="1.000" stop-color="#00dfff"/></linearGradient><linearGradient id="h234"><stop offset="0.000" stop-color="#003dff"/><stop offset="0.239" stop-color="#0046ff"/><stop offset="0.328" stop-color="#0087ff"/><stop offset="0.379" stop-color="#00cfff"/><stop offset="0.402" stop-color="#01fffe"/><stop offset="0.474" stop-color="#84ff7b"/><stop offset="0.530" stop-color="#c8ff37"/><stop offset="0.565" stop-color="#fffd00"/><stop offset="0.629" stop-color="#ffa700"/><stop offset="0.647" stop-color="#ff8f00"/><stop offset="0.682" stop-color="#ff8600"/><stop offset="0.732" stop-color="#ff8900"/><stop offset="0.786" stop-color="#ffc700"/><stop offset="0.825" stop-color="#fbff04"/><stop offset="0.868" stop-color="#b3ff4c"/><stop offset="0.909" stop-color="#7bff84"/><stop offset="0.969" stop-color="#00ffff"/><stop offset="1.000" stop-color="#00d9ff"/></linearGradient><linearGradient id="h235"><stop offset="0.000" stop-color="#003dff"/><stop offset="0.239" stop-color="#0046ff"/><stop offset="0.328" stop-color="#0088ff"/><stop offset="0.379" stop-color="#00d0ff"/><stop offset="0.402" stop-color="#03fffc"/><stop offset="0.474" stop-color="#86ff79"/><stop offset="0.530" stop-color="#caff35"/><stop offset="0.563" stop-color="#fffd00"/><stop offset="0.627" stop-color="#ffa800"/><stop offset="0.647" stop-color="#ff8d00"/><stop offset="0.682" stop-color="#ff8500"/><stop offset="0.732" stop-color="#ff8900"/><stop offset="0.786" stop-color="#ffc900"/><stop offset="0.823" stop-color="#fbff04"/><stop offset="0.866" stop-color="#b1ff4e"/><stop offset="0.909" stop-color="#77ff88"/><stop offset="0.965" stop-color="#00feff"/><stop offset="1.000" stop-color="#00d2ff"/></linearGradient><linearGradient id="h236"><stop offset="0.000" stop-color="#003dff"/><stop offset="0.239" stop-color="#0047ff"/><stop offset="0.328" stop-color="#0089ff"/><stop offset="0.379" stop-color="#00d3ff"/><stop offset="0.400" stop-color="#01fffe"/><stop offset="0.474" stop-color="#88ff77"/><stop offset="0.530" stop-color="#cdff32"/><stop offset="0.563" stop-color="#fffb00"/><stop offset="0.631" stop-color="#ffa100"/><stop offset="0.647" stop-color="#ff8d00"/><stop offset="0.685" stop-color="#ff8500"/><stop offset="0.732" stop-color="#ff8b00"/><stop offset="0.786" stop-color="#ffcb00"/><stop offset="0.821" stop-color="#fcff03"/><stop offset="0.868" stop-color="#aaff55"/><stop offset="0.909" stop-color="#70ff8f"/><stop offset="0.963" stop-color="#00fcff"/><stop offset="1.000" stop-color="#00cdff"/></linearGradient><linearGradient id="h237"><stop offset="0.000" stop-color="#003dff"/><stop offset="0.237" stop-color="#0046ff"/><stop offset="0.328" stop-color="#008bff"/><stop offset="0.379" stop-color="#00d6ff"/><stop offset="0.400" stop-color="#04fffb"/><stop offset="0.474" stop-color="#8aff75"/><stop offset="0.532" stop-color="#d2ff2d"/><stop offset="0.561" stop-color="#fffc00"/><stop offset="0.639" stop-color="#ff9400"/><stop offset="0.674" stop-color="#ff8500"/><stop offset="0.732" stop-color="#ff8d00"/><stop offset="0.788" stop-color="#ffd100"/><stop offset="0.819" stop-color="#fcff03"/><stop offset="0.868" stop-color="#a6ff59"/><stop offset="0.909" stop-color="#6aff95"/><stop offset="0.959" stop-color="#00ffff"/><stop offset="0.990" stop-color="#00d4ff"/><stop offset="1.000" stop-color="#00c7ff"/></linearGradient><linearGradient id="h238"><stop offset="0.000" stop-color="#003dff"/><stop offset="0.237" stop-color="#0047ff"/><stop offset="0.326" stop-color="#008aff"/><stop offset="0.381" stop-color="#00deff"/><stop offset="0.398" stop-color="#02fffd"/><stop offset="0.474" stop-color="#8bff74"/><stop offset="0.532" stop-color="#d5ff2a"/><stop offset="0.561" stop-color="#fffa00"/><stop offset="0.647" stop-color="#ff8c00"/><stop offset="0.687" stop-color="#ff8500"/><stop offset="0.732" stop-color="#ff8f00"/><stop offset="0.790" stop-color="#ffd600"/><stop offset="0.816" stop-color="#fdff02"/><stop offset="0.870" stop-color="#9fff60"/><stop offset="0.911" stop-color="#5fffa0"/><stop offset="0.957" stop-color="#00fdff"/><stop offset="0.977" stop-color="#00ddff"/><stop offset="1.000" stop-color="#00c2ff"/></linearGradient><linearGradient id="h239"><stop offset="0.000" stop-color="#003cff"/><stop offset="0.235" stop-color="#0046ff"/><stop offset="0.326" stop-color="#008cff"/><stop offset="0.381" stop-color="#00e1ff"/><stop offset="0.398" stop-color="#05fffa"/><stop offset="0.474" stop-color="#8dff72"/><stop offset="0.534" stop-color="#daff25"/><stop offset="0.559" stop-color="#fffc00"/><stop offset="0.647" stop-color="#ff8c00"/><stop offset="0.691" stop-color="#ff8500"/><stop offset="0.732" stop-color="#ff9100"/><stop offset="0.790" stop-color="#ffd900"/><stop offset="0.814" stop-color="#fdff02"/><stop offset="0.872" stop-color="#97ff68"/><stop offset="0.911" stop-color="#58ffa7"/><stop offset="0.953" stop-color="#00ffff"/><stop offset="0.973" stop-color="#00ddff"/><stop offset="1.000" stop-color="#00bcff"/></linearGradient><linearGradient id="h240"><stop offset="0.000" stop-color="#003cff"/><stop offset="0.233" stop-color="#0046ff"/><stop offset="0.324" stop-color="#008aff"/><stop offset="0.381" stop-color="#00e4ff"/><stop offset="0.396" stop-color="#03fffc"/><stop offset="0.472" stop-color="#8cff73"/><stop offset="0.536" stop-color="#e0ff1f"/><stop offset="0.559" stop-color="#fffa00"/><stop offset="0.647" stop-color="#ff8b00"/><stop offset="0.691" stop-color="#ff8500"/><stop offset="0.732" stop-color="#ff9300"/><stop offset="0.792" stop-color="#ffde00"/><stop offset="0.814" stop-color="#faff05"/><stop offset="0.874" stop-color="#8fff70"/><stop offset="0.911" stop-color="#52ffad"/><stop offset="0.948" stop-color="#01fffe"/><stop offset="0.973" stop-color="#00d7ff"/><stop offset="1.000" stop-color="#00b7ff"/></linearGradient><linearGradient id="h241"><stop offset="0.000" stop-color="#003cff"/><stop offset="0.227" stop-color="#0045ff"/><stop offset="0.315" stop-color="#0084ff"/><stop offset="0.355" stop-color="#00bbff"/><stop offset="0.386" stop-color="#00efff"/><stop offset="0.396" stop-color="#06fff9"/><stop offset="0.472" stop-color="#8eff71"/><stop offset="0.538" stop-color="#e6ff19"/><stop offset="0.557" stop-color="#fffc00"/><stop offset="0.645" stop-color="#ff8c00"/><stop offset="0.691" stop-color="#ff8500"/><stop offset="0.732" stop-color="#ff9600"/><stop offset="0.792" stop-color="#ffe100"/><stop offset="0.812" stop-color="#fbff04"/><stop offset="0.876" stop-color="#87ff78"/><stop offset="0.911" stop-color="#4bffb4"/><stop offset="0.946" stop-color="#00fdff"/><stop offset="0.973" stop-color="#00d1ff"/><stop offset="1.000" stop-color="#00b1ff"/></linearGradient><linearGradient id="h242"><stop offset="0.000" stop-color="#003cff"/><stop offset="0.223" stop-color="#0045ff"/><stop offset="0.262" stop-color="#005bff"/><stop offset="0.324" stop-color="#008eff"/><stop offset="0.381" stop-color="#00eaff"/><stop offset="0.394" stop-color="#04fffb"/><stop offset="0.470" stop-color="#8dff72"/><stop offset="0.540" stop-color="#ebff14"/><stop offset="0.557" stop-color="#fffa00"/><stop offset="0.645" stop-color="#ff8b00"/><stop offset="0.691" stop-color="#ff8500"/><stop offset="0.732" stop-color="#ff9800"/><stop offset="0.792" stop-color="#ffe300"/><stop offset="0.810" stop-color="#fbff04"/><stop offset="0.882" stop-color="#78ff87"/><stop offset="0.913" stop-color="#40ffbf"/><stop offset="0.942" stop-color="#00feff"/><stop offset="0.973" stop-color="#00cbff"/><stop offset="1.000" stop-color="#00acff"/></linearGradient><linearGradient id="h243"><stop offset="0.000" stop-color="#003cff"/><stop offset="0.221" stop-color="#0045ff"/><stop offset="0.258" stop-color="#0059ff"/><stop offset="0.322" stop-color="#008dff"/><stop offset="0.359" stop-color="#00c7ff"/><stop offset="0.388" stop-color="#00f9ff"/><stop offset="0.402" stop-color="#18ffe7"/><stop offset="0.474" stop-color="#94ff6b"/><stop offset="0.548" stop-color="#faff05"/><stop offset="0.565" stop-color="#ffec00"/><stop offset="0.645" stop-color="#ff8b00"/><stop offset="0.693" stop-color="#ff8500"/><stop offset="0.732" stop-color="#ff9a00"/><stop offset="0.792" stop-color="#ffe500"/><stop offset="0.808" stop-color="#fcff03"/><stop offset="0.889" stop-color="#69ff96"/><stop offset="0.915" stop-color="#35ffca"/><stop offset="0.940" stop-color="#00fbff"/><stop offset="0.973" stop-color="#00c5ff"/><stop offset="1.000" stop-color="#00a6ff"/></linearGradient><linearGradient id="h244"><stop offset="0.000" stop-color="#003bff"/><stop offset="0.219" stop-color="#0045ff"/><stop offset="0.256" stop-color="#0058ff"/><stop offset="0.318" stop-color="#008aff"/><stop offset="0.351" stop-color="#00baff"/><stop offset="0.390" stop-color="#02fffd"/><stop offset="0.466" stop-color="#8bff74"/><stop offset="0.553" stop-color="#fffc00"/><stop offset="0.643" stop-color="#ff8b00"/><stop offset="0.693" stop-color="#ff8500"/><stop offset="0.732" stop-color="#ff9c00"/><stop offset="0.792" stop-color="#ffe800"/><stop offset="0.806" stop-color="#fdff02"/><stop offset="0.903" stop-color="#4affb5"/><stop offset="0.936" stop-color="#00fdff"/><stop offset="0.971" stop-color="#00c2ff"/><stop offset="1.000" stop-color="#00a1ff"/></linearGradient><linearGradient id="h245"><stop offset="0.000" stop-color="#003bff"/><stop offset="0.216" stop-color="#0045ff"/><stop offset="0.256" stop-color="#0059ff"/><stop offset="0.313" stop-color="#0087ff"/><stop offset="0.348" stop-color="#00b9ff"/><stop offset="0.390" stop-color="#04fffb"/><stop offset="0.462" stop-color="#86ff79"/><stop offset="0.551" stop-color="#fffd00"/><stop offset="0.641" stop-color="#ff8d00"/><stop offset="0.689" stop-color="#ff8500"/><stop offset="0.730" stop-color="#ff9b00"/><stop offset="0.792" stop-color="#ffea00"/><stop offset="0.806" stop-color="#faff05"/><stop offset="0.913" stop-color="#2dffd2"/><stop offset="0.934" stop-color="#00fbff"/><stop offset="0.971" stop-color="#00bcff"/><stop offset="1.000" stop-color="#009bff"/></linearGradient><linearGradient id="h246"><stop offset="0.000" stop-color="#003bff"/><stop offset="0.214" stop-color="#0044ff"/><stop offset="0.256" stop-color="#0059ff"/><stop offset="0.311" stop-color="#0087ff"/><stop offset="0.348" stop-color="#00bbff"/><stop offset="0.388" stop-color="#03fffc"/><stop offset="0.458" stop-color="#81ff7e"/><stop offset="0.551" stop-color="#fffb00"/><stop offset="0.637" stop-color="#ff9000"/><stop offset="0.680" stop-color="#ff8500"/><stop offset="0.718" stop-color="#ff9200"/><stop offset="0.786" stop-color="#ffe100"/><stop offset="0.804" stop-color="#fbff04"/><stop offset="0.913" stop-color="#26ffd9"/><stop offset="0.930" stop-color="#00feff"/><stop offset="0.955" stop-color="#00ceff"/><stop offset="0.998" stop-color="#0098ff"/><stop offset="1.000" stop-color="#0095ff"/></linearGradient><linearGradient id="h247"><stop offset="0.000" stop-color="#003bff"/><stop offset="0.212" stop-color="#0044ff"/><stop offset="0.258" stop-color="#005cff"/><stop offset="0.309" stop-color="#0086ff"/><stop offset="0.346" stop-color="#00b9ff"/><stop offset="0.386" stop-color="#02fffd"/><stop offset="0.456" stop-color="#7fff80"/><stop offset="0.548" stop-color="#fffc00"/><stop offset="0.633" stop-color="#ff9300"/><stop offset="0.656" stop-color="#ff8700"/><stop offset="0.699" stop-color="#ff8900"/><stop offset="0.732" stop-color="#ffa200"/><stop offset="0.790" stop-color="#ffeb00"/><stop offset="0.802" stop-color="#fcff03"/><stop offset="0.915" stop-color="#1bffe4"/><stop offset="0.928" stop-color="#00fcff"/><stop offset="0.948" stop-color="#00d2ff"/><stop offset="0.981" stop-color="#00a5ff"/><stop offset="1.000" stop-color="#0090ff"/></linearGradient><linearGradient id="h248"><stop offset="0.000" stop-color="#003bff"/><stop offset="0.212" stop-color="#0044ff"/><stop offset="0.262" stop-color="#005fff"/><stop offset="0.307" stop-color="#0085ff"/><stop offset="0.344" stop-color="#00b7ff"/><stop offset="0.373" stop-color="#00ecff"/><stop offset="0.386" stop-color="#05fffa"/><stop offset="0.454" stop-color="#7eff81"/><stop offset="0.546" stop-color="#fffd00"/><stop offset="0.631" stop-color="#ff9400"/><stop offset="0.654" stop-color="#ff8700"/><stop offset="0.697" stop-color="#ff8800"/><stop offset="0.732" stop-color="#ffa400"/><stop offset="0.790" stop-color="#ffed00"/><stop offset="0.802" stop-color="#faff05"/><stop offset="0.911" stop-color="#1effe1"/><stop offset="0.924" stop-color="#00ffff"/><stop offset="0.946" stop-color="#00cfff"/><stop offset="0.981" stop-color="#009fff"/><stop offset="1.000" stop-color="#008aff"/></linearGradient><linearGradient id="h249"><stop offset="0.000" stop-color="#003aff"/><stop offset="0.210" stop-color="#0043ff"/><stop offset="0.262" stop-color="#0060ff"/><stop offset="0.307" stop-color="#0086ff"/><stop offset="0.346" stop-color="#00bdff"/><stop offset="0.373" stop-color="#00efff"/><stop offset="0.384" stop-color="#04fffb"/><stop offset="0.452" stop-color="#7dff82"/><stop offset="0.546" stop-color="#fffb00"/><stop offset="0.629" stop-color="#ff9500"/><stop offset="0.654" stop-color="#ff8700"/><stop offset="0.697" stop-color="#ff8800"/><stop offset="0.730" stop-color="#ffa300"/><stop offset="0.790" stop-color="#fff000"/><stop offset="0.800" stop-color="#fbff04"/><stop offset="0.905" stop-color="#26ffd9"/><stop offset="0.922" stop-color="#00feff"/><stop offset="0.944" stop-color="#00cbff"/><stop offset="0.984" stop-color="#0097ff"/><stop offset="1.000" stop-color="#0085ff"/></linearGradient><linearGradient id="h250"><stop offset="0.000" stop-color="#003aff"/><stop offset="0.210" stop-color="#0043ff"/><stop offset="0.270" stop-color="#0067ff"/><stop offset="0.307" stop-color="#0087ff"/><stop offset="0.346" stop-color="#00bfff"/><stop offset="0.371" stop-color="#00efff"/><stop offset="0.381" stop-color="#03fffc"/><stop offset="0.449" stop-color="#7cff83"/><stop offset="0.544" stop-color="#fffc00"/><stop offset="0.627" stop-color="#ff9600"/><stop offset="0.654" stop-color="#ff8700"/><stop offset="0.697" stop-color="#ff8800"/><stop offset="0.730" stop-color="#ffa500"/><stop offset="0.790" stop-color="#fff200"/><stop offset="0.800" stop-color="#f9ff06"/><stop offset="0.866" stop-color="#72ff8d"/><stop offset="0.920" stop-color="#00fcff"/><stop offset="0.944" stop-color="#00c4ff"/><stop offset="0.986" stop-color="#008fff"/><stop offset="1.000" stop-color="#007fff"/></linearGradient><linearGradient id="h251"><stop offset="0.000" stop-color="#003aff"/><stop offset="0.210" stop-color="#0043ff"/><stop offset="0.280" stop-color="#006fff"/><stop offset="0.318" stop-color="#0095ff"/><stop offset="0.346" stop-color="#00c1ff"/><stop offset="0.371" stop-color="#00f2ff"/><stop offset="0.381" stop-color="#06fff9"/><stop offset="0.449" stop-color="#7eff81"/><stop offset="0.542" stop-color="#fffc00"/><stop offset="0.625" stop-color="#ff9700"/><stop offset="0.654" stop-color="#ff8700"/><stop offset="0.697" stop-color="#ff8900"/><stop offset="0.730" stop-color="#ffa700"/><stop offset="0.790" stop-color="#fff400"/><stop offset="0.798" stop-color="#faff05"/><stop offset="0.858" stop-color="#7fff80"/><stop offset="0.915" stop-color="#00ffff"/><stop offset="0.944" stop-color="#00bdff"/><stop offset="0.992" stop-color="#0083ff"/><stop offset="1.000" stop-color="#007aff"/></linearGradient><linearGradient id="h252"><stop offset="0.000" stop-color="#003aff"/><stop offset="0.208" stop-color="#0042ff"/><stop offset="0.287" stop-color="#0074ff"/><stop offset="0.340" stop-color="#00b6ff"/><stop offset="0.369" stop-color="#00f2ff"/><stop offset="0.379" stop-color="#05fffa"/><stop offset="0.447" stop-color="#7dff82"/><stop offset="0.540" stop-color="#fffd00"/><stop offset="0.625" stop-color="#ff9600"/><stop offset="0.654" stop-color="#ff8600"/><stop offset="0.697" stop-color="#ff8900"/><stop offset="0.730" stop-color="#ffa900"/><stop offset="0.790" stop-color="#fff600"/><stop offset="0.798" stop-color="#f8ff07"/><stop offset="0.856" stop-color="#80ff7f"/><stop offset="0.913" stop-color="#00feff"/><stop offset="0.942" stop-color="#00b9ff"/><stop offset="0.996" stop-color="#0079ff"/><stop offset="1.000" stop-color="#0074ff"/></linearGradient><linearGradient id="h253"><stop offset="0.000" stop-color="#003aff"/><stop offset="0.208" stop-color="#0042ff"/><stop offset="0.295" stop-color="#007bff"/><stop offset="0.344" stop-color="#00c0ff"/><stop offset="0.367" stop-color="#00f2ff"/><stop offset="0.377" stop-color="#04fffb"/><stop offset="0.447" stop-color="#7fff80"/><stop offset="0.538" stop-color="#fffe00"/><stop offset="0.623" stop-color="#ff9600"/><stop offset="0.654" stop-color="#ff8600"/><stop offset="0.695" stop-color="#ff8700"/><stop offset="0.728" stop-color="#ffa800"/><stop offset="0.790" stop-color="#fff900"/><stop offset="0.800" stop-color="#f1ff0e"/><stop offset="0.856" stop-color="#7cff83"/><stop offset="0.911" stop-color="#00fdff"/><stop offset="0.942" stop-color="#00b3ff"/><stop offset="1.000" stop-color="#006fff"/></linearGradient><linearGradient id="h254"><stop offset="0.000" stop-color="#003aff"/><stop offset="0.208" stop-color="#0042ff"/><stop offset="0.297" stop-color="#007fff"/><stop offset="0.344" stop-color="#00c2ff"/><stop offset="0.367" stop-color="#00f5ff"/><stop offset="0.375" stop-color="#03fffc"/><stop offset="0.447" stop-color="#81ff7e"/><stop offset="0.536" stop-color="#fffe00"/><stop offset="0.623" stop-color="#ff9500"/><stop offset="0.654" stop-color="#ff8600"/><stop offset="0.695" stop-color="#ff8800"/><stop offset="0.728" stop-color="#ffaa00"/><stop offset="0.790" stop-color="#fffb00"/><stop offset="0.847" stop-color="#8dff72"/><stop offset="0.909" stop-color="#00fbff"/><stop offset="0.942" stop-color="#00acff"/><stop offset="1.000" stop-color="#0069ff"/></linearGradient><linearGradient id="h255"><stop offset="0.000" stop-color="#0039ff"/><stop offset="0.208" stop-color="#0042ff"/><stop offset="0.299" stop-color="#0082ff"/><stop offset="0.344" stop-color="#00c4ff"/><stop offset="0.367" stop-color="#00f8ff"/><stop offset="0.375" stop-color="#06fff9"/><stop offset="0.445" stop-color="#80ff7f"/><stop offset="0.534" stop-color="#fffe00"/><stop offset="0.623" stop-color="#ff9300"/><stop offset="0.654" stop-color="#ff8600"/><stop offset="0.695" stop-color="#ff8800"/><stop offset="0.726" stop-color="#ffa900"/><stop offset="0.792" stop-color="#fdff02"/><stop offset="0.854" stop-color="#7aff85"/><stop offset="0.905" stop-color="#00ffff"/><stop offset="0.942" stop-color="#00a5ff"/><stop offset="1.000" stop-color="#0064ff"/></linearGradient><linearGradient id="h256"><stop offset="0.000" stop-color="#0039ff"/><stop offset="0.206" stop-color="#0041ff"/><stop offset="0.299" stop-color="#0083ff"/><stop offset="0.344" stop-color="#00c6ff"/><stop offset="0.367" stop-color="#00fbff"/><stop offset="0.390" stop-color="#24ffdb"/><stop offset="0.447" stop-color="#85ff7a"/><stop offset="0.511" stop-color="#e2ff1d"/><stop offset="0.534" stop-color="#fffc00"/><stop offset="0.621" stop-color="#ff9300"/><stop offset="0.654" stop-color="#ff8600"/><stop offset="0.695" stop-color="#ff8800"/><stop offset="0.726" stop-color="#ffab00"/><stop offset="0.790" stop-color="#feff01"/><stop offset="0.854" stop-color="#76ff89"/><stop offset="0.903" stop-color="#00feff"/><stop offset="0.942" stop-color="#009eff"/><stop offset="1.000" stop-color="#005eff"/></linearGradient><linearGradient id="h257"><stop offset="0.000" stop-color="#0039ff"/><stop offset="0.206" stop-color="#0041ff"/><stop offset="0.299" stop-color="#0084ff"/><stop offset="0.344" stop-color="#00c8ff"/><stop offset="0.367" stop-color="#00feff"/><stop offset="0.445" stop-color="#85ff7a"/><stop offset="0.505" stop-color="#daff25"/><stop offset="0.532" stop-color="#fffc00"/><stop offset="0.621" stop-color="#ff9200"/><stop offset="0.654" stop-color="#ff8500"/><stop offset="0.695" stop-color="#ff8800"/><stop offset="0.724" stop-color="#ffaa00"/><stop offset="0.761" stop-color="#ffdb00"/><stop offset="0.790" stop-color="#fcff03"/><stop offset="0.854" stop-color="#73ff8c"/><stop offset="0.901" stop-color="#00fdff"/><stop offset="0.942" stop-color="#0097ff"/><stop offset="1.000" stop-color="#0059ff"/></linearGradient><linearGradient id="h258"><stop offset="0.000" stop-color="#0039ff"/><stop offset="0.206" stop-color="#0041ff"/><stop offset="0.299" stop-color="#0085ff"/><stop offset="0.344" stop-color="#00caff"/><stop offset="0.365" stop-color="#00fdff"/><stop offset="0.445" stop-color="#87ff78"/><stop offset="0.501" stop-color="#d6ff29"/><stop offset="0.530" stop-color="#fffd00"/><stop offset="0.621" stop-color="#ff9000"/><stop offset="0.654" stop-color="#ff8500"/><stop offset="0.695" stop-color="#ff8800"/><stop offset="0.724" stop-color="#ffab00"/><stop offset="0.755" stop-color="#ffd600"/><stop offset="0.788" stop-color="#feff01"/><stop offset="0.852" stop-color="#74ff8b"/><stop offset="0.899" stop-color="#00fcff"/><stop offset="0.942" stop-color="#0090ff"/><stop offset="1.000" stop-color="#0053ff"/></linearGradient><linearGradient id="h259"><stop offset="0.000" stop-color="#0039ff"/><stop offset="0.206" stop-color="#0041ff"/><stop offset="0.299" stop-color="#0086ff"/><stop offset="0.344" stop-color="#00cbff"/><stop offset="0.365" stop-color="#01fffe"/><stop offset="0.445" stop-color="#89ff76"/><stop offset="0.499" stop-color="#d5ff2a"/><stop offset="0.528" stop-color="#fffd00"/><stop offset="0.621" stop-color="#ff8f00"/><stop offset="0.654" stop-color="#ff8500"/><stop offset="0.695" stop-color="#ff8800"/><stop offset="0.722" stop-color="#ffaa00"/><stop offset="0.751" stop-color="#ffd300"/><stop offset="0.788" stop-color="#fcff03"/><stop offset="0.852" stop-color="#71ff8e"/><stop offset="0.897" stop-color="#00fbff"/><stop offset="0.940" stop-color="#008bff"/><stop offset="1.000" stop-color="#004eff"/></linearGradient><linearGradient id="h260"><stop offset="0.000" stop-color="#0038ff"/><stop offset="0.206" stop-color="#0041ff"/><stop offset="0.299" stop-color="#0087ff"/><stop offset="0.344" stop-color="#00cdff"/><stop offset="0.363" stop-color="#00ffff"/><stop offset="0.443" stop-color="#89ff76"/><stop offset="0.497" stop-color="#d3ff2c"/><stop offset="0.526" stop-color="#fffd00"/><stop offset="0.621" stop-color="#ff8d00"/><stop offset="0.656" stop-color="#ff8500"/><stop offset="0.695" stop-color="#ff8900"/><stop offset="0.722" stop-color="#ffab00"/><stop offset="0.748" stop-color="#ffd300"/><stop offset="0.786" stop-color="#feff01"/><stop offset="0.852" stop-color="#6dff92"/><stop offset="0.893" stop-color="#01fffe"/><stop offset="0.940" stop-color="#0084ff"/><stop offset="1.000" stop-color="#0048ff"/></linearGradient><linearGradient id="h261"><stop offset="0.000" stop-color="#0038ff"/><stop offset="0.206" stop-color="#0041ff"/><stop offset="0.299" stop-color="#0088ff"/><stop offset="0.344" stop-color="#00d0ff"/><stop offset="0.361" stop-color="#00feff"/><stop offset="0.443" stop-color="#8bff74"/><stop offset="0.495" stop-color="#d2ff2d"/><stop offset="0.524" stop-color="#fffd00"/><stop offset="0.621" stop-color="#ff8c00"/><stop offset="0.656" stop-color="#ff8500"/><stop offset="0.695" stop-color="#ff8900"/><stop offset="0.722" stop-color="#ffad00"/><stop offset="0.746" stop-color="#ffd300"/><stop offset="0.786" stop-color="#fcff03"/><stop offset="0.852" stop-color="#6aff95"/><stop offset="0.891" stop-color="#01fffe"/><stop offset="0.940" stop-color="#007eff"/><stop offset="1.000" stop-color="#0043ff"/></linearGradient><linearGradient id="h262"><stop offset="0.000" stop-color="#0037ff"/><stop offset="0.206" stop-color="#0041ff"/><stop offset="0.299" stop-color="#008aff"/><stop offset="0.344" stop-color="#00d3ff"/><stop offset="0.361" stop-color="#02fffd"/><stop offset="0.443" stop-color="#8dff72"/><stop offset="0.495" stop-color="#d4ff2b"/><stop offset="0.524" stop-color="#fffc00"/><stop offset="0.621" stop-color="#ff8d00"/><stop offset="0.656" stop-color="#ff8500"/><stop offset="0.695" stop-color="#ff8b00"/><stop offset="0.722" stop-color="#ffae00"/><stop offset="0.748" stop-color="#ffd600"/><stop offset="0.784" stop-color="#feff01"/><stop offset="0.852" stop-color="#68ff97"/><stop offset="0.891" stop-color="#00fbff"/><stop offset="0.930" stop-color="#0091ff"/><stop offset="0.942" stop-color="#0076ff"/><stop offset="1.000" stop-color="#003fff"/></linearGradient><linearGradient id="h263"><stop offset="0.000" stop-color="#0036ff"/><stop offset="0.204" stop-color="#003fff"/><stop offset="0.297" stop-color="#008aff"/><stop offset="0.344" stop-color="#00d7ff"/><stop offset="0.359" stop-color="#00feff"/><stop offset="0.443" stop-color="#8fff70"/><stop offset="0.497" stop-color="#d9ff26"/><stop offset="0.522" stop-color="#fffd00"/><stop offset="0.621" stop-color="#ff8e00"/><stop offset="0.656" stop-color="#ff8500"/><stop offset="0.695" stop-color="#ff8d00"/><stop offset="0.722" stop-color="#ffb000"/><stop offset="0.748" stop-color="#ffd800"/><stop offset="0.784" stop-color="#fcff03"/><stop offset="0.852" stop-color="#66ff99"/><stop offset="0.889" stop-color="#00fdff"/><stop offset="0.911" stop-color="#00b8ff"/><stop offset="0.942" stop-color="#0071ff"/><stop offset="1.000" stop-color="#003cff"/></linearGradient><linearGradient id="h264"><stop offset="0.000" stop-color="#0036ff"/><stop offset="0.204" stop-color="#003eff"/><stop offset="0.295" stop-color="#0089ff"/><stop offset="0.344" stop-color="#00daff"/><stop offset="0.359" stop-color="#02fffd"/><stop offset="0.439" stop-color="#8cff73"/><stop offset="0.497" stop-color="#daff25"/><stop offset="0.522" stop-color="#fffc00"/><stop offset="0.621" stop-color="#ff8e00"/><stop offset="0.656" stop-color="#ff8600"/><stop offset="0.695" stop-color="#ff8e00"/><stop offset="0.724" stop-color="#ffb500"/><stop offset="0.753" stop-color="#ffde00"/><stop offset="0.781" stop-color="#fdff02"/><stop offset="0.847" stop-color="#6fff90"/><stop offset="0.887" stop-color="#00feff"/><stop offset="0.909" stop-color="#00b4ff"/><stop offset="0.942" stop-color="#006bff"/><stop offset="1.000" stop-color="#0038ff"/></linearGradient><linearGradient id="h265"><stop offset="0.000" stop-color="#0035ff"/><stop offset="0.204" stop-color="#003eff"/><stop offset="0.295" stop-color="#008bff"/><stop offset="0.344" stop-color="#00ddff"/><stop offset="0.357" stop-color="#00ffff"/><stop offset="0.423" stop-color="#74ff8b"/><stop offset="0.503" stop-color="#e6ff19"/><stop offset="0.522" stop-color="#fffb00"/><stop offset="0.621" stop-color="#ff8f00"/><stop offset="0.656" stop-color="#ff8600"/><stop offset="0.695" stop-color="#ff9000"/><stop offset="0.724" stop-color="#ffb600"/><stop offset="0.755" stop-color="#ffe100"/><stop offset="0.781" stop-color="#fbff04"/><stop offset="0.845" stop-color="#73ff8c"/><stop offset="0.880" stop-color="#10ffef"/><stop offset="0.887" stop-color="#00faff"/><stop offset="0.907" stop-color="#00b0ff"/><stop offset="0.942" stop-color="#0065ff"/><stop offset="1.000" stop-color="#0035ff"/></linearGradient><linearGradient id="h266"><stop offset="0.000" stop-color="#0034ff"/><stop offset="0.204" stop-color="#003dff"/><stop offset="0.293" stop-color="#008aff"/><stop offset="0.344" stop-color="#00e1ff"/><stop offset="0.357" stop-color="#03fffc"/><stop offset="0.414" stop-color="#69ff96"/><stop offset="0.462" stop-color="#acff53"/><stop offset="0.520" stop-color="#fffd00"/><stop offset="0.621" stop-color="#ff8f00"/><stop offset="0.656" stop-color="#ff8600"/><stop offset="0.695" stop-color="#ff9200"/><stop offset="0.724" stop-color="#ffb800"/><stop offset="0.757" stop-color="#ffe500"/><stop offset="0.779" stop-color="#fcff03"/><stop offset="0.843" stop-color="#76ff89"/><stop offset="0.878" stop-color="#13ffec"/><stop offset="0.885" stop-color="#00fdff"/><stop offset="0.907" stop-color="#00a7ff"/><stop offset="0.942" stop-color="#0060ff"/><stop offset="1.000" stop-color="#0031ff"/></linearGradient><linearGradient id="h267"><stop offset="0.000" stop-color="#0033ff"/><stop offset="0.204" stop-color="#003dff"/><stop offset="0.287" stop-color="#0086ff"/><stop offset="0.344" stop-color="#00e4ff"/><stop offset="0.355" stop-color="#00ffff"/><stop offset="0.381" stop-color="#36ffc9"/><stop offset="0.447" stop-color="#9cff63"/><stop offset="0.507" stop-color="#efff10"/><stop offset="0.520" stop-color="#fffc00"/><stop offset="0.621" stop-color="#ff9000"/><stop offset="0.656" stop-color="#ff8700"/><stop offset="0.695" stop-color="#ff9400"/><stop offset="0.726" stop-color="#ffbc00"/><stop offset="0.777" stop-color="#fdff02"/><stop offset="0.812" stop-color="#b9ff46"/><stop offset="0.854" stop-color="#59ffa6"/><stop offset="0.878" stop-color="#10ffef"/><stop offset="0.885" stop-color="#00f9ff"/><stop offset="0.907" stop-color="#009fff"/><stop offset="0.942" stop-color="#005aff"/><stop offset="1.000" stop-color="#002eff"/></linearGradient><linearGradient id="h268"><stop offset="0.000" stop-color="#0033ff"/><stop offset="0.204" stop-color="#003cff"/><stop offset="0.285" stop-color="#0085ff"/><stop offset="0.340" stop-color="#00dfff"/><stop offset="0.355" stop-color="#04fffb"/><stop offset="0.388" stop-color="#43ffbc"/><stop offset="0.452" stop-color="#a3ff5c"/><stop offset="0.518" stop-color="#fffe00"/><stop offset="0.621" stop-color="#ff9100"/><stop offset="0.656" stop-color="#ff8700"/><stop offset="0.697" stop-color="#ff9800"/><stop offset="0.728" stop-color="#ffc100"/><stop offset="0.777" stop-color="#fbff04"/><stop offset="0.821" stop-color="#a6ff59"/><stop offset="0.858" stop-color="#4cffb3"/><stop offset="0.876" stop-color="#15ffea"/><stop offset="0.882" stop-color="#00fdff"/><stop offset="0.899" stop-color="#00b8ff"/><stop offset="0.907" stop-color="#0096ff"/><stop offset="0.942" stop-color="#0055ff"/><stop offset="1.000" stop-color="#002aff"/></linearGradient><linearGradient id="h269"><stop offset="0.000" stop-color="#0032ff"/><stop offset="0.204" stop-color="#003cff"/><stop offset="0.280" stop-color="#0082ff"/><stop offset="0.309" stop-color="#00aeff"/><stop offset="0.346" stop-color="#00f1ff"/><stop offset="0.355" stop-color="#07fff8"/><stop offset="0.390" stop-color="#4affb5"/><stop offset="0.456" stop-color="#aaff55"/><stop offset="0.518" stop-color="#fffc00"/><stop offset="0.619" stop-color="#ff9200"/><stop offset="0.656" stop-color="#ff8700"/><stop offset="0.697" stop-color="#ff9900"/><stop offset="0.728" stop-color="#ffc300"/><stop offset="0.775" stop-color="#fdff02"/><stop offset="0.804" stop-color="#c7ff38"/><stop offset="0.847" stop-color="#66ff99"/><stop offset="0.874" stop-color="#1affe5"/><stop offset="0.880" stop-color="#02fffd"/><stop offset="0.895" stop-color="#00c6ff"/><stop offset="0.905" stop-color="#0092ff"/><stop offset="0.942" stop-color="#004fff"/><stop offset="1.000" stop-color="#0026ff"/></linearGradient><linearGradient id="h270"><stop offset="0.000" stop-color="#0031ff"/><stop offset="0.204" stop-color="#003bff"/><stop offset="0.280" stop-color="#0083ff"/><stop offset="0.311" stop-color="#00b5ff"/><stop offset="0.346" stop-color="#00f4ff"/><stop offset="0.353" stop-color="#05fffa"/><stop offset="0.379" stop-color="#3bffc4"/><stop offset="0.449" stop-color="#a4ff5b"/><stop offset="0.518" stop-color="#fffb00"/><stop offset="0.616" stop-color="#ff9400"/><stop offset="0.656" stop-color="#ff8800"/><stop offset="0.697" stop-color="#ff9b00"/><stop offset="0.730" stop-color="#ffc700"/><stop offset="0.775" stop-color="#fbff04"/><stop offset="0.808" stop-color="#bdff42"/><stop offset="0.847" stop-color="#64ff9b"/><stop offset="0.874" stop-color="#18ffe7"/><stop offset="0.880" stop-color="#00feff"/><stop offset="0.895" stop-color="#00c0ff"/><stop offset="0.905" stop-color="#0089ff"/><stop offset="0.942" stop-color="#004aff"/><stop offset="1.000" stop-color="#0023ff"/></linearGradient><linearGradient id="h271"><stop offset="0.000" stop-color="#0030ff"/><stop offset="0.204" stop-color="#003aff"/><stop offset="0.278" stop-color="#0082ff"/><stop offset="0.309" stop-color="#00b4ff"/><stop offset="0.351" stop-color="#03fffc"/><stop offset="0.375" stop-color="#36ffc9"/><stop offset="0.447" stop-color="#a4ff5b"/><stop offset="0.515" stop-color="#fffd00"/><stop offset="0.590" stop-color="#ffae00"/><stop offset="0.627" stop-color="#ff8f00"/><stop offset="0.658" stop-color="#ff8900"/><stop offset="0.697" stop-color="#ff9d00"/><stop offset="0.732" stop-color="#ffcc00"/><stop offset="0.773" stop-color="#fcff03"/><stop offset="0.804" stop-color="#c4ff3b"/><stop offset="0.843" stop-color="#6dff92"/><stop offset="0.874" stop-color="#15ffea"/><stop offset="0.880" stop-color="#00fbff"/><stop offset="0.895" stop-color="#00baff"/><stop offset="0.905" stop-color="#0080ff"/><stop offset="0.942" stop-color="#0044ff"/><stop offset="1.000" stop-color="#001fff"/></linearGradient><linearGradient id="h272"><stop offset="0.000" stop-color="#002fff"/><stop offset="0.204" stop-color="#003aff"/><stop offset="0.276" stop-color="#0081ff"/><stop offset="0.309" stop-color="#00b6ff"/><stop offset="0.348" stop-color="#01fffe"/><stop offset="0.373" stop-color="#36ffc9"/><stop offset="0.435" stop-color="#96ff69"/><stop offset="0.515" stop-color="#fffb00"/><stop offset="0.581" stop-color="#ffb600"/><stop offset="0.627" stop-color="#ff9000"/><stop offset="0.658" stop-color="#ff8900"/><stop offset="0.699" stop-color="#ffa100"/><stop offset="0.771" stop-color="#feff01"/><stop offset="0.802" stop-color="#c6ff39"/><stop offset="0.843" stop-color="#6bff94"/><stop offset="0.874" stop-color="#13ffec"/><stop offset="0.878" stop-color="#01fffe"/><stop offset="0.893" stop-color="#00c0ff"/><stop offset="0.905" stop-color="#0077ff"/><stop offset="0.942" stop-color="#003fff"/><stop offset="1.000" stop-color="#001cff"/></linearGradient><linearGradient id="h273"><stop offset="0.000" stop-color="#002fff"/><stop offset="0.204" stop-color="#0039ff"/><stop offset="0.276" stop-color="#0082ff"/><stop offset="0.311" stop-color="#00bdff"/><stop offset="0.346" stop-color="#00feff"/><stop offset="0.375" stop-color="#3cffc3"/><stop offset="0.437" stop-color="#9bff64"/><stop offset="0.513" stop-color="#fffd00"/><stop offset="0.571" stop-color="#ffc000"/><stop offset="0.627" stop-color="#ff9000"/><stop offset="0.656" stop-color="#ff8900"/><stop offset="0.699" stop-color="#ffa300"/><stop offset="0.771" stop-color="#fcff03"/><stop offset="0.804" stop-color="#c0ff3f"/><stop offset="0.841" stop-color="#6fff90"/><stop offset="0.874" stop-color="#11ffee"/><stop offset="0.878" stop-color="#00fdff"/><stop offset="0.893" stop-color="#00bbff"/><stop offset="0.905" stop-color="#006fff"/><stop offset="0.944" stop-color="#0038ff"/><stop offset="1.000" stop-color="#0018ff"/></linearGradient><linearGradient id="h274"><stop offset="0.000" stop-color="#002eff"/><stop offset="0.204" stop-color="#0039ff"/><stop offset="0.276" stop-color="#0083ff"/><stop offset="0.313" stop-color="#00c4ff"/><stop offset="0.346" stop-color="#03fffc"/><stop offset="0.375" stop-color="#3fffc0"/><stop offset="0.431" stop-color="#94ff6b"/><stop offset="0.513" stop-color="#fffc00"/><stop offset="0.569" stop-color="#ffc100"/><stop offset="0.627" stop-color="#ff9100"/><stop offset="0.656" stop-color="#ff8900"/><stop offset="0.699" stop-color="#ffa400"/><stop offset="0.771" stop-color="#fbff04"/><stop offset="0.808" stop-color="#b6ff49"/><stop offset="0.841" stop-color="#6dff92"/><stop offset="0.872" stop-color="#18ffe7"/><stop offset="0.878" stop-color="#00faff"/><stop offset="0.893" stop-color="#00b6ff"/><stop offset="0.905" stop-color="#0066ff"/><stop offset="0.944" stop-color="#0032ff"/><stop offset="1.000" stop-color="#0014ff"/></linearGradient><linearGradient id="h275"><stop offset="0.000" stop-color="#002dff"/><stop offset="0.204" stop-color="#0038ff"/><stop offset="0.274" stop-color="#0081ff"/><stop offset="0.313" stop-color="#00c7ff"/><stop offset="0.344" stop-color="#01fffe"/><stop offset="0.375" stop-color="#42ffbd"/><stop offset="0.421" stop-color="#88ff77"/><stop offset="0.511" stop-color="#fffd00"/><stop offset="0.565" stop-color="#ffc400"/><stop offset="0.629" stop-color="#ff9100"/><stop offset="0.656" stop-color="#ff8a00"/><stop offset="0.701" stop-color="#ffa800"/><stop offset="0.769" stop-color="#fdff02"/><stop offset="0.808" stop-color="#b5ff4a"/><stop offset="0.839" stop-color="#70ff8f"/><stop offset="0.872" stop-color="#16ffe9"/><stop offset="0.876" stop-color="#02fffd"/><stop offset="0.893" stop-color="#00b0ff"/><stop offset="0.905" stop-color="#005dff"/><stop offset="0.944" stop-color="#002dff"/><stop offset="1.000" stop-color="#0011ff"/></linearGradient><linearGradient id="h276"><stop offset="0.000" stop-color="#002cff"/><stop offset="0.204" stop-color="#0038ff"/><stop offset="0.274" stop-color="#0082ff"/><stop offset="0.315" stop-color="#00ceff"/><stop offset="0.342" stop-color="#00ffff"/><stop offset="0.377" stop-color="#49ffb6"/><stop offset="0.429" stop-color="#96ff69"/><stop offset="0.511" stop-color="#fffc00"/><stop offset="0.565" stop-color="#ffc300"/><stop offset="0.631" stop-color="#ff9000"/><stop offset="0.656" stop-color="#ff8a00"/><stop offset="0.701" stop-color="#ffaa00"/><stop offset="0.769" stop-color="#fbff04"/><stop offset="0.814" stop-color="#a7ff58"/><stop offset="0.843" stop-color="#64ff9b"/><stop offset="0.872" stop-color="#13ffec"/><stop offset="0.876" stop-color="#00feff"/><stop offset="0.893" stop-color="#00abff"/><stop offset="0.905" stop-color="#0054ff"/><stop offset="0.944" stop-color="#0028ff"/><stop offset="1.000" stop-color="#000dff"/></linearGradient><linearGradient id="h277"><stop offset="0.000" stop-color="#002bff"/><stop offset="0.204" stop-color="#0037ff"/><stop offset="0.274" stop-color="#0083ff"/><stop offset="0.318" stop-color="#00d6ff"/><stop offset="0.342" stop-color="#04fffb"/><stop offset="0.381" stop-color="#53ffac"/><stop offset="0.480" stop-color="#daff25"/><stop offset="0.509" stop-color="#fffd00"/><stop offset="0.563" stop-color="#ffc400"/><stop offset="0.633" stop-color="#ff8f00"/><stop offset="0.656" stop-color="#ff8a00"/><stop offset="0.703" stop-color="#ffae00"/><stop offset="0.767" stop-color="#fdff02"/><stop offset="0.816" stop-color="#a1ff5e"/><stop offset="0.845" stop-color="#5dffa2"/><stop offset="0.872" stop-color="#11ffee"/><stop offset="0.876" stop-color="#00fcff"/><stop offset="0.893" stop-color="#00a6ff"/><stop offset="0.905" stop-color="#004bff"/><stop offset="0.944" stop-color="#0022ff"/><stop offset="1.000" stop-color="#000aff"/></linearGradient><linearGradient id="h278"><stop offset="0.000" stop-color="#002bff"/><stop offset="0.204" stop-color="#0037ff"/><stop offset="0.274" stop-color="#0084ff"/><stop offset="0.320" stop-color="#00ddff"/><stop offset="0.340" stop-color="#03fffc"/><stop offset="0.388" stop-color="#62ff9d"/><stop offset="0.509" stop-color="#fffb00"/><stop offset="0.563" stop-color="#ffc400"/><stop offset="0.635" stop-color="#ff8f00"/><stop offset="0.656" stop-color="#ff8b00"/><stop offset="0.705" stop-color="#ffb200"/><stop offset="0.767" stop-color="#fcff03"/><stop offset="0.825" stop-color="#8fff70"/><stop offset="0.872" stop-color="#0ffff0"/><stop offset="0.876" stop-color="#00f9ff"/><stop offset="0.893" stop-color="#00a0ff"/><stop offset="0.905" stop-color="#0042ff"/><stop offset="0.946" stop-color="#001cff"/><stop offset="1.000" stop-color="#0006ff"/></linearGradient><linearGradient id="h279"><stop offset="0.000" stop-color="#002aff"/><stop offset="0.204" stop-color="#0036ff"/><stop offset="0.272" stop-color="#0081ff"/><stop offset="0.320" stop-color="#00e1ff"/><stop offset="0.338" stop-color="#03fffc"/><stop offset="0.392" stop-color="#6bff94"/><stop offset="0.507" stop-color="#fffd00"/><stop offset="0.561" stop-color="#ffc500"/><stop offset="0.639" stop-color="#ff8d00"/><stop offset="0.656" stop-color="#ff8b00"/><stop offset="0.707" stop-color="#ffb600"/><stop offset="0.765" stop-color="#feff01"/><stop offset="0.827" stop-color="#8aff75"/><stop offset="0.872" stop-color="#0dfff2"/><stop offset="0.874" stop-color="#02fffd"/><stop offset="0.893" stop-color="#009bff"/><stop offset="0.905" stop-color="#0039ff"/><stop offset="0.946" stop-color="#0016ff"/><stop offset="1.000" stop-color="#0003ff"/></linearGradient><linearGradient id="h280"><stop offset="0.000" stop-color="#0029ff"/><stop offset="0.204" stop-color="#0036ff"/><stop offset="0.272" stop-color="#0082ff"/><stop offset="0.334" stop-color="#00feff"/><stop offset="0.394" stop-color="#71ff8e"/><stop offset="0.505" stop-color="#fffe00"/><stop offset="0.561" stop-color="#ffc400"/><stop offset="0.641" stop-color="#ff8d00"/><stop offset="0.656" stop-color="#ff8b00"/><stop offset="0.711" stop-color="#ffbc00"/><stop offset="0.765" stop-color="#fcff03"/><stop offset="0.829" stop-color="#83ff7c"/><stop offset="0.872" stop-color="#0bfff4"/><stop offset="0.874" stop-color="#00ffff"/><stop offset="0.893" stop-color="#0096ff"/><stop offset="0.905" stop-color="#0031ff"/><stop offset="0.948" stop-color="#0010ff"/><stop offset="1.000" stop-color="#0000fe"/></linearGradient><linearGradient id="h281"><stop offset="0.000" stop-color="#0028ff"/><stop offset="0.204" stop-color="#0035ff"/><stop offset="0.272" stop-color="#0083ff"/><stop offset="0.332" stop-color="#00feff"/><stop offset="0.396" stop-color="#76ff89"/><stop offset="0.505" stop-color="#fffc00"/><stop offset="0.559" stop-color="#ffc500"/><stop offset="0.645" stop-color="#ff8b00"/><stop offset="0.658" stop-color="#ff8d00"/><stop offset="0.715" stop-color="#ffc300"/><stop offset="0.765" stop-color="#fbff04"/><stop offset="0.831" stop-color="#7cff83"/><stop offset="0.872" stop-color="#09fff6"/><stop offset="0.874" stop-color="#00fcff"/><stop offset="0.893" stop-color="#0090ff"/><stop offset="0.905" stop-color="#0028ff"/><stop offset="0.951" stop-color="#000aff"/><stop offset="1.000" stop-color="#0000fa"/></linearGradient><linearGradient id="h282"><stop offset="0.000" stop-color="#0028ff"/><stop offset="0.204" stop-color="#0035ff"/><stop offset="0.272" stop-color="#0084ff"/><stop offset="0.330" stop-color="#00feff"/><stop offset="0.396" stop-color="#79ff86"/><stop offset="0.503" stop-color="#fffd00"/><stop offset="0.559" stop-color="#ffc400"/><stop offset="0.652" stop-color="#ff8900"/><stop offset="0.715" stop-color="#ffc400"/><stop offset="0.763" stop-color="#fdff02"/><stop offset="0.831" stop-color="#7aff85"/><stop offset="0.872" stop-color="#07fff8"/><stop offset="0.876" stop-color="#00eeff"/><stop offset="0.893" stop-color="#008bff"/><stop offset="0.905" stop-color="#001fff"/><stop offset="0.953" stop-color="#0004ff"/><stop offset="1.000" stop-color="#0000f7"/></linearGradient><linearGradient id="h283"><stop offset="0.000" stop-color="#0027ff"/><stop offset="0.204" stop-color="#0034ff"/><stop offset="0.272" stop-color="#0085ff"/><stop offset="0.328" stop-color="#00feff"/><stop offset="0.396" stop-color="#7cff83"/><stop offset="0.501" stop-color="#fffe00"/><stop offset="0.559" stop-color="#ffc300"/><stop offset="0.652" stop-color="#ff8900"/><stop offset="0.720" stop-color="#ffcb00"/><stop offset="0.763" stop-color="#fcff03"/><stop offset="0.831" stop-color="#79ff86"/><stop offset="0.872" stop-color="#05fffa"/><stop offset="0.882" stop-color="#00c7ff"/><stop offset="0.893" stop-color="#0086ff"/><stop offset="0.905" stop-color="#0016ff"/><stop offset="0.953" stop-color="#0000fe"/><stop offset="1.000" stop-color="#0000f3"/></linearGradient><linearGradient id="h284"><stop offset="0.000" stop-color="#0026ff"/><stop offset="0.204" stop-color="#0034ff"/><stop offset="0.272" stop-color="#0086ff"/><stop offset="0.326" stop-color="#00fdff"/><stop offset="0.396" stop-color="#7fff80"/><stop offset="0.501" stop-color="#fffc00"/><stop offset="0.559" stop-color="#ffc200"/><stop offset="0.654" stop-color="#ff8b00"/><stop offset="0.728" stop-color="#ffd700"/><stop offset="0.763" stop-color="#fbff04"/><stop offset="0.831" stop-color="#77ff88"/><stop offset="0.872" stop-color="#03fffc"/><stop offset="0.891" stop-color="#0091ff"/><stop offset="0.905" stop-color="#000dff"/><stop offset="0.940" stop-color="#0000fc"/><stop offset="1.000" stop-color="#0000f0"/></linearGradient><linearGradient id="h285"><stop offset="0.000" stop-color="#0025ff"/><stop offset="0.204" stop-color="#0033ff"/><stop offset="0.272" stop-color="#0087ff"/><stop offset="0.326" stop-color="#02fffd"/><stop offset="0.394" stop-color="#7fff80"/><stop offset="0.499" stop-color="#fffd00"/><stop offset="0.557" stop-color="#ffc300"/><stop offset="0.654" stop-color="#ff8b00"/><stop offset="0.738" stop-color="#ffe500"/><stop offset="0.761" stop-color="#fdff02"/><stop offset="0.831" stop-color="#76ff89"/><stop offset="0.872" stop-color="#01fffe"/><stop offset="0.891" stop-color="#008dff"/><stop offset="0.905" stop-color="#0004ff"/><stop offset="0.988" stop-color="#0000ee"/><stop offset="1.000" stop-color="#0000ec"/></linearGradient><linearGradient id="h286"><stop offset="0.000" stop-color="#0024ff"/><stop offset="0.202" stop-color="#0030ff"/><stop offset="0.272" stop-color="#0088ff"/><stop offset="0.324" stop-color="#01fffe"/><stop offset="0.394" stop-color="#82ff7d"/><stop offset="0.497" stop-color="#fffd00"/><stop offset="0.557" stop-color="#ffc200"/><stop offset="0.654" stop-color="#ff8b00"/><stop offset="0.753" stop-color="#fff700"/><stop offset="0.763" stop-color="#f8ff07"/><stop offset="0.831" stop-color="#74ff8b"/><stop offset="0.872" stop-color="#00feff"/><stop offset="0.891" stop-color="#0088ff"/><stop offset="0.905" stop-color="#0000fa"/><stop offset="1.000" stop-color="#0000e8"/></linearGradient><linearGradient id="h287"><stop offset="0.000" stop-color="#0024ff"/><stop offset="0.202" stop-color="#0030ff"/><stop offset="0.270" stop-color="#0084ff"/><stop offset="0.322" stop-color="#00ffff"/><stop offset="0.394" stop-color="#85ff7a"/><stop offset="0.491" stop-color="#fbff04"/><stop offset="0.559" stop-color="#ffc000"/><stop offset="0.654" stop-color="#ff8b00"/><stop offset="0.761" stop-color="#fbff04"/><stop offset="0.831" stop-color="#73ff8c"/><stop offset="0.872" stop-color="#00fcff"/><stop offset="0.891" stop-color="#0085ff"/><stop offset="0.903" stop-color="#000aff"/><stop offset="0.905" stop-color="#0000f4"/><stop offset="0.965" stop-color="#0000e9"/><stop offset="1.000" stop-color="#0000e5"/></linearGradient><linearGradient id="h288"><stop offset="0.000" stop-color="#0023ff"/><stop offset="0.202" stop-color="#0030ff"/><stop offset="0.270" stop-color="#0086ff"/><stop offset="0.322" stop-color="#02fffd"/><stop offset="0.394" stop-color="#86ff79"/><stop offset="0.491" stop-color="#fbff04"/><stop offset="0.559" stop-color="#ffbf00"/><stop offset="0.654" stop-color="#ff8900"/><stop offset="0.744" stop-color="#ffed00"/><stop offset="0.761" stop-color="#fcff03"/><stop offset="0.831" stop-color="#74ff8b"/><stop offset="0.872" stop-color="#00feff"/><stop offset="0.891" stop-color="#0088ff"/><stop offset="0.903" stop-color="#000dff"/><stop offset="0.905" stop-color="#0000f6"/><stop offset="0.918" stop-color="#0000ed"/><stop offset="1.000" stop-color="#0000e5"/></linearGradient><linearGradient id="h289"><stop offset="0.000" stop-color="#0023ff"/><stop offset="0.202" stop-color="#0030ff"/><stop offset="0.270" stop-color="#0087ff"/><stop offset="0.320" stop-color="#00feff"/><stop offset="0.394" stop-color="#87ff78"/><stop offset="0.491" stop-color="#fcff03"/><stop offset="0.559" stop-color="#ffbd00"/><stop offset="0.654" stop-color="#ff8600"/><stop offset="0.732" stop-color="#ffdd00"/><stop offset="0.761" stop-color="#fcff03"/><stop offset="0.831" stop-color="#75ff8a"/><stop offset="0.872" stop-color="#00ffff"/><stop offset="0.891" stop-color="#008bff"/><stop offset="0.903" stop-color="#0010ff"/><stop offset="0.905" stop-color="#0000f9"/><stop offset="0.913" stop-color="#0000ed"/><stop offset="1.000" stop-color="#0000e4"/></linearGradient><linearGradient id="h290"><stop offset="0.000" stop-color="#0023ff"/><stop offset="0.202" stop-color="#0030ff"/><stop offset="0.270" stop-color="#0089ff"/><stop offset="0.320" stop-color="#01fffe"/><stop offset="0.392" stop-color="#85ff7a"/><stop offset="0.489" stop-color="#f9ff06"/><stop offset="0.503" stop-color="#fff300"/><stop offset="0.559" stop-color="#ffbc00"/><stop offset="0.654" stop-color="#ff8400"/><stop offset="0.726" stop-color="#ffd300"/><stop offset="0.761" stop-color="#fdff02"/><stop offset="0.831" stop-color="#76ff89"/><stop offset="0.872" stop-color="#02fffd"/><stop offset="0.891" stop-color="#008eff"/><stop offset="0.905" stop-color="#0000fb"/><stop offset="0.913" stop-color="#0000ec"/><stop offset="1.000" stop-color="#0000e3"/></linearGradient><linearGradient id="h291"><stop offset="0.000" stop-color="#0022ff"/><stop offset="0.202" stop-color="#0030ff"/><stop offset="0.270" stop-color="#008bff"/><stop offset="0.320" stop-color="#03fffc"/><stop offset="0.390" stop-color="#84ff7b"/><stop offset="0.487" stop-color="#f7ff08"/><stop offset="0.497" stop-color="#fffa00"/><stop offset="0.557" stop-color="#ffbc00"/><stop offset="0.654" stop-color="#ff8200"/><stop offset="0.722" stop-color="#ffcc00"/><stop offset="0.761" stop-color="#fdff02"/><stop offset="0.831" stop-color="#77ff88"/><stop offset="0.872" stop-color="#03fffc"/><stop offset="0.889" stop-color="#009fff"/><stop offset="0.895" stop-color="#006aff"/><stop offset="0.905" stop-color="#0000fe"/><stop offset="0.911" stop-color="#0000ec"/><stop offset="1.000" stop-color="#0000e2"/></linearGradient><linearGradient id="h292"><stop offset="0.000" stop-color="#0022ff"/><stop offset="0.200" stop-color="#002eff"/><stop offset="0.268" stop-color="#0087ff"/><stop offset="0.318" stop-color="#01fffe"/><stop offset="0.388" stop-color="#82ff7d"/><stop offset="0.495" stop-color="#fffc00"/><stop offset="0.557" stop-color="#ffbb00"/><stop offset="0.654" stop-color="#ff8000"/><stop offset="0.720" stop-color="#ffc700"/><stop offset="0.761" stop-color="#feff01"/><stop offset="0.831" stop-color="#78ff87"/><stop offset="0.872" stop-color="#05fffa"/><stop offset="0.882" stop-color="#00c9ff"/><stop offset="0.891" stop-color="#0094ff"/><stop offset="0.903" stop-color="#0018ff"/><stop offset="0.905" stop-color="#0001ff"/><stop offset="0.911" stop-color="#0000eb"/><stop offset="1.000" stop-color="#0000e2"/></linearGradient><linearGradient id="h293"><stop offset="0.000" stop-color="#0021ff"/><stop offset="0.200" stop-color="#002eff"/><stop offset="0.268" stop-color="#0089ff"/><stop offset="0.315" stop-color="#00fdff"/><stop offset="0.384" stop-color="#7cff83"/><stop offset="0.495" stop-color="#fffc00"/><stop offset="0.559" stop-color="#ffb900"/><stop offset="0.654" stop-color="#ff7d00"/><stop offset="0.718" stop-color="#ffc200"/><stop offset="0.761" stop-color="#feff01"/><stop offset="0.831" stop-color="#79ff86"/><stop offset="0.872" stop-color="#06fff9"/><stop offset="0.876" stop-color="#00eeff"/><stop offset="0.889" stop-color="#00a5ff"/><stop offset="0.897" stop-color="#005cff"/><stop offset="0.905" stop-color="#0004ff"/><stop offset="0.911" stop-color="#0000ea"/><stop offset="1.000" stop-color="#0000e1"/></linearGradient><linearGradient id="h294"><stop offset="0.000" stop-color="#0021ff"/><stop offset="0.200" stop-color="#002eff"/><stop offset="0.266" stop-color="#0087ff"/><stop offset="0.315" stop-color="#00ffff"/><stop offset="0.377" stop-color="#73ff8c"/><stop offset="0.408" stop-color="#9bff64"/><stop offset="0.495" stop-color="#fffb00"/><stop offset="0.557" stop-color="#ffb900"/><stop offset="0.654" stop-color="#ff7b00"/><stop offset="0.715" stop-color="#ffbd00"/><stop offset="0.761" stop-color="#feff01"/><stop offset="0.833" stop-color="#75ff8a"/><stop offset="0.874" stop-color="#00fcff"/><stop offset="0.889" stop-color="#00a9ff"/><stop offset="0.897" stop-color="#005fff"/><stop offset="0.905" stop-color="#0006ff"/><stop offset="0.911" stop-color="#0000ea"/><stop offset="1.000" stop-color="#0000e0"/></linearGradient><linearGradient id="h295"><stop offset="0.000" stop-color="#0021ff"/><stop offset="0.200" stop-color="#002eff"/><stop offset="0.264" stop-color="#0085ff"/><stop offset="0.291" stop-color="#00c8ff"/><stop offset="0.315" stop-color="#02fffd"/><stop offset="0.375" stop-color="#71ff8e"/><stop offset="0.406" stop-color="#99ff66"/><stop offset="0.493" stop-color="#fffd00"/><stop offset="0.553" stop-color="#ffbb00"/><stop offset="0.654" stop-color="#ff7900"/><stop offset="0.713" stop-color="#ffb800"/><stop offset="0.763" stop-color="#fbff04"/><stop offset="0.833" stop-color="#76ff89"/><stop offset="0.872" stop-color="#09fff6"/><stop offset="0.874" stop-color="#00feff"/><stop offset="0.887" stop-color="#00bbff"/><stop offset="0.893" stop-color="#008aff"/><stop offset="0.903" stop-color="#0020ff"/><stop offset="0.905" stop-color="#0008ff"/><stop offset="0.907" stop-color="#0000fb"/><stop offset="0.911" stop-color="#0000e9"/><stop offset="1.000" stop-color="#0000df"/></linearGradient><linearGradient id="h296"><stop offset="0.000" stop-color="#0020ff"/><stop offset="0.200" stop-color="#002eff"/><stop offset="0.264" stop-color="#0086ff"/><stop offset="0.291" stop-color="#00caff"/><stop offset="0.313" stop-color="#00ffff"/><stop offset="0.373" stop-color="#70ff8f"/><stop offset="0.406" stop-color="#9aff65"/><stop offset="0.493" stop-color="#fffd00"/><stop offset="0.553" stop-color="#ffb900"/><stop offset="0.654" stop-color="#ff7600"/><stop offset="0.713" stop-color="#ffb600"/><stop offset="0.763" stop-color="#fbff04"/><stop offset="0.833" stop-color="#77ff88"/><stop offset="0.872" stop-color="#0bfff4"/><stop offset="0.874" stop-color="#00ffff"/><stop offset="0.887" stop-color="#00beff"/><stop offset="0.893" stop-color="#008dff"/><stop offset="0.903" stop-color="#0023ff"/><stop offset="0.905" stop-color="#000bff"/><stop offset="0.907" stop-color="#0000fd"/><stop offset="0.911" stop-color="#0000e8"/><stop offset="1.000" stop-color="#0000de"/></linearGradient><linearGradient id="h297"><stop offset="0.000" stop-color="#0020ff"/><stop offset="0.198" stop-color="#002dff"/><stop offset="0.262" stop-color="#0083ff"/><stop offset="0.287" stop-color="#00c0ff"/><stop offset="0.311" stop-color="#00fcff"/><stop offset="0.373" stop-color="#71ff8e"/><stop offset="0.408" stop-color="#9dff62"/><stop offset="0.493" stop-color="#fffd00"/><stop offset="0.551" stop-color="#ffba00"/><stop offset="0.654" stop-color="#ff7400"/><stop offset="0.713" stop-color="#ffb400"/><stop offset="0.763" stop-color="#fcff03"/><stop offset="0.833" stop-color="#78ff87"/><stop offset="0.872" stop-color="#0cfff3"/><stop offset="0.874" stop-color="#02fffd"/><stop offset="0.887" stop-color="#00c2ff"/><stop offset="0.895" stop-color="#007cff"/><stop offset="0.903" stop-color="#0026ff"/><stop offset="0.905" stop-color="#000dff"/><stop offset="0.907" stop-color="#0000fe"/><stop offset="0.911" stop-color="#0000e7"/><stop offset="1.000" stop-color="#0000de"/></linearGradient><linearGradient id="h298"><stop offset="0.000" stop-color="#001fff"/><stop offset="0.198" stop-color="#002dff"/><stop offset="0.260" stop-color="#0081ff"/><stop offset="0.282" stop-color="#00b6ff"/><stop offset="0.301" stop-color="#00e8ff"/><stop offset="0.313" stop-color="#04fffb"/><stop offset="0.371" stop-color="#70ff8f"/><stop offset="0.408" stop-color="#9eff61"/><stop offset="0.493" stop-color="#fffc00"/><stop offset="0.548" stop-color="#ffba00"/><stop offset="0.654" stop-color="#ff7200"/><stop offset="0.711" stop-color="#ffae00"/><stop offset="0.763" stop-color="#fcff03"/><stop offset="0.835" stop-color="#74ff8b"/><stop offset="0.872" stop-color="#0efff1"/><stop offset="0.876" stop-color="#00f9ff"/><stop offset="0.887" stop-color="#00c5ff"/><stop offset="0.895" stop-color="#0080ff"/><stop offset="0.903" stop-color="#0028ff"/><stop offset="0.905" stop-color="#0010ff"/><stop offset="0.907" stop-color="#0000ff"/><stop offset="0.911" stop-color="#0000e7"/><stop offset="1.000" stop-color="#0000dd"/></linearGradient><linearGradient id="h299"><stop offset="0.000" stop-color="#001fff"/><stop offset="0.198" stop-color="#002dff"/><stop offset="0.260" stop-color="#0082ff"/><stop offset="0.282" stop-color="#00b8ff"/><stop offset="0.301" stop-color="#00eaff"/><stop offset="0.311" stop-color="#02fffd"/><stop offset="0.369" stop-color="#6fff90"/><stop offset="0.410" stop-color="#a1ff5e"/><stop offset="0.493" stop-color="#fffc00"/><stop offset="0.546" stop-color="#ffbb00"/><stop offset="0.652" stop-color="#ff6f00"/><stop offset="0.678" stop-color="#ff8600"/><stop offset="0.713" stop-color="#ffb000"/><stop offset="0.763" stop-color="#fdff02"/><stop offset="0.835" stop-color="#75ff8a"/><stop offset="0.872" stop-color="#0ffff0"/><stop offset="0.876" stop-color="#00fbff"/><stop offset="0.887" stop-color="#00c9ff"/><stop offset="0.895" stop-color="#0083ff"/><stop offset="0.901" stop-color="#0044ff"/><stop offset="0.905" stop-color="#0012ff"/><stop offset="0.907" stop-color="#0002ff"/><stop offset="0.911" stop-color="#0000e6"/><stop offset="1.000" stop-color="#0000dc"/></linearGradient><linearGradient id="h300"><stop offset="0.000" stop-color="#001fff"/><stop offset="0.196" stop-color="#002bff"/><stop offset="0.260" stop-color="#0083ff"/><stop offset="0.285" stop-color="#00c1ff"/><stop offset="0.301" stop-color="#00edff"/><stop offset="0.311" stop-color="#04fffb"/><stop offset="0.369" stop-color="#70ff8f"/><stop offset="0.412" stop-color="#a4ff5b"/><stop offset="0.493" stop-color="#fffc00"/><stop offset="0.544" stop-color="#ffbc00"/><stop offset="0.639" stop-color="#ff7500"/><stop offset="0.658" stop-color="#ff6e00"/><stop offset="0.711" stop-color="#ffaa00"/><stop offset="0.763" stop-color="#fdff02"/><stop offset="0.835" stop-color="#76ff89"/><stop offset="0.872" stop-color="#11ffee"/><stop offset="0.876" stop-color="#00fdff"/><stop offset="0.887" stop-color="#00ccff"/><stop offset="0.897" stop-color="#0072ff"/><stop offset="0.903" stop-color="#002eff"/><stop offset="0.905" stop-color="#0014ff"/><stop offset="0.907" stop-color="#0003ff"/><stop offset="0.911" stop-color="#0000e5"/><stop offset="1.000" stop-color="#0000db"/></linearGradient><linearGradient id="h301"><stop offset="0.000" stop-color="#001eff"/><stop offset="0.196" stop-color="#002bff"/><stop offset="0.258" stop-color="#007fff"/><stop offset="0.282" stop-color="#00bcff"/><stop offset="0.299" stop-color="#00ebff"/><stop offset="0.309" stop-color="#02fffd"/><stop offset="0.367" stop-color="#6fff90"/><stop offset="0.414" stop-color="#a7ff58"/><stop offset="0.493" stop-color="#fffb00"/><stop offset="0.542" stop-color="#ffbe00"/><stop offset="0.627" stop-color="#ff7b00"/><stop offset="0.658" stop-color="#ff6b00"/><stop offset="0.711" stop-color="#ffa800"/><stop offset="0.763" stop-color="#fdff02"/><stop offset="0.837" stop-color="#73ff8c"/><stop offset="0.874" stop-color="#09fff6"/><stop offset="0.876" stop-color="#00ffff"/><stop offset="0.887" stop-color="#00cfff"/><stop offset="0.897" stop-color="#0075ff"/><stop offset="0.903" stop-color="#0031ff"/><stop offset="0.907" stop-color="#0005ff"/><stop offset="0.911" stop-color="#0000e4"/><stop offset="1.000" stop-color="#0000da"/></linearGradient><linearGradient id="h302"><stop offset="0.000" stop-color="#001eff"/><stop offset="0.196" stop-color="#002bff"/><stop offset="0.258" stop-color="#0080ff"/><stop offset="0.282" stop-color="#00beff"/><stop offset="0.297" stop-color="#00e9ff"/><stop offset="0.309" stop-color="#05fffa"/><stop offset="0.367" stop-color="#71ff8e"/><stop offset="0.421" stop-color="#aeff51"/><stop offset="0.493" stop-color="#fffb00"/><stop offset="0.540" stop-color="#ffbf00"/><stop offset="0.621" stop-color="#ff7e00"/><stop offset="0.658" stop-color="#ff6900"/><stop offset="0.711" stop-color="#ffa500"/><stop offset="0.763" stop-color="#feff01"/><stop offset="0.837" stop-color="#74ff8b"/><stop offset="0.874" stop-color="#0bfff4"/><stop offset="0.878" stop-color="#00f9ff"/><stop offset="0.887" stop-color="#00d3ff"/><stop offset="0.899" stop-color="#0065ff"/><stop offset="0.905" stop-color="#0019ff"/><stop offset="0.907" stop-color="#0006ff"/><stop offset="0.911" stop-color="#0000e3"/><stop offset="1.000" stop-color="#0000da"/></linearGradient><linearGradient id="h303"><stop offset="0.000" stop-color="#001dff"/><stop offset="0.196" stop-color="#002bff"/><stop offset="0.258" stop-color="#0081ff"/><stop offset="0.282" stop-color="#00c0ff"/><stop offset="0.297" stop-color="#00ecff"/><stop offset="0.307" stop-color="#03fffc"/><stop offset="0.367" stop-color="#73ff8c"/><stop offset="0.491" stop-color="#fffe00"/><stop offset="0.536" stop-color="#ffc200"/><stop offset="0.614" stop-color="#ff8000"/><stop offset="0.658" stop-color="#ff6600"/><stop offset="0.709" stop-color="#ff9f00"/><stop offset="0.763" stop-color="#feff01"/><stop offset="0.837" stop-color="#75ff8a"/><stop offset="0.874" stop-color="#0dfff2"/><stop offset="0.878" stop-color="#00fbff"/><stop offset="0.887" stop-color="#00d6ff"/><stop offset="0.899" stop-color="#0068ff"/><stop offset="0.907" stop-color="#0008ff"/><stop offset="0.911" stop-color="#0000e3"/><stop offset="1.000" stop-color="#0000d9"/></linearGradient><linearGradient id="h304"><stop offset="0.000" stop-color="#001dff"/><stop offset="0.196" stop-color="#002bff"/><stop offset="0.258" stop-color="#0082ff"/><stop offset="0.285" stop-color="#00c9ff"/><stop offset="0.297" stop-color="#00efff"/><stop offset="0.307" stop-color="#05fffa"/><stop offset="0.367" stop-color="#75ff8a"/><stop offset="0.491" stop-color="#fffe00"/><stop offset="0.536" stop-color="#ffc100"/><stop offset="0.614" stop-color="#ff7e00"/><stop offset="0.658" stop-color="#ff6300"/><stop offset="0.709" stop-color="#ff9d00"/><stop offset="0.763" stop-color="#ffff00"/><stop offset="0.839" stop-color="#71ff8e"/><stop offset="0.874" stop-color="#0ffff0"/><stop offset="0.878" stop-color="#00feff"/><stop offset="0.887" stop-color="#00daff"/><stop offset="0.899" stop-color="#006bff"/><stop offset="0.907" stop-color="#0009ff"/><stop offset="0.909" stop-color="#0000f4"/><stop offset="0.911" stop-color="#0000e2"/><stop offset="1.000" stop-color="#0000d8"/></linearGradient><linearGradient id="h305"><stop offset="0.000" stop-color="#001dff"/><stop offset="0.196" stop-color="#002bff"/><stop offset="0.258" stop-color="#0083ff"/><stop offset="0.285" stop-color="#00cbff"/><stop offset="0.297" stop-color="#00f1ff"/><stop offset="0.305" stop-color="#03fffc"/><stop offset="0.367" stop-color="#77ff88"/><stop offset="0.491" stop-color="#fffd00"/><stop offset="0.534" stop-color="#ffc200"/><stop offset="0.612" stop-color="#ff7d00"/><stop offset="0.658" stop-color="#ff6100"/><stop offset="0.709" stop-color="#ff9b00"/><stop offset="0.763" stop-color="#ffff00"/><stop offset="0.839" stop-color="#72ff8d"/><stop offset="0.874" stop-color="#11ffee"/><stop offset="0.878" stop-color="#01fffe"/><stop offset="0.887" stop-color="#00ddff"/><stop offset="0.899" stop-color="#006fff"/><stop offset="0.907" stop-color="#000aff"/><stop offset="0.909" stop-color="#0000f4"/><stop offset="0.911" stop-color="#0000e1"/><stop offset="1.000" stop-color="#0000d7"/></linearGradient><linearGradient id="h306"><stop offset="0.000" stop-color="#001cff"/><stop offset="0.196" stop-color="#002aff"/><stop offset="0.258" stop-color="#0084ff"/><stop offset="0.282" stop-color="#00c6ff"/><stop offset="0.297" stop-color="#00f4ff"/><stop offset="0.305" stop-color="#05fffa"/><stop offset="0.365" stop-color="#76ff89"/><stop offset="0.491" stop-color="#fffd00"/><stop offset="0.534" stop-color="#ffc100"/><stop offset="0.610" stop-color="#ff7d00"/><stop offset="0.658" stop-color="#ff5e00"/><stop offset="0.709" stop-color="#ff9800"/><stop offset="0.763" stop-color="#ffff00"/><stop offset="0.839" stop-color="#74ff8b"/><stop offset="0.876" stop-color="#0bfff4"/><stop offset="0.882" stop-color="#00f3ff"/><stop offset="0.887" stop-color="#00e1ff"/><stop offset="0.899" stop-color="#0072ff"/><stop offset="0.907" stop-color="#000cff"/><stop offset="0.909" stop-color="#0000f5"/><stop offset="0.911" stop-color="#0000e0"/><stop offset="1.000" stop-color="#0000d7"/></linearGradient><linearGradient id="h307"><stop offset="0.000" stop-color="#001cff"/><stop offset="0.194" stop-color="#0028ff"/><stop offset="0.258" stop-color="#0085ff"/><stop offset="0.282" stop-color="#00c8ff"/><stop offset="0.297" stop-color="#00f6ff"/><stop offset="0.305" stop-color="#08fff7"/><stop offset="0.365" stop-color="#78ff87"/><stop offset="0.485" stop-color="#f9ff06"/><stop offset="0.495" stop-color="#fff600"/><stop offset="0.534" stop-color="#ffc000"/><stop offset="0.610" stop-color="#ff7b00"/><stop offset="0.658" stop-color="#ff5c00"/><stop offset="0.709" stop-color="#ff9600"/><stop offset="0.763" stop-color="#fffe00"/><stop offset="0.839" stop-color="#75ff8a"/><stop offset="0.876" stop-color="#0dfff2"/><stop offset="0.880" stop-color="#00feff"/><stop offset="0.887" stop-color="#00e4ff"/><stop offset="0.899" stop-color="#0075ff"/><stop offset="0.907" stop-color="#000dff"/><stop offset="0.909" stop-color="#0000f5"/><stop offset="0.911" stop-color="#0000e0"/><stop offset="1.000" stop-color="#0000d6"/></linearGradient><linearGradient id="h308"><stop offset="0.000" stop-color="#001bff"/><stop offset="0.194" stop-color="#0028ff"/><stop offset="0.258" stop-color="#0086ff"/><stop offset="0.282" stop-color="#00caff"/><stop offset="0.295" stop-color="#00f5ff"/><stop offset="0.303" stop-color="#06fff9"/><stop offset="0.365" stop-color="#7aff85"/><stop offset="0.476" stop-color="#f0ff0f"/><stop offset="0.491" stop-color="#fffc00"/><stop offset="0.532" stop-color="#ffc100"/><stop offset="0.608" stop-color="#ff7b00"/><stop offset="0.658" stop-color="#ff5900"/><stop offset="0.709" stop-color="#ff9400"/><stop offset="0.763" stop-color="#fffe00"/><stop offset="0.839" stop-color="#76ff89"/><stop offset="0.878" stop-color="#08fff7"/><stop offset="0.882" stop-color="#00faff"/><stop offset="0.887" stop-color="#00e7ff"/><stop offset="0.899" stop-color="#0078ff"/><stop offset="0.907" stop-color="#000fff"/><stop offset="0.909" stop-color="#0000f5"/><stop offset="0.911" stop-color="#0000df"/><stop offset="1.000" stop-color="#0000d5"/></linearGradient><linearGradient id="h309"><stop offset="0.000" stop-color="#001bff"/><stop offset="0.194" stop-color="#0027ff"/><stop offset="0.258" stop-color="#0086ff"/><stop offset="0.282" stop-color="#00ccff"/><stop offset="0.295" stop-color="#00f8ff"/><stop offset="0.303" stop-color="#09fff6"/><stop offset="0.365" stop-color="#7cff83"/><stop offset="0.470" stop-color="#e9ff16"/><stop offset="0.491" stop-color="#fffc00"/><stop offset="0.532" stop-color="#ffc000"/><stop offset="0.608" stop-color="#ff7900"/><stop offset="0.658" stop-color="#ff5700"/><stop offset="0.709" stop-color="#ff9100"/><stop offset="0.763" stop-color="#fffd00"/><stop offset="0.839" stop-color="#77ff88"/><stop offset="0.882" stop-color="#00fdff"/><stop offset="0.887" stop-color="#00ebff"/><stop offset="0.899" stop-color="#007cff"/><stop offset="0.907" stop-color="#0010ff"/><stop offset="0.909" stop-color="#0000f6"/><stop offset="0.911" stop-color="#0000de"/><stop offset="1.000" stop-color="#0000d4"/></linearGradient><linearGradient id="h310"><stop offset="0.000" stop-color="#001bff"/><stop offset="0.194" stop-color="#0027ff"/><stop offset="0.256" stop-color="#0082ff"/><stop offset="0.282" stop-color="#00ceff"/><stop offset="0.295" stop-color="#00faff"/><stop offset="0.318" stop-color="#27ffd8"/><stop offset="0.365" stop-color="#7eff81"/><stop offset="0.464" stop-color="#e3ff1c"/><stop offset="0.491" stop-color="#fffc00"/><stop offset="0.530" stop-color="#ffc100"/><stop offset="0.606" stop-color="#ff7800"/><stop offset="0.658" stop-color="#ff5400"/><stop offset="0.707" stop-color="#ff8b00"/><stop offset="0.763" stop-color="#fffd00"/><stop offset="0.841" stop-color="#73ff8c"/><stop offset="0.882" stop-color="#01fffe"/><stop offset="0.887" stop-color="#00eeff"/><stop offset="0.899" stop-color="#007fff"/><stop offset="0.907" stop-color="#0012ff"/><stop offset="0.909" stop-color="#0000f6"/><stop offset="0.911" stop-color="#0000dd"/><stop offset="1.000" stop-color="#0000d3"/></linearGradient><linearGradient id="h311"><stop offset="0.000" stop-color="#001aff"/><stop offset="0.194" stop-color="#0027ff"/><stop offset="0.256" stop-color="#0083ff"/><stop offset="0.282" stop-color="#00cfff"/><stop offset="0.295" stop-color="#00fdff"/><stop offset="0.365" stop-color="#80ff7f"/><stop offset="0.460" stop-color="#deff21"/><stop offset="0.491" stop-color="#fffb00"/><stop offset="0.530" stop-color="#ffc000"/><stop offset="0.606" stop-color="#ff7600"/><stop offset="0.658" stop-color="#ff5100"/><stop offset="0.707" stop-color="#ff8800"/><stop offset="0.763" stop-color="#fffc00"/><stop offset="0.841" stop-color="#74ff8b"/><stop offset="0.885" stop-color="#00fdff"/><stop offset="0.889" stop-color="#00dfff"/><stop offset="0.899" stop-color="#0082ff"/><stop offset="0.907" stop-color="#0013ff"/><stop offset="0.909" stop-color="#0000f6"/><stop offset="0.911" stop-color="#0000dd"/><stop offset="1.000" stop-color="#0000d3"/></linearGradient><linearGradient id="h312"><stop offset="0.000" stop-color="#001aff"/><stop offset="0.194" stop-color="#0027ff"/><stop offset="0.256" stop-color="#0083ff"/><stop offset="0.282" stop-color="#00d1ff"/><stop offset="0.295" stop-color="#00ffff"/><stop offset="0.365" stop-color="#81ff7e"/><stop offset="0.456" stop-color="#daff25"/><stop offset="0.491" stop-color="#fffb00"/><stop offset="0.530" stop-color="#ffbf00"/><stop offset="0.606" stop-color="#ff7400"/><stop offset="0.658" stop-color="#ff4f00"/><stop offset="0.707" stop-color="#ff8600"/><stop offset="0.761" stop-color="#fff800"/><stop offset="0.769" stop-color="#f7ff08"/><stop offset="0.841" stop-color="#76ff89"/><stop offset="0.885" stop-color="#01fffe"/><stop offset="0.887" stop-color="#00f5ff"/><stop offset="0.899" stop-color="#0085ff"/><stop offset="0.907" stop-color="#0014ff"/><stop offset="0.909" stop-color="#0000f6"/><stop offset="0.911" stop-color="#0000dc"/><stop offset="1.000" stop-color="#0000d2"/></linearGradient><linearGradient id="h313"><stop offset="0.000" stop-color="#0019ff"/><stop offset="0.194" stop-color="#0027ff"/><stop offset="0.256" stop-color="#0085ff"/><stop offset="0.282" stop-color="#00d4ff"/><stop offset="0.293" stop-color="#00fdff"/><stop offset="0.365" stop-color="#83ff7c"/><stop offset="0.454" stop-color="#d9ff26"/><stop offset="0.489" stop-color="#fffe00"/><stop offset="0.530" stop-color="#ffbe00"/><stop offset="0.606" stop-color="#ff7300"/><stop offset="0.658" stop-color="#ff4d00"/><stop offset="0.707" stop-color="#ff8400"/><stop offset="0.759" stop-color="#fff400"/><stop offset="0.767" stop-color="#fbff04"/><stop offset="0.841" stop-color="#77ff88"/><stop offset="0.885" stop-color="#04fffb"/><stop offset="0.887" stop-color="#00f8ff"/><stop offset="0.899" stop-color="#0088ff"/><stop offset="0.907" stop-color="#0016ff"/><stop offset="0.909" stop-color="#0000f7"/><stop offset="0.911" stop-color="#0000dc"/><stop offset="1.000" stop-color="#0000d1"/></linearGradient><linearGradient id="h314"><stop offset="0.000" stop-color="#0019ff"/><stop offset="0.192" stop-color="#0025ff"/><stop offset="0.256" stop-color="#008aff"/><stop offset="0.282" stop-color="#00d7ff"/><stop offset="0.293" stop-color="#00ffff"/><stop offset="0.365" stop-color="#84ff7b"/><stop offset="0.456" stop-color="#dcff23"/><stop offset="0.489" stop-color="#fffc00"/><stop offset="0.530" stop-color="#ffbd00"/><stop offset="0.606" stop-color="#ff7200"/><stop offset="0.658" stop-color="#ff4d00"/><stop offset="0.707" stop-color="#ff8300"/><stop offset="0.757" stop-color="#ffef00"/><stop offset="0.767" stop-color="#fbff04"/><stop offset="0.841" stop-color="#77ff88"/><stop offset="0.885" stop-color="#04fffb"/><stop offset="0.887" stop-color="#00f9ff"/><stop offset="0.899" stop-color="#008bff"/><stop offset="0.909" stop-color="#0000fa"/><stop offset="0.911" stop-color="#0000de"/><stop offset="1.000" stop-color="#0000d1"/></linearGradient><linearGradient id="h315"><stop offset="0.000" stop-color="#0019ff"/><stop offset="0.192" stop-color="#0026ff"/><stop offset="0.256" stop-color="#008eff"/><stop offset="0.285" stop-color="#00e2ff"/><stop offset="0.293" stop-color="#02fffd"/><stop offset="0.363" stop-color="#84ff7b"/><stop offset="0.458" stop-color="#e0ff1f"/><stop offset="0.489" stop-color="#fffb00"/><stop offset="0.530" stop-color="#ffbc00"/><stop offset="0.606" stop-color="#ff7100"/><stop offset="0.658" stop-color="#ff4d00"/><stop offset="0.707" stop-color="#ff8300"/><stop offset="0.755" stop-color="#ffeb00"/><stop offset="0.767" stop-color="#fbff04"/><stop offset="0.841" stop-color="#78ff87"/><stop offset="0.885" stop-color="#05fffa"/><stop offset="0.887" stop-color="#00faff"/><stop offset="0.899" stop-color="#008dff"/><stop offset="0.907" stop-color="#001dff"/><stop offset="0.909" stop-color="#0000fd"/><stop offset="0.911" stop-color="#0000e0"/><stop offset="0.924" stop-color="#0000d9"/><stop offset="1.000" stop-color="#0000d0"/></linearGradient><linearGradient id="h316"><stop offset="0.000" stop-color="#0018ff"/><stop offset="0.188" stop-color="#0026ff"/><stop offset="0.210" stop-color="#0045ff"/><stop offset="0.258" stop-color="#0098ff"/><stop offset="0.285" stop-color="#00e6ff"/><stop offset="0.293" stop-color="#05fffa"/><stop offset="0.363" stop-color="#85ff7a"/><stop offset="0.460" stop-color="#e3ff1c"/><stop offset="0.487" stop-color="#fffc00"/><stop offset="0.530" stop-color="#ffbb00"/><stop offset="0.608" stop-color="#ff6f00"/><stop offset="0.658" stop-color="#ff4d00"/><stop offset="0.709" stop-color="#ff8700"/><stop offset="0.753" stop-color="#ffe700"/><stop offset="0.767" stop-color="#fbff04"/><stop offset="0.843" stop-color="#73ff8c"/><stop offset="0.887" stop-color="#00fbff"/><stop offset="0.899" stop-color="#0090ff"/><stop offset="0.907" stop-color="#0021ff"/><stop offset="0.909" stop-color="#0001ff"/><stop offset="0.911" stop-color="#0000e2"/><stop offset="0.918" stop-color="#0000d9"/><stop offset="1.000" stop-color="#0000d0"/></linearGradient><linearGradient id="h317"><stop offset="0.000" stop-color="#0018ff"/><stop offset="0.186" stop-color="#0025ff"/><stop offset="0.200" stop-color="#0036ff"/><stop offset="0.258" stop-color="#009dff"/><stop offset="0.285" stop-color="#00e9ff"/><stop offset="0.291" stop-color="#00ffff"/><stop offset="0.328" stop-color="#4affb5"/><stop offset="0.365" stop-color="#88ff77"/><stop offset="0.464" stop-color="#e9ff16"/><stop offset="0.487" stop-color="#fffa00"/><stop offset="0.532" stop-color="#ffb800"/><stop offset="0.608" stop-color="#ff6e00"/><stop offset="0.656" stop-color="#ff4e00"/><stop offset="0.709" stop-color="#ff8600"/><stop offset="0.753" stop-color="#ffe700"/><stop offset="0.767" stop-color="#fbff04"/><stop offset="0.843" stop-color="#74ff8b"/><stop offset="0.887" stop-color="#00fcff"/><stop offset="0.899" stop-color="#0092ff"/><stop offset="0.907" stop-color="#0024ff"/><stop offset="0.909" stop-color="#0004ff"/><stop offset="0.911" stop-color="#0000e4"/><stop offset="0.915" stop-color="#0000d9"/><stop offset="1.000" stop-color="#0000cf"/></linearGradient><linearGradient id="h318"><stop offset="0.000" stop-color="#0017ff"/><stop offset="0.184" stop-color="#0024ff"/><stop offset="0.198" stop-color="#0034ff"/><stop offset="0.258" stop-color="#00a1ff"/><stop offset="0.287" stop-color="#00f3ff"/><stop offset="0.293" stop-color="#09fff6"/><stop offset="0.359" stop-color="#81ff7e"/><stop offset="0.470" stop-color="#f1ff0e"/><stop offset="0.487" stop-color="#fff900"/><stop offset="0.532" stop-color="#ffb700"/><stop offset="0.610" stop-color="#ff6b00"/><stop offset="0.656" stop-color="#ff4e00"/><stop offset="0.709" stop-color="#ff8600"/><stop offset="0.751" stop-color="#ffe300"/><stop offset="0.767" stop-color="#fbff04"/><stop offset="0.843" stop-color="#75ff8a"/><stop offset="0.887" stop-color="#00fdff"/><stop offset="0.897" stop-color="#00a7ff"/><stop offset="0.901" stop-color="#007dff"/><stop offset="0.907" stop-color="#0028ff"/><stop offset="0.909" stop-color="#0007ff"/><stop offset="0.911" stop-color="#0000e6"/><stop offset="0.915" stop-color="#0000d8"/><stop offset="1.000" stop-color="#0000cf"/></linearGradient><linearGradient id="h319"><stop offset="0.000" stop-color="#0017ff"/><stop offset="0.184" stop-color="#0024ff"/><stop offset="0.200" stop-color="#0039ff"/><stop offset="0.258" stop-color="#00a5ff"/><stop offset="0.287" stop-color="#00f6ff"/><stop offset="0.293" stop-color="#0cfff3"/><stop offset="0.353" stop-color="#79ff86"/><stop offset="0.381" stop-color="#99ff66"/><stop offset="0.472" stop-color="#f4ff0b"/><stop offset="0.485" stop-color="#fffa00"/><stop offset="0.532" stop-color="#ffb600"/><stop offset="0.610" stop-color="#ff6a00"/><stop offset="0.652" stop-color="#ff4f00"/><stop offset="0.664" stop-color="#ff5400"/><stop offset="0.709" stop-color="#ff8500"/><stop offset="0.751" stop-color="#ffe300"/><stop offset="0.767" stop-color="#fbff04"/><stop offset="0.843" stop-color="#75ff8a"/><stop offset="0.887" stop-color="#00feff"/><stop offset="0.895" stop-color="#00bdff"/><stop offset="0.901" stop-color="#0080ff"/><stop offset="0.907" stop-color="#002bff"/><stop offset="0.909" stop-color="#0009ff"/><stop offset="0.911" stop-color="#0000e9"/><stop offset="0.913" stop-color="#0000dc"/><stop offset="1.000" stop-color="#0000ce"/></linearGradient><linearGradient id="h320"><stop offset="0.000" stop-color="#0016ff"/><stop offset="0.181" stop-color="#0023ff"/><stop offset="0.198" stop-color="#0037ff"/><stop offset="0.258" stop-color="#00aaff"/><stop offset="0.289" stop-color="#01fffe"/><stop offset="0.303" stop-color="#23ffdc"/><stop offset="0.355" stop-color="#7eff81"/><stop offset="0.476" stop-color="#fbff04"/><stop offset="0.497" stop-color="#ffe500"/><stop offset="0.536" stop-color="#ffb100"/><stop offset="0.612" stop-color="#ff6800"/><stop offset="0.652" stop-color="#ff4e00"/><stop offset="0.666" stop-color="#ff5600"/><stop offset="0.709" stop-color="#ff8500"/><stop offset="0.748" stop-color="#ffdf00"/><stop offset="0.767" stop-color="#fbff04"/><stop offset="0.843" stop-color="#76ff89"/><stop offset="0.887" stop-color="#00ffff"/><stop offset="0.895" stop-color="#00bfff"/><stop offset="0.901" stop-color="#0083ff"/><stop offset="0.905" stop-color="#004fff"/><stop offset="0.909" stop-color="#000cff"/><stop offset="0.911" stop-color="#0000eb"/><stop offset="0.913" stop-color="#0000dc"/><stop offset="0.961" stop-color="#0000d2"/><stop offset="1.000" stop-color="#0000ce"/></linearGradient><linearGradient id="h321"><stop offset="0.000" stop-color="#0016ff"/><stop offset="0.181" stop-color="#0023ff"/><stop offset="0.200" stop-color="#003cff"/><stop offset="0.260" stop-color="#00b4ff"/><stop offset="0.289" stop-color="#04fffb"/><stop offset="0.305" stop-color="#29ffd6"/><stop offset="0.351" stop-color="#79ff86"/><stop offset="0.381" stop-color="#9cff63"/><stop offset="0.474" stop-color="#f9ff06"/><stop offset="0.489" stop-color="#fff100"/><stop offset="0.532" stop-color="#ffb400"/><stop offset="0.612" stop-color="#ff6700"/><stop offset="0.649" stop-color="#ff4e00"/><stop offset="0.664" stop-color="#ff5400"/><stop offset="0.709" stop-color="#ff8400"/><stop offset="0.748" stop-color="#ffdf00"/><stop offset="0.767" stop-color="#fbff04"/><stop offset="0.843" stop-color="#77ff88"/><stop offset="0.887" stop-color="#01fffe"/><stop offset="0.893" stop-color="#00d4ff"/><stop offset="0.901" stop-color="#0086ff"/><stop offset="0.905" stop-color="#0053ff"/><stop offset="0.909" stop-color="#000fff"/><stop offset="0.911" stop-color="#0000ed"/><stop offset="0.913" stop-color="#0000dc"/><stop offset="0.926" stop-color="#0000d6"/><stop offset="1.000" stop-color="#0000cd"/></linearGradient><linearGradient id="h322"><stop offset="0.000" stop-color="#0015ff"/><stop offset="0.181" stop-color="#0023ff"/><stop offset="0.202" stop-color="#0041ff"/><stop offset="0.260" stop-color="#00b8ff"/><stop offset="0.287" stop-color="#00ffff"/><stop offset="0.301" stop-color="#23ffdc"/><stop offset="0.348" stop-color="#77ff88"/><stop offset="0.379" stop-color="#9bff64"/><stop offset="0.474" stop-color="#fbff04"/><stop offset="0.495" stop-color="#ffe500"/><stop offset="0.536" stop-color="#ffaf00"/><stop offset="0.614" stop-color="#ff6500"/><stop offset="0.649" stop-color="#ff4e00"/><stop offset="0.666" stop-color="#ff5600"/><stop offset="0.711" stop-color="#ff8800"/><stop offset="0.746" stop-color="#ffdb00"/><stop offset="0.767" stop-color="#fbff04"/><stop offset="0.843" stop-color="#78ff87"/><stop offset="0.887" stop-color="#02fffd"/><stop offset="0.893" stop-color="#00d7ff"/><stop offset="0.901" stop-color="#0089ff"/><stop offset="0.905" stop-color="#0057ff"/><stop offset="0.909" stop-color="#0012ff"/><stop offset="0.911" stop-color="#0000ef"/><stop offset="0.913" stop-color="#0000dc"/><stop offset="0.922" stop-color="#0000d6"/><stop offset="1.000" stop-color="#0000cd"/></linearGradient><linearGradient id="h323"><stop offset="0.000" stop-color="#0015ff"/><stop offset="0.181" stop-color="#0023ff"/><stop offset="0.204" stop-color="#0047ff"/><stop offset="0.262" stop-color="#00c2ff"/><stop offset="0.287" stop-color="#03fffc"/><stop offset="0.303" stop-color="#2affd5"/><stop offset="0.346" stop-color="#76ff89"/><stop offset="0.379" stop-color="#9cff63"/><stop offset="0.474" stop-color="#fcff03"/><stop offset="0.536" stop-color="#ffae00"/><stop offset="0.616" stop-color="#ff6200"/><stop offset="0.647" stop-color="#ff4d00"/><stop offset="0.664" stop-color="#ff5400"/><stop offset="0.711" stop-color="#ff8700"/><stop offset="0.744" stop-color="#ffd700"/><stop offset="0.765" stop-color="#feff01"/><stop offset="0.845" stop-color="#73ff8c"/><stop offset="0.887" stop-color="#03fffc"/><stop offset="0.893" stop-color="#00d9ff"/><stop offset="0.901" stop-color="#008bff"/><stop offset="0.905" stop-color="#005bff"/><stop offset="0.909" stop-color="#0015ff"/><stop offset="0.911" stop-color="#0000f1"/><stop offset="0.913" stop-color="#0000dc"/><stop offset="0.920" stop-color="#0000d5"/><stop offset="1.000" stop-color="#0000cc"/></linearGradient><linearGradient id="h324"><stop offset="0.000" stop-color="#0014ff"/><stop offset="0.179" stop-color="#0020ff"/><stop offset="0.204" stop-color="#0049ff"/><stop offset="0.262" stop-color="#00c6ff"/><stop offset="0.285" stop-color="#00ffff"/><stop offset="0.301" stop-color="#28ffd7"/><stop offset="0.344" stop-color="#75ff8a"/><stop offset="0.379" stop-color="#9dff62"/><stop offset="0.478" stop-color="#fffb00"/><stop offset="0.530" stop-color="#ffb300"/><stop offset="0.612" stop-color="#ff6400"/><stop offset="0.647" stop-color="#ff4c00"/><stop offset="0.666" stop-color="#ff5600"/><stop offset="0.711" stop-color="#ff8600"/><stop offset="0.744" stop-color="#ffd700"/><stop offset="0.765" stop-color="#feff01"/><stop offset="0.845" stop-color="#74ff8b"/><stop offset="0.887" stop-color="#04fffb"/><stop offset="0.891" stop-color="#00ecff"/><stop offset="0.901" stop-color="#008eff"/><stop offset="0.905" stop-color="#005fff"/><stop offset="0.909" stop-color="#0018ff"/><stop offset="0.911" stop-color="#0000f3"/><stop offset="0.913" stop-color="#0000dc"/><stop offset="0.918" stop-color="#0000d5"/><stop offset="1.000" stop-color="#0000cc"/></linearGradient><linearGradient id="h325"><stop offset="0.000" stop-color="#0014ff"/><stop offset="0.179" stop-color="#001fff"/><stop offset="0.206" stop-color="#004eff"/><stop offset="0.264" stop-color="#00d0ff"/><stop offset="0.285" stop-color="#04fffb"/><stop offset="0.305" stop-color="#32ffcd"/><stop offset="0.344" stop-color="#77ff88"/><stop offset="0.386" stop-color="#a4ff5b"/><stop offset="0.476" stop-color="#fffd00"/><stop offset="0.528" stop-color="#ffb400"/><stop offset="0.610" stop-color="#ff6500"/><stop offset="0.647" stop-color="#ff4c00"/><stop offset="0.668" stop-color="#ff5800"/><stop offset="0.711" stop-color="#ff8600"/><stop offset="0.744" stop-color="#ffd700"/><stop offset="0.765" stop-color="#feff01"/><stop offset="0.845" stop-color="#74ff8b"/><stop offset="0.887" stop-color="#05fffa"/><stop offset="0.891" stop-color="#00eeff"/><stop offset="0.901" stop-color="#0091ff"/><stop offset="0.905" stop-color="#0062ff"/><stop offset="0.909" stop-color="#001bff"/><stop offset="0.911" stop-color="#0000f5"/><stop offset="0.913" stop-color="#0000dc"/><stop offset="0.918" stop-color="#0000d5"/><stop offset="1.000" stop-color="#0000cb"/></linearGradient><linearGradient id="h326"><stop offset="0.000" stop-color="#0013ff"/><stop offset="0.179" stop-color="#001fff"/><stop offset="0.212" stop-color="#005dff"/><stop offset="0.282" stop-color="#01fffe"/><stop offset="0.305" stop-color="#34ffcb"/><stop offset="0.344" stop-color="#79ff86"/><stop offset="0.398" stop-color="#b1ff4e"/><stop offset="0.476" stop-color="#fffb00"/><stop offset="0.526" stop-color="#ffb600"/><stop offset="0.608" stop-color="#ff6600"/><stop offset="0.645" stop-color="#ff4a00"/><stop offset="0.670" stop-color="#ff5a00"/><stop offset="0.711" stop-color="#ff8500"/><stop offset="0.744" stop-color="#ffd700"/><stop offset="0.765" stop-color="#feff01"/><stop offset="0.845" stop-color="#75ff8a"/><stop offset="0.887" stop-color="#06fff9"/><stop offset="0.891" stop-color="#00f0ff"/><stop offset="0.901" stop-color="#0094ff"/><stop offset="0.905" stop-color="#0066ff"/><stop offset="0.909" stop-color="#001dff"/><stop offset="0.911" stop-color="#0000f7"/><stop offset="0.913" stop-color="#0000dc"/><stop offset="0.918" stop-color="#0000d4"/><stop offset="1.000" stop-color="#0000cb"/></linearGradient><linearGradient id="h327"><stop offset="0.000" stop-color="#0013ff"/><stop offset="0.179" stop-color="#001fff"/><stop offset="0.221" stop-color="#0071ff"/><stop offset="0.280" stop-color="#00feff"/><stop offset="0.307" stop-color="#3bffc4"/><stop offset="0.342" stop-color="#78ff87"/><stop offset="0.408" stop-color="#bcff43"/><stop offset="0.474" stop-color="#fffd00"/><stop offset="0.522" stop-color="#ffb900"/><stop offset="0.606" stop-color="#ff6700"/><stop offset="0.645" stop-color="#ff4a00"/><stop offset="0.674" stop-color="#ff5e00"/><stop offset="0.711" stop-color="#ff8500"/><stop offset="0.744" stop-color="#ffd700"/><stop offset="0.765" stop-color="#feff01"/><stop offset="0.845" stop-color="#76ff89"/><stop offset="0.889" stop-color="#00fcff"/><stop offset="0.893" stop-color="#00e3ff"/><stop offset="0.903" stop-color="#0080ff"/><stop offset="0.905" stop-color="#006aff"/><stop offset="0.911" stop-color="#0000fa"/><stop offset="0.913" stop-color="#0000dc"/><stop offset="0.915" stop-color="#0000d4"/><stop offset="1.000" stop-color="#0000ca"/></linearGradient><linearGradient id="h328"><stop offset="0.000" stop-color="#0012ff"/><stop offset="0.179" stop-color="#001fff"/><stop offset="0.227" stop-color="#0082ff"/><stop offset="0.278" stop-color="#00fdff"/><stop offset="0.320" stop-color="#54ffab"/><stop offset="0.344" stop-color="#7dff82"/><stop offset="0.474" stop-color="#fffc00"/><stop offset="0.520" stop-color="#ffbb00"/><stop offset="0.602" stop-color="#ff6900"/><stop offset="0.645" stop-color="#ff4900"/><stop offset="0.685" stop-color="#ff6800"/><stop offset="0.711" stop-color="#ff8400"/><stop offset="0.742" stop-color="#ffd300"/><stop offset="0.765" stop-color="#feff01"/><stop offset="0.845" stop-color="#77ff88"/><stop offset="0.889" stop-color="#00feff"/><stop offset="0.893" stop-color="#00e5ff"/><stop offset="0.905" stop-color="#006eff"/><stop offset="0.911" stop-color="#0000fc"/><stop offset="0.913" stop-color="#0000dd"/><stop offset="0.915" stop-color="#0000d4"/><stop offset="1.000" stop-color="#0000ca"/></linearGradient><linearGradient id="h329"><stop offset="0.000" stop-color="#0012ff"/><stop offset="0.179" stop-color="#001eff"/><stop offset="0.233" stop-color="#0095ff"/><stop offset="0.276" stop-color="#00fdff"/><stop offset="0.338" stop-color="#78ff87"/><stop offset="0.472" stop-color="#fffe00"/><stop offset="0.518" stop-color="#ffbc00"/><stop offset="0.600" stop-color="#ff6a00"/><stop offset="0.645" stop-color="#ff4800"/><stop offset="0.707" stop-color="#ff7e00"/><stop offset="0.722" stop-color="#ff9f00"/><stop offset="0.744" stop-color="#ffd700"/><stop offset="0.765" stop-color="#feff01"/><stop offset="0.845" stop-color="#77ff88"/><stop offset="0.889" stop-color="#00ffff"/><stop offset="0.893" stop-color="#00e8ff"/><stop offset="0.905" stop-color="#0072ff"/><stop offset="0.911" stop-color="#0000fe"/><stop offset="0.913" stop-color="#0000dd"/><stop offset="0.915" stop-color="#0000d3"/><stop offset="1.000" stop-color="#0000c9"/></linearGradient><linearGradient id="h330"><stop offset="0.000" stop-color="#0011ff"/><stop offset="0.179" stop-color="#001eff"/><stop offset="0.233" stop-color="#0098ff"/><stop offset="0.274" stop-color="#00fdff"/><stop offset="0.340" stop-color="#7cff83"/><stop offset="0.472" stop-color="#fffd00"/><stop offset="0.515" stop-color="#ffbd00"/><stop offset="0.598" stop-color="#ff6b00"/><stop offset="0.645" stop-color="#ff4700"/><stop offset="0.711" stop-color="#ff8300"/><stop offset="0.742" stop-color="#ffd300"/><stop offset="0.765" stop-color="#feff01"/><stop offset="0.847" stop-color="#73ff8c"/><stop offset="0.889" stop-color="#02fffd"/><stop offset="0.891" stop-color="#00f9ff"/><stop offset="0.903" stop-color="#008aff"/><stop offset="0.905" stop-color="#0076ff"/><stop offset="0.911" stop-color="#0001ff"/><stop offset="0.913" stop-color="#0000dd"/><stop offset="0.915" stop-color="#0000d3"/><stop offset="1.000" stop-color="#0000c9"/></linearGradient><linearGradient id="h331"><stop offset="0.000" stop-color="#0011ff"/><stop offset="0.179" stop-color="#001eff"/><stop offset="0.233" stop-color="#009bff"/><stop offset="0.272" stop-color="#00fcff"/><stop offset="0.340" stop-color="#7eff81"/><stop offset="0.472" stop-color="#fffc00"/><stop offset="0.513" stop-color="#ffbe00"/><stop offset="0.598" stop-color="#ff6a00"/><stop offset="0.645" stop-color="#ff4600"/><stop offset="0.711" stop-color="#ff8200"/><stop offset="0.742" stop-color="#ffd300"/><stop offset="0.765" stop-color="#feff01"/><stop offset="0.847" stop-color="#73ff8c"/><stop offset="0.891" stop-color="#00fbff"/><stop offset="0.905" stop-color="#0079ff"/><stop offset="0.911" stop-color="#0003ff"/><stop offset="0.913" stop-color="#0000dd"/><stop offset="0.915" stop-color="#0000d2"/><stop offset="1.000" stop-color="#0000c8"/></linearGradient><linearGradient id="h332"><stop offset="0.000" stop-color="#0010ff"/><stop offset="0.179" stop-color="#001dff"/><stop offset="0.233" stop-color="#009fff"/><stop offset="0.272" stop-color="#01fffe"/><stop offset="0.340" stop-color="#80ff7f"/><stop offset="0.470" stop-color="#fffe00"/><stop offset="0.511" stop-color="#ffbf00"/><stop offset="0.596" stop-color="#ff6b00"/><stop offset="0.645" stop-color="#ff4500"/><stop offset="0.711" stop-color="#ff8200"/><stop offset="0.742" stop-color="#ffd300"/><stop offset="0.765" stop-color="#feff01"/><stop offset="0.847" stop-color="#74ff8b"/><stop offset="0.891" stop-color="#00feff"/><stop offset="0.905" stop-color="#007dff"/><stop offset="0.911" stop-color="#0005ff"/><stop offset="0.913" stop-color="#0000dd"/><stop offset="0.915" stop-color="#0000d2"/><stop offset="1.000" stop-color="#0000c8"/></linearGradient><linearGradient id="h333"><stop offset="0.000" stop-color="#0010ff"/><stop offset="0.179" stop-color="#001dff"/><stop offset="0.233" stop-color="#00a2ff"/><stop offset="0.270" stop-color="#02fffd"/><stop offset="0.340" stop-color="#83ff7c"/><stop offset="0.470" stop-color="#fffd00"/><stop offset="0.511" stop-color="#ffbe00"/><stop offset="0.596" stop-color="#ff6a00"/><stop offset="0.645" stop-color="#ff4500"/><stop offset="0.711" stop-color="#ff8100"/><stop offset="0.742" stop-color="#ffd300"/><stop offset="0.765" stop-color="#feff01"/><stop offset="0.847" stop-color="#75ff8a"/><stop offset="0.891" stop-color="#01fffe"/><stop offset="0.899" stop-color="#00baff"/><stop offset="0.905" stop-color="#0081ff"/><stop offset="0.911" stop-color="#0007ff"/><stop offset="0.913" stop-color="#0000dd"/><stop offset="0.915" stop-color="#0000d1"/><stop offset="1.000" stop-color="#0000c7"/></linearGradient><linearGradient id="h334"><stop offset="0.000" stop-color="#000fff"/><stop offset="0.179" stop-color="#001dff"/><stop offset="0.233" stop-color="#00a3ff"/><stop offset="0.268" stop-color="#00ffff"/><stop offset="0.340" stop-color="#84ff7b"/><stop offset="0.470" stop-color="#fffc00"/><stop offset="0.509" stop-color="#ffbf00"/><stop offset="0.596" stop-color="#ff6a00"/><stop offset="0.645" stop-color="#ff4400"/><stop offset="0.711" stop-color="#ff8100"/><stop offset="0.742" stop-color="#ffd300"/><stop offset="0.765" stop-color="#feff01"/><stop offset="0.847" stop-color="#75ff8a"/><stop offset="0.891" stop-color="#02fffd"/><stop offset="0.895" stop-color="#00e0ff"/><stop offset="0.905" stop-color="#0083ff"/><stop offset="0.911" stop-color="#0008ff"/><stop offset="0.913" stop-color="#0000dd"/><stop offset="0.915" stop-color="#0000d1"/><stop offset="1.000" stop-color="#0000c7"/></linearGradient><linearGradient id="h335"><stop offset="0.000" stop-color="#000fff"/><stop offset="0.179" stop-color="#001dff"/><stop offset="0.233" stop-color="#00a3ff"/><stop offset="0.268" stop-color="#00ffff"/><stop offset="0.340" stop-color="#84ff7b"/><stop offset="0.470" stop-color="#fffc00"/><stop offset="0.509" stop-color="#ffbf00"/><stop offset="0.596" stop-color="#ff6a00"/><stop offset="0.645" stop-color="#ff4400"/><stop offset="0.711" stop-color="#ff8100"/><stop offset="0.742" stop-color="#ffd300"/><stop offset="0.765" stop-color="#feff01"/><stop offset="0.847" stop-color="#75ff8a"/><stop offset="0.891" stop-color="#02fffd"/><stop offset="0.895" stop-color="#00e0ff"/><stop offset="0.905" stop-color="#0083ff"/><stop offset="0.911" stop-color="#0008ff"/><stop offset="0.913" stop-color="#0000dd"/><stop offset="0.915" stop-color="#0000d1"/><stop offset="1.000" stop-color="#0000c7"/></linearGradient><linearGradient id="h336"><stop offset="0.000" stop-color="#000fff"/><stop offset="0.179" stop-color="#001dff"/><stop offset="0.233" stop-color="#00a3ff"/><stop offset="0.268" stop-color="#00ffff"/><stop offset="0.340" stop-color="#84ff7b"/><stop offset="0.470" stop-color="#fffc00"/><stop offset="0.509" stop-color="#ffbf00"/><stop offset="0.596" stop-color="#ff6a00"/><stop offset="0.645" stop-color="#ff4400"/><stop offset="0.711" stop-color="#ff8100"/><stop offset="0.742" stop-color="#ffd300"/><stop offset="0.765" stop-color="#feff01"/><stop offset="0.847" stop-color="#75ff8a"/><stop offset="0.891" stop-color="#02fffd"/><stop offset="0.895" stop-color="#00e0ff"/><stop offset="0.905" stop-color="#0083ff"/><stop offset="0.911" stop-color="#0008ff"/><stop offset="0.913" stop-color="#0000dd"/><stop offset="0.915" stop-color="#0000d1"/><stop offset="1.000" stop-color="#0000c7"/></linearGradient><linearGradient id="h337"><stop offset="0.000" stop-color="#000fff"/><stop offset="0.179" stop-color="#001dff"/><stop offset="0.233" stop-color="#00a3ff"/><stop offset="0.268" stop-color="#00ffff"/><stop offset="0.340" stop-color="#84ff7b"/><stop offset="0.470" stop-color="#fffc00"/><stop offset="0.509" stop-color="#ffbf00"/><stop offset="0.596" stop-color="#ff6a00"/><stop offset="0.645" stop-color="#ff4400"/><stop offset="0.711" stop-color="#ff8100"/><stop offset="0.742" stop-color="#ffd300"/><stop offset="0.765" stop-color="#feff01"/><stop offset="0.847" stop-color="#75ff8a"/><stop offset="0.891" stop-color="#02fffd"/><stop offset="0.895" stop-color="#00e0ff"/><stop offset="0.905" stop-color="#0083ff"/><stop offset="0.911" stop-color="#0008ff"/><stop offset="0.913" stop-color="#0000dd"/><stop offset="0.915" stop-color="#0000d1"/><stop offset="1.000" stop-color="#0000c7"/></linearGradient><linearGradient id="h338"><stop offset="0.000" stop-color="#000fff"/><stop offset="0.179" stop-color="#001dff"/><stop offset="0.233" stop-color="#00a3ff"/><stop offset="0.268" stop-color="#00ffff"/><stop offset="0.340" stop-color="#84ff7b"/><stop offset="0.470" stop-color="#fffc00"/><stop offset="0.509" stop-color="#ffbf00"/><stop offset="0.596" stop-color="#ff6a00"/><stop offset="0.645" stop-color="#ff4400"/><stop offset="0.711" stop-color="#ff8100"/><stop offset="0.742" stop-color="#ffd300"/><stop offset="0.765" stop-color="#feff01"/><stop offset="0.847" stop-color="#75ff8a"/><stop offset="0.891" stop-color="#02fffd"/><stop offset="0.895" stop-color="#00e0ff"/><stop offset="0.905" stop-color="#0083ff"/><stop offset="0.911" stop-color="#0008ff"/><stop offset="0.913" stop-color="#0000dd"/><stop offset="0.915" stop-color="#0000d1"/><stop offset="1.000" stop-color="#0000c7"/></linearGradient></defs><rect x="846.9" y="798.50" width="485.2" height="4.60" fill="url(#h170)"/><rect x="846.9" y="802.50" width="485.2" height="4.60" fill="url(#h171)"/><rect x="846.9" y="806.50" width="485.2" height="4.60" fill="url(#h172)"/><rect x="846.9" y="810.50" width="485.2" height="4.60" fill="url(#h173)"/><rect x="846.9" y="814.50" width="485.2" height="4.60" fill="url(#h174)"/><rect x="846.9" y="818.50" width="485.2" height="4.60" fill="url(#h175)"/><rect x="846.9" y="822.50" width="485.2" height="4.60" fill="url(#h176)"/><rect x="846.9" y="826.50" width="485.2" height="4.60" fill="url(#h177)"/><rect x="846.9" y="830.50" width="485.2" height="4.60" fill="url(#h178)"/><rect x="846.9" y="834.50" width="485.2" height="4.60" fill="url(#h179)"/><rect x="846.9" y="838.50" width="485.2" height="4.60" fill="url(#h180)"/><rect x="846.9" y="842.50" width="485.2" height="4.60" fill="url(#h181)"/><rect x="846.9" y="846.50" width="485.2" height="4.60" fill="url(#h182)"/><rect x="846.9" y="850.50" width="485.2" height="4.60" fill="url(#h183)"/><rect x="846.9" y="854.50" width="485.2" height="4.60" fill="url(#h184)"/><rect x="846.9" y="858.50" width="485.2" height="4.60" fill="url(#h185)"/><rect x="846.9" y="862.50" width="485.2" height="4.60" fill="url(#h186)"/><rect x="846.9" y="866.50" width="485.2" height="4.60" fill="url(#h187)"/><rect x="846.9" y="870.50" width="485.2" height="4.60" fill="url(#h188)"/><rect x="846.9" y="874.50" width="485.2" height="4.60" fill="url(#h189)"/><rect x="846.9" y="878.50" width="485.2" height="4.60" fill="url(#h190)"/><rect x="846.9" y="882.50" width="485.2" height="4.60" fill="url(#h191)"/><rect x="846.9" y="886.50" width="485.2" height="4.60" fill="url(#h192)"/><rect x="846.9" y="890.50" width="485.2" height="4.60" fill="url(#h193)"/><rect x="846.9" y="894.50" width="485.2" height="4.60" fill="url(#h194)"/><rect x="846.9" y="898.50" width="485.2" height="4.60" fill="url(#h195)"/><rect x="846.9" y="902.50" width="485.2" height="4.60" fill="url(#h196)"/><rect x="846.9" y="906.50" width="485.2" height="4.60" fill="url(#h197)"/><rect x="846.9" y="910.50" width="485.2" height="4.60" fill="url(#h198)"/><rect x="846.9" y="914.50" width="485.2" height="4.60" fill="url(#h199)"/><rect x="846.9" y="918.50" width="485.2" height="4.60" fill="url(#h200)"/><rect x="846.9" y="922.50" width="485.2" height="4.60" fill="url(#h201)"/><rect x="846.9" y="926.50" width="485.2" height="4.60" fill="url(#h202)"/><rect x="846.9" y="930.50" width="485.2" height="4.60" fill="url(#h203)"/><rect x="846.9" y="934.50" width="485.2" height="4.60" fill="url(#h204)"/><rect x="846.9" y="938.50" width="485.2" height="4.60" fill="url(#h205)"/><rect x="846.9" y="942.50" width="485.2" height="4.60" fill="url(#h206)"/><rect x="846.9" y="946.50" width="485.2" height="4.60" fill="url(#h207)"/><rect x="846.9" y="950.50" width="485.2" height="4.60" fill="url(#h208)"/><rect x="846.9" y="954.50" width="485.2" height="4.60" fill="url(#h209)"/><rect x="846.9" y="958.50" width="485.2" height="4.60" fill="url(#h210)"/><rect x="846.9" y="962.50" width="485.2" height="4.60" fill="url(#h211)"/><rect x="846.9" y="966.50" width="485.2" height="4.60" fill="url(#h212)"/><rect x="846.9" y="970.50" width="485.2" height="4.60" fill="url(#h213)"/><rect x="846.9" y="974.50" width="485.2" height="4.60" fill="url(#h214)"/><rect x="846.9" y="978.50" width="485.2" height="4.60" fill="url(#h215)"/><rect x="846.9" y="982.50" width="485.2" height="4.60" fill="url(#h216)"/><rect x="846.9" y="986.50" width="485.2" height="4.60" fill="url(#h217)"/><rect x="846.9" y="990.50" width="485.2" height="4.60" fill="url(#h218)"/><rect x="846.9" y="994.50" width="485.2" height="4.60" fill="url(#h219)"/><rect x="846.9" y="998.50" width="485.2" height="4.60" fill="url(#h220)"/><rect x="846.9" y="1002.50" width="485.2" height="4.60" fill="url(#h221)"/><rect x="846.9" y="1006.50" width="485.2" height="4.60" fill="url(#h222)"/><rect x="846.9" y="1010.50" width="485.2" height="4.60" fill="url(#h223)"/><rect x="846.9" y="1014.50" width="485.2" height="4.60" fill="url(#h224)"/><rect x="846.9" y="1018.50" width="485.2" height="4.60" fill="url(#h225)"/><rect x="846.9" y="1022.50" width="485.2" height="4.60" fill="url(#h226)"/><rect x="846.9" y="1026.50" width="485.2" height="4.60" fill="url(#h227)"/><rect x="846.9" y="1030.50" width="485.2" height="4.60" fill="url(#h228)"/><rect x="846.9" y="1034.50" width="485.2" height="4.60" fill="url(#h229)"/><rect x="846.9" y="1038.50" width="485.2" height="4.60" fill="url(#h230)"/><rect x="846.9" y="1042.50" width="485.2" height="4.60" fill="url(#h231)"/><rect x="846.9" y="1046.50" width="485.2" height="4.60" fill="url(#h232)"/><rect x="846.9" y="1050.50" width="485.2" height="4.60" fill="url(#h233)"/><rect x="846.9" y="1054.50" width="485.2" height="4.60" fill="url(#h234)"/><rect x="846.9" y="1058.50" width="485.2" height="4.60" fill="url(#h235)"/><rect x="846.9" y="1062.50" width="485.2" height="4.60" fill="url(#h236)"/><rect x="846.9" y="1066.50" width="485.2" height="4.60" fill="url(#h237)"/><rect x="846.9" y="1070.50" width="485.2" height="4.60" fill="url(#h238)"/><rect x="846.9" y="1074.50" width="485.2" height="4.60" fill="url(#h239)"/><rect x="846.9" y="1078.50" width="485.2" height="4.60" fill="url(#h240)"/><rect x="846.9" y="1082.50" width="485.2" height="4.60" fill="url(#h241)"/><rect x="846.9" y="1086.50" width="485.2" height="4.60" fill="url(#h242)"/><rect x="846.9" y="1090.50" width="485.2" height="4.60" fill="url(#h243)"/><rect x="846.9" y="1094.50" width="485.2" height="4.60" fill="url(#h244)"/><rect x="846.9" y="1098.50" width="485.2" height="4.60" fill="url(#h245)"/><rect x="846.9" y="1102.50" width="485.2" height="4.60" fill="url(#h246)"/><rect x="846.9" y="1106.50" width="485.2" height="4.60" fill="url(#h247)"/><rect x="846.9" y="1110.50" width="485.2" height="4.60" fill="url(#h248)"/><rect x="846.9" y="1114.50" width="485.2" height="4.60" fill="url(#h249)"/><rect x="846.9" y="1118.50" width="485.2" height="4.60" fill="url(#h250)"/><rect x="846.9" y="1122.50" width="485.2" height="4.60" fill="url(#h251)"/><rect x="846.9" y="1126.50" width="485.2" height="4.60" fill="url(#h252)"/><rect x="846.9" y="1130.50" width="485.2" height="4.60" fill="url(#h253)"/><rect x="846.9" y="1134.50" width="485.2" height="4.60" fill="url(#h254)"/><rect x="846.9" y="1138.50" width="485.2" height="4.60" fill="url(#h255)"/><rect x="846.9" y="1142.50" width="485.2" height="4.60" fill="url(#h256)"/><rect x="846.9" y="1146.50" width="485.2" height="4.60" fill="url(#h257)"/><rect x="846.9" y="1150.50" width="485.2" height="4.60" fill="url(#h258)"/><rect x="846.9" y="1154.50" width="485.2" height="4.60" fill="url(#h259)"/><rect x="846.9" y="1158.50" width="485.2" height="4.60" fill="url(#h260)"/><rect x="846.9" y="1162.50" width="485.2" height="4.60" fill="url(#h261)"/><rect x="846.9" y="1166.50" width="485.2" height="4.60" fill="url(#h262)"/><rect x="846.9" y="1170.50" width="485.2" height="4.60" fill="url(#h263)"/><rect x="846.9" y="1174.50" width="485.2" height="4.60" fill="url(#h264)"/><rect x="846.9" y="1178.50" width="485.2" height="4.60" fill="url(#h265)"/><rect x="846.9" y="1182.50" width="485.2" height="4.60" fill="url(#h266)"/><rect x="846.9" y="1186.50" width="485.2" height="4.60" fill="url(#h267)"/><rect x="846.9" y="1190.50" width="485.2" height="4.60" fill="url(#h268)"/><rect x="846.9" y="1194.50" width="485.2" height="4.60" fill="url(#h269)"/><rect x="846.9" y="1198.50" width="485.2" height="4.60" fill="url(#h270)"/><rect x="846.9" y="1202.50" width="485.2" height="4.60" fill="url(#h271)"/><rect x="846.9" y="1206.50" width="485.2" height="4.60" fill="url(#h272)"/><rect x="846.9" y="1210.50" width="485.2" height="4.60" fill="url(#h273)"/><rect x="846.9" y="1214.50" width="485.2" height="4.60" fill="url(#h274)"/><rect x="846.9" y="1218.50" width="485.2" height="4.60" fill="url(#h275)"/><rect x="846.9" y="1222.50" width="485.2" height="4.60" fill="url(#h276)"/><rect x="846.9" y="1226.50" width="485.2" height="4.60" fill="url(#h277)"/><rect x="846.9" y="1230.50" width="485.2" height="4.60" fill="url(#h278)"/><rect x="846.9" y="1234.50" width="485.2" height="4.60" fill="url(#h279)"/><rect x="846.9" y="1238.50" width="485.2" height="4.60" fill="url(#h280)"/><rect x="846.9" y="1242.50" width="485.2" height="4.60" fill="url(#h281)"/><rect x="846.9" y="1246.50" width="485.2" height="4.60" fill="url(#h282)"/><rect x="846.9" y="1250.50" width="485.2" height="4.60" fill="url(#h283)"/><rect x="846.9" y="1254.50" width="485.2" height="4.60" fill="url(#h284)"/><rect x="846.9" y="1258.50" width="485.2" height="4.60" fill="url(#h285)"/><rect x="846.9" y="1262.50" width="485.2" height="4.60" fill="url(#h286)"/><rect x="846.9" y="1266.50" width="485.2" height="4.60" fill="url(#h287)"/><rect x="846.9" y="1270.50" width="485.2" height="4.60" fill="url(#h288)"/><rect x="846.9" y="1274.50" width="485.2" height="4.60" fill="url(#h289)"/><rect x="846.9" y="1278.50" width="485.2" height="4.60" fill="url(#h290)"/><rect x="846.9" y="1282.50" width="485.2" height="4.60" fill="url(#h291)"/><rect x="846.9" y="1286.50" width="485.2" height="4.60" fill="url(#h292)"/><rect x="846.9" y="1290.50" width="485.2" height="4.60" fill="url(#h293)"/><rect x="846.9" y="1294.50" width="485.2" height="4.60" fill="url(#h294)"/><rect x="846.9" y="1298.50" width="485.2" height="4.60" fill="url(#h295)"/><rect x="846.9" y="1302.50" width="485.2" height="4.60" fill="url(#h296)"/><rect x="846.9" y="1306.50" width="485.2" height="4.60" fill="url(#h297)"/><rect x="846.9" y="1310.50" width="485.2" height="4.60" fill="url(#h298)"/><rect x="846.9" y="1314.50" width="485.2" height="4.60" fill="url(#h299)"/><rect x="846.9" y="1318.50" width="485.2" height="4.60" fill="url(#h300)"/><rect x="846.9" y="1322.50" width="485.2" height="4.60" fill="url(#h301)"/><rect x="846.9" y="1326.50" width="485.2" height="4.60" fill="url(#h302)"/><rect x="846.9" y="1330.50" width="485.2" height="4.60" fill="url(#h303)"/><rect x="846.9" y="1334.50" width="485.2" height="4.60" fill="url(#h304)"/><rect x="846.9" y="1338.50" width="485.2" height="4.60" fill="url(#h305)"/><rect x="846.9" y="1342.50" width="485.2" height="4.60" fill="url(#h306)"/><rect x="846.9" y="1346.50" width="485.2" height="4.60" fill="url(#h307)"/><rect x="846.9" y="1350.50" width="485.2" height="4.60" fill="url(#h308)"/><rect x="846.9" y="1354.50" width="485.2" height="4.60" fill="url(#h309)"/><rect x="846.9" y="1358.50" width="485.2" height="4.60" fill="url(#h310)"/><rect x="846.9" y="1362.50" width="485.2" height="4.60" fill="url(#h311)"/><rect x="846.9" y="1366.50" width="485.2" height="4.60" fill="url(#h312)"/><rect x="846.9" y="1370.50" width="485.2" height="4.60" fill="url(#h313)"/><rect x="846.9" y="1374.50" width="485.2" height="4.60" fill="url(#h314)"/><rect x="846.9" y="1378.50" width="485.2" height="4.60" fill="url(#h315)"/><rect x="846.9" y="1382.50" width="485.2" height="4.60" fill="url(#h316)"/><rect x="846.9" y="1386.50" width="485.2" height="4.60" fill="url(#h317)"/><rect x="846.9" y="1390.50" width="485.2" height="4.60" fill="url(#h318)"/><rect x="846.9" y="1394.50" width="485.2" height="4.60" fill="url(#h319)"/><rect x="846.9" y="1398.50" width="485.2" height="4.60" fill="url(#h320)"/><rect x="846.9" y="1402.50" width="485.2" height="4.60" fill="url(#h321)"/><rect x="846.9" y="1406.50" width="485.2" height="4.60" fill="url(#h322)"/><rect x="846.9" y="1410.50" width="485.2" height="4.60" fill="url(#h323)"/><rect x="846.9" y="1414.50" width="485.2" height="4.60" fill="url(#h324)"/><rect x="846.9" y="1418.50" width="485.2" height="4.60" fill="url(#h325)"/><rect x="846.9" y="1422.50" width="485.2" height="4.60" fill="url(#h326)"/><rect x="846.9" y="1426.50" width="485.2" height="4.60" fill="url(#h327)"/><rect x="846.9" y="1430.50" width="485.2" height="4.60" fill="url(#h328)"/><rect x="846.9" y="1434.50" width="485.2" height="4.60" fill="url(#h329)"/><rect x="846.9" y="1438.50" width="485.2" height="4.60" fill="url(#h330)"/><rect x="846.9" y="1442.50" width="485.2" height="4.60" fill="url(#h331)"/><rect x="846.9" y="1446.50" width="485.2" height="4.60" fill="url(#h332)"/><rect x="846.9" y="1450.50" width="485.2" height="4.60" fill="url(#h333)"/><rect x="846.9" y="1454.50" width="485.2" height="4.60" fill="url(#h334)"/><rect x="846.9" y="1458.50" width="485.2" height="4.60" fill="url(#h335)"/><rect x="846.9" y="1462.50" width="485.2" height="4.60" fill="url(#h336)"/><rect x="846.9" y="1466.50" width="485.2" height="4.60" fill="url(#h337)"/><rect x="846.9" y="1470.50" width="485.2" height="4.30" fill="url(#h338)"/><rect x="839.1" y="788.5" width="506.0" height="695.7" fill="none" stroke="#2e2e2e" stroke-width="1.9"/><line x1="851.0" y1="1484.2" x2="851.0" y2="1477.9" stroke="#222" stroke-width="1.5"/><line x1="851.0" y1="788.5" x2="851.0" y2="794.8" stroke="#222" stroke-width="1.5"/><text x="851.0" y="1526.0" font-size="39" text-anchor="middle" fill="#000">100</text><line x1="988.4" y1="1484.2" x2="988.4" y2="1477.9" stroke="#222" stroke-width="1.5"/><line x1="988.4" y1="788.5" x2="988.4" y2="794.8" stroke="#222" stroke-width="1.5"/><text x="988.4" y="1526.0" font-size="39" text-anchor="middle" fill="#000">200</text><line x1="1125.8" y1="1484.2" x2="1125.8" y2="1477.9" stroke="#222" stroke-width="1.5"/><line x1="1125.8" y1="788.5" x2="1125.8" y2="794.8" stroke="#222" stroke-width="1.5"/><text x="1125.8" y="1526.0" font-size="39" text-anchor="middle" fill="#000">300</text><line x1="1263.2" y1="1484.2" x2="1263.2" y2="1477.9" stroke="#222" stroke-width="1.5"/><line x1="1263.2" y1="788.5" x2="1263.2" y2="794.8" stroke="#222" stroke-width="1.5"/><text x="1263.2" y="1526.0" font-size="39" text-anchor="middle" fill="#000">400</text><line x1="839.1" y1="1475.2" x2="845.3" y2="1475.2" stroke="#222" stroke-width="1.5"/><line x1="1345.1" y1="1475.2" x2="1338.3" y2="1475.2" stroke="#222" stroke-width="1.5"/><text x="830.5" y="1489.1" font-size="39.5" text-anchor="end" fill="#000">6</text><line x1="839.1" y1="1371.4" x2="845.3" y2="1371.4" stroke="#222" stroke-width="1.5"/><line x1="1345.1" y1="1371.4" x2="1338.3" y2="1371.4" stroke="#222" stroke-width="1.5"/><text x="830.5" y="1385.3" font-size="39.5" text-anchor="end" fill="#000">6.5</text><line x1="839.1" y1="1267.6" x2="845.3" y2="1267.6" stroke="#222" stroke-width="1.5"/><line x1="1345.1" y1="1267.6" x2="1338.3" y2="1267.6" stroke="#222" stroke-width="1.5"/><text x="830.5" y="1281.5" font-size="39.5" text-anchor="end" fill="#000">7</text><line x1="839.1" y1="1163.8" x2="845.3" y2="1163.8" stroke="#222" stroke-width="1.5"/><line x1="1345.1" y1="1163.8" x2="1338.3" y2="1163.8" stroke="#222" stroke-width="1.5"/><text x="830.5" y="1177.7" font-size="39.5" text-anchor="end" fill="#000">7.5</text><line x1="839.1" y1="1060.0" x2="845.3" y2="1060.0" stroke="#222" stroke-width="1.5"/><line x1="1345.1" y1="1060.0" x2="1338.3" y2="1060.0" stroke="#222" stroke-width="1.5"/><text x="830.5" y="1073.9" font-size="39.5" text-anchor="end" fill="#000">8</text><line x1="839.1" y1="956.2" x2="845.3" y2="956.2" stroke="#222" stroke-width="1.5"/><line x1="1345.1" y1="956.2" x2="1338.3" y2="956.2" stroke="#222" stroke-width="1.5"/><text x="830.5" y="970.1" font-size="39.5" text-anchor="end" fill="#000">8.5</text><line x1="839.1" y1="852.4" x2="845.3" y2="852.4" stroke="#222" stroke-width="1.5"/><line x1="1345.1" y1="852.4" x2="1338.3" y2="852.4" stroke="#222" stroke-width="1.5"/><text x="830.5" y="866.3" font-size="39.5" text-anchor="end" fill="#000">9</text><text x="1089.1" y="1568.6" font-size="39" text-anchor="middle" fill="#000">T (K)</text><text x="878.2" y="865.6" font-size="42.5" text-anchor="start" fill="#fff">eps''</text><rect x="1381.4" y="1474.61" width="49.2" height="11.39" fill="#000087"/><rect x="1381.4" y="1463.72" width="49.2" height="11.39" fill="#000097"/><rect x="1381.4" y="1452.84" width="49.2" height="11.39" fill="#0000a7"/><rect x="1381.4" y="1441.95" width="49.2" height="11.39" fill="#0000b7"/><rect x="1381.4" y="1431.06" width="49.2" height="11.39" fill="#0000c7"/><rect x="1381.4" y="1420.17" width="49.2" height="11.39" fill="#0000d7"/><rect x="1381.4" y="1409.29" width="49.2" height="11.39" fill="#0000e7"/><rect x="1381.4" y="1398.40" width="49.2" height="11.39" fill="#0000f7"/><rect x="1381.4" y="1387.51" width="49.2" height="11.39" fill="#0007ff"/><rect x="1381.4" y="1376.62" width="49.2" height="11.39" fill="#0017ff"/><rect x="1381.4" y="1365.74" width="49.2" height="11.39" fill="#0027ff"/><rect x="1381.4" y="1354.85" width="49.2" height="11.39" fill="#0037ff"/><rect x="1381.4" y="1343.96" width="49.2" height="11.39" fill="#0047ff"/><rect x="1381.4" y="1333.08" width="49.2" height="11.39" fill="#0057ff"/><rect x="1381.4" y="1322.19" width="49.2" height="11.39" fill="#0067ff"/><rect x="1381.4" y="1311.30" width="49.2" height="11.39" fill="#0077ff"/><rect x="1381.4" y="1300.41" width="49.2" height="11.39" fill="#0087ff"/><rect x="1381.4" y="1289.53" width="49.2" height="11.39" fill="#0097ff"/><rect x="1381.4" y="1278.64" width="49.2" height="11.39" fill="#00a7ff"/><rect x="1381.4" y="1267.75" width="49.2" height="11.39" fill="#00b7ff"/><rect x="1381.4" y="1256.86" width="49.2" height="11.39" fill="#00c7ff"/><rect x="1381.4" y="1245.97" width="49.2" height="11.39" fill="#00d7ff"/><rect x="1381.4" y="1235.09" width="49.2" height="11.39" fill="#00e7ff"/><rect x="1381.4" y="1224.20" width="49.2" height="11.39" fill="#00f7ff"/><rect x="1381.4" y="1213.31" width="49.2" height="11.39" fill="#07fff7"/><rect x="1381.4" y="1202.42" width="49.2" height="11.39" fill="#17ffe7"/><rect x="1381.4" y="1191.54" width="49.2" height="11.39" fill="#27ffd7"/><rect x="1381.4" y="1180.65" width="49.2" height="11.39" fill="#37ffc7"/><rect x="1381.4" y="1169.76" width="49.2" height="11.39" fill="#47ffb7"/><rect x="1381.4" y="1158.88" width="49.2" height="11.39" fill="#57ffa7"/><rect x="1381.4" y="1147.99" width="49.2" height="11.39" fill="#67ff97"/><rect x="1381.4" y="1137.10" width="49.2" height="11.39" fill="#77ff87"/><rect x="1381.4" y="1126.21" width="49.2" height="11.39" fill="#87ff77"/><rect x="1381.4" y="1115.33" width="49.2" height="11.39" fill="#97ff67"/><rect x="1381.4" y="1104.44" width="49.2" height="11.39" fill="#a7ff57"/><rect x="1381.4" y="1093.55" width="49.2" height="11.39" fill="#b7ff47"/><rect x="1381.4" y="1082.66" width="49.2" height="11.39" fill="#c7ff37"/><rect x="1381.4" y="1071.78" width="49.2" height="11.39" fill="#d7ff27"/><rect x="1381.4" y="1060.89" width="49.2" height="11.39" fill="#e7ff17"/><rect x="1381.4" y="1050.00" width="49.2" height="11.39" fill="#f7ff07"/><rect x="1381.4" y="1039.11" width="49.2" height="11.39" fill="#fff700"/><rect x="1381.4" y="1028.22" width="49.2" height="11.39" fill="#ffe700"/><rect x="1381.4" y="1017.34" width="49.2" height="11.39" fill="#ffd700"/><rect x="1381.4" y="1006.45" width="49.2" height="11.39" fill="#ffc700"/><rect x="1381.4" y="995.56" width="49.2" height="11.39" fill="#ffb700"/><rect x="1381.4" y="984.67" width="49.2" height="11.39" fill="#ffa700"/><rect x="1381.4" y="973.79" width="49.2" height="11.39" fill="#ff9700"/><rect x="1381.4" y="962.90" width="49.2" height="11.39" fill="#ff8700"/><rect x="1381.4" y="952.01" width="49.2" height="11.39" fill="#ff7700"/><rect x="1381.4" y="941.12" width="49.2" height="11.39" fill="#ff6700"/><rect x="1381.4" y="930.24" width="49.2" height="11.39" fill="#ff5700"/><rect x="1381.4" y="919.35" width="49.2" height="11.39" fill="#ff4700"/><rect x="1381.4" y="908.46" width="49.2" height="11.39" fill="#ff3700"/><rect x="1381.4" y="897.58" width="49.2" height="11.39" fill="#ff2700"/><rect x="1381.4" y="886.69" width="49.2" height="11.39" fill="#ff1700"/><rect x="1381.4" y="875.80" width="49.2" height="11.39" fill="#ff0700"/><rect x="1381.4" y="864.91" width="49.2" height="11.39" fill="#f70000"/><rect x="1381.4" y="854.03" width="49.2" height="11.39" fill="#e70000"/><rect x="1381.4" y="843.14" width="49.2" height="11.39" fill="#d70000"/><rect x="1381.4" y="832.25" width="49.2" height="11.39" fill="#c70000"/><rect x="1381.4" y="821.36" width="49.2" height="11.39" fill="#b70000"/><rect x="1381.4" y="810.48" width="49.2" height="11.39" fill="#a70000"/><rect x="1381.4" y="799.59" width="49.2" height="11.39" fill="#970000"/><rect x="1381.4" y="788.70" width="49.2" height="11.39" fill="#870000"/><rect x="1381.4" y="788.7" width="49.2" height="696.8" fill="none" stroke="#222" stroke-width="1.4"/><text x="1435.6" y="802.2" font-size="39" text-anchor="start" fill="#000">4</text><line x1="1381.4" y1="904.8" x2="1386.4" y2="904.8" stroke="#222" stroke-width="1.3"/><line x1="1430.6" y1="904.8" x2="1425.6" y2="904.8" stroke="#222" stroke-width="1.3"/><text x="1435.6" y="918.3" font-size="39" text-anchor="start" fill="#000">3.5</text><line x1="1381.4" y1="1021.0" x2="1386.4" y2="1021.0" stroke="#222" stroke-width="1.3"/><line x1="1430.6" y1="1021.0" x2="1425.6" y2="1021.0" stroke="#222" stroke-width="1.3"/><text x="1435.6" y="1034.5" font-size="39" text-anchor="start" fill="#000">3</text><line x1="1381.4" y1="1137.1" x2="1386.4" y2="1137.1" stroke="#222" stroke-width="1.3"/><line x1="1430.6" y1="1137.1" x2="1425.6" y2="1137.1" stroke="#222" stroke-width="1.3"/><text x="1435.6" y="1150.6" font-size="39" text-anchor="start" fill="#000">2.5</text><line x1="1381.4" y1="1253.2" x2="1386.4" y2="1253.2" stroke="#222" stroke-width="1.3"/><line x1="1430.6" y1="1253.2" x2="1425.6" y2="1253.2" stroke="#222" stroke-width="1.3"/><text x="1435.6" y="1266.7" font-size="39" text-anchor="start" fill="#000">2</text><line x1="1381.4" y1="1369.4" x2="1386.4" y2="1369.4" stroke="#222" stroke-width="1.3"/><line x1="1430.6" y1="1369.4" x2="1425.6" y2="1369.4" stroke="#222" stroke-width="1.3"/><text x="1435.6" y="1382.9" font-size="39" text-anchor="start" fill="#000">1.5</text><text x="1435.6" y="1499.0" font-size="39" text-anchor="start" fill="#000">1</text><text x="0" y="0" font-size="38.6" text-anchor="middle" transform="translate(33,1136.6) rotate(-90)">log Frequency (Hz)</text><rect x="1294.6" y="1397.0" width="1.8" height="3" fill="#fff"/><rect x="1311.0" y="1412.0" width="1.8" height="3" fill="#fff"/><rect x="1314.9" y="1412.0" width="1.8" height="3" fill="#fff"/><rect x="1320.6" y="1413.0" width="1.8" height="5" fill="#fff"/><rect x="1305.3" y="1429.0" width="1.8" height="3" fill="#fff"/><rect x="1323.7" y="1429.0" width="1.8" height="3" fill="#fff"/><rect x="1328.2" y="1430.0" width="1.8" height="6" fill="#fff"/><rect x="1331.0" y="1429.0" width="1.8" height="3" fill="#fff"/><rect x="1309.2" y="1438.0" width="1.8" height="3" fill="#fff"/><rect x="1319.3" y="1438.0" width="1.8" height="4" fill="#fff"/><rect x="1324.0" y="1440.0" width="1.8" height="4" fill="#fff"/><rect x="1313.0" y="1443.0" width="1.8" height="3" fill="#fff"/><rect x="1316.0" y="1442.0" width="1.8" height="3" fill="#fff"/><rect x="1320.6" y="1447.0" width="1.8" height="3" fill="#fff"/><rect x="1294.6" y="1443.0" width="1.8" height="3" fill="#fff"/><rect x="1297.1" y="1451.0" width="1.8" height="3" fill="#fff"/><rect x="1307.2" y="1455.0" width="1.8" height="3" fill="#fff"/><rect x="1327.5" y="1451.0" width="1.8" height="3" fill="#fff"/><rect x="1291.5" y="1461.0" width="1.8" height="4" fill="#fff"/><rect x="1293.5" y="1463.0" width="1.8" height="3" fill="#fff"/><rect x="1296.0" y="1461.0" width="1.8" height="3" fill="#fff"/><rect x="1299.5" y="1464.0" width="1.8" height="3" fill="#fff"/><rect x="1316.8" y="1460.0" width="1.8" height="3" fill="#fff"/><rect x="1321.2" y="1461.0" width="1.8" height="5" fill="#fff"/><rect x="1331.0" y="1459.0" width="1.8" height="5" fill="#fff"/><rect x="1291.5" y="1470.0" width="1.8" height="4" fill="#fff"/><rect x="1294.5" y="1470.0" width="1.8" height="4" fill="#fff"/><rect x="1300.5" y="1470.0" width="1.8" height="4" fill="#fff"/><rect x="1308.5" y="1470.0" width="1.8" height="4" fill="#fff"/><rect x="1313.5" y="1469.0" width="1.8" height="4" fill="#fff"/><rect x="1324.5" y="1470.0" width="1.8" height="4" fill="#fff"/><rect x="1330.0" y="1470.0" width="1.8" height="4" fill="#fff"/><rect x="1326.0" y="1463.0" width="1.8" height="3" fill="#fff"/>
</svg></body></html>
